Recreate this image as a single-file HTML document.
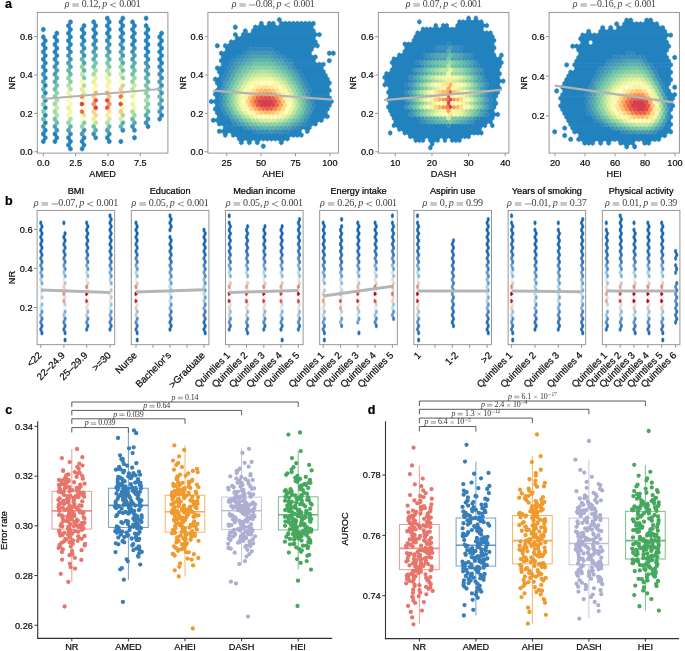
<!DOCTYPE html>
<html><head><meta charset="utf-8"><style>
html,body{margin:0;padding:0;background:#fff;width:685px;height:651px;overflow:hidden}
svg{display:block;will-change:transform}
.S{font-family:"Liberation Sans", sans-serif}
.R{font-family:"Liberation Serif", serif}
path[color]{fill:currentColor;stroke:currentColor;stroke-width:.5}
</style></head><body>
<svg width="685" height="651" viewBox="0 0 685 651">
<rect width="685" height="651" fill="#fff"/>
<path color="#2383be" d="M107.3 15.83l1.94 1.24v2.48l-1.94 1.24-1.94-1.24v-2.48zm15.52 0l1.94 1.24v2.48l-1.94 1.24-1.94-1.24v-2.48zm23.27 0l1.94 1.24v2.48l-1.94 1.24-1.94-1.24v-2.48zm-75.64 3.73l1.94 1.24v2.48l-1.94 1.24-1.94-1.24v-2.48zm23.28 0l1.94 1.24v2.48l-1.94 1.24-1.94-1.24v-2.48zm15.51 0l1.94 1.24v2.48l-1.94 1.24-1.94-1.24v-2.48zm11.64 0l1.94 1.24v2.48l-1.94 1.24-1.94-1.24v-2.48zm11.64 0l1.94 1.24v2.48l-1.94 1.24-1.94-1.24v-2.48zm-64.01 3.73l1.94 1.24v2.48l-1.94 1.24-1.94-1.24v-2.48zm15.52 0l1.94 1.24v2.48l-1.94 1.24-1.94-1.24v-2.48zm11.64 0l1.94 1.24v2.48l-1.94 1.24-1.94-1.24v-2.48zm11.63 0l1.94 1.24v2.48l-1.94 1.24-1.94-1.24v-2.48zm15.52 0l1.94 1.24v2.48l-1.94 1.24-1.94-1.24v-2.48zm11.64 0l1.94 1.24v2.48l-1.94 1.24-1.94-1.24v-2.48zm11.63 0l1.94 1.24v2.48l-1.94 1.24-1.94-1.24v-2.48zm-102.79 3.73l1.94 1.24v2.48l-1.94 1.24-1.94-1.24v-2.48zm27.15 0l1.94 1.24v2.48l-1.94 1.24-1.94-1.24v-2.48zm11.64 0l1.94 1.24v2.48l-1.94 1.24-1.94-1.24v-2.48zm11.64 0l1.94 1.24v2.48l-1.94 1.24-1.94-1.24v-2.48zm15.51 0l1.94 1.24v2.48l-1.94 1.24-1.94-1.24v-2.48zm11.64 0l1.94 1.24v2.48l-1.94 1.24-1.94-1.24v-2.48zm11.64 0l1.94 1.24v2.48l-1.94 1.24-1.94-1.24v-2.48zm15.51 0l1.94 1.24v2.48l-1.94 1.24-1.94-1.24v-2.48zm-91.15 3.73l1.94 1.24v2.48l-1.94 1.24-1.94-1.24v-2.48zm11.63 0l1.94 1.24v2.48l-1.94 1.24-1.94-1.24v-2.48zm15.52 0l1.94 1.24v2.48l-1.94 1.24-1.94-1.24v-2.48zm11.64 0l1.94 1.24v2.48l-1.94 1.24-1.94-1.24v-2.48zm11.63 0l1.94 1.24v2.48l-1.94 1.24-1.94-1.24v-2.48zm15.52 0l1.94 1.24v2.48l-1.94 1.24-1.94-1.24v-2.48zm11.64 0l1.94 1.24v2.48l-1.94 1.24-1.94-1.24v-2.48zm11.63 0l1.94 1.24v2.48l-1.94 1.24-1.94-1.24v-2.48zm15.52 0l1.94 1.24v2.48l-1.94 1.24-1.94-1.24v-2.48zm-118.31 3.73l1.94 1.24v2.48l-1.94 1.24-1.94-1.24v-2.48zm11.64 0l1.94 1.24v2.48l-1.94 1.24-1.94-1.24v-2.48zm15.51 0l1.94 1.24v2.48l-1.94 1.24-1.94-1.24v-2.48zm11.64 0l1.94 1.24v2.48l-1.94 1.24-1.94-1.24v-2.48zm11.64 0l1.94 1.24v2.48l-1.94 1.24-1.94-1.24v-2.48zm15.51 0l1.94 1.24v2.48l-1.94 1.24-1.94-1.24v-2.48zm23.28 0l1.94 1.24v2.48l-1.94 1.24-1.94-1.24v-2.48zm15.51 0l1.94 1.24v2.48l-1.94 1.24-1.94-1.24v-2.48zm11.64 0l1.94 1.24v2.48l-1.94 1.24-1.94-1.24v-2.48zm-114.43 3.73l1.94 1.24v2.48l-1.94 1.24-1.94-1.24v-2.48zm11.64 0l1.94 1.24v2.48l-1.94 1.24-1.94-1.24v-2.48zm11.63 0l1.94 1.24v2.48l-1.94 1.24-1.94-1.24v-2.48zm15.52 0l1.94 1.24v2.48l-1.94 1.24-1.94-1.24v-2.48zm38.79 0l1.94 1.24v2.48l-1.94 1.24-1.94-1.24v-2.48zm11.64 0l1.94 1.24v2.48l-1.94 1.24-1.94-1.24v-2.48zm11.63 0l1.94 1.24v2.48l-1.94 1.24-1.94-1.24v-2.48zm15.52 0l1.94 1.24v2.48l-1.94 1.24-1.94-1.24v-2.48zm-118.31 3.73l1.94 1.24v2.48l-1.94 1.24-1.94-1.24v-2.48zm11.64 0l1.94 1.24v2.48l-1.94 1.24-1.94-1.24v-2.48zm15.51 0l1.94 1.24v2.48l-1.94 1.24-1.94-1.24v-2.48zm62.07 0l1.94 1.24v2.48l-1.94 1.24-1.94-1.24v-2.48zm15.51 0l1.94 1.24v2.48l-1.94 1.24-1.94-1.24v-2.48zm11.64 0l1.94 1.24v2.48l-1.94 1.24-1.94-1.24v-2.48zm-114.43 3.73l1.94 1.24v2.48l-1.94 1.24-1.94-1.24v-2.48zm11.64 0l1.94 1.24v2.48l-1.94 1.24-1.94-1.24v-2.48zm89.21 0l1.94 1.24v2.48l-1.94 1.24-1.94-1.24v-2.48zm15.52 0l1.94 1.24v2.48l-1.94 1.24-1.94-1.24v-2.48zm-118.31 3.73l1.94 1.24v2.48l-1.94 1.24-1.94-1.24v-2.48zm11.64 0l1.94 1.24v2.48l-1.94 1.24-1.94-1.24v-2.48zm93.09 0l1.94 1.24v2.48l-1.94 1.24-1.94-1.24v-2.48zm11.64 0l1.94 1.24v2.48l-1.94 1.24-1.94-1.24v-2.48zm-114.43 3.73l1.94 1.24v2.48l-1.94 1.24-1.94-1.24v-2.48zm11.64 0l1.94 1.24v2.48l-1.94 1.24-1.94-1.24v-2.48zm104.73 0l1.94 1.24v2.48l-1.94 1.24-1.94-1.24v-2.48zm-118.31 3.73l1.94 1.24v2.48l-1.94 1.24-1.94-1.24v-2.48zm116.37 0l1.94 1.24v2.48l-1.94 1.24-1.94-1.24v-2.48zm-114.43 3.73l1.94 1.24v2.48l-1.94 1.24-1.94-1.24v-2.48zm116.37 0l1.94 1.24v2.48l-1.94 1.24-1.94-1.24v-2.48zm-116.37 7.46l1.94 1.24v2.48l-1.94 1.24-1.94-1.24v-2.48zm116.37 0l1.94 1.24v2.48l-1.94 1.24-1.94-1.24v-2.48zm-116.37 7.46l1.94 1.24v2.48l-1.94 1.24-1.94-1.24v-2.48zm0 7.46l1.94 1.24v2.48l-1.94 1.24-1.94-1.24v-2.48zm0 7.46l1.94 1.24v2.48l-1.94 1.24-1.94-1.24v-2.48zm0 7.46l1.94 1.24v2.48l-1.94 1.24-1.94-1.24v-2.48zm0 7.46l1.94 1.24v2.48l-1.94 1.24-1.94-1.24v-2.48zm0 7.46l1.94 1.24v2.48l-1.94 1.24-1.94-1.24v-2.48zm116.37 0l1.94 1.24v2.48l-1.94 1.24-1.94-1.24v-2.48zm-116.37 7.46l1.94 1.24v2.48l-1.94 1.24-1.94-1.24v-2.48zm102.79 3.73l1.94 1.24v2.48l-1.94 1.24-1.94-1.24v-2.48zm-102.79 3.73l1.94 1.24v2.48l-1.94 1.24-1.94-1.24v-2.48zm-1.94 3.73l1.94 1.24v2.48l-1.94 1.24-1.94-1.24v-2.48zm11.64 0l1.94 1.24v2.48l-1.94 1.24-1.94-1.24v-2.48zm-9.7 3.73l1.94 1.24v2.48l-1.94 1.24-1.94-1.24v-2.48zm11.64 0l1.94 1.24v2.48l-1.94 1.24-1.94-1.24v-2.48zm11.63 0l1.94 1.24v2.48l-1.94 1.24-1.94-1.24v-2.48zm15.52 0l1.94 1.24v2.48l-1.94 1.24-1.94-1.24v-2.48zm23.27 0l1.94 1.24v2.48l-1.94 1.24-1.94-1.24v-2.48zm27.16 0l1.94 1.24v2.48l-1.94 1.24-1.94-1.24v-2.48zm-91.16 3.73l1.94 1.24v2.48l-1.94 1.24-1.94-1.24v-2.48zm11.64 0l1.94 1.24v2.48l-1.94 1.24-1.94-1.24v-2.48zm15.51 0l1.94 1.24v2.48l-1.94 1.24-1.94-1.24v-2.48zm11.64 0l1.94 1.24v2.48l-1.94 1.24-1.94-1.24v-2.48zm27.15 0l1.94 1.24v2.48l-1.94 1.24-1.94-1.24v-2.48zm11.64 0l1.94 1.24v2.48l-1.94 1.24-1.94-1.24v-2.48zm-52.37 3.73l1.94 1.24v2.48l-1.94 1.24-1.94-1.24v-2.48zm15.52 0l1.94 1.24v2.48l-1.94 1.24-1.94-1.24v-2.48zm-13.58 3.73l1.94 1.24v2.48l-1.94 1.24-1.94-1.24v-2.48zm11.64 0l1.94 1.24v2.48l-1.94 1.24-1.94-1.24v-2.48z"/>
<path color="#3089bc" d="M120.88 34.48l1.94 1.24v2.48l-1.94 1.24-1.94-1.24v-2.48zm-25.21 3.73l1.94 1.24v2.48l-1.94 1.24-1.94-1.24v-2.48zm11.63 0l1.94 1.24v2.48l-1.94 1.24-1.94-1.24v-2.48zm-13.57 3.73l1.94 1.24v2.48l-1.94 1.24-1.94-1.24v-2.48zm-25.22 3.73l1.94 1.24v2.48l-1.94 1.24-1.94-1.24v-2.48zm15.52 0l1.94 1.24v2.48l-1.94 1.24-1.94-1.24v-2.48zm38.79 0l1.94 1.24v2.48l-1.94 1.24-1.94-1.24v-2.48zm-52.37 3.73l1.94 1.24v2.48l-1.94 1.24-1.94-1.24v-2.48zm75.64 3.73l1.94 1.24v2.48l-1.94 1.24-1.94-1.24v-2.48zm-91.15 3.73l1.94 1.24v2.48l-1.94 1.24-1.94-1.24v-2.48zm93.09 0l1.94 1.24v2.48l-1.94 1.24-1.94-1.24v-2.48zm-104.73 7.46l1.94 1.24v2.48l-1.94 1.24-1.94-1.24v-2.48zm116.37 0l1.94 1.24v2.48l-1.94 1.24-1.94-1.24v-2.48zm1.94 11.19l1.94 1.24v2.48l-1.94 1.24-1.94-1.24v-2.48zm-1.94 41.03l1.94 1.24v2.48l-1.94 1.24-1.94-1.24v-2.48zm-36.85 11.19l1.94 1.24v2.48l-1.94 1.24-1.94-1.24v-2.48zm11.64 0l1.94 1.24v2.48l-1.94 1.24-1.94-1.24v-2.48zm-64.01 3.73l1.94 1.24v2.48l-1.94 1.24-1.94-1.24v-2.48zm38.79 0l1.94 1.24v2.48l-1.94 1.24-1.94-1.24v-2.48zm-13.57 3.73l1.94 1.24v2.48l-1.94 1.24-1.94-1.24v-2.48z"/>
<path color="#3a8fb9" d="M82.09 41.94l1.94 1.24v2.48l-1.94 1.24-1.94-1.24v-2.48zm27.15 0l1.94 1.24v2.48l-1.94 1.24-1.94-1.24v-2.48zm25.22 3.73l1.94 1.24v2.48l-1.94 1.24-1.94-1.24v-2.48zm-1.94 3.73l1.94 1.24v2.48l-1.94 1.24-1.94-1.24v-2.48zm-48.49 3.73l1.94 1.24v2.48l-1.94 1.24-1.94-1.24v-2.48zm-27.15 7.46l1.94 1.24v2.48l-1.94 1.24-1.94-1.24v-2.48zm-1.94 3.73l1.94 1.24v2.48l-1.94 1.24-1.94-1.24v-2.48zm-11.64 7.46l1.94 1.24v2.48l-1.94 1.24-1.94-1.24v-2.48zm118.31 11.19l1.94 1.24v2.48l-1.94 1.24-1.94-1.24v-2.48zm0 22.38l1.94 1.24v2.48l-1.94 1.24-1.94-1.24v-2.48zm-15.52 14.92l1.94 1.24v2.48l-1.94 1.24-1.94-1.24v-2.48zm-13.57 3.73l1.94 1.24v2.48l-1.94 1.24-1.94-1.24v-2.48zm-38.79 7.46l1.94 1.24v2.48l-1.94 1.24-1.94-1.24v-2.48z"/>
<path color="#4295b7" d="M120.88 41.94l1.94 1.24v2.48l-1.94 1.24-1.94-1.24v-2.48zm-25.21 3.73l1.94 1.24v2.48l-1.94 1.24-1.94-1.24v-2.48zm-27.16 7.46l1.94 1.24v2.48l-1.94 1.24-1.94-1.24v-2.48zm54.31 0l1.94 1.24v2.48l-1.94 1.24-1.94-1.24v-2.48zm-52.37 3.73l1.94 1.24v2.48l-1.94 1.24-1.94-1.24v-2.48zm75.64 3.73l1.94 1.24v2.48l-1.94 1.24-1.94-1.24v-2.48zm1.94 3.73l1.94 1.24v2.48l-1.94 1.24-1.94-1.24v-2.48zm11.64 7.46l1.94 1.24v2.48l-1.94 1.24-1.94-1.24v-2.48zm1.94 18.65l1.94 1.24v2.48l-1.94 1.24-1.94-1.24v-2.48zm-13.58 26.11l1.94 1.24v2.48l-1.94 1.24-1.94-1.24v-2.48zm-104.73 7.46l1.94 1.24v2.48l-1.94 1.24-1.94-1.24v-2.48zm13.58 3.73l1.94 1.24v2.48l-1.94 1.24-1.94-1.24v-2.48zm27.15 0l1.94 1.24v2.48l-1.94 1.24-1.94-1.24v-2.48z"/>
<path color="#499cb5" d="M107.3 45.67l1.94 1.24v2.48l-1.94 1.24-1.94-1.24v-2.48zm-25.21 3.73l1.94 1.24v2.48l-1.94 1.24-1.94-1.24v-2.48zm11.64 0l1.94 1.24v2.48l-1.94 1.24-1.94-1.24v-2.48zm15.51 0l1.94 1.24v2.48l-1.94 1.24-1.94-1.24v-2.48zm25.22 3.73l1.94 1.24v2.48l-1.94 1.24-1.94-1.24v-2.48zm-1.94 3.73l1.94 1.24v2.48l-1.94 1.24-1.94-1.24v-2.48zm-75.64 11.19l1.94 1.24v2.48l-1.94 1.24-1.94-1.24v-2.48zm-1.94 3.73l1.94 1.24v2.48l-1.94 1.24-1.94-1.24v-2.48zm-11.64 7.46l1.94 1.24v2.48l-1.94 1.24-1.94-1.24v-2.48zm118.31 18.65l1.94 1.24v2.48l-1.94 1.24-1.94-1.24v-2.48zm-1.94 11.19l1.94 1.24v2.48l-1.94 1.24-1.94-1.24v-2.48zm-104.73 14.92l1.94 1.24v2.48l-1.94 1.24-1.94-1.24v-2.48zm27.15 7.46l1.94 1.24v2.48l-1.94 1.24-1.94-1.24v-2.48z"/>
<path color="#4fa2b2" d="M68.51 60.59l1.94 1.24v2.48l-1.94 1.24-1.94-1.24v-2.48zm15.52 0l1.94 1.24v2.48l-1.94 1.24-1.94-1.24v-2.48zm-13.58 3.73l1.94 1.24v2.48l-1.94 1.24-1.94-1.24v-2.48zm75.64 3.73l1.94 1.24v2.48l-1.94 1.24-1.94-1.24v-2.48zm1.94 3.73l1.94 1.24v2.48l-1.94 1.24-1.94-1.24v-2.48zm11.64 7.46l1.94 1.24v2.48l-1.94 1.24-1.94-1.24v-2.48zm-91.16 48.49l1.94 1.24v2.48l-1.94 1.24-1.94-1.24v-2.48zm38.79 0l1.94 1.24v2.48l-1.94 1.24-1.94-1.24v-2.48z"/>
<path color="#55a8b0" d="M120.88 49.4l1.94 1.24v2.48l-1.94 1.24-1.94-1.24v-2.48zm1.94 11.19l1.94 1.24v2.48l-1.94 1.24-1.94-1.24v-2.48zm11.64 59.68l1.94 1.24v2.48l-1.94 1.24-1.94-1.24v-2.48z"/>
<path color="#5aafad" d="M95.67 53.13l1.94 1.24v2.48l-1.94 1.24-1.94-1.24v-2.48zm11.63 0l1.94 1.24v2.48l-1.94 1.24-1.94-1.24v-2.48zm-13.57 3.73l1.94 1.24v2.48l-1.94 1.24-1.94-1.24v-2.48zm40.73 3.73l1.94 1.24v2.48l-1.94 1.24-1.94-1.24v-2.48zm-1.94 3.73l1.94 1.24v2.48l-1.94 1.24-1.94-1.24v-2.48zm-75.64 11.19l1.94 1.24v2.48l-1.94 1.24-1.94-1.24v-2.48zm-1.94 3.73l1.94 1.24v2.48l-1.94 1.24-1.94-1.24v-2.48zm-11.64 7.46l1.94 1.24v2.48l-1.94 1.24-1.94-1.24v-2.48zm116.37 0l1.94 1.24v2.48l-1.94 1.24-1.94-1.24v-2.48zm-13.58 26.11l1.94 1.24v2.48l-1.94 1.24-1.94-1.24v-2.48zm-23.27 7.46l1.94 1.24v2.48l-1.94 1.24-1.94-1.24v-2.48zm-27.15 7.46l1.94 1.24v2.48l-1.94 1.24-1.94-1.24v-2.48z"/>
<path color="#5eb5ab" d="M82.09 56.86l1.94 1.24v2.48l-1.94 1.24-1.94-1.24v-2.48zm27.15 0l1.94 1.24v2.48l-1.94 1.24-1.94-1.24v-2.48zm-25.21 11.19l1.94 1.24v2.48l-1.94 1.24-1.94-1.24v-2.48zm62.06 7.46l1.94 1.24v2.48l-1.94 1.24-1.94-1.24v-2.48zm1.94 3.73l1.94 1.24v2.48l-1.94 1.24-1.94-1.24v-2.48zm11.64 22.38l1.94 1.24v2.48l-1.94 1.24-1.94-1.24v-2.48zm-11.64 7.46l1.94 1.24v2.48l-1.94 1.24-1.94-1.24v-2.48zm-77.58 14.92l1.94 1.24v2.48l-1.94 1.24-1.94-1.24v-2.48z"/>
<path color="#62bba8" d="M68.51 68.05l1.94 1.24v2.48l-1.94 1.24-1.94-1.24v-2.48zm1.94 3.73l1.94 1.24v2.48l-1.94 1.24-1.94-1.24v-2.48zm89.22 22.38l1.94 1.24v2.48l-1.94 1.24-1.94-1.24v-2.48zm-116.37 22.38l1.94 1.24v2.48l-1.94 1.24-1.94-1.24v-2.48zm89.22 0l1.94 1.24v2.48l-1.94 1.24-1.94-1.24v-2.48zm-23.28 7.46l1.94 1.24v2.48l-1.94 1.24-1.94-1.24v-2.48zm11.64 0l1.94 1.24v2.48l-1.94 1.24-1.94-1.24v-2.48z"/>
<path color="#66c2a5" d="M120.88 56.86l1.94 1.24v2.48l-1.94 1.24-1.94-1.24v-2.48zm1.94 11.19l1.94 1.24v2.48l-1.94 1.24-1.94-1.24v-2.48zm-67.88 18.65l1.94 1.24v2.48l-1.94 1.24-1.94-1.24v-2.48zm-11.64 7.46l1.94 1.24v2.48l-1.94 1.24-1.94-1.24v-2.48zm13.58 26.11l1.94 1.24v2.48l-1.94 1.24-1.94-1.24v-2.48zm36.85 3.73l1.94 1.24v2.48l-1.94 1.24-1.94-1.24v-2.48z"/>
<path color="#6ec5a5" d="M134.46 68.05l1.94 1.24v2.48l-1.94 1.24-1.94-1.24v-2.48zm-1.94 3.73l1.94 1.24v2.48l-1.94 1.24-1.94-1.24v-2.48zm-75.64 11.19l1.94 1.24v2.48l-1.94 1.24-1.94-1.24v-2.48zm91.15 3.73l1.94 1.24v2.48l-1.94 1.24-1.94-1.24v-2.48zm-93.09 29.84l1.94 1.24v2.48l-1.94 1.24-1.94-1.24v-2.48z"/>
<path color="#76c7a5" d="M95.67 60.59l1.94 1.24v2.48l-1.94 1.24-1.94-1.24v-2.48zm-1.94 3.73l1.94 1.24v2.48l-1.94 1.24-1.94-1.24v-2.48zm52.36 18.65l1.94 1.24v2.48l-1.94 1.24-1.94-1.24v-2.48z"/>
<path color="#7dcaa5" d="M107.3 60.59l1.94 1.24v2.48l-1.94 1.24-1.94-1.24v-2.48zm1.94 3.73l1.94 1.24v2.48l-1.94 1.24-1.94-1.24v-2.48zm-25.21 11.19l1.94 1.24v2.48l-1.94 1.24-1.94-1.24v-2.48zm-40.73 26.11l1.94 1.24v2.48l-1.94 1.24-1.94-1.24v-2.48zm40.73 18.65l1.94 1.24v2.48l-1.94 1.24-1.94-1.24v-2.48z"/>
<path color="#84cda5" d="M82.09 64.32l1.94 1.24v2.48l-1.94 1.24-1.94-1.24v-2.48zm-11.64 14.92l1.94 1.24v2.48l-1.94 1.24-1.94-1.24v-2.48zm-15.51 14.92l1.94 1.24v2.48l-1.94 1.24-1.94-1.24v-2.48zm93.09 0l1.94 1.24v2.48l-1.94 1.24-1.94-1.24v-2.48zm0 7.46l1.94 1.24v2.48l-1.94 1.24-1.94-1.24v-2.48zm-104.73 7.46l1.94 1.24v2.48l-1.94 1.24-1.94-1.24v-2.48z"/>
<path color="#8bcfa5" d="M68.51 75.51l1.94 1.24v2.48l-1.94 1.24-1.94-1.24v-2.48zm54.31 0l1.94 1.24v2.48l-1.94 1.24-1.94-1.24v-2.48zm23.27 29.84l1.94 1.24v2.48l-1.94 1.24-1.94-1.24v-2.48z"/>
<path color="#91d2a5" d="M132.52 79.24l1.94 1.24v2.48l-1.94 1.24-1.94-1.24v-2.48zm-75.64 11.19l1.94 1.24v2.48l-1.94 1.24-1.94-1.24v-2.48zm89.21 0l1.94 1.24v2.48l-1.94 1.24-1.94-1.24v-2.48zm-64 33.57l1.94 1.24v2.48l-1.94 1.24-1.94-1.24v-2.48z"/>
<path color="#98d5a4" d="M120.88 64.32l1.94 1.24v2.48l-1.94 1.24-1.94-1.24v-2.48zm13.58 11.19l1.94 1.24v2.48l-1.94 1.24-1.94-1.24v-2.48zm-65.95 44.76l1.94 1.24v2.48l-1.94 1.24-1.94-1.24v-2.48z"/>
<path color="#9ed8a4" d="M54.94 101.62l1.94 1.24v2.48l-1.94 1.24-1.94-1.24v-2.48zm0 7.46l1.94 1.24v2.48l-1.94 1.24-1.94-1.24v-2.48zm79.52 3.73l1.94 1.24v2.48l-1.94 1.24-1.94-1.24v-2.48z"/>
<path color="#a5daa4" d="M93.73 71.78l1.94 1.24v2.48l-1.94 1.24-1.94-1.24v-2.48zm52.36 26.11l1.94 1.24v2.48l-1.94 1.24-1.94-1.24v-2.48zm-23.27 14.92l1.94 1.24v2.48l-1.94 1.24-1.94-1.24v-2.48z"/>
<path color="#abdda4" d="M95.67 68.05l1.94 1.24v2.48l-1.94 1.24-1.94-1.24v-2.48zm-11.64 14.92l1.94 1.24v2.48l-1.94 1.24-1.94-1.24v-2.48zm48.49 26.11l1.94 1.24v2.48l-1.94 1.24-1.94-1.24v-2.48zm-75.64 3.73l1.94 1.24v2.48l-1.94 1.24-1.94-1.24v-2.48zm13.57 3.73l1.94 1.24v2.48l-1.94 1.24-1.94-1.24v-2.48zm36.85 3.73l1.94 1.24v2.48l-1.94 1.24-1.94-1.24v-2.48z"/>
<path color="#b1dfa3" d="M107.3 68.05l1.94 1.24v2.48l-1.94 1.24-1.94-1.24v-2.48zm1.94 3.73l1.94 1.24v2.48l-1.94 1.24-1.94-1.24v-2.48zm-38.79 14.92l1.94 1.24v2.48l-1.94 1.24-1.94-1.24v-2.48zm-13.57 11.19l1.94 1.24v2.48l-1.94 1.24-1.94-1.24v-2.48z"/>
<path color="#b7e2a2" d="M68.51 82.97l1.94 1.24v2.48l-1.94 1.24-1.94-1.24v-2.48zm54.31 0l1.94 1.24v2.48l-1.94 1.24-1.94-1.24v-2.48z"/>
<path color="#bde4a1" d="M82.09 71.78l1.94 1.24v2.48l-1.94 1.24-1.94-1.24v-2.48zm50.43 14.92l1.94 1.24v2.48l-1.94 1.24-1.94-1.24v-2.48zm-36.85 33.57l1.94 1.24v2.48l-1.94 1.24-1.94-1.24v-2.48z"/>
<path color="#c9e99e" d="M134.46 82.97l1.94 1.24v2.48l-1.94 1.24-1.94-1.24v-2.48zm-77.58 22.38l1.94 1.24v2.48l-1.94 1.24-1.94-1.24v-2.48zm52.36 11.19l1.94 1.24v2.48l-1.94 1.24-1.94-1.24v-2.48z"/>
<path color="#cfeb9d" d="M120.88 71.78l1.94 1.24v2.48l-1.94 1.24-1.94-1.24v-2.48z"/>
<path color="#d53e4f" d="M82.09 101.62l1.94 1.24v2.48l-1.94 1.24-1.94-1.24v-2.48z"/>
<path color="#d5ee9c" d="M84.03 112.81l1.94 1.24v2.48l-1.94 1.24-1.94-1.24v-2.48zm36.85 3.73l1.94 1.24v2.48l-1.94 1.24-1.94-1.24v-2.48z"/>
<path color="#d8434e" d="M95.67 105.35l1.94 1.24v2.48l-1.94 1.24-1.94-1.24v-2.48z"/>
<path color="#db484d" d="M107.3 97.89l1.94 1.24v2.48l-1.94 1.24-1.94-1.24v-2.48z"/>
<path color="#dbf09b" d="M84.03 90.43l1.94 1.24v2.48l-1.94 1.24-1.94-1.24v-2.48z"/>
<path color="#de4d4c" d="M120.88 101.62l1.94 1.24v2.48l-1.94 1.24-1.94-1.24v-2.48z"/>
<path color="#e0f399" d="M93.73 79.24l1.94 1.24v2.48l-1.94 1.24-1.94-1.24v-2.48zm-23.28 14.92l1.94 1.24v2.48l-1.94 1.24-1.94-1.24v-2.48zm62.07 0l1.94 1.24v2.48l-1.94 1.24-1.94-1.24v-2.48zm-38.79 22.38l1.94 1.24v2.48l-1.94 1.24-1.94-1.24v-2.48z"/>
<path color="#e2524b" d="M95.67 97.89l1.94 1.24v2.48l-1.94 1.24-1.94-1.24v-2.48zm11.63 7.46l1.94 1.24v2.48l-1.94 1.24-1.94-1.24v-2.48z"/>
<path color="#e6f598" d="M95.67 75.51l1.94 1.24v2.48l-1.94 1.24-1.94-1.24v-2.48zm27.15 14.92l1.94 1.24v2.48l-1.94 1.24-1.94-1.24v-2.48z"/>
<path color="#e9f69c" d="M109.24 79.24l1.94 1.24v2.48l-1.94 1.24-1.94-1.24v-2.48zm23.28 22.38l1.94 1.24v2.48l-1.94 1.24-1.94-1.24v-2.48z"/>
<path color="#ebf7a0" d="M107.3 75.51l1.94 1.24v2.48l-1.94 1.24-1.94-1.24v-2.48zm-38.79 14.92l1.94 1.24v2.48l-1.94 1.24-1.94-1.24v-2.48z"/>
<path color="#eef8a4" d="M134.46 90.43l1.94 1.24v2.48l-1.94 1.24-1.94-1.24v-2.48z"/>
<path color="#f0f9a8" d="M122.82 105.35l1.94 1.24v2.48l-1.94 1.24-1.94-1.24v-2.48zm11.64 0l1.94 1.24v2.48l-1.94 1.24-1.94-1.24v-2.48zm-64.01 3.73l1.94 1.24v2.48l-1.94 1.24-1.94-1.24v-2.48z"/>
<path color="#f16944" d="M82.09 109.08l1.94 1.24v2.48l-1.94 1.24-1.94-1.24v-2.48z"/>
<path color="#f3faac" d="M82.09 79.24l1.94 1.24v2.48l-1.94 1.24-1.94-1.24v-2.48zm-13.58 33.57l1.94 1.24v2.48l-1.94 1.24-1.94-1.24v-2.48z"/>
<path color="#f57446" d="M120.88 94.16l1.94 1.24v2.48l-1.94 1.24-1.94-1.24v-2.48z"/>
<path color="#f5fbaf" d="M84.03 97.89l1.94 1.24v2.48l-1.94 1.24-1.94-1.24v-2.48zm-13.58 3.73l1.94 1.24v2.48l-1.94 1.24-1.94-1.24v-2.48z"/>
<path color="#f8884f" d="M82.09 94.16l1.94 1.24v2.48l-1.94 1.24-1.94-1.24v-2.48z"/>
<path color="#f8fcb3" d="M122.82 97.89l1.94 1.24v2.48l-1.94 1.24-1.94-1.24v-2.48z"/>
<path color="#f98f52" d="M93.73 101.62l1.94 1.24v2.48l-1.94 1.24-1.94-1.24v-2.48zm15.51 0l1.94 1.24v2.48l-1.94 1.24-1.94-1.24v-2.48z"/>
<path color="#fb9b58" d="M107.3 90.43l1.94 1.24v2.48l-1.94 1.24-1.94-1.24v-2.48z"/>
<path color="#fdae61" d="M95.67 90.43l1.94 1.24v2.48l-1.94 1.24-1.94-1.24v-2.48z"/>
<path color="#fdfebb" d="M120.88 79.24l1.94 1.24v2.48l-1.94 1.24-1.94-1.24v-2.48z"/>
<path color="#fec272" d="M109.24 94.16l1.94 1.24v2.48l-1.94 1.24-1.94-1.24v-2.48z"/>
<path color="#fec776" d="M120.88 109.08l1.94 1.24v2.48l-1.94 1.24-1.94-1.24v-2.48z"/>
<path color="#fecc7a" d="M120.88 86.7l1.94 1.24v2.48l-1.94 1.24-1.94-1.24v-2.48zm-27.15 7.46l1.94 1.24v2.48l-1.94 1.24-1.94-1.24v-2.48z"/>
<path color="#fed17e" d="M93.73 109.08l1.94 1.24v2.48l-1.94 1.24-1.94-1.24v-2.48z"/>
<path color="#fed682" d="M95.67 112.81l1.94 1.24v2.48l-1.94 1.24-1.94-1.24v-2.48z"/>
<path color="#fee08b" d="M82.09 86.7l1.94 1.24v2.48l-1.94 1.24-1.94-1.24v-2.48zm27.15 22.38l1.94 1.24v2.48l-1.94 1.24-1.94-1.24v-2.48z"/>
<path color="#ffe99b" d="M68.51 105.35l1.94 1.24v2.48l-1.94 1.24-1.94-1.24v-2.48zm38.79 7.46l1.94 1.24v2.48l-1.94 1.24-1.94-1.24v-2.48z"/>
<path color="#ffeca0" d="M107.3 82.97l1.94 1.24v2.48l-1.94 1.24-1.94-1.24v-2.48z"/>
<path color="#fff3aa" d="M95.67 82.97l1.94 1.24v2.48l-1.94 1.24-1.94-1.24v-2.48z"/>
<path color="#fff6af" d="M109.24 86.7l1.94 1.24v2.48l-1.94 1.24-1.94-1.24v-2.48z"/>
<path color="#fffcba" d="M93.73 86.7l1.94 1.24v2.48l-1.94 1.24-1.94-1.24v-2.48zm-25.22 11.19l1.94 1.24v2.48l-1.94 1.24-1.94-1.24v-2.48zm13.58 18.65l1.94 1.24v2.48l-1.94 1.24-1.94-1.24v-2.48z"/>
<path color="#ffffbf" d="M134.46 97.89l1.94 1.24v2.48l-1.94 1.24-1.94-1.24v-2.48zm-50.43 7.46l1.94 1.24v2.48l-1.94 1.24-1.94-1.24v-2.48z"/>
<path color="#2383be" d="M279.3 17.27l2 1.23v2.47l-2 1.23-2-1.23v-2.47zm-18 3.72l2 1.23v2.47l-2 1.23-2-1.23v-2.47zm8 0l2 1.23v2.47l-2 1.23-2-1.23v-2.47zm4 0l2 1.23v2.47l-2 1.23-2-1.23v-2.47zm8 0l2 1.23v2.47l-2 1.23-2-1.23v-2.47zm4 0l2 1.23v2.47l-2 1.23-2-1.23v-2.47zm4 0l2 1.23v2.47l-2 1.23-2-1.23v-2.47zm4 0l2 1.23v2.47l-2 1.23-2-1.23v-2.47zm4 0l2 1.23v2.47l-2 1.23-2-1.23v-2.47zm4 0l2 1.23v2.47l-2 1.23-2-1.23v-2.47zm4 0l2 1.23v2.47l-2 1.23-2-1.23v-2.47zm4 0l2 1.23v2.47l-2 1.23-2-1.23v-2.47zm4 0l2 1.23v2.47l-2 1.23-2-1.23v-2.47zm-78 3.72l2 1.23v2.47l-2 1.23-2-1.23v-2.47zm20 0l2 1.23v2.47l-2 1.23-2-1.23v-2.47zm4 0l2 1.23v2.47l-2 1.23-2-1.23v-2.47zm4 0l2 1.23v2.47l-2 1.23-2-1.23v-2.47zm4 0l2 1.23v2.47l-2 1.23-2-1.23v-2.47zm4 0l2 1.23v2.47l-2 1.23-2-1.23v-2.47zm4 0l2 1.23v2.47l-2 1.23-2-1.23v-2.47zm4 0l2 1.23v2.47l-2 1.23-2-1.23v-2.47zm4 0l2 1.23v2.47l-2 1.23-2-1.23v-2.47zm4 0l2 1.23v2.47l-2 1.23-2-1.23v-2.47zm4 0l2 1.23v2.47l-2 1.23-2-1.23v-2.47zm4 0l2 1.23v2.47l-2 1.23-2-1.23v-2.47zm4 0l2 1.23v2.47l-2 1.23-2-1.23v-2.47zm4 0l2 1.23v2.47l-2 1.23-2-1.23v-2.47zm4 0l2 1.23v2.47l-2 1.23-2-1.23v-2.47zm4 0l2 1.23v2.47l-2 1.23-2-1.23v-2.47zm-66 3.72l2 1.23v2.47l-2 1.23-2-1.23v-2.47zm8 0l2 1.23v2.47l-2 1.23-2-1.23v-2.47zm4 0l2 1.23v2.47l-2 1.23-2-1.23v-2.47zm4 0l2 1.23v2.47l-2 1.23-2-1.23v-2.47zm4 0l2 1.23v2.47l-2 1.23-2-1.23v-2.47zm4 0l2 1.23v2.47l-2 1.23-2-1.23v-2.47zm4 0l2 1.23v2.47l-2 1.23-2-1.23v-2.47zm4 0l2 1.23v2.47l-2 1.23-2-1.23v-2.47zm4 0l2 1.23v2.47l-2 1.23-2-1.23v-2.47zm4 0l2 1.23v2.47l-2 1.23-2-1.23v-2.47zm4 0l2 1.23v2.47l-2 1.23-2-1.23v-2.47zm4 0l2 1.23v2.47l-2 1.23-2-1.23v-2.47zm4 0l2 1.23v2.47l-2 1.23-2-1.23v-2.47zm4 0l2 1.23v2.47l-2 1.23-2-1.23v-2.47zm4 0l2 1.23v2.47l-2 1.23-2-1.23v-2.47zm4 0l2 1.23v2.47l-2 1.23-2-1.23v-2.47zm4 0l2 1.23v2.47l-2 1.23-2-1.23v-2.47zm-78 3.72l2 1.23v2.47l-2 1.23-2-1.23v-2.47zm8 0l2 1.23v2.47l-2 1.23-2-1.23v-2.47zm4 0l2 1.23v2.47l-2 1.23-2-1.23v-2.47zm4 0l2 1.23v2.47l-2 1.23-2-1.23v-2.47zm4 0l2 1.23v2.47l-2 1.23-2-1.23v-2.47zm4 0l2 1.23v2.47l-2 1.23-2-1.23v-2.47zm4 0l2 1.23v2.47l-2 1.23-2-1.23v-2.47zm4 0l2 1.23v2.47l-2 1.23-2-1.23v-2.47zm4 0l2 1.23v2.47l-2 1.23-2-1.23v-2.47zm4 0l2 1.23v2.47l-2 1.23-2-1.23v-2.47zm4 0l2 1.23v2.47l-2 1.23-2-1.23v-2.47zm4 0l2 1.23v2.47l-2 1.23-2-1.23v-2.47zm4 0l2 1.23v2.47l-2 1.23-2-1.23v-2.47zm4 0l2 1.23v2.47l-2 1.23-2-1.23v-2.47zm4 0l2 1.23v2.47l-2 1.23-2-1.23v-2.47zm4 0l2 1.23v2.47l-2 1.23-2-1.23v-2.47zm4 0l2 1.23v2.47l-2 1.23-2-1.23v-2.47zm4 0l2 1.23v2.47l-2 1.23-2-1.23v-2.47zm4 0l2 1.23v2.47l-2 1.23-2-1.23v-2.47zm4 0l2 1.23v2.47l-2 1.23-2-1.23v-2.47zm4 0l2 1.23v2.47l-2 1.23-2-1.23v-2.47zm-82 3.72l2 1.23v2.47l-2 1.23-2-1.23v-2.47zm4 0l2 1.23v2.47l-2 1.23-2-1.23v-2.47zm4 0l2 1.23v2.47l-2 1.23-2-1.23v-2.47zm4 0l2 1.23v2.47l-2 1.23-2-1.23v-2.47zm4 0l2 1.23v2.47l-2 1.23-2-1.23v-2.47zm4 0l2 1.23v2.47l-2 1.23-2-1.23v-2.47zm4 0l2 1.23v2.47l-2 1.23-2-1.23v-2.47zm4 0l2 1.23v2.47l-2 1.23-2-1.23v-2.47zm4 0l2 1.23v2.47l-2 1.23-2-1.23v-2.47zm4 0l2 1.23v2.47l-2 1.23-2-1.23v-2.47zm4 0l2 1.23v2.47l-2 1.23-2-1.23v-2.47zm4 0l2 1.23v2.47l-2 1.23-2-1.23v-2.47zm4 0l2 1.23v2.47l-2 1.23-2-1.23v-2.47zm4 0l2 1.23v2.47l-2 1.23-2-1.23v-2.47zm4 0l2 1.23v2.47l-2 1.23-2-1.23v-2.47zm4 0l2 1.23v2.47l-2 1.23-2-1.23v-2.47zm4 0l2 1.23v2.47l-2 1.23-2-1.23v-2.47zm4 0l2 1.23v2.47l-2 1.23-2-1.23v-2.47zm4 0l2 1.23v2.47l-2 1.23-2-1.23v-2.47zm4 0l2 1.23v2.47l-2 1.23-2-1.23v-2.47zm-82 3.72l2 1.23v2.47l-2 1.23-2-1.23v-2.47zm4 0l2 1.23v2.47l-2 1.23-2-1.23v-2.47zm4 0l2 1.23v2.47l-2 1.23-2-1.23v-2.47zm4 0l2 1.23v2.47l-2 1.23-2-1.23v-2.47zm4 0l2 1.23v2.47l-2 1.23-2-1.23v-2.47zm4 0l2 1.23v2.47l-2 1.23-2-1.23v-2.47zm4 0l2 1.23v2.47l-2 1.23-2-1.23v-2.47zm4 0l2 1.23v2.47l-2 1.23-2-1.23v-2.47zm4 0l2 1.23v2.47l-2 1.23-2-1.23v-2.47zm4 0l2 1.23v2.47l-2 1.23-2-1.23v-2.47zm4 0l2 1.23v2.47l-2 1.23-2-1.23v-2.47zm4 0l2 1.23v2.47l-2 1.23-2-1.23v-2.47zm4 0l2 1.23v2.47l-2 1.23-2-1.23v-2.47zm4 0l2 1.23v2.47l-2 1.23-2-1.23v-2.47zm4 0l2 1.23v2.47l-2 1.23-2-1.23v-2.47zm4 0l2 1.23v2.47l-2 1.23-2-1.23v-2.47zm4 0l2 1.23v2.47l-2 1.23-2-1.23v-2.47zm4 0l2 1.23v2.47l-2 1.23-2-1.23v-2.47zm4 0l2 1.23v2.47l-2 1.23-2-1.23v-2.47zm4 0l2 1.23v2.47l-2 1.23-2-1.23v-2.47zm4 0l2 1.23v2.47l-2 1.23-2-1.23v-2.47zm4 0l2 1.23v2.47l-2 1.23-2-1.23v-2.47zm-98 3.72l2 1.23v2.47l-2 1.23-2-1.23v-2.47zm8 0l2 1.23v2.47l-2 1.23-2-1.23v-2.47zm4 0l2 1.23v2.47l-2 1.23-2-1.23v-2.47zm4 0l2 1.23v2.47l-2 1.23-2-1.23v-2.47zm4 0l2 1.23v2.47l-2 1.23-2-1.23v-2.47zm4 0l2 1.23v2.47l-2 1.23-2-1.23v-2.47zm4 0l2 1.23v2.47l-2 1.23-2-1.23v-2.47zm4 0l2 1.23v2.47l-2 1.23-2-1.23v-2.47zm4 0l2 1.23v2.47l-2 1.23-2-1.23v-2.47zm4 0l2 1.23v2.47l-2 1.23-2-1.23v-2.47zm4 0l2 1.23v2.47l-2 1.23-2-1.23v-2.47zm4 0l2 1.23v2.47l-2 1.23-2-1.23v-2.47zm4 0l2 1.23v2.47l-2 1.23-2-1.23v-2.47zm4 0l2 1.23v2.47l-2 1.23-2-1.23v-2.47zm4 0l2 1.23v2.47l-2 1.23-2-1.23v-2.47zm4 0l2 1.23v2.47l-2 1.23-2-1.23v-2.47zm4 0l2 1.23v2.47l-2 1.23-2-1.23v-2.47zm4 0l2 1.23v2.47l-2 1.23-2-1.23v-2.47zm4 0l2 1.23v2.47l-2 1.23-2-1.23v-2.47zm4 0l2 1.23v2.47l-2 1.23-2-1.23v-2.47zm4 0l2 1.23v2.47l-2 1.23-2-1.23v-2.47zm4 0l2 1.23v2.47l-2 1.23-2-1.23v-2.47zm4 0l2 1.23v2.47l-2 1.23-2-1.23v-2.47zm4 0l2 1.23v2.47l-2 1.23-2-1.23v-2.47zm4 0l2 1.23v2.47l-2 1.23-2-1.23v-2.47zm-90 3.72l2 1.23v2.47l-2 1.23-2-1.23v-2.47zm4 0l2 1.23v2.47l-2 1.23-2-1.23v-2.47zm4 0l2 1.23v2.47l-2 1.23-2-1.23v-2.47zm4 0l2 1.23v2.47l-2 1.23-2-1.23v-2.47zm4 0l2 1.23v2.47l-2 1.23-2-1.23v-2.47zm4 0l2 1.23v2.47l-2 1.23-2-1.23v-2.47zm28 0l2 1.23v2.47l-2 1.23-2-1.23v-2.47zm4 0l2 1.23v2.47l-2 1.23-2-1.23v-2.47zm4 0l2 1.23v2.47l-2 1.23-2-1.23v-2.47zm4 0l2 1.23v2.47l-2 1.23-2-1.23v-2.47zm4 0l2 1.23v2.47l-2 1.23-2-1.23v-2.47zm4 0l2 1.23v2.47l-2 1.23-2-1.23v-2.47zm4 0l2 1.23v2.47l-2 1.23-2-1.23v-2.47zm4 0l2 1.23v2.47l-2 1.23-2-1.23v-2.47zm4 0l2 1.23v2.47l-2 1.23-2-1.23v-2.47zm4 0l2 1.23v2.47l-2 1.23-2-1.23v-2.47zm-90 3.72l2 1.23v2.47l-2 1.23-2-1.23v-2.47zm4 0l2 1.23v2.47l-2 1.23-2-1.23v-2.47zm4 0l2 1.23v2.47l-2 1.23-2-1.23v-2.47zm4 0l2 1.23v2.47l-2 1.23-2-1.23v-2.47zm4 0l2 1.23v2.47l-2 1.23-2-1.23v-2.47zm4 0l2 1.23v2.47l-2 1.23-2-1.23v-2.47zm40 0l2 1.23v2.47l-2 1.23-2-1.23v-2.47zm4 0l2 1.23v2.47l-2 1.23-2-1.23v-2.47zm4 0l2 1.23v2.47l-2 1.23-2-1.23v-2.47zm4 0l2 1.23v2.47l-2 1.23-2-1.23v-2.47zm4 0l2 1.23v2.47l-2 1.23-2-1.23v-2.47zm4 0l2 1.23v2.47l-2 1.23-2-1.23v-2.47zm4 0l2 1.23v2.47l-2 1.23-2-1.23v-2.47zm4 0l2 1.23v2.47l-2 1.23-2-1.23v-2.47zm20 0l2 1.23v2.47l-2 1.23-2-1.23v-2.47zm4 0l2 1.23v2.47l-2 1.23-2-1.23v-2.47zm-110 3.72l2 1.23v2.47l-2 1.23-2-1.23v-2.47zm4 0l2 1.23v2.47l-2 1.23-2-1.23v-2.47zm4 0l2 1.23v2.47l-2 1.23-2-1.23v-2.47zm4 0l2 1.23v2.47l-2 1.23-2-1.23v-2.47zm52 0l2 1.23v2.47l-2 1.23-2-1.23v-2.47zm4 0l2 1.23v2.47l-2 1.23-2-1.23v-2.47zm4 0l2 1.23v2.47l-2 1.23-2-1.23v-2.47zm4 0l2 1.23v2.47l-2 1.23-2-1.23v-2.47zm4 0l2 1.23v2.47l-2 1.23-2-1.23v-2.47zm4 0l2 1.23v2.47l-2 1.23-2-1.23v-2.47zm4 0l2 1.23v2.47l-2 1.23-2-1.23v-2.47zm4 0l2 1.23v2.47l-2 1.23-2-1.23v-2.47zm-94 3.72l2 1.23v2.47l-2 1.23-2-1.23v-2.47zm4 0l2 1.23v2.47l-2 1.23-2-1.23v-2.47zm4 0l2 1.23v2.47l-2 1.23-2-1.23v-2.47zm64 0l2 1.23v2.47l-2 1.23-2-1.23v-2.47zm4 0l2 1.23v2.47l-2 1.23-2-1.23v-2.47zm4 0l2 1.23v2.47l-2 1.23-2-1.23v-2.47zm4 0l2 1.23v2.47l-2 1.23-2-1.23v-2.47zm4 0l2 1.23v2.47l-2 1.23-2-1.23v-2.47zm4 0l2 1.23v2.47l-2 1.23-2-1.23v-2.47zm16 0l2 1.23v2.47l-2 1.23-2-1.23v-2.47zm-106 3.72l2 1.23v2.47l-2 1.23-2-1.23v-2.47zm4 0l2 1.23v2.47l-2 1.23-2-1.23v-2.47zm68 0l2 1.23v2.47l-2 1.23-2-1.23v-2.47zm4 0l2 1.23v2.47l-2 1.23-2-1.23v-2.47zm4 0l2 1.23v2.47l-2 1.23-2-1.23v-2.47zm4 0l2 1.23v2.47l-2 1.23-2-1.23v-2.47zm4 0l2 1.23v2.47l-2 1.23-2-1.23v-2.47zm4 0l2 1.23v2.47l-2 1.23-2-1.23v-2.47zm4 0l2 1.23v2.47l-2 1.23-2-1.23v-2.47zm4 0l2 1.23v2.47l-2 1.23-2-1.23v-2.47zm-106 3.72l2 1.23v2.47l-2 1.23-2-1.23v-2.47zm4 0l2 1.23v2.47l-2 1.23-2-1.23v-2.47zm4 0l2 1.23v2.47l-2 1.23-2-1.23v-2.47zm72 0l2 1.23v2.47l-2 1.23-2-1.23v-2.47zm4 0l2 1.23v2.47l-2 1.23-2-1.23v-2.47zm4 0l2 1.23v2.47l-2 1.23-2-1.23v-2.47zm4 0l2 1.23v2.47l-2 1.23-2-1.23v-2.47zm4 0l2 1.23v2.47l-2 1.23-2-1.23v-2.47zm4 0l2 1.23v2.47l-2 1.23-2-1.23v-2.47zm4 0l2 1.23v2.47l-2 1.23-2-1.23v-2.47zm-102 3.72l2 1.23v2.47l-2 1.23-2-1.23v-2.47zm4 0l2 1.23v2.47l-2 1.23-2-1.23v-2.47zm80 0l2 1.23v2.47l-2 1.23-2-1.23v-2.47zm4 0l2 1.23v2.47l-2 1.23-2-1.23v-2.47zm4 0l2 1.23v2.47l-2 1.23-2-1.23v-2.47zm4 0l2 1.23v2.47l-2 1.23-2-1.23v-2.47zm4 0l2 1.23v2.47l-2 1.23-2-1.23v-2.47zm4 0l2 1.23v2.47l-2 1.23-2-1.23v-2.47zm-102 3.72l2 1.23v2.47l-2 1.23-2-1.23v-2.47zm84 0l2 1.23v2.47l-2 1.23-2-1.23v-2.47zm4 0l2 1.23v2.47l-2 1.23-2-1.23v-2.47zm4 0l2 1.23v2.47l-2 1.23-2-1.23v-2.47zm4 0l2 1.23v2.47l-2 1.23-2-1.23v-2.47zm4 0l2 1.23v2.47l-2 1.23-2-1.23v-2.47zm4 0l2 1.23v2.47l-2 1.23-2-1.23v-2.47zm-110 3.72l2 1.23v2.47l-2 1.23-2-1.23v-2.47zm4 0l2 1.23v2.47l-2 1.23-2-1.23v-2.47zm88 0l2 1.23v2.47l-2 1.23-2-1.23v-2.47zm4 0l2 1.23v2.47l-2 1.23-2-1.23v-2.47zm4 0l2 1.23v2.47l-2 1.23-2-1.23v-2.47zm4 0l2 1.23v2.47l-2 1.23-2-1.23v-2.47zm4 0l2 1.23v2.47l-2 1.23-2-1.23v-2.47zm4 0l2 1.23v2.47l-2 1.23-2-1.23v-2.47zm-110 3.72l2 1.23v2.47l-2 1.23-2-1.23v-2.47zm4 0l2 1.23v2.47l-2 1.23-2-1.23v-2.47zm88 0l2 1.23v2.47l-2 1.23-2-1.23v-2.47zm4 0l2 1.23v2.47l-2 1.23-2-1.23v-2.47zm4 0l2 1.23v2.47l-2 1.23-2-1.23v-2.47zm4 0l2 1.23v2.47l-2 1.23-2-1.23v-2.47zm4 0l2 1.23v2.47l-2 1.23-2-1.23v-2.47zm4 0l2 1.23v2.47l-2 1.23-2-1.23v-2.47zm-110 3.72l2 1.23v2.47l-2 1.23-2-1.23v-2.47zm92 0l2 1.23v2.47l-2 1.23-2-1.23v-2.47zm4 0l2 1.23v2.47l-2 1.23-2-1.23v-2.47zm4 0l2 1.23v2.47l-2 1.23-2-1.23v-2.47zm4 0l2 1.23v2.47l-2 1.23-2-1.23v-2.47zm4 0l2 1.23v2.47l-2 1.23-2-1.23v-2.47zm-110 3.72l2 1.23v2.47l-2 1.23-2-1.23v-2.47zm96 0l2 1.23v2.47l-2 1.23-2-1.23v-2.47zm4 0l2 1.23v2.47l-2 1.23-2-1.23v-2.47zm4 0l2 1.23v2.47l-2 1.23-2-1.23v-2.47zm4 0l2 1.23v2.47l-2 1.23-2-1.23v-2.47zm4 0l2 1.23v2.47l-2 1.23-2-1.23v-2.47zm-114 3.72l2 1.23v2.47l-2 1.23-2-1.23v-2.47zm4 0l2 1.23v2.47l-2 1.23-2-1.23v-2.47zm92 0l2 1.23v2.47l-2 1.23-2-1.23v-2.47zm4 0l2 1.23v2.47l-2 1.23-2-1.23v-2.47zm4 0l2 1.23v2.47l-2 1.23-2-1.23v-2.47zm4 0l2 1.23v2.47l-2 1.23-2-1.23v-2.47zm4 0l2 1.23v2.47l-2 1.23-2-1.23v-2.47zm-110 3.72l2 1.23v2.47l-2 1.23-2-1.23v-2.47zm96 0l2 1.23v2.47l-2 1.23-2-1.23v-2.47zm4 0l2 1.23v2.47l-2 1.23-2-1.23v-2.47zm4 0l2 1.23v2.47l-2 1.23-2-1.23v-2.47zm4 0l2 1.23v2.47l-2 1.23-2-1.23v-2.47zm4 0l2 1.23v2.47l-2 1.23-2-1.23v-2.47zm-118 3.72l2 1.23v2.47l-2 1.23-2-1.23v-2.47zm4 0l2 1.23v2.47l-2 1.23-2-1.23v-2.47zm4 0l2 1.23v2.47l-2 1.23-2-1.23v-2.47zm96 0l2 1.23v2.47l-2 1.23-2-1.23v-2.47zm4 0l2 1.23v2.47l-2 1.23-2-1.23v-2.47zm4 0l2 1.23v2.47l-2 1.23-2-1.23v-2.47zm4 0l2 1.23v2.47l-2 1.23-2-1.23v-2.47zm4 0l2 1.23v2.47l-2 1.23-2-1.23v-2.47zm-114 3.72l2 1.23v2.47l-2 1.23-2-1.23v-2.47zm100 0l2 1.23v2.47l-2 1.23-2-1.23v-2.47zm4 0l2 1.23v2.47l-2 1.23-2-1.23v-2.47zm4 0l2 1.23v2.47l-2 1.23-2-1.23v-2.47zm4 0l2 1.23v2.47l-2 1.23-2-1.23v-2.47zm-114 3.72l2 1.23v2.47l-2 1.23-2-1.23v-2.47zm4 0l2 1.23v2.47l-2 1.23-2-1.23v-2.47zm96 0l2 1.23v2.47l-2 1.23-2-1.23v-2.47zm4 0l2 1.23v2.47l-2 1.23-2-1.23v-2.47zm4 0l2 1.23v2.47l-2 1.23-2-1.23v-2.47zm4 0l2 1.23v2.47l-2 1.23-2-1.23v-2.47zm-110 3.72l2 1.23v2.47l-2 1.23-2-1.23v-2.47zm4 0l2 1.23v2.47l-2 1.23-2-1.23v-2.47zm92 0l2 1.23v2.47l-2 1.23-2-1.23v-2.47zm4 0l2 1.23v2.47l-2 1.23-2-1.23v-2.47zm4 0l2 1.23v2.47l-2 1.23-2-1.23v-2.47zm4 0l2 1.23v2.47l-2 1.23-2-1.23v-2.47zm-106 3.72l2 1.23v2.47l-2 1.23-2-1.23v-2.47zm4 0l2 1.23v2.47l-2 1.23-2-1.23v-2.47zm88 0l2 1.23v2.47l-2 1.23-2-1.23v-2.47zm4 0l2 1.23v2.47l-2 1.23-2-1.23v-2.47zm4 0l2 1.23v2.47l-2 1.23-2-1.23v-2.47zm4 0l2 1.23v2.47l-2 1.23-2-1.23v-2.47zm4 0l2 1.23v2.47l-2 1.23-2-1.23v-2.47zm-114 3.72l2 1.23v2.47l-2 1.23-2-1.23v-2.47zm4 0l2 1.23v2.47l-2 1.23-2-1.23v-2.47zm4 0l2 1.23v2.47l-2 1.23-2-1.23v-2.47zm4 0l2 1.23v2.47l-2 1.23-2-1.23v-2.47zm4 0l2 1.23v2.47l-2 1.23-2-1.23v-2.47zm80 0l2 1.23v2.47l-2 1.23-2-1.23v-2.47zm4 0l2 1.23v2.47l-2 1.23-2-1.23v-2.47zm4 0l2 1.23v2.47l-2 1.23-2-1.23v-2.47zm4 0l2 1.23v2.47l-2 1.23-2-1.23v-2.47zm-102 3.72l2 1.23v2.47l-2 1.23-2-1.23v-2.47zm4 0l2 1.23v2.47l-2 1.23-2-1.23v-2.47zm4 0l2 1.23v2.47l-2 1.23-2-1.23v-2.47zm4 0l2 1.23v2.47l-2 1.23-2-1.23v-2.47zm76 0l2 1.23v2.47l-2 1.23-2-1.23v-2.47zm4 0l2 1.23v2.47l-2 1.23-2-1.23v-2.47zm4 0l2 1.23v2.47l-2 1.23-2-1.23v-2.47zm-90 3.72l2 1.23v2.47l-2 1.23-2-1.23v-2.47zm4 0l2 1.23v2.47l-2 1.23-2-1.23v-2.47zm4 0l2 1.23v2.47l-2 1.23-2-1.23v-2.47zm4 0l2 1.23v2.47l-2 1.23-2-1.23v-2.47zm4 0l2 1.23v2.47l-2 1.23-2-1.23v-2.47zm60 0l2 1.23v2.47l-2 1.23-2-1.23v-2.47zm4 0l2 1.23v2.47l-2 1.23-2-1.23v-2.47zm4 0l2 1.23v2.47l-2 1.23-2-1.23v-2.47zm-90 3.72l2 1.23v2.47l-2 1.23-2-1.23v-2.47zm4 0l2 1.23v2.47l-2 1.23-2-1.23v-2.47zm4 0l2 1.23v2.47l-2 1.23-2-1.23v-2.47zm4 0l2 1.23v2.47l-2 1.23-2-1.23v-2.47zm4 0l2 1.23v2.47l-2 1.23-2-1.23v-2.47zm4 0l2 1.23v2.47l-2 1.23-2-1.23v-2.47zm4 0l2 1.23v2.47l-2 1.23-2-1.23v-2.47zm4 0l2 1.23v2.47l-2 1.23-2-1.23v-2.47zm4 0l2 1.23v2.47l-2 1.23-2-1.23v-2.47zm40 0l2 1.23v2.47l-2 1.23-2-1.23v-2.47zm4 0l2 1.23v2.47l-2 1.23-2-1.23v-2.47zm4 0l2 1.23v2.47l-2 1.23-2-1.23v-2.47zm8 0l2 1.23v2.47l-2 1.23-2-1.23v-2.47zm-82 3.72l2 1.23v2.47l-2 1.23-2-1.23v-2.47zm8 0l2 1.23v2.47l-2 1.23-2-1.23v-2.47zm4 0l2 1.23v2.47l-2 1.23-2-1.23v-2.47zm4 0l2 1.23v2.47l-2 1.23-2-1.23v-2.47zm4 0l2 1.23v2.47l-2 1.23-2-1.23v-2.47zm4 0l2 1.23v2.47l-2 1.23-2-1.23v-2.47zm4 0l2 1.23v2.47l-2 1.23-2-1.23v-2.47zm4 0l2 1.23v2.47l-2 1.23-2-1.23v-2.47zm4 0l2 1.23v2.47l-2 1.23-2-1.23v-2.47zm4 0l2 1.23v2.47l-2 1.23-2-1.23v-2.47zm4 0l2 1.23v2.47l-2 1.23-2-1.23v-2.47zm4 0l2 1.23v2.47l-2 1.23-2-1.23v-2.47zm4 0l2 1.23v2.47l-2 1.23-2-1.23v-2.47zm4 0l2 1.23v2.47l-2 1.23-2-1.23v-2.47zm4 0l2 1.23v2.47l-2 1.23-2-1.23v-2.47zm4 0l2 1.23v2.47l-2 1.23-2-1.23v-2.47zm4 0l2 1.23v2.47l-2 1.23-2-1.23v-2.47zm4 0l2 1.23v2.47l-2 1.23-2-1.23v-2.47zm4 0l2 1.23v2.47l-2 1.23-2-1.23v-2.47zm-62 3.72l2 1.23v2.47l-2 1.23-2-1.23v-2.47zm4 0l2 1.23v2.47l-2 1.23-2-1.23v-2.47zm4 0l2 1.23v2.47l-2 1.23-2-1.23v-2.47zm4 0l2 1.23v2.47l-2 1.23-2-1.23v-2.47zm4 0l2 1.23v2.47l-2 1.23-2-1.23v-2.47zm4 0l2 1.23v2.47l-2 1.23-2-1.23v-2.47zm4 0l2 1.23v2.47l-2 1.23-2-1.23v-2.47zm4 0l2 1.23v2.47l-2 1.23-2-1.23v-2.47zm4 0l2 1.23v2.47l-2 1.23-2-1.23v-2.47zm4 0l2 1.23v2.47l-2 1.23-2-1.23v-2.47zm4 0l2 1.23v2.47l-2 1.23-2-1.23v-2.47zm4 0l2 1.23v2.47l-2 1.23-2-1.23v-2.47zm4 0l2 1.23v2.47l-2 1.23-2-1.23v-2.47zm-46 3.72l2 1.23v2.47l-2 1.23-2-1.23v-2.47zm8 0l2 1.23v2.47l-2 1.23-2-1.23v-2.47zm8 0l2 1.23v2.47l-2 1.23-2-1.23v-2.47zm24 0l2 1.23v2.47l-2 1.23-2-1.23v-2.47zm-18 3.72l2 1.23v2.47l-2 1.23-2-1.23v-2.47z"/>
<path color="#3089bc" d="M251.3 47.03l2 1.23v2.47l-2 1.23-2-1.23v-2.47zm4 0l2 1.23v2.47l-2 1.23-2-1.23v-2.47zm4 0l2 1.23v2.47l-2 1.23-2-1.23v-2.47zm4 0l2 1.23v2.47l-2 1.23-2-1.23v-2.47zm4 0l2 1.23v2.47l-2 1.23-2-1.23v-2.47zm4 0l2 1.23v2.47l-2 1.23-2-1.23v-2.47zm-26 3.72l2 1.23v2.47l-2 1.23-2-1.23v-2.47zm32 0l2 1.23v2.47l-2 1.23-2-1.23v-2.47zm-38 3.72l2 1.23v2.47l-2 1.23-2-1.23v-2.47zm44 0l2 1.23v2.47l-2 1.23-2-1.23v-2.47zm-50 3.72l2 1.23v2.47l-2 1.23-2-1.23v-2.47zm56 0l2 1.23v2.47l-2 1.23-2-1.23v-2.47zm-58 3.72l2 1.23v2.47l-2 1.23-2-1.23v-2.47zm-2 3.72l2 1.23v2.47l-2 1.23-2-1.23v-2.47zm-2 3.72l2 1.23v2.47l-2 1.23-2-1.23v-2.47zm72 0l2 1.23v2.47l-2 1.23-2-1.23v-2.47zm-74 3.72l2 1.23v2.47l-2 1.23-2-1.23v-2.47zm76 0l2 1.23v2.47l-2 1.23-2-1.23v-2.47zm-78 3.72l2 1.23v2.47l-2 1.23-2-1.23v-2.47zm80 0l2 1.23v2.47l-2 1.23-2-1.23v-2.47zm2 3.72l2 1.23v2.47l-2 1.23-2-1.23v-2.47zm2 3.72l2 1.23v2.47l-2 1.23-2-1.23v-2.47zm-86 3.72l2 1.23v2.47l-2 1.23-2-1.23v-2.47zm88 0l2 1.23v2.47l-2 1.23-2-1.23v-2.47zm-88 7.44l2 1.23v2.47l-2 1.23-2-1.23v-2.47zm0 7.44l2 1.23v2.47l-2 1.23-2-1.23v-2.47zm92 0l2 1.23v2.47l-2 1.23-2-1.23v-2.47zm-86 11.16l2 1.23v2.47l-2 1.23-2-1.23v-2.47zm8 7.44l2 1.23v2.47l-2 1.23-2-1.23v-2.47zm68 0l2 1.23v2.47l-2 1.23-2-1.23v-2.47zm-6 3.72l2 1.23v2.47l-2 1.23-2-1.23v-2.47zm-42 3.72l2 1.23v2.47l-2 1.23-2-1.23v-2.47zm28 0l2 1.23v2.47l-2 1.23-2-1.23v-2.47zm4 0l2 1.23v2.47l-2 1.23-2-1.23v-2.47z"/>
<path color="#3a8fb9" d="M249.3 50.75l2 1.23v2.47l-2 1.23-2-1.23v-2.47zm24 0l2 1.23v2.47l-2 1.23-2-1.23v-2.47zm-30 3.72l2 1.23v2.47l-2 1.23-2-1.23v-2.47zm36 0l2 1.23v2.47l-2 1.23-2-1.23v-2.47zm-42 3.72l2 1.23v2.47l-2 1.23-2-1.23v-2.47zm48 0l2 1.23v2.47l-2 1.23-2-1.23v-2.47zm6 3.72l2 1.23v2.47l-2 1.23-2-1.23v-2.47zm2 3.72l2 1.23v2.47l-2 1.23-2-1.23v-2.47zm-70 18.6l2 1.23v2.47l-2 1.23-2-1.23v-2.47zm86 11.16l2 1.23v2.47l-2 1.23-2-1.23v-2.47zm2 3.72l2 1.23v2.47l-2 1.23-2-1.23v-2.47zm-88 7.44l2 1.23v2.47l-2 1.23-2-1.23v-2.47zm88 0l2 1.23v2.47l-2 1.23-2-1.23v-2.47zm-86 3.72l2 1.23v2.47l-2 1.23-2-1.23v-2.47zm80 7.44l2 1.23v2.47l-2 1.23-2-1.23v-2.47zm-60 7.44l2 1.23v2.47l-2 1.23-2-1.23v-2.47zm48 0l2 1.23v2.47l-2 1.23-2-1.23v-2.47zm-34 3.72l2 1.23v2.47l-2 1.23-2-1.23v-2.47zm4 0l2 1.23v2.47l-2 1.23-2-1.23v-2.47zm4 0l2 1.23v2.47l-2 1.23-2-1.23v-2.47zm8 0l2 1.23v2.47l-2 1.23-2-1.23v-2.47zm4 0l2 1.23v2.47l-2 1.23-2-1.23v-2.47z"/>
<path color="#4295b7" d="M253.3 50.75l2 1.23v2.47l-2 1.23-2-1.23v-2.47zm4 0l2 1.23v2.47l-2 1.23-2-1.23v-2.47zm4 0l2 1.23v2.47l-2 1.23-2-1.23v-2.47zm4 0l2 1.23v2.47l-2 1.23-2-1.23v-2.47zm4 0l2 1.23v2.47l-2 1.23-2-1.23v-2.47zm-22 3.72l2 1.23v2.47l-2 1.23-2-1.23v-2.47zm28 0l2 1.23v2.47l-2 1.23-2-1.23v-2.47zm-34 3.72l2 1.23v2.47l-2 1.23-2-1.23v-2.47zm-6 3.72l2 1.23v2.47l-2 1.23-2-1.23v-2.47zm52 0l2 1.23v2.47l-2 1.23-2-1.23v-2.47zm-54 3.72l2 1.23v2.47l-2 1.23-2-1.23v-2.47zm-2 3.72l2 1.23v2.47l-2 1.23-2-1.23v-2.47zm64 0l2 1.23v2.47l-2 1.23-2-1.23v-2.47zm-66 3.72l2 1.23v2.47l-2 1.23-2-1.23v-2.47zm-2 3.72l2 1.23v2.47l-2 1.23-2-1.23v-2.47zm-2 3.72l2 1.23v2.47l-2 1.23-2-1.23v-2.47zm-2 11.16l2 1.23v2.47l-2 1.23-2-1.23v-2.47zm84 0l2 1.23v2.47l-2 1.23-2-1.23v-2.47zm-84 7.44l2 1.23v2.47l-2 1.23-2-1.23v-2.47zm86 11.16l2 1.23v2.47l-2 1.23-2-1.23v-2.47zm-2 3.72l2 1.23v2.47l-2 1.23-2-1.23v-2.47zm-74 3.72l2 1.23v2.47l-2 1.23-2-1.23v-2.47zm6 3.72l2 1.23v2.47l-2 1.23-2-1.23v-2.47zm60 0l2 1.23v2.47l-2 1.23-2-1.23v-2.47zm-50 3.72l2 1.23v2.47l-2 1.23-2-1.23v-2.47zm22 3.72l2 1.23v2.47l-2 1.23-2-1.23v-2.47z"/>
<path color="#499cb5" d="M251.3 54.47l2 1.23v2.47l-2 1.23-2-1.23v-2.47zm20 0l2 1.23v2.47l-2 1.23-2-1.23v-2.47zm10 3.72l2 1.23v2.47l-2 1.23-2-1.23v-2.47zm-42 3.72l2 1.23v2.47l-2 1.23-2-1.23v-2.47zm50 3.72l2 1.23v2.47l-2 1.23-2-1.23v-2.47zm8 7.44l2 1.23v2.47l-2 1.23-2-1.23v-2.47zm2 3.72l2 1.23v2.47l-2 1.23-2-1.23v-2.47zm2 3.72l2 1.23v2.47l-2 1.23-2-1.23v-2.47zm2 3.72l2 1.23v2.47l-2 1.23-2-1.23v-2.47zm-78 3.72l2 1.23v2.47l-2 1.23-2-1.23v-2.47zm80 0l2 1.23v2.47l-2 1.23-2-1.23v-2.47zm4 14.88l2 1.23v2.47l-2 1.23-2-1.23v-2.47zm-78 11.16l2 1.23v2.47l-2 1.23-2-1.23v-2.47zm58 11.16l2 1.23v2.47l-2 1.23-2-1.23v-2.47z"/>
<path color="#4fa2b2" d="M255.3 54.47l2 1.23v2.47l-2 1.23-2-1.23v-2.47zm4 0l2 1.23v2.47l-2 1.23-2-1.23v-2.47zm4 0l2 1.23v2.47l-2 1.23-2-1.23v-2.47zm4 0l2 1.23v2.47l-2 1.23-2-1.23v-2.47zm-22 3.72l2 1.23v2.47l-2 1.23-2-1.23v-2.47zm32 0l2 1.23v2.47l-2 1.23-2-1.23v-2.47zm6 3.72l2 1.23v2.47l-2 1.23-2-1.23v-2.47zm-46 3.72l2 1.23v2.47l-2 1.23-2-1.23v-2.47zm-10 18.6l2 1.23v2.47l-2 1.23-2-1.23v-2.47zm-2 11.16l2 1.23v2.47l-2 1.23-2-1.23v-2.47zm82 3.72l2 1.23v2.47l-2 1.23-2-1.23v-2.47zm-82 3.72l2 1.23v2.47l-2 1.23-2-1.23v-2.47zm2 3.72l2 1.23v2.47l-2 1.23-2-1.23v-2.47zm80 0l2 1.23v2.47l-2 1.23-2-1.23v-2.47zm-78 3.72l2 1.23v2.47l-2 1.23-2-1.23v-2.47zm8 7.44l2 1.23v2.47l-2 1.23-2-1.23v-2.47zm64 0l2 1.23v2.47l-2 1.23-2-1.23v-2.47zm-58 3.72l2 1.23v2.47l-2 1.23-2-1.23v-2.47zm52 0l2 1.23v2.47l-2 1.23-2-1.23v-2.47zm-42 3.72l2 1.23v2.47l-2 1.23-2-1.23v-2.47zm32 0l2 1.23v2.47l-2 1.23-2-1.23v-2.47z"/>
<path color="#55a8b0" d="M249.3 58.19l2 1.23v2.47l-2 1.23-2-1.23v-2.47zm24 0l2 1.23v2.47l-2 1.23-2-1.23v-2.47zm-30 3.72l2 1.23v2.47l-2 1.23-2-1.23v-2.47zm-8 7.44l2 1.23v2.47l-2 1.23-2-1.23v-2.47zm56 0l2 1.23v2.47l-2 1.23-2-1.23v-2.47zm-58 3.72l2 1.23v2.47l-2 1.23-2-1.23v-2.47zm60 0l2 1.23v2.47l-2 1.23-2-1.23v-2.47zm-62 3.72l2 1.23v2.47l-2 1.23-2-1.23v-2.47zm-2 3.72l2 1.23v2.47l-2 1.23-2-1.23v-2.47zm76 14.88l2 1.23v2.47l-2 1.23-2-1.23v-2.47zm0 14.88l2 1.23v2.47l-2 1.23-2-1.23v-2.47zm-2 3.72l2 1.23v2.47l-2 1.23-2-1.23v-2.47zm-46 11.16l2 1.23v2.47l-2 1.23-2-1.23v-2.47zm24 0l2 1.23v2.47l-2 1.23-2-1.23v-2.47z"/>
<path color="#5aafad" d="M253.3 58.19l2 1.23v2.47l-2 1.23-2-1.23v-2.47zm16 0l2 1.23v2.47l-2 1.23-2-1.23v-2.47zm10 3.72l2 1.23v2.47l-2 1.23-2-1.23v-2.47zm6 3.72l2 1.23v2.47l-2 1.23-2-1.23v-2.47zm10 11.16l2 1.23v2.47l-2 1.23-2-1.23v-2.47zm-68 14.88l2 1.23v2.47l-2 1.23-2-1.23v-2.47zm76 0l2 1.23v2.47l-2 1.23-2-1.23v-2.47zm-76 7.44l2 1.23v2.47l-2 1.23-2-1.23v-2.47zm20 22.32l2 1.23v2.47l-2 1.23-2-1.23v-2.47zm44 0l2 1.23v2.47l-2 1.23-2-1.23v-2.47zm-30 3.72l2 1.23v2.47l-2 1.23-2-1.23v-2.47zm16 0l2 1.23v2.47l-2 1.23-2-1.23v-2.47z"/>
<path color="#5eb5ab" d="M257.3 58.19l2 1.23v2.47l-2 1.23-2-1.23v-2.47zm4 0l2 1.23v2.47l-2 1.23-2-1.23v-2.47zm4 0l2 1.23v2.47l-2 1.23-2-1.23v-2.47zm-18 3.72l2 1.23v2.47l-2 1.23-2-1.23v-2.47zm-6 3.72l2 1.23v2.47l-2 1.23-2-1.23v-2.47zm46 3.72l2 1.23v2.47l-2 1.23-2-1.23v-2.47zm10 11.16l2 1.23v2.47l-2 1.23-2-1.23v-2.47zm2 3.72l2 1.23v2.47l-2 1.23-2-1.23v-2.47zm2 3.72l2 1.23v2.47l-2 1.23-2-1.23v-2.47zm4 14.88l2 1.23v2.47l-2 1.23-2-1.23v-2.47zm-70 11.16l2 1.23v2.47l-2 1.23-2-1.23v-2.47zm62 3.72l2 1.23v2.47l-2 1.23-2-1.23v-2.47zm-32 7.44l2 1.23v2.47l-2 1.23-2-1.23v-2.47zm4 0l2 1.23v2.47l-2 1.23-2-1.23v-2.47zm4 0l2 1.23v2.47l-2 1.23-2-1.23v-2.47z"/>
<path color="#62bba8" d="M251.3 61.91l2 1.23v2.47l-2 1.23-2-1.23v-2.47zm24 0l2 1.23v2.47l-2 1.23-2-1.23v-2.47zm6 3.72l2 1.23v2.47l-2 1.23-2-1.23v-2.47zm-42 3.72l2 1.23v2.47l-2 1.23-2-1.23v-2.47zm-10 18.6l2 1.23v2.47l-2 1.23-2-1.23v-2.47zm12 29.76l2 1.23v2.47l-2 1.23-2-1.23v-2.47z"/>
<path color="#66c2a5" d="M271.3 61.91l2 1.23v2.47l-2 1.23-2-1.23v-2.47zm-26 3.72l2 1.23v2.47l-2 1.23-2-1.23v-2.47zm-8 7.44l2 1.23v2.47l-2 1.23-2-1.23v-2.47zm52 0l2 1.23v2.47l-2 1.23-2-1.23v-2.47zm-54 3.72l2 1.23v2.47l-2 1.23-2-1.23v-2.47zm-2 3.72l2 1.23v2.47l-2 1.23-2-1.23v-2.47zm-2 3.72l2 1.23v2.47l-2 1.23-2-1.23v-2.47zm-2 11.16l2 1.23v2.47l-2 1.23-2-1.23v-2.47zm74 3.72l2 1.23v2.47l-2 1.23-2-1.23v-2.47zm-74 3.72l2 1.23v2.47l-2 1.23-2-1.23v-2.47zm2 3.72l2 1.23v2.47l-2 1.23-2-1.23v-2.47zm72 0l2 1.23v2.47l-2 1.23-2-1.23v-2.47zm-70 3.72l2 1.23v2.47l-2 1.23-2-1.23v-2.47zm66 3.72l2 1.23v2.47l-2 1.23-2-1.23v-2.47zm-48 7.44l2 1.23v2.47l-2 1.23-2-1.23v-2.47zm36 0l2 1.23v2.47l-2 1.23-2-1.23v-2.47z"/>
<path color="#6ec5a5" d="M255.3 61.91l2 1.23v2.47l-2 1.23-2-1.23v-2.47zm4 0l2 1.23v2.47l-2 1.23-2-1.23v-2.47zm4 0l2 1.23v2.47l-2 1.23-2-1.23v-2.47zm4 0l2 1.23v2.47l-2 1.23-2-1.23v-2.47zm10 3.72l2 1.23v2.47l-2 1.23-2-1.23v-2.47zm6 3.72l2 1.23v2.47l-2 1.23-2-1.23v-2.47zm8 7.44l2 1.23v2.47l-2 1.23-2-1.23v-2.47zm10 18.6l2 1.23v2.47l-2 1.23-2-1.23v-2.47zm0 14.88l2 1.23v2.47l-2 1.23-2-1.23v-2.47zm-8 7.44l2 1.23v2.47l-2 1.23-2-1.23v-2.47z"/>
<path color="#76c7a5" d="M249.3 65.63l2 1.23v2.47l-2 1.23-2-1.23v-2.47zm-6 3.72l2 1.23v2.47l-2 1.23-2-1.23v-2.47zm50 11.16l2 1.23v2.47l-2 1.23-2-1.23v-2.47zm-62 11.16l2 1.23v2.47l-2 1.23-2-1.23v-2.47zm68 0l2 1.23v2.47l-2 1.23-2-1.23v-2.47zm-60 22.32l2 1.23v2.47l-2 1.23-2-1.23v-2.47zm6 3.72l2 1.23v2.47l-2 1.23-2-1.23v-2.47zm10 3.72l2 1.23v2.47l-2 1.23-2-1.23v-2.47zm28 0l2 1.23v2.47l-2 1.23-2-1.23v-2.47z"/>
<path color="#7dcaa5" d="M273.3 65.63l2 1.23v2.47l-2 1.23-2-1.23v-2.47zm-32 7.44l2 1.23v2.47l-2 1.23-2-1.23v-2.47zm54 11.16l2 1.23v2.47l-2 1.23-2-1.23v-2.47zm2 3.72l2 1.23v2.47l-2 1.23-2-1.23v-2.47zm-66 11.16l2 1.23v2.47l-2 1.23-2-1.23v-2.47zm70 3.72l2 1.23v2.47l-2 1.23-2-1.23v-2.47z"/>
<path color="#84cda5" d="M253.3 65.63l2 1.23v2.47l-2 1.23-2-1.23v-2.47zm-6 3.72l2 1.23v2.47l-2 1.23-2-1.23v-2.47zm32 0l2 1.23v2.47l-2 1.23-2-1.23v-2.47zm6 3.72l2 1.23v2.47l-2 1.23-2-1.23v-2.47zm-46 3.72l2 1.23v2.47l-2 1.23-2-1.23v-2.47zm-6 11.16l2 1.23v2.47l-2 1.23-2-1.23v-2.47zm26 33.48l2 1.23v2.47l-2 1.23-2-1.23v-2.47zm20 0l2 1.23v2.47l-2 1.23-2-1.23v-2.47z"/>
<path color="#8bcfa5" d="M257.3 65.63l2 1.23v2.47l-2 1.23-2-1.23v-2.47zm8 0l2 1.23v2.47l-2 1.23-2-1.23v-2.47zm4 0l2 1.23v2.47l-2 1.23-2-1.23v-2.47zm-32 14.88l2 1.23v2.47l-2 1.23-2-1.23v-2.47zm-2 3.72l2 1.23v2.47l-2 1.23-2-1.23v-2.47zm2 26.04l2 1.23v2.47l-2 1.23-2-1.23v-2.47zm58 3.72l2 1.23v2.47l-2 1.23-2-1.23v-2.47zm-6 3.72l2 1.23v2.47l-2 1.23-2-1.23v-2.47zm-26 3.72l2 1.23v2.47l-2 1.23-2-1.23v-2.47z"/>
<path color="#91d2a5" d="M261.3 65.63l2 1.23v2.47l-2 1.23-2-1.23v-2.47zm26 11.16l2 1.23v2.47l-2 1.23-2-1.23v-2.47zm12 22.32l2 1.23v2.47l-2 1.23-2-1.23v-2.47zm-66 3.72l2 1.23v2.47l-2 1.23-2-1.23v-2.47zm66 3.72l2 1.23v2.47l-2 1.23-2-1.23v-2.47zm-2 3.72l2 1.23v2.47l-2 1.23-2-1.23v-2.47zm-48 7.44l2 1.23v2.47l-2 1.23-2-1.23v-2.47zm18 3.72l2 1.23v2.47l-2 1.23-2-1.23v-2.47zm4 0l2 1.23v2.47l-2 1.23-2-1.23v-2.47zm4 0l2 1.23v2.47l-2 1.23-2-1.23v-2.47z"/>
<path color="#98d5a4" d="M251.3 69.35l2 1.23v2.47l-2 1.23-2-1.23v-2.47zm24 0l2 1.23v2.47l-2 1.23-2-1.23v-2.47zm-30 3.72l2 1.23v2.47l-2 1.23-2-1.23v-2.47zm36 0l2 1.23v2.47l-2 1.23-2-1.23v-2.47zm8 7.44l2 1.23v2.47l-2 1.23-2-1.23v-2.47zm-56 14.88l2 1.23v2.47l-2 1.23-2-1.23v-2.47zm2 11.16l2 1.23v2.47l-2 1.23-2-1.23v-2.47z"/>
<path color="#9ed8a4" d="M297.3 95.39l2 1.23v2.47l-2 1.23-2-1.23v-2.47zm-54 18.6l2 1.23v2.47l-2 1.23-2-1.23v-2.47z"/>
<path color="#a5daa4" d="M255.3 69.35l2 1.23v2.47l-2 1.23-2-1.23v-2.47zm16 0l2 1.23v2.47l-2 1.23-2-1.23v-2.47zm-28 7.44l2 1.23v2.47l-2 1.23-2-1.23v-2.47zm48 7.44l2 1.23v2.47l-2 1.23-2-1.23v-2.47zm2 3.72l2 1.23v2.47l-2 1.23-2-1.23v-2.47zm-58 3.72l2 1.23v2.47l-2 1.23-2-1.23v-2.47zm60 0l2 1.23v2.47l-2 1.23-2-1.23v-2.47zm-10 26.04l2 1.23v2.47l-2 1.23-2-1.23v-2.47z"/>
<path color="#abdda4" d="M259.3 69.35l2 1.23v2.47l-2 1.23-2-1.23v-2.47zm8 0l2 1.23v2.47l-2 1.23-2-1.23v-2.47zm-18 3.72l2 1.23v2.47l-2 1.23-2-1.23v-2.47zm34 3.72l2 1.23v2.47l-2 1.23-2-1.23v-2.47zm-42 3.72l2 1.23v2.47l-2 1.23-2-1.23v-2.47zm50 33.48l2 1.23v2.47l-2 1.23-2-1.23v-2.47zm-38 3.72l2 1.23v2.47l-2 1.23-2-1.23v-2.47z"/>
<path color="#b1dfa3" d="M263.3 69.35l2 1.23v2.47l-2 1.23-2-1.23v-2.47zm14 3.72l2 1.23v2.47l-2 1.23-2-1.23v-2.47zm-38 11.16l2 1.23v2.47l-2 1.23-2-1.23v-2.47zm-2 3.72l2 1.23v2.47l-2 1.23-2-1.23v-2.47zm-2 11.16l2 1.23v2.47l-2 1.23-2-1.23v-2.47zm62 3.72l2 1.23v2.47l-2 1.23-2-1.23v-2.47z"/>
<path color="#b7e2a2" d="M241.3 110.27l2 1.23v2.47l-2 1.23-2-1.23v-2.47z"/>
<path color="#bde4a1" d="M253.3 73.07l2 1.23v2.47l-2 1.23-2-1.23v-2.47zm20 0l2 1.23v2.47l-2 1.23-2-1.23v-2.47zm-26 3.72l2 1.23v2.47l-2 1.23-2-1.23v-2.47zm38 3.72l2 1.23v2.47l-2 1.23-2-1.23v-2.47zm10 26.04l2 1.23v2.47l-2 1.23-2-1.23v-2.47zm-2 3.72l2 1.23v2.47l-2 1.23-2-1.23v-2.47zm-46 3.72l2 1.23v2.47l-2 1.23-2-1.23v-2.47zm10 3.72l2 1.23v2.47l-2 1.23-2-1.23v-2.47zm24 0l2 1.23v2.47l-2 1.23-2-1.23v-2.47z"/>
<path color="#c3e79f" d="M295.3 99.11l2 1.23v2.47l-2 1.23-2-1.23v-2.47zm-58 3.72l2 1.23v2.47l-2 1.23-2-1.23v-2.47z"/>
<path color="#c9e99e" d="M257.3 73.07l2 1.23v2.47l-2 1.23-2-1.23v-2.47zm12 0l2 1.23v2.47l-2 1.23-2-1.23v-2.47zm10 3.72l2 1.23v2.47l-2 1.23-2-1.23v-2.47zm8 7.44l2 1.23v2.47l-2 1.23-2-1.23v-2.47zm-50 11.16l2 1.23v2.47l-2 1.23-2-1.23v-2.47zm2 11.16l2 1.23v2.47l-2 1.23-2-1.23v-2.47zm38 11.16l2 1.23v2.47l-2 1.23-2-1.23v-2.47z"/>
<path color="#cfeb9d" d="M261.3 73.07l2 1.23v2.47l-2 1.23-2-1.23v-2.47zm4 0l2 1.23v2.47l-2 1.23-2-1.23v-2.47zm-20 7.44l2 1.23v2.47l-2 1.23-2-1.23v-2.47zm48 14.88l2 1.23v2.47l-2 1.23-2-1.23v-2.47zm-6 18.6l2 1.23v2.47l-2 1.23-2-1.23v-2.47zm-26 3.72l2 1.23v2.47l-2 1.23-2-1.23v-2.47z"/>
<path color="#d53e4f" d="M263.3 99.11l2 1.23v2.47l-2 1.23-2-1.23v-2.47zm4 0l2 1.23v2.47l-2 1.23-2-1.23v-2.47zm4 0l2 1.23v2.47l-2 1.23-2-1.23v-2.47zm-10 3.72l2 1.23v2.47l-2 1.23-2-1.23v-2.47zm4 0l2 1.23v2.47l-2 1.23-2-1.23v-2.47zm4 0l2 1.23v2.47l-2 1.23-2-1.23v-2.47z"/>
<path color="#d5ee9c" d="M251.3 76.79l2 1.23v2.47l-2 1.23-2-1.23v-2.47zm38 11.16l2 1.23v2.47l-2 1.23-2-1.23v-2.47zm-50 3.72l2 1.23v2.47l-2 1.23-2-1.23v-2.47zm52 0l2 1.23v2.47l-2 1.23-2-1.23v-2.47zm-26 26.04l2 1.23v2.47l-2 1.23-2-1.23v-2.47zm8 0l2 1.23v2.47l-2 1.23-2-1.23v-2.47z"/>
<path color="#d8434e" d="M259.3 99.11l2 1.23v2.47l-2 1.23-2-1.23v-2.47zm14 3.72l2 1.23v2.47l-2 1.23-2-1.23v-2.47z"/>
<path color="#dbf09b" d="M275.3 76.79l2 1.23v2.47l-2 1.23-2-1.23v-2.47zm6 3.72l2 1.23v2.47l-2 1.23-2-1.23v-2.47zm-38 3.72l2 1.23v2.47l-2 1.23-2-1.23v-2.47zm-2 3.72l2 1.23v2.47l-2 1.23-2-1.23v-2.47zm28 29.76l2 1.23v2.47l-2 1.23-2-1.23v-2.47z"/>
<path color="#de4d4c" d="M265.3 95.39l2 1.23v2.47l-2 1.23-2-1.23v-2.47zm4 0l2 1.23v2.47l-2 1.23-2-1.23v-2.47z"/>
<path color="#e0f399" d="M293.3 102.83l2 1.23v2.47l-2 1.23-2-1.23v-2.47zm-48 7.44l2 1.23v2.47l-2 1.23-2-1.23v-2.47zm6 3.72l2 1.23v2.47l-2 1.23-2-1.23v-2.47z"/>
<path color="#e2524b" d="M261.3 95.39l2 1.23v2.47l-2 1.23-2-1.23v-2.47zm14 3.72l2 1.23v2.47l-2 1.23-2-1.23v-2.47z"/>
<path color="#e6f598" d="M255.3 76.79l2 1.23v2.47l-2 1.23-2-1.23v-2.47zm-16 22.32l2 1.23v2.47l-2 1.23-2-1.23v-2.47zm50 11.16l2 1.23v2.47l-2 1.23-2-1.23v-2.47z"/>
<path color="#e85b49" d="M273.3 95.39l2 1.23v2.47l-2 1.23-2-1.23v-2.47zm-16 7.44l2 1.23v2.47l-2 1.23-2-1.23v-2.47z"/>
<path color="#e9f69c" d="M271.3 76.79l2 1.23v2.47l-2 1.23-2-1.23v-2.47zm-22 3.72l2 1.23v2.47l-2 1.23-2-1.23v-2.47zm34 33.48l2 1.23v2.47l-2 1.23-2-1.23v-2.47z"/>
<path color="#eb6047" d="M267.3 106.55l2 1.23v2.47l-2 1.23-2-1.23v-2.47z"/>
<path color="#ebf7a0" d="M259.3 76.79l2 1.23v2.47l-2 1.23-2-1.23v-2.47zm24 7.44l2 1.23v2.47l-2 1.23-2-1.23v-2.47zm8 22.32l2 1.23v2.47l-2 1.23-2-1.23v-2.47z"/>
<path color="#ee6446" d="M257.3 95.39l2 1.23v2.47l-2 1.23-2-1.23v-2.47zm-2 3.72l2 1.23v2.47l-2 1.23-2-1.23v-2.47zm16 7.44l2 1.23v2.47l-2 1.23-2-1.23v-2.47z"/>
<path color="#eef8a4" d="M263.3 76.79l2 1.23v2.47l-2 1.23-2-1.23v-2.47zm4 0l2 1.23v2.47l-2 1.23-2-1.23v-2.47zm10 3.72l2 1.23v2.47l-2 1.23-2-1.23v-2.47zm-34 26.04l2 1.23v2.47l-2 1.23-2-1.23v-2.47z"/>
<path color="#f0f9a8" d="M247.3 84.23l2 1.23v2.47l-2 1.23-2-1.23v-2.47zm-6 11.16l2 1.23v2.47l-2 1.23-2-1.23v-2.47zm50 3.72l2 1.23v2.47l-2 1.23-2-1.23v-2.47zm-50 3.72l2 1.23v2.47l-2 1.23-2-1.23v-2.47zm14 11.16l2 1.23v2.47l-2 1.23-2-1.23v-2.47z"/>
<path color="#f16944" d="M277.3 102.83l2 1.23v2.47l-2 1.23-2-1.23v-2.47zm-14 3.72l2 1.23v2.47l-2 1.23-2-1.23v-2.47z"/>
<path color="#f3faac" d="M253.3 80.51l2 1.23v2.47l-2 1.23-2-1.23v-2.47zm32 7.44l2 1.23v2.47l-2 1.23-2-1.23v-2.47z"/>
<path color="#f5fbaf" d="M245.3 87.95l2 1.23v2.47l-2 1.23-2-1.23v-2.47zm42 3.72l2 1.23v2.47l-2 1.23-2-1.23v-2.47zm2 3.72l2 1.23v2.47l-2 1.23-2-1.23v-2.47zm-10 18.6l2 1.23v2.47l-2 1.23-2-1.23v-2.47z"/>
<path color="#f67b49" d="M263.3 91.67l2 1.23v2.47l-2 1.23-2-1.23v-2.47zm4 0l2 1.23v2.47l-2 1.23-2-1.23v-2.47z"/>
<path color="#f7824c" d="M279.3 99.11l2 1.23v2.47l-2 1.23-2-1.23v-2.47zm-20 7.44l2 1.23v2.47l-2 1.23-2-1.23v-2.47zm16 0l2 1.23v2.47l-2 1.23-2-1.23v-2.47z"/>
<path color="#f8884f" d="M259.3 91.67l2 1.23v2.47l-2 1.23-2-1.23v-2.47zm12 0l2 1.23v2.47l-2 1.23-2-1.23v-2.47zm6 3.72l2 1.23v2.47l-2 1.23-2-1.23v-2.47z"/>
<path color="#f8fcb3" d="M273.3 80.51l2 1.23v2.47l-2 1.23-2-1.23v-2.47zm-30 11.16l2 1.23v2.47l-2 1.23-2-1.23v-2.47zm6 18.6l2 1.23v2.47l-2 1.23-2-1.23v-2.47z"/>
<path color="#f98f52" d="M253.3 102.83l2 1.23v2.47l-2 1.23-2-1.23v-2.47z"/>
<path color="#fa9555" d="M253.3 95.39l2 1.23v2.47l-2 1.23-2-1.23v-2.47z"/>
<path color="#fafdb7" d="M257.3 80.51l2 1.23v2.47l-2 1.23-2-1.23v-2.47zm22 3.72l2 1.23v2.47l-2 1.23-2-1.23v-2.47zm6 26.04l2 1.23v2.47l-2 1.23-2-1.23v-2.47zm-26 3.72l2 1.23v2.47l-2 1.23-2-1.23v-2.47z"/>
<path color="#fb9b58" d="M251.3 99.11l2 1.23v2.47l-2 1.23-2-1.23v-2.47z"/>
<path color="#fca25b" d="M275.3 91.67l2 1.23v2.47l-2 1.23-2-1.23v-2.47zm6 11.16l2 1.23v2.47l-2 1.23-2-1.23v-2.47z"/>
<path color="#fca85e" d="M255.3 91.67l2 1.23v2.47l-2 1.23-2-1.23v-2.47z"/>
<path color="#fdae61" d="M255.3 106.55l2 1.23v2.47l-2 1.23-2-1.23v-2.47zm24 0l2 1.23v2.47l-2 1.23-2-1.23v-2.47z"/>
<path color="#fdb365" d="M265.3 87.95l2 1.23v2.47l-2 1.23-2-1.23v-2.47z"/>
<path color="#feb869" d="M261.3 87.95l2 1.23v2.47l-2 1.23-2-1.23v-2.47zm8 0l2 1.23v2.47l-2 1.23-2-1.23v-2.47zm-4 22.32l2 1.23v2.47l-2 1.23-2-1.23v-2.47zm4 0l2 1.23v2.47l-2 1.23-2-1.23v-2.47z"/>
<path color="#febd6d" d="M281.3 95.39l2 1.23v2.47l-2 1.23-2-1.23v-2.47z"/>
<path color="#fec272" d="M283.3 99.11l2 1.23v2.47l-2 1.23-2-1.23v-2.47zm-10 11.16l2 1.23v2.47l-2 1.23-2-1.23v-2.47z"/>
<path color="#fec776" d="M257.3 87.95l2 1.23v2.47l-2 1.23-2-1.23v-2.47zm16 0l2 1.23v2.47l-2 1.23-2-1.23v-2.47zm-24 7.44l2 1.23v2.47l-2 1.23-2-1.23v-2.47zm0 7.44l2 1.23v2.47l-2 1.23-2-1.23v-2.47zm12 7.44l2 1.23v2.47l-2 1.23-2-1.23v-2.47z"/>
<path color="#fecc7a" d="M251.3 91.67l2 1.23v2.47l-2 1.23-2-1.23v-2.47zm28 0l2 1.23v2.47l-2 1.23-2-1.23v-2.47z"/>
<path color="#fed682" d="M247.3 99.11l2 1.23v2.47l-2 1.23-2-1.23v-2.47zm4 7.44l2 1.23v2.47l-2 1.23-2-1.23v-2.47zm26 3.72l2 1.23v2.47l-2 1.23-2-1.23v-2.47z"/>
<path color="#fedb87" d="M285.3 102.83l2 1.23v2.47l-2 1.23-2-1.23v-2.47zm-2 3.72l2 1.23v2.47l-2 1.23-2-1.23v-2.47z"/>
<path color="#fee08b" d="M253.3 87.95l2 1.23v2.47l-2 1.23-2-1.23v-2.47zm24 0l2 1.23v2.47l-2 1.23-2-1.23v-2.47zm-20 22.32l2 1.23v2.47l-2 1.23-2-1.23v-2.47z"/>
<path color="#fee390" d="M263.3 84.23l2 1.23v2.47l-2 1.23-2-1.23v-2.47zm4 0l2 1.23v2.47l-2 1.23-2-1.23v-2.47z"/>
<path color="#ffe695" d="M259.3 84.23l2 1.23v2.47l-2 1.23-2-1.23v-2.47z"/>
<path color="#ffe99b" d="M271.3 84.23l2 1.23v2.47l-2 1.23-2-1.23v-2.47z"/>
<path color="#ffeca0" d="M247.3 91.67l2 1.23v2.47l-2 1.23-2-1.23v-2.47zm36 0l2 1.23v2.47l-2 1.23-2-1.23v-2.47zm2 3.72l2 1.23v2.47l-2 1.23-2-1.23v-2.47zm-4 14.88l2 1.23v2.47l-2 1.23-2-1.23v-2.47z"/>
<path color="#ffefa5" d="M255.3 84.23l2 1.23v2.47l-2 1.23-2-1.23v-2.47zm-10 11.16l2 1.23v2.47l-2 1.23-2-1.23v-2.47z"/>
<path color="#fff3aa" d="M275.3 84.23l2 1.23v2.47l-2 1.23-2-1.23v-2.47zm-26 3.72l2 1.23v2.47l-2 1.23-2-1.23v-2.47zm38 11.16l2 1.23v2.47l-2 1.23-2-1.23v-2.47zm-42 3.72l2 1.23v2.47l-2 1.23-2-1.23v-2.47zm8 7.44l2 1.23v2.47l-2 1.23-2-1.23v-2.47z"/>
<path color="#fff6af" d="M281.3 87.95l2 1.23v2.47l-2 1.23-2-1.23v-2.47zm-34 18.6l2 1.23v2.47l-2 1.23-2-1.23v-2.47z"/>
<path color="#fff9b5" d="M267.3 113.99l2 1.23v2.47l-2 1.23-2-1.23v-2.47zm4 0l2 1.23v2.47l-2 1.23-2-1.23v-2.47z"/>
<path color="#fffcba" d="M265.3 80.51l2 1.23v2.47l-2 1.23-2-1.23v-2.47zm-22 18.6l2 1.23v2.47l-2 1.23-2-1.23v-2.47zm44 7.44l2 1.23v2.47l-2 1.23-2-1.23v-2.47zm-24 7.44l2 1.23v2.47l-2 1.23-2-1.23v-2.47z"/>
<path color="#ffffbf" d="M261.3 80.51l2 1.23v2.47l-2 1.23-2-1.23v-2.47zm8 0l2 1.23v2.47l-2 1.23-2-1.23v-2.47zm-18 3.72l2 1.23v2.47l-2 1.23-2-1.23v-2.47zm38 18.6l2 1.23v2.47l-2 1.23-2-1.23v-2.47zm-14 11.16l2 1.23v2.47l-2 1.23-2-1.23v-2.47z"/>
<path color="#2383be" d="M468.61 15.74l1.82 1.23v2.46l-1.82 1.23-1.82-1.23v-2.46zm7.29 0l1.82 1.23v2.46l-1.82 1.23-1.82-1.23v-2.46zm-56.52 3.7l1.82 1.23v2.46l-1.82 1.23-1.82-1.23v-2.46zm40.11 0l1.82 1.23v2.46l-1.82 1.23-1.82-1.23v-2.46zm3.65 0l1.82 1.23v2.46l-1.82 1.23-1.82-1.23v-2.46zm3.65 0l1.82 1.23v2.46l-1.82 1.23-1.82-1.23v-2.46zm3.64 0l1.82 1.23v2.46l-1.82 1.23-1.82-1.23v-2.46zm3.65 0l1.82 1.23v2.46l-1.82 1.23-1.82-1.23v-2.46zm3.65 0l1.82 1.23v2.46l-1.82 1.23-1.82-1.23v-2.46zm3.64 0l1.82 1.23v2.46l-1.82 1.23-1.82-1.23v-2.46zm-45.58 3.7l1.82 1.23v2.46l-1.82 1.23-1.82-1.23v-2.46zm7.29 0l1.82 1.23v2.46l-1.82 1.23-1.82-1.23v-2.46zm3.65 0l1.82 1.23v2.46l-1.82 1.23-1.82-1.23v-2.46zm10.94 0l1.82 1.23v2.46l-1.82 1.23-1.82-1.23v-2.46zm3.65 0l1.82 1.23v2.46l-1.82 1.23-1.82-1.23v-2.46zm3.64 0l1.82 1.23v2.46l-1.82 1.23-1.82-1.23v-2.46zm3.65 0l1.82 1.23v2.46l-1.82 1.23-1.82-1.23v-2.46zm3.65 0l1.82 1.23v2.46l-1.82 1.23-1.82-1.23v-2.46zm3.64 0l1.82 1.23v2.46l-1.82 1.23-1.82-1.23v-2.46zm3.65 0l1.82 1.23v2.46l-1.82 1.23-1.82-1.23v-2.46zm3.65 0l1.82 1.23v2.46l-1.82 1.23-1.82-1.23v-2.46zm3.64 0l1.82 1.23v2.46l-1.82 1.23-1.82-1.23v-2.46zm-63.82 3.7l1.82 1.23v2.46l-1.82 1.23-1.82-1.23v-2.46zm3.65 0l1.82 1.23v2.46l-1.82 1.23-1.82-1.23v-2.46zm3.65 0l1.82 1.23v2.46l-1.82 1.23-1.82-1.23v-2.46zm3.64 0l1.82 1.23v2.46l-1.82 1.23-1.82-1.23v-2.46zm3.65 0l1.82 1.23v2.46l-1.82 1.23-1.82-1.23v-2.46zm3.65 0l1.82 1.23v2.46l-1.82 1.23-1.82-1.23v-2.46zm3.64 0l1.82 1.23v2.46l-1.82 1.23-1.82-1.23v-2.46zm3.65 0l1.82 1.23v2.46l-1.82 1.23-1.82-1.23v-2.46zm3.65 0l1.82 1.23v2.46l-1.82 1.23-1.82-1.23v-2.46zm3.65 0l1.82 1.23v2.46l-1.82 1.23-1.82-1.23v-2.46zm3.64 0l1.82 1.23v2.46l-1.82 1.23-1.82-1.23v-2.46zm3.65 0l1.82 1.23v2.46l-1.82 1.23-1.82-1.23v-2.46zm3.65 0l1.82 1.23v2.46l-1.82 1.23-1.82-1.23v-2.46zm3.64 0l1.82 1.23v2.46l-1.82 1.23-1.82-1.23v-2.46zm3.65 0l1.82 1.23v2.46l-1.82 1.23-1.82-1.23v-2.46zm3.65 0l1.82 1.23v2.46l-1.82 1.23-1.82-1.23v-2.46zm3.64 0l1.82 1.23v2.46l-1.82 1.23-1.82-1.23v-2.46zm-63.82 3.7l1.82 1.23v2.46l-1.82 1.23-1.82-1.23v-2.46zm3.65 0l1.82 1.23v2.46l-1.82 1.23-1.82-1.23v-2.46zm3.65 0l1.82 1.23v2.46l-1.82 1.23-1.82-1.23v-2.46zm3.64 0l1.82 1.23v2.46l-1.82 1.23-1.82-1.23v-2.46zm3.65 0l1.82 1.23v2.46l-1.82 1.23-1.82-1.23v-2.46zm3.65 0l1.82 1.23v2.46l-1.82 1.23-1.82-1.23v-2.46zm3.64 0l1.82 1.23v2.46l-1.82 1.23-1.82-1.23v-2.46zm3.65 0l1.82 1.23v2.46l-1.82 1.23-1.82-1.23v-2.46zm3.65 0l1.82 1.23v2.46l-1.82 1.23-1.82-1.23v-2.46zm3.64 0l1.82 1.23v2.46l-1.82 1.23-1.82-1.23v-2.46zm3.65 0l1.82 1.23v2.46l-1.82 1.23-1.82-1.23v-2.46zm3.65 0l1.82 1.23v2.46l-1.82 1.23-1.82-1.23v-2.46zm3.65 0l1.82 1.23v2.46l-1.82 1.23-1.82-1.23v-2.46zm3.64 0l1.82 1.23v2.46l-1.82 1.23-1.82-1.23v-2.46zm3.65 0l1.82 1.23v2.46l-1.82 1.23-1.82-1.23v-2.46zm3.65 0l1.82 1.23v2.46l-1.82 1.23-1.82-1.23v-2.46zm3.64 0l1.82 1.23v2.46l-1.82 1.23-1.82-1.23v-2.46zm3.65 0l1.82 1.23v2.46l-1.82 1.23-1.82-1.23v-2.46zm3.65 0l1.82 1.23v2.46l-1.82 1.23-1.82-1.23v-2.46zm3.64 0l1.82 1.23v2.46l-1.82 1.23-1.82-1.23v-2.46zm3.65 0l1.82 1.23v2.46l-1.82 1.23-1.82-1.23v-2.46zm-74.76 3.7l1.82 1.23v2.46l-1.82 1.23-1.82-1.23v-2.46zm3.65 0l1.82 1.23v2.46l-1.82 1.23-1.82-1.23v-2.46zm3.64 0l1.82 1.23v2.46l-1.82 1.23-1.82-1.23v-2.46zm3.65 0l1.82 1.23v2.46l-1.82 1.23-1.82-1.23v-2.46zm3.65 0l1.82 1.23v2.46l-1.82 1.23-1.82-1.23v-2.46zm3.64 0l1.82 1.23v2.46l-1.82 1.23-1.82-1.23v-2.46zm3.65 0l1.82 1.23v2.46l-1.82 1.23-1.82-1.23v-2.46zm3.65 0l1.82 1.23v2.46l-1.82 1.23-1.82-1.23v-2.46zm3.64 0l1.82 1.23v2.46l-1.82 1.23-1.82-1.23v-2.46zm3.65 0l1.82 1.23v2.46l-1.82 1.23-1.82-1.23v-2.46zm3.65 0l1.82 1.23v2.46l-1.82 1.23-1.82-1.23v-2.46zm3.65 0l1.82 1.23v2.46l-1.82 1.23-1.82-1.23v-2.46zm3.64 0l1.82 1.23v2.46l-1.82 1.23-1.82-1.23v-2.46zm3.65 0l1.82 1.23v2.46l-1.82 1.23-1.82-1.23v-2.46zm3.65 0l1.82 1.23v2.46l-1.82 1.23-1.82-1.23v-2.46zm3.64 0l1.82 1.23v2.46l-1.82 1.23-1.82-1.23v-2.46zm3.65 0l1.82 1.23v2.46l-1.82 1.23-1.82-1.23v-2.46zm3.65 0l1.82 1.23v2.46l-1.82 1.23-1.82-1.23v-2.46zm3.64 0l1.82 1.23v2.46l-1.82 1.23-1.82-1.23v-2.46zm3.65 0l1.82 1.23v2.46l-1.82 1.23-1.82-1.23v-2.46zm3.65 0l1.82 1.23v2.46l-1.82 1.23-1.82-1.23v-2.46zm3.65 0l1.82 1.23v2.46l-1.82 1.23-1.82-1.23v-2.46zm-78.42 3.7l1.82 1.23v2.46l-1.82 1.23-1.82-1.23v-2.46zm3.65 0l1.82 1.23v2.46l-1.82 1.23-1.82-1.23v-2.46zm3.65 0l1.82 1.23v2.46l-1.82 1.23-1.82-1.23v-2.46zm3.65 0l1.82 1.23v2.46l-1.82 1.23-1.82-1.23v-2.46zm3.64 0l1.82 1.23v2.46l-1.82 1.23-1.82-1.23v-2.46zm3.65 0l1.82 1.23v2.46l-1.82 1.23-1.82-1.23v-2.46zm3.65 0l1.82 1.23v2.46l-1.82 1.23-1.82-1.23v-2.46zm3.64 0l1.82 1.23v2.46l-1.82 1.23-1.82-1.23v-2.46zm3.65 0l1.82 1.23v2.46l-1.82 1.23-1.82-1.23v-2.46zm3.65 0l1.82 1.23v2.46l-1.82 1.23-1.82-1.23v-2.46zm3.64 0l1.82 1.23v2.46l-1.82 1.23-1.82-1.23v-2.46zm3.65 0l1.82 1.23v2.46l-1.82 1.23-1.82-1.23v-2.46zm3.65 0l1.82 1.23v2.46l-1.82 1.23-1.82-1.23v-2.46zm3.65 0l1.82 1.23v2.46l-1.82 1.23-1.82-1.23v-2.46zm3.64 0l1.82 1.23v2.46l-1.82 1.23-1.82-1.23v-2.46zm3.65 0l1.82 1.23v2.46l-1.82 1.23-1.82-1.23v-2.46zm3.65 0l1.82 1.23v2.46l-1.82 1.23-1.82-1.23v-2.46zm3.64 0l1.82 1.23v2.46l-1.82 1.23-1.82-1.23v-2.46zm3.65 0l1.82 1.23v2.46l-1.82 1.23-1.82-1.23v-2.46zm3.65 0l1.82 1.23v2.46l-1.82 1.23-1.82-1.23v-2.46zm3.64 0l1.82 1.23v2.46l-1.82 1.23-1.82-1.23v-2.46zm3.65 0l1.82 1.23v2.46l-1.82 1.23-1.82-1.23v-2.46zm3.65 0l1.82 1.23v2.46l-1.82 1.23-1.82-1.23v-2.46zm-89.35 3.7l1.82 1.23v2.46l-1.82 1.23-1.82-1.23v-2.46zm3.64 0l1.82 1.23v2.46l-1.82 1.23-1.82-1.23v-2.46zm3.65 0l1.82 1.23v2.46l-1.82 1.23-1.82-1.23v-2.46zm3.65 0l1.82 1.23v2.46l-1.82 1.23-1.82-1.23v-2.46zm3.65 0l1.82 1.23v2.46l-1.82 1.23-1.82-1.23v-2.46zm3.64 0l1.82 1.23v2.46l-1.82 1.23-1.82-1.23v-2.46zm3.65 0l1.82 1.23v2.46l-1.82 1.23-1.82-1.23v-2.46zm3.65 0l1.82 1.23v2.46l-1.82 1.23-1.82-1.23v-2.46zm3.64 0l1.82 1.23v2.46l-1.82 1.23-1.82-1.23v-2.46zm3.65 0l1.82 1.23v2.46l-1.82 1.23-1.82-1.23v-2.46zm3.65 0l1.82 1.23v2.46l-1.82 1.23-1.82-1.23v-2.46zm3.64 0l1.82 1.23v2.46l-1.82 1.23-1.82-1.23v-2.46zm7.3 0l1.82 1.23v2.46l-1.82 1.23-1.82-1.23v-2.46zm3.65 0l1.82 1.23v2.46l-1.82 1.23-1.82-1.23v-2.46zm3.64 0l1.82 1.23v2.46l-1.82 1.23-1.82-1.23v-2.46zm3.65 0l1.82 1.23v2.46l-1.82 1.23-1.82-1.23v-2.46zm3.65 0l1.82 1.23v2.46l-1.82 1.23-1.82-1.23v-2.46zm3.64 0l1.82 1.23v2.46l-1.82 1.23-1.82-1.23v-2.46zm3.65 0l1.82 1.23v2.46l-1.82 1.23-1.82-1.23v-2.46zm3.65 0l1.82 1.23v2.46l-1.82 1.23-1.82-1.23v-2.46zm3.64 0l1.82 1.23v2.46l-1.82 1.23-1.82-1.23v-2.46zm3.65 0l1.82 1.23v2.46l-1.82 1.23-1.82-1.23v-2.46zm3.65 0l1.82 1.23v2.46l-1.82 1.23-1.82-1.23v-2.46zm3.65 0l1.82 1.23v2.46l-1.82 1.23-1.82-1.23v-2.46zm-85.71 3.7l1.82 1.23v2.46l-1.82 1.23-1.82-1.23v-2.46zm3.65 0l1.82 1.23v2.46l-1.82 1.23-1.82-1.23v-2.46zm3.64 0l1.82 1.23v2.46l-1.82 1.23-1.82-1.23v-2.46zm3.65 0l1.82 1.23v2.46l-1.82 1.23-1.82-1.23v-2.46zm3.65 0l1.82 1.23v2.46l-1.82 1.23-1.82-1.23v-2.46zm3.65 0l1.82 1.23v2.46l-1.82 1.23-1.82-1.23v-2.46zm3.64 0l1.82 1.23v2.46l-1.82 1.23-1.82-1.23v-2.46zm3.65 0l1.82 1.23v2.46l-1.82 1.23-1.82-1.23v-2.46zm32.82 0l1.82 1.23v2.46l-1.82 1.23-1.82-1.23v-2.46zm3.65 0l1.82 1.23v2.46l-1.82 1.23-1.82-1.23v-2.46zm3.65 0l1.82 1.23v2.46l-1.82 1.23-1.82-1.23v-2.46zm3.64 0l1.82 1.23v2.46l-1.82 1.23-1.82-1.23v-2.46zm3.65 0l1.82 1.23v2.46l-1.82 1.23-1.82-1.23v-2.46zm3.65 0l1.82 1.23v2.46l-1.82 1.23-1.82-1.23v-2.46zm3.64 0l1.82 1.23v2.46l-1.82 1.23-1.82-1.23v-2.46zm3.65 0l1.82 1.23v2.46l-1.82 1.23-1.82-1.23v-2.46zm3.65 0l1.82 1.23v2.46l-1.82 1.23-1.82-1.23v-2.46zm-89.35 3.7l1.82 1.23v2.46l-1.82 1.23-1.82-1.23v-2.46zm3.64 0l1.82 1.23v2.46l-1.82 1.23-1.82-1.23v-2.46zm3.65 0l1.82 1.23v2.46l-1.82 1.23-1.82-1.23v-2.46zm3.65 0l1.82 1.23v2.46l-1.82 1.23-1.82-1.23v-2.46zm3.65 0l1.82 1.23v2.46l-1.82 1.23-1.82-1.23v-2.46zm3.64 0l1.82 1.23v2.46l-1.82 1.23-1.82-1.23v-2.46zm3.65 0l1.82 1.23v2.46l-1.82 1.23-1.82-1.23v-2.46zm3.65 0l1.82 1.23v2.46l-1.82 1.23-1.82-1.23v-2.46zm3.64 0l1.82 1.23v2.46l-1.82 1.23-1.82-1.23v-2.46zm29.18 0l1.82 1.23v2.46l-1.82 1.23-1.82-1.23v-2.46zm3.65 0l1.82 1.23v2.46l-1.82 1.23-1.82-1.23v-2.46zm3.64 0l1.82 1.23v2.46l-1.82 1.23-1.82-1.23v-2.46zm3.65 0l1.82 1.23v2.46l-1.82 1.23-1.82-1.23v-2.46zm3.65 0l1.82 1.23v2.46l-1.82 1.23-1.82-1.23v-2.46zm3.64 0l1.82 1.23v2.46l-1.82 1.23-1.82-1.23v-2.46zm3.65 0l1.82 1.23v2.46l-1.82 1.23-1.82-1.23v-2.46zm3.65 0l1.82 1.23v2.46l-1.82 1.23-1.82-1.23v-2.46zm3.65 0l1.82 1.23v2.46l-1.82 1.23-1.82-1.23v-2.46zm-93 3.7l1.82 1.23v2.46l-1.82 1.23-1.82-1.23v-2.46zm3.64 0l1.82 1.23v2.46l-1.82 1.23-1.82-1.23v-2.46zm3.65 0l1.82 1.23v2.46l-1.82 1.23-1.82-1.23v-2.46zm3.65 0l1.82 1.23v2.46l-1.82 1.23-1.82-1.23v-2.46zm3.64 0l1.82 1.23v2.46l-1.82 1.23-1.82-1.23v-2.46zm3.65 0l1.82 1.23v2.46l-1.82 1.23-1.82-1.23v-2.46zm3.65 0l1.82 1.23v2.46l-1.82 1.23-1.82-1.23v-2.46zm54.7 0l1.82 1.23v2.46l-1.82 1.23-1.82-1.23v-2.46zm3.65 0l1.82 1.23v2.46l-1.82 1.23-1.82-1.23v-2.46zm3.65 0l1.82 1.23v2.46l-1.82 1.23-1.82-1.23v-2.46zm3.64 0l1.82 1.23v2.46l-1.82 1.23-1.82-1.23v-2.46zm3.65 0l1.82 1.23v2.46l-1.82 1.23-1.82-1.23v-2.46zm3.65 0l1.82 1.23v2.46l-1.82 1.23-1.82-1.23v-2.46zm7.29 0l1.82 1.23v2.46l-1.82 1.23-1.82-1.23v-2.46zm-107.58 3.7l1.82 1.23v2.46l-1.82 1.23-1.82-1.23v-2.46zm3.64 0l1.82 1.23v2.46l-1.82 1.23-1.82-1.23v-2.46zm3.65 0l1.82 1.23v2.46l-1.82 1.23-1.82-1.23v-2.46zm3.65 0l1.82 1.23v2.46l-1.82 1.23-1.82-1.23v-2.46zm3.64 0l1.82 1.23v2.46l-1.82 1.23-1.82-1.23v-2.46zm3.65 0l1.82 1.23v2.46l-1.82 1.23-1.82-1.23v-2.46zm3.65 0l1.82 1.23v2.46l-1.82 1.23-1.82-1.23v-2.46zm3.65 0l1.82 1.23v2.46l-1.82 1.23-1.82-1.23v-2.46zm3.64 0l1.82 1.23v2.46l-1.82 1.23-1.82-1.23v-2.46zm51.06 0l1.82 1.23v2.46l-1.82 1.23-1.82-1.23v-2.46zm3.65 0l1.82 1.23v2.46l-1.82 1.23-1.82-1.23v-2.46zm3.64 0l1.82 1.23v2.46l-1.82 1.23-1.82-1.23v-2.46zm3.65 0l1.82 1.23v2.46l-1.82 1.23-1.82-1.23v-2.46zm3.65 0l1.82 1.23v2.46l-1.82 1.23-1.82-1.23v-2.46zm3.65 0l1.82 1.23v2.46l-1.82 1.23-1.82-1.23v-2.46zm3.64 0l1.82 1.23v2.46l-1.82 1.23-1.82-1.23v-2.46zm3.65 0l1.82 1.23v2.46l-1.82 1.23-1.82-1.23v-2.46zm-107.59 3.7l1.82 1.23v2.46l-1.82 1.23-1.82-1.23v-2.46zm3.65 0l1.82 1.23v2.46l-1.82 1.23-1.82-1.23v-2.46zm3.65 0l1.82 1.23v2.46l-1.82 1.23-1.82-1.23v-2.46zm3.64 0l1.82 1.23v2.46l-1.82 1.23-1.82-1.23v-2.46zm3.65 0l1.82 1.23v2.46l-1.82 1.23-1.82-1.23v-2.46zm3.65 0l1.82 1.23v2.46l-1.82 1.23-1.82-1.23v-2.46zm3.64 0l1.82 1.23v2.46l-1.82 1.23-1.82-1.23v-2.46zm65.65 0l1.82 1.23v2.46l-1.82 1.23-1.82-1.23v-2.46zm3.65 0l1.82 1.23v2.46l-1.82 1.23-1.82-1.23v-2.46zm3.64 0l1.82 1.23v2.46l-1.82 1.23-1.82-1.23v-2.46zm3.65 0l1.82 1.23v2.46l-1.82 1.23-1.82-1.23v-2.46zm3.65 0l1.82 1.23v2.46l-1.82 1.23-1.82-1.23v-2.46zm3.65 0l1.82 1.23v2.46l-1.82 1.23-1.82-1.23v-2.46zm3.64 0l1.82 1.23v2.46l-1.82 1.23-1.82-1.23v-2.46zm-107.58 3.7l1.82 1.23v2.46l-1.82 1.23-1.82-1.23v-2.46zm3.64 0l1.82 1.23v2.46l-1.82 1.23-1.82-1.23v-2.46zm3.65 0l1.82 1.23v2.46l-1.82 1.23-1.82-1.23v-2.46zm3.65 0l1.82 1.23v2.46l-1.82 1.23-1.82-1.23v-2.46zm3.64 0l1.82 1.23v2.46l-1.82 1.23-1.82-1.23v-2.46zm3.65 0l1.82 1.23v2.46l-1.82 1.23-1.82-1.23v-2.46zm3.65 0l1.82 1.23v2.46l-1.82 1.23-1.82-1.23v-2.46zm3.65 0l1.82 1.23v2.46l-1.82 1.23-1.82-1.23v-2.46zm61.99 0l1.82 1.23v2.46l-1.82 1.23-1.82-1.23v-2.46zm3.65 0l1.82 1.23v2.46l-1.82 1.23-1.82-1.23v-2.46zm3.65 0l1.82 1.23v2.46l-1.82 1.23-1.82-1.23v-2.46zm3.65 0l1.82 1.23v2.46l-1.82 1.23-1.82-1.23v-2.46zm3.64 0l1.82 1.23v2.46l-1.82 1.23-1.82-1.23v-2.46zm3.65 0l1.82 1.23v2.46l-1.82 1.23-1.82-1.23v-2.46zm-107.59 3.7l1.82 1.23v2.46l-1.82 1.23-1.82-1.23v-2.46zm3.65 0l1.82 1.23v2.46l-1.82 1.23-1.82-1.23v-2.46zm3.65 0l1.82 1.23v2.46l-1.82 1.23-1.82-1.23v-2.46zm3.64 0l1.82 1.23v2.46l-1.82 1.23-1.82-1.23v-2.46zm3.65 0l1.82 1.23v2.46l-1.82 1.23-1.82-1.23v-2.46zm3.65 0l1.82 1.23v2.46l-1.82 1.23-1.82-1.23v-2.46zm76.58 0l1.82 1.23v2.46l-1.82 1.23-1.82-1.23v-2.46zm3.65 0l1.82 1.23v2.46l-1.82 1.23-1.82-1.23v-2.46zm3.65 0l1.82 1.23v2.46l-1.82 1.23-1.82-1.23v-2.46zm3.65 0l1.82 1.23v2.46l-1.82 1.23-1.82-1.23v-2.46zm-111.24 3.7l1.82 1.23v2.46l-1.82 1.23-1.82-1.23v-2.46zm3.65 0l1.82 1.23v2.46l-1.82 1.23-1.82-1.23v-2.46zm3.65 0l1.82 1.23v2.46l-1.82 1.23-1.82-1.23v-2.46zm3.64 0l1.82 1.23v2.46l-1.82 1.23-1.82-1.23v-2.46zm3.65 0l1.82 1.23v2.46l-1.82 1.23-1.82-1.23v-2.46zm3.65 0l1.82 1.23v2.46l-1.82 1.23-1.82-1.23v-2.46zm3.64 0l1.82 1.23v2.46l-1.82 1.23-1.82-1.23v-2.46zm3.65 0l1.82 1.23v2.46l-1.82 1.23-1.82-1.23v-2.46zm72.94 0l1.82 1.23v2.46l-1.82 1.23-1.82-1.23v-2.46zm3.65 0l1.82 1.23v2.46l-1.82 1.23-1.82-1.23v-2.46zm3.65 0l1.82 1.23v2.46l-1.82 1.23-1.82-1.23v-2.46zm3.64 0l1.82 1.23v2.46l-1.82 1.23-1.82-1.23v-2.46zm3.65 0l1.82 1.23v2.46l-1.82 1.23-1.82-1.23v-2.46zm-114.88 3.7l1.82 1.23v2.46l-1.82 1.23-1.82-1.23v-2.46zm3.65 0l1.82 1.23v2.46l-1.82 1.23-1.82-1.23v-2.46zm3.64 0l1.82 1.23v2.46l-1.82 1.23-1.82-1.23v-2.46zm3.65 0l1.82 1.23v2.46l-1.82 1.23-1.82-1.23v-2.46zm3.65 0l1.82 1.23v2.46l-1.82 1.23-1.82-1.23v-2.46zm3.64 0l1.82 1.23v2.46l-1.82 1.23-1.82-1.23v-2.46zm3.65 0l1.82 1.23v2.46l-1.82 1.23-1.82-1.23v-2.46zm80.23 0l1.82 1.23v2.46l-1.82 1.23-1.82-1.23v-2.46zm3.65 0l1.82 1.23v2.46l-1.82 1.23-1.82-1.23v-2.46zm3.65 0l1.82 1.23v2.46l-1.82 1.23-1.82-1.23v-2.46zm3.65 0l1.82 1.23v2.46l-1.82 1.23-1.82-1.23v-2.46zm-111.24 3.7l1.82 1.23v2.46l-1.82 1.23-1.82-1.23v-2.46zm3.65 0l1.82 1.23v2.46l-1.82 1.23-1.82-1.23v-2.46zm3.65 0l1.82 1.23v2.46l-1.82 1.23-1.82-1.23v-2.46zm3.64 0l1.82 1.23v2.46l-1.82 1.23-1.82-1.23v-2.46zm3.65 0l1.82 1.23v2.46l-1.82 1.23-1.82-1.23v-2.46zm3.65 0l1.82 1.23v2.46l-1.82 1.23-1.82-1.23v-2.46zm3.64 0l1.82 1.23v2.46l-1.82 1.23-1.82-1.23v-2.46zm80.24 0l1.82 1.23v2.46l-1.82 1.23-1.82-1.23v-2.46zm3.65 0l1.82 1.23v2.46l-1.82 1.23-1.82-1.23v-2.46zm3.64 0l1.82 1.23v2.46l-1.82 1.23-1.82-1.23v-2.46zm3.65 0l1.82 1.23v2.46l-1.82 1.23-1.82-1.23v-2.46zm3.65 0l1.82 1.23v2.46l-1.82 1.23-1.82-1.23v-2.46zm-118.53 3.7l1.82 1.23v2.46l-1.82 1.23-1.82-1.23v-2.46zm3.65 0l1.82 1.23v2.46l-1.82 1.23-1.82-1.23v-2.46zm3.64 0l1.82 1.23v2.46l-1.82 1.23-1.82-1.23v-2.46zm3.65 0l1.82 1.23v2.46l-1.82 1.23-1.82-1.23v-2.46zm3.65 0l1.82 1.23v2.46l-1.82 1.23-1.82-1.23v-2.46zm3.64 0l1.82 1.23v2.46l-1.82 1.23-1.82-1.23v-2.46zm87.53 0l1.82 1.23v2.46l-1.82 1.23-1.82-1.23v-2.46zm3.65 0l1.82 1.23v2.46l-1.82 1.23-1.82-1.23v-2.46zm3.65 0l1.82 1.23v2.46l-1.82 1.23-1.82-1.23v-2.46zm-107.59 3.7l1.82 1.23v2.46l-1.82 1.23-1.82-1.23v-2.46zm3.65 0l1.82 1.23v2.46l-1.82 1.23-1.82-1.23v-2.46zm3.64 0l1.82 1.23v2.46l-1.82 1.23-1.82-1.23v-2.46zm3.65 0l1.82 1.23v2.46l-1.82 1.23-1.82-1.23v-2.46zm3.65 0l1.82 1.23v2.46l-1.82 1.23-1.82-1.23v-2.46zm3.64 0l1.82 1.23v2.46l-1.82 1.23-1.82-1.23v-2.46zm80.24 0l1.82 1.23v2.46l-1.82 1.23-1.82-1.23v-2.46zm3.65 0l1.82 1.23v2.46l-1.82 1.23-1.82-1.23v-2.46zm3.64 0l1.82 1.23v2.46l-1.82 1.23-1.82-1.23v-2.46zm3.65 0l1.82 1.23v2.46l-1.82 1.23-1.82-1.23v-2.46zm-111.23 3.7l1.82 1.23v2.46l-1.82 1.23-1.82-1.23v-2.46zm3.64 0l1.82 1.23v2.46l-1.82 1.23-1.82-1.23v-2.46zm3.65 0l1.82 1.23v2.46l-1.82 1.23-1.82-1.23v-2.46zm3.65 0l1.82 1.23v2.46l-1.82 1.23-1.82-1.23v-2.46zm3.64 0l1.82 1.23v2.46l-1.82 1.23-1.82-1.23v-2.46zm91.18 0l1.82 1.23v2.46l-1.82 1.23-1.82-1.23v-2.46zm3.65 0l1.82 1.23v2.46l-1.82 1.23-1.82-1.23v-2.46zm-107.59 3.7l1.82 1.23v2.46l-1.82 1.23-1.82-1.23v-2.46zm3.65 0l1.82 1.23v2.46l-1.82 1.23-1.82-1.23v-2.46zm3.64 0l1.82 1.23v2.46l-1.82 1.23-1.82-1.23v-2.46zm3.65 0l1.82 1.23v2.46l-1.82 1.23-1.82-1.23v-2.46zm3.65 0l1.82 1.23v2.46l-1.82 1.23-1.82-1.23v-2.46zm87.53 0l1.82 1.23v2.46l-1.82 1.23-1.82-1.23v-2.46zm3.64 0l1.82 1.23v2.46l-1.82 1.23-1.82-1.23v-2.46zm-107.58 3.7l1.82 1.23v2.46l-1.82 1.23-1.82-1.23v-2.46zm3.64 0l1.82 1.23v2.46l-1.82 1.23-1.82-1.23v-2.46zm3.65 0l1.82 1.23v2.46l-1.82 1.23-1.82-1.23v-2.46zm3.65 0l1.82 1.23v2.46l-1.82 1.23-1.82-1.23v-2.46zm3.64 0l1.82 1.23v2.46l-1.82 1.23-1.82-1.23v-2.46zm91.18 0l1.82 1.23v2.46l-1.82 1.23-1.82-1.23v-2.46zm-103.94 3.7l1.82 1.23v2.46l-1.82 1.23-1.82-1.23v-2.46zm3.65 0l1.82 1.23v2.46l-1.82 1.23-1.82-1.23v-2.46zm3.64 0l1.82 1.23v2.46l-1.82 1.23-1.82-1.23v-2.46zm3.65 0l1.82 1.23v2.46l-1.82 1.23-1.82-1.23v-2.46zm3.65 0l1.82 1.23v2.46l-1.82 1.23-1.82-1.23v-2.46zm87.53 0l1.82 1.23v2.46l-1.82 1.23-1.82-1.23v-2.46zm3.64 0l1.82 1.23v2.46l-1.82 1.23-1.82-1.23v-2.46zm-107.58 3.7l1.82 1.23v2.46l-1.82 1.23-1.82-1.23v-2.46zm3.64 0l1.82 1.23v2.46l-1.82 1.23-1.82-1.23v-2.46zm3.65 0l1.82 1.23v2.46l-1.82 1.23-1.82-1.23v-2.46zm3.65 0l1.82 1.23v2.46l-1.82 1.23-1.82-1.23v-2.46zm3.64 0l1.82 1.23v2.46l-1.82 1.23-1.82-1.23v-2.46zm91.18 0l1.82 1.23v2.46l-1.82 1.23-1.82-1.23v-2.46zm-103.94 3.7l1.82 1.23v2.46l-1.82 1.23-1.82-1.23v-2.46zm3.65 0l1.82 1.23v2.46l-1.82 1.23-1.82-1.23v-2.46zm3.64 0l1.82 1.23v2.46l-1.82 1.23-1.82-1.23v-2.46zm3.65 0l1.82 1.23v2.46l-1.82 1.23-1.82-1.23v-2.46zm3.65 0l1.82 1.23v2.46l-1.82 1.23-1.82-1.23v-2.46zm3.64 0l1.82 1.23v2.46l-1.82 1.23-1.82-1.23v-2.46zm80.24 0l1.82 1.23v2.46l-1.82 1.23-1.82-1.23v-2.46zm3.65 0l1.82 1.23v2.46l-1.82 1.23-1.82-1.23v-2.46zm-100.3 3.7l1.82 1.23v2.46l-1.82 1.23-1.82-1.23v-2.46zm3.65 0l1.82 1.23v2.46l-1.82 1.23-1.82-1.23v-2.46zm3.65 0l1.82 1.23v2.46l-1.82 1.23-1.82-1.23v-2.46zm3.64 0l1.82 1.23v2.46l-1.82 1.23-1.82-1.23v-2.46zm3.65 0l1.82 1.23v2.46l-1.82 1.23-1.82-1.23v-2.46zm83.88 0l1.82 1.23v2.46l-1.82 1.23-1.82-1.23v-2.46zm3.65 0l1.82 1.23v2.46l-1.82 1.23-1.82-1.23v-2.46zm3.65 0l1.82 1.23v2.46l-1.82 1.23-1.82-1.23v-2.46zm-103.94 3.7l1.82 1.23v2.46l-1.82 1.23-1.82-1.23v-2.46zm3.64 0l1.82 1.23v2.46l-1.82 1.23-1.82-1.23v-2.46zm3.65 0l1.82 1.23v2.46l-1.82 1.23-1.82-1.23v-2.46zm3.65 0l1.82 1.23v2.46l-1.82 1.23-1.82-1.23v-2.46zm3.64 0l1.82 1.23v2.46l-1.82 1.23-1.82-1.23v-2.46zm3.65 0l1.82 1.23v2.46l-1.82 1.23-1.82-1.23v-2.46zm3.65 0l1.82 1.23v2.46l-1.82 1.23-1.82-1.23v-2.46zm65.64 0l1.82 1.23v2.46l-1.82 1.23-1.82-1.23v-2.46zm3.65 0l1.82 1.23v2.46l-1.82 1.23-1.82-1.23v-2.46zm3.65 0l1.82 1.23v2.46l-1.82 1.23-1.82-1.23v-2.46zm3.65 0l1.82 1.23v2.46l-1.82 1.23-1.82-1.23v-2.46zm-96.65 3.7l1.82 1.23v2.46l-1.82 1.23-1.82-1.23v-2.46zm3.65 0l1.82 1.23v2.46l-1.82 1.23-1.82-1.23v-2.46zm3.64 0l1.82 1.23v2.46l-1.82 1.23-1.82-1.23v-2.46zm3.65 0l1.82 1.23v2.46l-1.82 1.23-1.82-1.23v-2.46zm3.65 0l1.82 1.23v2.46l-1.82 1.23-1.82-1.23v-2.46zm3.64 0l1.82 1.23v2.46l-1.82 1.23-1.82-1.23v-2.46zm3.65 0l1.82 1.23v2.46l-1.82 1.23-1.82-1.23v-2.46zm58.35 0l1.82 1.23v2.46l-1.82 1.23-1.82-1.23v-2.46zm3.65 0l1.82 1.23v2.46l-1.82 1.23-1.82-1.23v-2.46zm3.65 0l1.82 1.23v2.46l-1.82 1.23-1.82-1.23v-2.46zm3.64 0l1.82 1.23v2.46l-1.82 1.23-1.82-1.23v-2.46zm3.65 0l1.82 1.23v2.46l-1.82 1.23-1.82-1.23v-2.46zm-96.64 3.7l1.82 1.23v2.46l-1.82 1.23-1.82-1.23v-2.46zm3.64 0l1.82 1.23v2.46l-1.82 1.23-1.82-1.23v-2.46zm3.65 0l1.82 1.23v2.46l-1.82 1.23-1.82-1.23v-2.46zm3.65 0l1.82 1.23v2.46l-1.82 1.23-1.82-1.23v-2.46zm3.64 0l1.82 1.23v2.46l-1.82 1.23-1.82-1.23v-2.46zm3.65 0l1.82 1.23v2.46l-1.82 1.23-1.82-1.23v-2.46zm3.65 0l1.82 1.23v2.46l-1.82 1.23-1.82-1.23v-2.46zm3.65 0l1.82 1.23v2.46l-1.82 1.23-1.82-1.23v-2.46zm3.64 0l1.82 1.23v2.46l-1.82 1.23-1.82-1.23v-2.46zm3.65 0l1.82 1.23v2.46l-1.82 1.23-1.82-1.23v-2.46zm3.65 0l1.82 1.23v2.46l-1.82 1.23-1.82-1.23v-2.46zm3.64 0l1.82 1.23v2.46l-1.82 1.23-1.82-1.23v-2.46zm3.65 0l1.82 1.23v2.46l-1.82 1.23-1.82-1.23v-2.46zm3.65 0l1.82 1.23v2.46l-1.82 1.23-1.82-1.23v-2.46zm3.64 0l1.82 1.23v2.46l-1.82 1.23-1.82-1.23v-2.46zm7.3 0l1.82 1.23v2.46l-1.82 1.23-1.82-1.23v-2.46zm3.65 0l1.82 1.23v2.46l-1.82 1.23-1.82-1.23v-2.46zm3.64 0l1.82 1.23v2.46l-1.82 1.23-1.82-1.23v-2.46zm3.65 0l1.82 1.23v2.46l-1.82 1.23-1.82-1.23v-2.46zm3.65 0l1.82 1.23v2.46l-1.82 1.23-1.82-1.23v-2.46zm3.64 0l1.82 1.23v2.46l-1.82 1.23-1.82-1.23v-2.46zm3.65 0l1.82 1.23v2.46l-1.82 1.23-1.82-1.23v-2.46zm3.65 0l1.82 1.23v2.46l-1.82 1.23-1.82-1.23v-2.46zm3.64 0l1.82 1.23v2.46l-1.82 1.23-1.82-1.23v-2.46zm3.65 0l1.82 1.23v2.46l-1.82 1.23-1.82-1.23v-2.46zm7.3 0l1.82 1.23v2.46l-1.82 1.23-1.82-1.23v-2.46zm-93 3.7l1.82 1.23v2.46l-1.82 1.23-1.82-1.23v-2.46zm3.64 0l1.82 1.23v2.46l-1.82 1.23-1.82-1.23v-2.46zm3.65 0l1.82 1.23v2.46l-1.82 1.23-1.82-1.23v-2.46zm3.65 0l1.82 1.23v2.46l-1.82 1.23-1.82-1.23v-2.46zm3.64 0l1.82 1.23v2.46l-1.82 1.23-1.82-1.23v-2.46zm3.65 0l1.82 1.23v2.46l-1.82 1.23-1.82-1.23v-2.46zm3.65 0l1.82 1.23v2.46l-1.82 1.23-1.82-1.23v-2.46zm3.65 0l1.82 1.23v2.46l-1.82 1.23-1.82-1.23v-2.46zm3.64 0l1.82 1.23v2.46l-1.82 1.23-1.82-1.23v-2.46zm3.65 0l1.82 1.23v2.46l-1.82 1.23-1.82-1.23v-2.46zm3.65 0l1.82 1.23v2.46l-1.82 1.23-1.82-1.23v-2.46zm3.64 0l1.82 1.23v2.46l-1.82 1.23-1.82-1.23v-2.46zm3.65 0l1.82 1.23v2.46l-1.82 1.23-1.82-1.23v-2.46zm3.65 0l1.82 1.23v2.46l-1.82 1.23-1.82-1.23v-2.46zm3.64 0l1.82 1.23v2.46l-1.82 1.23-1.82-1.23v-2.46zm3.65 0l1.82 1.23v2.46l-1.82 1.23-1.82-1.23v-2.46zm3.65 0l1.82 1.23v2.46l-1.82 1.23-1.82-1.23v-2.46zm3.65 0l1.82 1.23v2.46l-1.82 1.23-1.82-1.23v-2.46zm3.64 0l1.82 1.23v2.46l-1.82 1.23-1.82-1.23v-2.46zm3.65 0l1.82 1.23v2.46l-1.82 1.23-1.82-1.23v-2.46zm3.65 0l1.82 1.23v2.46l-1.82 1.23-1.82-1.23v-2.46zm3.64 0l1.82 1.23v2.46l-1.82 1.23-1.82-1.23v-2.46zm3.65 0l1.82 1.23v2.46l-1.82 1.23-1.82-1.23v-2.46zm-89.35 3.7l1.82 1.23v2.46l-1.82 1.23-1.82-1.23v-2.46zm14.59 0l1.82 1.23v2.46l-1.82 1.23-1.82-1.23v-2.46zm3.64 0l1.82 1.23v2.46l-1.82 1.23-1.82-1.23v-2.46zm3.65 0l1.82 1.23v2.46l-1.82 1.23-1.82-1.23v-2.46zm3.65 0l1.82 1.23v2.46l-1.82 1.23-1.82-1.23v-2.46zm3.65 0l1.82 1.23v2.46l-1.82 1.23-1.82-1.23v-2.46zm3.64 0l1.82 1.23v2.46l-1.82 1.23-1.82-1.23v-2.46zm3.65 0l1.82 1.23v2.46l-1.82 1.23-1.82-1.23v-2.46zm3.65 0l1.82 1.23v2.46l-1.82 1.23-1.82-1.23v-2.46zm3.64 0l1.82 1.23v2.46l-1.82 1.23-1.82-1.23v-2.46zm3.65 0l1.82 1.23v2.46l-1.82 1.23-1.82-1.23v-2.46zm3.65 0l1.82 1.23v2.46l-1.82 1.23-1.82-1.23v-2.46zm3.64 0l1.82 1.23v2.46l-1.82 1.23-1.82-1.23v-2.46zm3.65 0l1.82 1.23v2.46l-1.82 1.23-1.82-1.23v-2.46zm3.65 0l1.82 1.23v2.46l-1.82 1.23-1.82-1.23v-2.46zm3.65 0l1.82 1.23v2.46l-1.82 1.23-1.82-1.23v-2.46zm3.64 0l1.82 1.23v2.46l-1.82 1.23-1.82-1.23v-2.46zm3.65 0l1.82 1.23v2.46l-1.82 1.23-1.82-1.23v-2.46zm3.65 0l1.82 1.23v2.46l-1.82 1.23-1.82-1.23v-2.46zm3.64 0l1.82 1.23v2.46l-1.82 1.23-1.82-1.23v-2.46zm3.65 0l1.82 1.23v2.46l-1.82 1.23-1.82-1.23v-2.46zm3.65 0l1.82 1.23v2.46l-1.82 1.23-1.82-1.23v-2.46zm3.64 0l1.82 1.23v2.46l-1.82 1.23-1.82-1.23v-2.46zm-71.11 3.7l1.82 1.23v2.46l-1.82 1.23-1.82-1.23v-2.46zm3.64 0l1.82 1.23v2.46l-1.82 1.23-1.82-1.23v-2.46zm3.65 0l1.82 1.23v2.46l-1.82 1.23-1.82-1.23v-2.46zm3.65 0l1.82 1.23v2.46l-1.82 1.23-1.82-1.23v-2.46zm3.65 0l1.82 1.23v2.46l-1.82 1.23-1.82-1.23v-2.46zm3.64 0l1.82 1.23v2.46l-1.82 1.23-1.82-1.23v-2.46zm3.65 0l1.82 1.23v2.46l-1.82 1.23-1.82-1.23v-2.46zm3.65 0l1.82 1.23v2.46l-1.82 1.23-1.82-1.23v-2.46zm3.64 0l1.82 1.23v2.46l-1.82 1.23-1.82-1.23v-2.46zm3.65 0l1.82 1.23v2.46l-1.82 1.23-1.82-1.23v-2.46zm3.65 0l1.82 1.23v2.46l-1.82 1.23-1.82-1.23v-2.46zm3.64 0l1.82 1.23v2.46l-1.82 1.23-1.82-1.23v-2.46zm3.65 0l1.82 1.23v2.46l-1.82 1.23-1.82-1.23v-2.46zm3.65 0l1.82 1.23v2.46l-1.82 1.23-1.82-1.23v-2.46zm3.65 0l1.82 1.23v2.46l-1.82 1.23-1.82-1.23v-2.46zm3.64 0l1.82 1.23v2.46l-1.82 1.23-1.82-1.23v-2.46zm3.65 0l1.82 1.23v2.46l-1.82 1.23-1.82-1.23v-2.46zm-52.88 3.7l1.82 1.23v2.46l-1.82 1.23-1.82-1.23v-2.46zm3.65 0l1.82 1.23v2.46l-1.82 1.23-1.82-1.23v-2.46zm3.64 0l1.82 1.23v2.46l-1.82 1.23-1.82-1.23v-2.46zm7.3 0l1.82 1.23v2.46l-1.82 1.23-1.82-1.23v-2.46zm3.64 0l1.82 1.23v2.46l-1.82 1.23-1.82-1.23v-2.46zm3.65 0l1.82 1.23v2.46l-1.82 1.23-1.82-1.23v-2.46zm7.29 0l1.82 1.23v2.46l-1.82 1.23-1.82-1.23v-2.46zm7.3 0l1.82 1.23v2.46l-1.82 1.23-1.82-1.23v-2.46zm3.65 0l1.82 1.23v2.46l-1.82 1.23-1.82-1.23v-2.46zm3.64 0l1.82 1.23v2.46l-1.82 1.23-1.82-1.23v-2.46zm-27.35 3.7l1.82 1.23v2.46l-1.82 1.23-1.82-1.23v-2.46zm-1.82 3.7l1.82 1.23v2.46l-1.82 1.23-1.82-1.23v-2.46z"/>
<path color="#3089bc" d="M448.55 41.64l1.82 1.23v2.46l-1.82 1.23-1.82-1.23v-2.46zm-12.76 3.7l1.82 1.23v2.46l-1.82 1.23-1.82-1.23v-2.46zm25.53 0l1.82 1.23v2.46l-1.82 1.23-1.82-1.23v-2.46zm-23.71 3.7l1.82 1.23v2.46l-1.82 1.23-1.82-1.23v-2.46zm3.65 0l1.82 1.23v2.46l-1.82 1.23-1.82-1.23v-2.46zm3.64 0l1.82 1.23v2.46l-1.82 1.23-1.82-1.23v-2.46zm10.95 0l1.82 1.23v2.46l-1.82 1.23-1.82-1.23v-2.46zm3.64 0l1.82 1.23v2.46l-1.82 1.23-1.82-1.23v-2.46zm-34.64 3.7l1.82 1.23v2.46l-1.82 1.23-1.82-1.23v-2.46zm47.41 0l1.82 1.23v2.46l-1.82 1.23-1.82-1.23v-2.46zm-45.59 3.7l1.82 1.23v2.46l-1.82 1.23-1.82-1.23v-2.46zm43.76 0l1.82 1.23v2.46l-1.82 1.23-1.82-1.23v-2.46zm-52.88 3.7l1.82 1.23v2.46l-1.82 1.23-1.82-1.23v-2.46zm60.18 3.7l1.82 1.23v2.46l-1.82 1.23-1.82-1.23v-2.46zm5.47 3.7l1.82 1.23v2.46l-1.82 1.23-1.82-1.23v-2.46zm-67.47 3.7l1.82 1.23v2.46l-1.82 1.23-1.82-1.23v-2.46zm65.64 0l1.82 1.23v2.46l-1.82 1.23-1.82-1.23v-2.46zm-69.29 7.4l1.82 1.23v2.46l-1.82 1.23-1.82-1.23v-2.46zm72.94 0l1.82 1.23v2.46l-1.82 1.23-1.82-1.23v-2.46zm-78.41 3.7l1.82 1.23v2.46l-1.82 1.23-1.82-1.23v-2.46zm83.88 7.4l1.82 1.23v2.46l-1.82 1.23-1.82-1.23v-2.46zm-82.06 3.7l1.82 1.23v2.46l-1.82 1.23-1.82-1.23v-2.46zm80.24 0l1.82 1.23v2.46l-1.82 1.23-1.82-1.23v-2.46zm1.82 3.7l1.82 1.23v2.46l-1.82 1.23-1.82-1.23v-2.46zm-82.06 3.7l1.82 1.23v2.46l-1.82 1.23-1.82-1.23v-2.46zm80.24 0l1.82 1.23v2.46l-1.82 1.23-1.82-1.23v-2.46zm1.82 3.7l1.82 1.23v2.46l-1.82 1.23-1.82-1.23v-2.46zm-3.65 7.4l1.82 1.23v2.46l-1.82 1.23-1.82-1.23v-2.46zm-67.46 3.7l1.82 1.23v2.46l-1.82 1.23-1.82-1.23v-2.46zm58.35 0l1.82 1.23v2.46l-1.82 1.23-1.82-1.23v-2.46zm-56.53 3.7l1.82 1.23v2.46l-1.82 1.23-1.82-1.23v-2.46z"/>
<path color="#3a8fb9" d="M439.43 45.34l1.82 1.23v2.46l-1.82 1.23-1.82-1.23v-2.46zm3.65 0l1.82 1.23v2.46l-1.82 1.23-1.82-1.23v-2.46zm3.65 0l1.82 1.23v2.46l-1.82 1.23-1.82-1.23v-2.46zm7.29 0l1.82 1.23v2.46l-1.82 1.23-1.82-1.23v-2.46zm3.65 0l1.82 1.23v2.46l-1.82 1.23-1.82-1.23v-2.46zm-5.47 3.7l1.82 1.23v2.46l-1.82 1.23-1.82-1.23v-2.46zm-23.71 3.7l1.82 1.23v2.46l-1.82 1.23-1.82-1.23v-2.46zm40.12 0l1.82 1.23v2.46l-1.82 1.23-1.82-1.23v-2.46zm-38.29 3.7l1.82 1.23v2.46l-1.82 1.23-1.82-1.23v-2.46zm36.47 0l1.82 1.23v2.46l-1.82 1.23-1.82-1.23v-2.46zm9.11 3.7l1.82 1.23v2.46l-1.82 1.23-1.82-1.23v-2.46zm-52.88 3.7l1.82 1.23v2.46l-1.82 1.23-1.82-1.23v-2.46zm51.06 0l1.82 1.23v2.46l-1.82 1.23-1.82-1.23v-2.46zm-60.18 3.7l1.82 1.23v2.46l-1.82 1.23-1.82-1.23v-2.46zm-3.64 7.4l1.82 1.23v2.46l-1.82 1.23-1.82-1.23v-2.46zm72.94 0l1.82 1.23v2.46l-1.82 1.23-1.82-1.23v-2.46zm3.64 7.4l1.82 1.23v2.46l-1.82 1.23-1.82-1.23v-2.46zm-74.76 3.7l1.82 1.23v2.46l-1.82 1.23-1.82-1.23v-2.46zm72.94 0l1.82 1.23v2.46l-1.82 1.23-1.82-1.23v-2.46zm-78.41 3.7l1.82 1.23v2.46l-1.82 1.23-1.82-1.23v-2.46zm5.47 18.5l1.82 1.23v2.46l-1.82 1.23-1.82-1.23v-2.46zm72.94 0l1.82 1.23v2.46l-1.82 1.23-1.82-1.23v-2.46zm-74.76 3.7l1.82 1.23v2.46l-1.82 1.23-1.82-1.23v-2.46zm14.59 7.4l1.82 1.23v2.46l-1.82 1.23-1.82-1.23v-2.46zm47.41 0l1.82 1.23v2.46l-1.82 1.23-1.82-1.23v-2.46zm-23.71 3.7l1.82 1.23v2.46l-1.82 1.23-1.82-1.23v-2.46z"/>
<path color="#4295b7" d="M464.96 52.74l1.82 1.23v2.46l-1.82 1.23-1.82-1.23v-2.46zm-31 3.7l1.82 1.23v2.46l-1.82 1.23-1.82-1.23v-2.46zm29.18 0l1.82 1.23v2.46l-1.82 1.23-1.82-1.23v-2.46zm-41.94 3.7l1.82 1.23v2.46l-1.82 1.23-1.82-1.23v-2.46zm58.35 7.4l1.82 1.23v2.46l-1.82 1.23-1.82-1.23v-2.46zm-60.17 3.7l1.82 1.23v2.46l-1.82 1.23-1.82-1.23v-2.46zm58.35 0l1.82 1.23v2.46l-1.82 1.23-1.82-1.23v-2.46zm-62 7.4l1.82 1.23v2.46l-1.82 1.23-1.82-1.23v-2.46zm65.64 0l1.82 1.23v2.46l-1.82 1.23-1.82-1.23v-2.46zm-71.11 3.7l1.82 1.23v2.46l-1.82 1.23-1.82-1.23v-2.46zm76.58 7.4l1.82 1.23v2.46l-1.82 1.23-1.82-1.23v-2.46zm-74.76 3.7l1.82 1.23v2.46l-1.82 1.23-1.82-1.23v-2.46zm72.94 0l1.82 1.23v2.46l-1.82 1.23-1.82-1.23v-2.46zm-78.41 3.7l1.82 1.23v2.46l-1.82 1.23-1.82-1.23v-2.46zm78.41 3.7l1.82 1.23v2.46l-1.82 1.23-1.82-1.23v-2.46zm-78.41 3.7l1.82 1.23v2.46l-1.82 1.23-1.82-1.23v-2.46zm76.59 7.4l1.82 1.23v2.46l-1.82 1.23-1.82-1.23v-2.46zm-60.18 3.7l1.82 1.23v2.46l-1.82 1.23-1.82-1.23v-2.46zm51.06 0l1.82 1.23v2.46l-1.82 1.23-1.82-1.23v-2.46zm-5.47 3.7l1.82 1.23v2.46l-1.82 1.23-1.82-1.23v-2.46z"/>
<path color="#499cb5" d="M450.37 45.34l1.82 1.23v2.46l-1.82 1.23-1.82-1.23v-2.46zm-18.23 7.4l1.82 1.23v2.46l-1.82 1.23-1.82-1.23v-2.46zm5.47 3.7l1.82 1.23v2.46l-1.82 1.23-1.82-1.23v-2.46zm21.88 0l1.82 1.23v2.46l-1.82 1.23-1.82-1.23v-2.46zm12.77 3.7l1.82 1.23v2.46l-1.82 1.23-1.82-1.23v-2.46zm-45.59 3.7l1.82 1.23v2.46l-1.82 1.23-1.82-1.23v-2.46zm43.76 0l1.82 1.23v2.46l-1.82 1.23-1.82-1.23v-2.46zm-52.88 3.7l1.82 1.23v2.46l-1.82 1.23-1.82-1.23v-2.46zm-3.65 7.4l1.82 1.23v2.46l-1.82 1.23-1.82-1.23v-2.46zm67.47 11.1l1.82 1.23v2.46l-1.82 1.23-1.82-1.23v-2.46zm5.47 11.1l1.82 1.23v2.46l-1.82 1.23-1.82-1.23v-2.46zm-74.76 3.7l1.82 1.23v2.46l-1.82 1.23-1.82-1.23v-2.46zm74.76 3.7l1.82 1.23v2.46l-1.82 1.23-1.82-1.23v-2.46zm-5.47 3.7l1.82 1.23v2.46l-1.82 1.23-1.82-1.23v-2.46zm-67.47 3.7l1.82 1.23v2.46l-1.82 1.23-1.82-1.23v-2.46zm14.59 7.4l1.82 1.23v2.46l-1.82 1.23-1.82-1.23v-2.46z"/>
<path color="#4fa2b2" d="M435.79 52.74l1.82 1.23v2.46l-1.82 1.23-1.82-1.23v-2.46zm25.53 0l1.82 1.23v2.46l-1.82 1.23-1.82-1.23v-2.46zm-20.06 3.7l1.82 1.23v2.46l-1.82 1.23-1.82-1.23v-2.46zm3.64 0l1.82 1.23v2.46l-1.82 1.23-1.82-1.23v-2.46zm7.3 0l1.82 1.23v2.46l-1.82 1.23-1.82-1.23v-2.46zm3.65 0l1.82 1.23v2.46l-1.82 1.23-1.82-1.23v-2.46zm-31 3.7l1.82 1.23v2.46l-1.82 1.23-1.82-1.23v-2.46zm5.47 3.7l1.82 1.23v2.46l-1.82 1.23-1.82-1.23v-2.46zm45.58 3.7l1.82 1.23v2.46l-1.82 1.23-1.82-1.23v-2.46zm-52.88 3.7l1.82 1.23v2.46l-1.82 1.23-1.82-1.23v-2.46zm51.06 0l1.82 1.23v2.46l-1.82 1.23-1.82-1.23v-2.46zm5.47 3.7l1.82 1.23v2.46l-1.82 1.23-1.82-1.23v-2.46zm-60.17 3.7l1.82 1.23v2.46l-1.82 1.23-1.82-1.23v-2.46zm58.35 0l1.82 1.23v2.46l-1.82 1.23-1.82-1.23v-2.46zm5.47 3.7l1.82 1.23v2.46l-1.82 1.23-1.82-1.23v-2.46zm-67.47 3.7l1.82 1.23v2.46l-1.82 1.23-1.82-1.23v-2.46zm-5.47 3.7l1.82 1.23v2.46l-1.82 1.23-1.82-1.23v-2.46zm5.47 18.5l1.82 1.23v2.46l-1.82 1.23-1.82-1.23v-2.46zm10.94 7.4l1.82 1.23v2.46l-1.82 1.23-1.82-1.23v-2.46zm43.76 0l1.82 1.23v2.46l-1.82 1.23-1.82-1.23v-2.46zm-38.29 3.7l1.82 1.23v2.46l-1.82 1.23-1.82-1.23v-2.46zm32.82 0l1.82 1.23v2.46l-1.82 1.23-1.82-1.23v-2.46z"/>
<path color="#55a8b0" d="M448.55 49.04l1.82 1.23v2.46l-1.82 1.23-1.82-1.23v-2.46zm-9.12 3.7l1.82 1.23v2.46l-1.82 1.23-1.82-1.23v-2.46zm18.24 0l1.82 1.23v2.46l-1.82 1.23-1.82-1.23v-2.46zm10.94 7.4l1.82 1.23v2.46l-1.82 1.23-1.82-1.23v-2.46zm-1.82 3.7l1.82 1.23v2.46l-1.82 1.23-1.82-1.23v-2.46zm-45.59 3.7l1.82 1.23v2.46l-1.82 1.23-1.82-1.23v-2.46zm-7.3 14.8l1.82 1.23v2.46l-1.82 1.23-1.82-1.23v-2.46zm1.83 11.1l1.82 1.23v2.46l-1.82 1.23-1.82-1.23v-2.46zm65.64 0l1.82 1.23v2.46l-1.82 1.23-1.82-1.23v-2.46zm-71.11 3.7l1.82 1.23v2.46l-1.82 1.23-1.82-1.23v-2.46zm0 7.4l1.82 1.23v2.46l-1.82 1.23-1.82-1.23v-2.46zm69.29 7.4l1.82 1.23v2.46l-1.82 1.23-1.82-1.23v-2.46zm-18.23 7.4l1.82 1.23v2.46l-1.82 1.23-1.82-1.23v-2.46z"/>
<path color="#5aafad" d="M443.08 52.74l1.82 1.23v2.46l-1.82 1.23-1.82-1.23v-2.46zm3.65 0l1.82 1.23v2.46l-1.82 1.23-1.82-1.23v-2.46zm7.29 0l1.82 1.23v2.46l-1.82 1.23-1.82-1.23v-2.46zm-25.53 7.4l1.82 1.23v2.46l-1.82 1.23-1.82-1.23v-2.46zm5.47 3.7l1.82 1.23v2.46l-1.82 1.23-1.82-1.23v-2.46zm29.18 0l1.82 1.23v2.46l-1.82 1.23-1.82-1.23v-2.46zm-36.47 7.4l1.82 1.23v2.46l-1.82 1.23-1.82-1.23v-2.46zm43.76 0l1.82 1.23v2.46l-1.82 1.23-1.82-1.23v-2.46zm-52.88 3.7l1.82 1.23v2.46l-1.82 1.23-1.82-1.23v-2.46zm65.65 14.8l1.82 1.23v2.46l-1.82 1.23-1.82-1.23v-2.46zm-67.47 11.1l1.82 1.23v2.46l-1.82 1.23-1.82-1.23v-2.46zm65.64 0l1.82 1.23v2.46l-1.82 1.23-1.82-1.23v-2.46zm-51.05 14.8l1.82 1.23v2.46l-1.82 1.23-1.82-1.23v-2.46zm36.47 0l1.82 1.23v2.46l-1.82 1.23-1.82-1.23v-2.46zm-31 3.7l1.82 1.23v2.46l-1.82 1.23-1.82-1.23v-2.46z"/>
<path color="#5eb5ab" d="M464.96 60.14l1.82 1.23v2.46l-1.82 1.23-1.82-1.23v-2.46zm-27.35 3.7l1.82 1.23v2.46l-1.82 1.23-1.82-1.23v-2.46zm34.65 3.7l1.82 1.23v2.46l-1.82 1.23-1.82-1.23v-2.46zm-49.24 11.1l1.82 1.23v2.46l-1.82 1.23-1.82-1.23v-2.46zm51.06 0l1.82 1.23v2.46l-1.82 1.23-1.82-1.23v-2.46zm5.47 3.7l1.82 1.23v2.46l-1.82 1.23-1.82-1.23v-2.46zm-60.17 3.7l1.82 1.23v2.46l-1.82 1.23-1.82-1.23v-2.46zm58.35 0l1.82 1.23v2.46l-1.82 1.23-1.82-1.23v-2.46zm5.47 11.1l1.82 1.23v2.46l-1.82 1.23-1.82-1.23v-2.46zm0 7.4l1.82 1.23v2.46l-1.82 1.23-1.82-1.23v-2.46zm-63.82 3.7l1.82 1.23v2.46l-1.82 1.23-1.82-1.23v-2.46zm58.35 0l1.82 1.23v2.46l-1.82 1.23-1.82-1.23v-2.46zm-60.18 3.7l1.82 1.23v2.46l-1.82 1.23-1.82-1.23v-2.46zm16.41 3.7l1.82 1.23v2.46l-1.82 1.23-1.82-1.23v-2.46zm5.47 3.7l1.82 1.23v2.46l-1.82 1.23-1.82-1.23v-2.46zm18.24 0l1.82 1.23v2.46l-1.82 1.23-1.82-1.23v-2.46z"/>
<path color="#62bba8" d="M432.14 60.14l1.82 1.23v2.46l-1.82 1.23-1.82-1.23v-2.46zm27.35 3.7l1.82 1.23v2.46l-1.82 1.23-1.82-1.23v-2.46zm-34.64 3.7l1.82 1.23v2.46l-1.82 1.23-1.82-1.23v-2.46zm51.05 7.4l1.82 1.23v2.46l-1.82 1.23-1.82-1.23v-2.46zm-62 14.8l1.82 1.23v2.46l-1.82 1.23-1.82-1.23v-2.46zm49.24 25.9l1.82 1.23v2.46l-1.82 1.23-1.82-1.23v-2.46zm-20.06 3.7l1.82 1.23v2.46l-1.82 1.23-1.82-1.23v-2.46zm3.65 0l1.82 1.23v2.46l-1.82 1.23-1.82-1.23v-2.46zm7.29 0l1.82 1.23v2.46l-1.82 1.23-1.82-1.23v-2.46z"/>
<path color="#66c2a5" d="M450.37 52.74l1.82 1.23v2.46l-1.82 1.23-1.82-1.23v-2.46zm10.95 7.4l1.82 1.23v2.46l-1.82 1.23-1.82-1.23v-2.46zm-20.06 3.7l1.82 1.23v2.46l-1.82 1.23-1.82-1.23v-2.46zm14.59 0l1.82 1.23v2.46l-1.82 1.23-1.82-1.23v-2.46zm-25.53 7.4l1.82 1.23v2.46l-1.82 1.23-1.82-1.23v-2.46zm36.47 0l1.82 1.23v2.46l-1.82 1.23-1.82-1.23v-2.46zm-45.59 3.7l1.82 1.23v2.46l-1.82 1.23-1.82-1.23v-2.46zm-3.65 7.4l1.82 1.23v2.46l-1.82 1.23-1.82-1.23v-2.46zm1.83 11.1l1.82 1.23v2.46l-1.82 1.23-1.82-1.23v-2.46zm58.35 0l1.82 1.23v2.46l-1.82 1.23-1.82-1.23v-2.46zm-63.83 3.7l1.82 1.23v2.46l-1.82 1.23-1.82-1.23v-2.46zm0 7.4l1.82 1.23v2.46l-1.82 1.23-1.82-1.23v-2.46zm62 7.4l1.82 1.23v2.46l-1.82 1.23-1.82-1.23v-2.46zm-38.29 3.7l1.82 1.23v2.46l-1.82 1.23-1.82-1.23v-2.46z"/>
<path color="#6ec5a5" d="M435.79 60.14l1.82 1.23v2.46l-1.82 1.23-1.82-1.23v-2.46zm9.11 3.7l1.82 1.23v2.46l-1.82 1.23-1.82-1.23v-2.46zm7.3 0l1.82 1.23v2.46l-1.82 1.23-1.82-1.23v-2.46zm16.41 3.7l1.82 1.23v2.46l-1.82 1.23-1.82-1.23v-2.46zm-41.94 11.1l1.82 1.23v2.46l-1.82 1.23-1.82-1.23v-2.46zm-3.65 7.4l1.82 1.23v2.46l-1.82 1.23-1.82-1.23v-2.46zm56.53 3.7l1.82 1.23v2.46l-1.82 1.23-1.82-1.23v-2.46zm-60.17 11.1l1.82 1.23v2.46l-1.82 1.23-1.82-1.23v-2.46zm58.35 0l1.82 1.23v2.46l-1.82 1.23-1.82-1.23v-2.46zm-54.71 7.4l1.82 1.23v2.46l-1.82 1.23-1.82-1.23v-2.46zm36.47 7.4l1.82 1.23v2.46l-1.82 1.23-1.82-1.23v-2.46z"/>
<path color="#76c7a5" d="M448.55 56.44l1.82 1.23v2.46l-1.82 1.23-1.82-1.23v-2.46zm-9.12 3.7l1.82 1.23v2.46l-1.82 1.23-1.82-1.23v-2.46zm18.24 0l1.82 1.23v2.46l-1.82 1.23-1.82-1.23v-2.46zm-29.18 7.4l1.82 1.23v2.46l-1.82 1.23-1.82-1.23v-2.46zm5.47 3.7l1.82 1.23v2.46l-1.82 1.23-1.82-1.23v-2.46zm36.47 7.4l1.82 1.23v2.46l-1.82 1.23-1.82-1.23v-2.46zm3.65 7.4l1.82 1.23v2.46l-1.82 1.23-1.82-1.23v-2.46zm0 22.2l1.82 1.23v2.46l-1.82 1.23-1.82-1.23v-2.46zm-52.88 3.7l1.82 1.23v2.46l-1.82 1.23-1.82-1.23v-2.46zm20.06 3.7l1.82 1.23v2.46l-1.82 1.23-1.82-1.23v-2.46zm14.59 0l1.82 1.23v2.46l-1.82 1.23-1.82-1.23v-2.46zm-5.48 3.7l1.82 1.23v2.46l-1.82 1.23-1.82-1.23v-2.46z"/>
<path color="#7dcaa5" d="M443.08 60.14l1.82 1.23v2.46l-1.82 1.23-1.82-1.23v-2.46zm10.94 0l1.82 1.23v2.46l-1.82 1.23-1.82-1.23v-2.46zm9.12 11.1l1.82 1.23v2.46l-1.82 1.23-1.82-1.23v-2.46zm9.12 3.7l1.82 1.23v2.46l-1.82 1.23-1.82-1.23v-2.46zm3.64 7.4l1.82 1.23v2.46l-1.82 1.23-1.82-1.23v-2.46zm3.65 14.8l1.82 1.23v2.46l-1.82 1.23-1.82-1.23v-2.46zm0 7.4l1.82 1.23v2.46l-1.82 1.23-1.82-1.23v-2.46zm-34.65 11.1l1.82 1.23v2.46l-1.82 1.23-1.82-1.23v-2.46zm7.3 0l1.82 1.23v2.46l-1.82 1.23-1.82-1.23v-2.46z"/>
<path color="#84cda5" d="M446.73 60.14l1.82 1.23v2.46l-1.82 1.23-1.82-1.23v-2.46zm18.23 7.4l1.82 1.23v2.46l-1.82 1.23-1.82-1.23v-2.46zm-27.35 3.7l1.82 1.23v2.46l-1.82 1.23-1.82-1.23v-2.46zm-20.06 18.5l1.82 1.23v2.46l-1.82 1.23-1.82-1.23v-2.46zm5.47 3.7l1.82 1.23v2.46l-1.82 1.23-1.82-1.23v-2.46zm51.06 0l1.82 1.23v2.46l-1.82 1.23-1.82-1.23v-2.46zm-1.82 18.5l1.82 1.23v2.46l-1.82 1.23-1.82-1.23v-2.46z"/>
<path color="#8bcfa5" d="M432.14 67.54l1.82 1.23v2.46l-1.82 1.23-1.82-1.23v-2.46zm27.35 3.7l1.82 1.23v2.46l-1.82 1.23-1.82-1.23v-2.46zm-34.64 3.7l1.82 1.23v2.46l-1.82 1.23-1.82-1.23v-2.46zm5.47 3.7l1.82 1.23v2.46l-1.82 1.23-1.82-1.23v-2.46zm36.47 0l1.82 1.23v2.46l-1.82 1.23-1.82-1.23v-2.46zm-45.59 3.7l1.82 1.23v2.46l-1.82 1.23-1.82-1.23v-2.46zm5.47 3.7l1.82 1.23v2.46l-1.82 1.23-1.82-1.23v-2.46zm-3.65 14.8l1.82 1.23v2.46l-1.82 1.23-1.82-1.23v-2.46zm-5.47 3.7l1.82 1.23v2.46l-1.82 1.23-1.82-1.23v-2.46z"/>
<path color="#91d2a5" d="M441.26 71.24l1.82 1.23v2.46l-1.82 1.23-1.82-1.23v-2.46zm29.17 14.8l1.82 1.23v2.46l-1.82 1.23-1.82-1.23v-2.46zm-52.88 11.1l1.82 1.23v2.46l-1.82 1.23-1.82-1.23v-2.46zm56.53 3.7l1.82 1.23v2.46l-1.82 1.23-1.82-1.23v-2.46zm-47.41 7.4l1.82 1.23v2.46l-1.82 1.23-1.82-1.23v-2.46zm43.76 0l1.82 1.23v2.46l-1.82 1.23-1.82-1.23v-2.46zm-45.58 3.7l1.82 1.23v2.46l-1.82 1.23-1.82-1.23v-2.46z"/>
<path color="#98d5a4" d="M455.85 71.24l1.82 1.23v2.46l-1.82 1.23-1.82-1.23v-2.46zm20.05 18.5l1.82 1.23v2.46l-1.82 1.23-1.82-1.23v-2.46z"/>
<path color="#9ed8a4" d="M450.37 60.14l1.82 1.23v2.46l-1.82 1.23-1.82-1.23v-2.46zm-14.58 7.4l1.82 1.23v2.46l-1.82 1.23-1.82-1.23v-2.46zm25.53 0l1.82 1.23v2.46l-1.82 1.23-1.82-1.23v-2.46zm-16.42 3.7l1.82 1.23v2.46l-1.82 1.23-1.82-1.23v-2.46zm7.3 0l1.82 1.23v2.46l-1.82 1.23-1.82-1.23v-2.46zm16.41 3.7l1.82 1.23v2.46l-1.82 1.23-1.82-1.23v-2.46zm-34.65 3.7l1.82 1.23v2.46l-1.82 1.23-1.82-1.23v-2.46zm38.3 3.7l1.82 1.23v2.46l-1.82 1.23-1.82-1.23v-2.46z"/>
<path color="#a5daa4" d="M428.49 74.94l1.82 1.23v2.46l-1.82 1.23-1.82-1.23v-2.46zm34.65 3.7l1.82 1.23v2.46l-1.82 1.23-1.82-1.23v-2.46zm-36.47 14.8l1.82 1.23v2.46l-1.82 1.23-1.82-1.23v-2.46zm49.23 3.7l1.82 1.23v2.46l-1.82 1.23-1.82-1.23v-2.46zm0 7.4l1.82 1.23v2.46l-1.82 1.23-1.82-1.23v-2.46zm-7.29 7.4l1.82 1.23v2.46l-1.82 1.23-1.82-1.23v-2.46z"/>
<path color="#abdda4" d="M457.67 67.54l1.82 1.23v2.46l-1.82 1.23-1.82-1.23v-2.46zm-27.35 18.5l1.82 1.23v2.46l-1.82 1.23-1.82-1.23v-2.46zm-9.12 3.7l1.82 1.23v2.46l-1.82 1.23-1.82-1.23v-2.46zm49.23 3.7l1.82 1.23v2.46l-1.82 1.23-1.82-1.23v-2.46zm-43.76 7.4l1.82 1.23v2.46l-1.82 1.23-1.82-1.23v-2.46zm3.65 7.4l1.82 1.23v2.46l-1.82 1.23-1.82-1.23v-2.46z"/>
<path color="#b1dfa3" d="M448.55 63.84l1.82 1.23v2.46l-1.82 1.23-1.82-1.23v-2.46zm-9.12 3.7l1.82 1.23v2.46l-1.82 1.23-1.82-1.23v-2.46zm-1.82 11.1l1.82 1.23v2.46l-1.82 1.23-1.82-1.23v-2.46zm-12.76 3.7l1.82 1.23v2.46l-1.82 1.23-1.82-1.23v-2.46zm41.94 3.7l1.82 1.23v2.46l-1.82 1.23-1.82-1.23v-2.46zm3.64 14.8l1.82 1.23v2.46l-1.82 1.23-1.82-1.23v-2.46zm-3.64 7.4l1.82 1.23v2.46l-1.82 1.23-1.82-1.23v-2.46zm-38.3 3.7l1.82 1.23v2.46l-1.82 1.23-1.82-1.23v-2.46z"/>
<path color="#b7e2a2" d="M454.02 67.54l1.82 1.23v2.46l-1.82 1.23-1.82-1.23v-2.46zm10.94 7.4l1.82 1.23v2.46l-1.82 1.23-1.82-1.23v-2.46zm-5.47 3.7l1.82 1.23v2.46l-1.82 1.23-1.82-1.23v-2.46zm-38.29 18.5l1.82 1.23v2.46l-1.82 1.23-1.82-1.23v-2.46zm0 7.4l1.82 1.23v2.46l-1.82 1.23-1.82-1.23v-2.46z"/>
<path color="#bde4a1" d="M443.08 67.54l1.82 1.23v2.46l-1.82 1.23-1.82-1.23v-2.46zm3.65 0l1.82 1.23v2.46l-1.82 1.23-1.82-1.23v-2.46zm-14.59 7.4l1.82 1.23v2.46l-1.82 1.23-1.82-1.23v-2.46z"/>
<path color="#c3e79f" d="M441.26 78.64l1.82 1.23v2.46l-1.82 1.23-1.82-1.23v-2.46zm-7.3 7.4l1.82 1.23v2.46l-1.82 1.23-1.82-1.23v-2.46zm38.3 3.7l1.82 1.23v2.46l-1.82 1.23-1.82-1.23v-2.46zm-41.94 3.7l1.82 1.23v2.46l-1.82 1.23-1.82-1.23v-2.46zm3.64 14.8l1.82 1.23v2.46l-1.82 1.23-1.82-1.23v-2.46zm31 3.7l1.82 1.23v2.46l-1.82 1.23-1.82-1.23v-2.46z"/>
<path color="#c9e99e" d="M455.85 78.64l1.82 1.23v2.46l-1.82 1.23-1.82-1.23v-2.46zm12.76 3.7l1.82 1.23v2.46l-1.82 1.23-1.82-1.23v-2.46zm-5.47 3.7l1.82 1.23v2.46l-1.82 1.23-1.82-1.23v-2.46zm3.65 7.4l1.82 1.23v2.46l-1.82 1.23-1.82-1.23v-2.46zm-34.65 18.5l1.82 1.23v2.46l-1.82 1.23-1.82-1.23v-2.46zm16.41 3.7l1.82 1.23v2.46l-1.82 1.23-1.82-1.23v-2.46z"/>
<path color="#cfeb9d" d="M444.9 78.64l1.82 1.23v2.46l-1.82 1.23-1.82-1.23v-2.46zm7.3 0l1.82 1.23v2.46l-1.82 1.23-1.82-1.23v-2.46zm-23.71 3.7l1.82 1.23v2.46l-1.82 1.23-1.82-1.23v-2.46zm-3.64 7.4l1.82 1.23v2.46l-1.82 1.23-1.82-1.23v-2.46zm5.47 11.1l1.82 1.23v2.46l-1.82 1.23-1.82-1.23v-2.46zm41.94 3.7l1.82 1.23v2.46l-1.82 1.23-1.82-1.23v-2.46zm-9.12 3.7l1.82 1.23v2.46l-1.82 1.23-1.82-1.23v-2.46z"/>
<path color="#d53e4f" d="M450.37 97.14l1.82 1.23v2.46l-1.82 1.23-1.82-1.23v-2.46zm0 7.4l1.82 1.23v2.46l-1.82 1.23-1.82-1.23v-2.46z"/>
<path color="#d5ee9c" d="M461.32 74.94l1.82 1.23v2.46l-1.82 1.23-1.82-1.23v-2.46zm10.94 22.2l1.82 1.23v2.46l-1.82 1.23-1.82-1.23v-2.46zm-5.47 3.7l1.82 1.23v2.46l-1.82 1.23-1.82-1.23v-2.46z"/>
<path color="#d8434e" d="M448.55 100.84l1.82 1.23v2.46l-1.82 1.23-1.82-1.23v-2.46z"/>
<path color="#dbf09b" d="M435.79 74.94l1.82 1.23v2.46l-1.82 1.23-1.82-1.23v-2.46zm1.82 11.1l1.82 1.23v2.46l-1.82 1.23-1.82-1.23v-2.46zm0 22.2l1.82 1.23v2.46l-1.82 1.23-1.82-1.23v-2.46z"/>
<path color="#e0f399" d="M459.49 86.04l1.82 1.23v2.46l-1.82 1.23-1.82-1.23v-2.46zm-25.53 7.4l1.82 1.23v2.46l-1.82 1.23-1.82-1.23v-2.46zm-9.11 11.1l1.82 1.23v2.46l-1.82 1.23-1.82-1.23v-2.46zm36.47 7.4l1.82 1.23v2.46l-1.82 1.23-1.82-1.23v-2.46z"/>
<path color="#e5574a" d="M450.37 89.74l1.82 1.23v2.46l-1.82 1.23-1.82-1.23v-2.46z"/>
<path color="#e6f598" d="M450.37 67.54l1.82 1.23v2.46l-1.82 1.23-1.82-1.23v-2.46zm-25.52 29.6l1.82 1.23v2.46l-1.82 1.23-1.82-1.23v-2.46zm34.64 11.1l1.82 1.23v2.46l-1.82 1.23-1.82-1.23v-2.46zm-23.7 3.7l1.82 1.23v2.46l-1.82 1.23-1.82-1.23v-2.46z"/>
<path color="#e85b49" d="M448.55 93.44l1.82 1.23v2.46l-1.82 1.23-1.82-1.23v-2.46z"/>
<path color="#e9f69c" d="M439.43 74.94l1.82 1.23v2.46l-1.82 1.23-1.82-1.23v-2.46zm18.24 0l1.82 1.23v2.46l-1.82 1.23-1.82-1.23v-2.46zm7.29 7.4l1.82 1.23v2.46l-1.82 1.23-1.82-1.23v-2.46zm3.65 7.4l1.82 1.23v2.46l-1.82 1.23-1.82-1.23v-2.46zm-5.47 3.7l1.82 1.23v2.46l-1.82 1.23-1.82-1.23v-2.46zm-29.18 7.4l1.82 1.23v2.46l-1.82 1.23-1.82-1.23v-2.46z"/>
<path color="#ebf7a0" d="M432.14 82.34l1.82 1.23v2.46l-1.82 1.23-1.82-1.23v-2.46zm9.12 3.7l1.82 1.23v2.46l-1.82 1.23-1.82-1.23v-2.46zm0 22.2l1.82 1.23v2.46l-1.82 1.23-1.82-1.23v-2.46z"/>
<path color="#eef8a4" d="M455.85 86.04l1.82 1.23v2.46l-1.82 1.23-1.82-1.23v-2.46zm-27.36 3.7l1.82 1.23v2.46l-1.82 1.23-1.82-1.23v-2.46zm34.65 11.1l1.82 1.23v2.46l-1.82 1.23-1.82-1.23v-2.46zm-7.29 7.4l1.82 1.23v2.46l-1.82 1.23-1.82-1.23v-2.46zm1.82 3.7l1.82 1.23v2.46l-1.82 1.23-1.82-1.23v-2.46z"/>
<path color="#f0f9a8" d="M448.55 71.24l1.82 1.23v2.46l-1.82 1.23-1.82-1.23v-2.46zm-5.47 3.7l1.82 1.23v2.46l-1.82 1.23-1.82-1.23v-2.46zm10.94 0l1.82 1.23v2.46l-1.82 1.23-1.82-1.23v-2.46zm-9.12 11.1l1.82 1.23v2.46l-1.82 1.23-1.82-1.23v-2.46zm7.3 0l1.82 1.23v2.46l-1.82 1.23-1.82-1.23v-2.46zm-14.59 7.4l1.82 1.23v2.46l-1.82 1.23-1.82-1.23v-2.46zm31 11.1l1.82 1.23v2.46l-1.82 1.23-1.82-1.23v-2.46zm-23.71 3.7l1.82 1.23v2.46l-1.82 1.23-1.82-1.23v-2.46zm-5.47 3.7l1.82 1.23v2.46l-1.82 1.23-1.82-1.23v-2.46z"/>
<path color="#f3faac" d="M446.73 74.94l1.82 1.23v2.46l-1.82 1.23-1.82-1.23v-2.46zm12.76 18.5l1.82 1.23v2.46l-1.82 1.23-1.82-1.23v-2.46zm9.12 3.7l1.82 1.23v2.46l-1.82 1.23-1.82-1.23v-2.46zm-16.41 11.1l1.82 1.23v2.46l-1.82 1.23-1.82-1.23v-2.46z"/>
<path color="#f5fbaf" d="M454.02 111.94l1.82 1.23v2.46l-1.82 1.23-1.82-1.23v-2.46z"/>
<path color="#f67b49" d="M446.73 97.14l1.82 1.23v2.46l-1.82 1.23-1.82-1.23v-2.46z"/>
<path color="#f8884f" d="M446.73 104.54l1.82 1.23v2.46l-1.82 1.23-1.82-1.23v-2.46z"/>
<path color="#f8fcb3" d="M461.32 82.34l1.82 1.23v2.46l-1.82 1.23-1.82-1.23v-2.46zm-23.71 18.5l1.82 1.23v2.46l-1.82 1.23-1.82-1.23v-2.46zm-9.12 3.7l1.82 1.23v2.46l-1.82 1.23-1.82-1.23v-2.46zm14.59 7.4l1.82 1.23v2.46l-1.82 1.23-1.82-1.23v-2.46z"/>
<path color="#f98f52" d="M443.08 97.14l1.82 1.23v2.46l-1.82 1.23-1.82-1.23v-2.46zm10.94 0l1.82 1.23v2.46l-1.82 1.23-1.82-1.23v-2.46z"/>
<path color="#fafdb7" d="M435.79 82.34l1.82 1.23v2.46l-1.82 1.23-1.82-1.23v-2.46zm5.47 11.1l1.82 1.23v2.46l-1.82 1.23-1.82-1.23v-2.46zm-12.77 3.7l1.82 1.23v2.46l-1.82 1.23-1.82-1.23v-2.46zm31 3.7l1.82 1.23v2.46l-1.82 1.23-1.82-1.23v-2.46zm-12.76 11.1l1.82 1.23v2.46l-1.82 1.23-1.82-1.23v-2.46z"/>
<path color="#fb9b58" d="M443.08 104.54l1.82 1.23v2.46l-1.82 1.23-1.82-1.23v-2.46zm10.94 0l1.82 1.23v2.46l-1.82 1.23-1.82-1.23v-2.46z"/>
<path color="#fca25b" d="M448.55 86.04l1.82 1.23v2.46l-1.82 1.23-1.82-1.23v-2.46zm0 22.2l1.82 1.23v2.46l-1.82 1.23-1.82-1.23v-2.46z"/>
<path color="#fdae61" d="M450.37 82.34l1.82 1.23v2.46l-1.82 1.23-1.82-1.23v-2.46zm-3.64 7.4l1.82 1.23v2.46l-1.82 1.23-1.82-1.23v-2.46zm-7.3 7.4l1.82 1.23v2.46l-1.82 1.23-1.82-1.23v-2.46zm18.24 0l1.82 1.23v2.46l-1.82 1.23-1.82-1.23v-2.46z"/>
<path color="#fdb365" d="M439.43 104.54l1.82 1.23v2.46l-1.82 1.23-1.82-1.23v-2.46z"/>
<path color="#fdfebb" d="M464.96 89.74l1.82 1.23v2.46l-1.82 1.23-1.82-1.23v-2.46zm-9.11 3.7l1.82 1.23v2.46l-1.82 1.23-1.82-1.23v-2.46z"/>
<path color="#feb869" d="M443.08 89.74l1.82 1.23v2.46l-1.82 1.23-1.82-1.23v-2.46zm14.59 14.8l1.82 1.23v2.46l-1.82 1.23-1.82-1.23v-2.46z"/>
<path color="#febd6d" d="M454.02 89.74l1.82 1.23v2.46l-1.82 1.23-1.82-1.23v-2.46z"/>
<path color="#fecc7a" d="M435.79 97.14l1.82 1.23v2.46l-1.82 1.23-1.82-1.23v-2.46z"/>
<path color="#fed17e" d="M439.43 89.74l1.82 1.23v2.46l-1.82 1.23-1.82-1.23v-2.46z"/>
<path color="#fed682" d="M457.67 89.74l1.82 1.23v2.46l-1.82 1.23-1.82-1.23v-2.46zm3.65 7.4l1.82 1.23v2.46l-1.82 1.23-1.82-1.23v-2.46zm-25.53 7.4l1.82 1.23v2.46l-1.82 1.23-1.82-1.23v-2.46z"/>
<path color="#fedb87" d="M461.32 104.54l1.82 1.23v2.46l-1.82 1.23-1.82-1.23v-2.46z"/>
<path color="#ffe695" d="M448.55 78.64l1.82 1.23v2.46l-1.82 1.23-1.82-1.23v-2.46zm-1.82 3.7l1.82 1.23v2.46l-1.82 1.23-1.82-1.23v-2.46zm3.64 29.6l1.82 1.23v2.46l-1.82 1.23-1.82-1.23v-2.46z"/>
<path color="#ffe99b" d="M435.79 89.74l1.82 1.23v2.46l-1.82 1.23-1.82-1.23v-2.46z"/>
<path color="#ffeca0" d="M443.08 82.34l1.82 1.23v2.46l-1.82 1.23-1.82-1.23v-2.46zm10.94 0l1.82 1.23v2.46l-1.82 1.23-1.82-1.23v-2.46zm7.3 7.4l1.82 1.23v2.46l-1.82 1.23-1.82-1.23v-2.46zm-29.18 7.4l1.82 1.23v2.46l-1.82 1.23-1.82-1.23v-2.46z"/>
<path color="#ffefa5" d="M432.14 104.54l1.82 1.23v2.46l-1.82 1.23-1.82-1.23v-2.46z"/>
<path color="#fff3aa" d="M450.37 74.94l1.82 1.23v2.46l-1.82 1.23-1.82-1.23v-2.46zm14.59 22.2l1.82 1.23v2.46l-1.82 1.23-1.82-1.23v-2.46zm-20.06 3.7l1.82 1.23v2.46l-1.82 1.23-1.82-1.23v-2.46zm7.3 0l1.82 1.23v2.46l-1.82 1.23-1.82-1.23v-2.46z"/>
<path color="#fff6af" d="M439.43 82.34l1.82 1.23v2.46l-1.82 1.23-1.82-1.23v-2.46zm25.53 22.2l1.82 1.23v2.46l-1.82 1.23-1.82-1.23v-2.46z"/>
<path color="#fff9b5" d="M457.67 82.34l1.82 1.23v2.46l-1.82 1.23-1.82-1.23v-2.46zm-1.82 18.5l1.82 1.23v2.46l-1.82 1.23-1.82-1.23v-2.46z"/>
<path color="#fffcba" d="M432.14 89.74l1.82 1.23v2.46l-1.82 1.23-1.82-1.23v-2.46zm20.06 3.7l1.82 1.23v2.46l-1.82 1.23-1.82-1.23v-2.46zm-10.94 7.4l1.82 1.23v2.46l-1.82 1.23-1.82-1.23v-2.46z"/>
<path color="#ffffbf" d="M444.9 93.44l1.82 1.23v2.46l-1.82 1.23-1.82-1.23v-2.46z"/>
<path color="#2383be" d="M626.7 17.77l2 1.23v2.47l-2 1.23-2-1.23v-2.47zm4 0l2 1.23v2.47l-2 1.23-2-1.23v-2.47zm16 0l2 1.23v2.47l-2 1.23-2-1.23v-2.47zm4 0l2 1.23v2.47l-2 1.23-2-1.23v-2.47zm-34 3.72l2 1.23v2.47l-2 1.23-2-1.23v-2.47zm8 0l2 1.23v2.47l-2 1.23-2-1.23v-2.47zm4 0l2 1.23v2.47l-2 1.23-2-1.23v-2.47zm4 0l2 1.23v2.47l-2 1.23-2-1.23v-2.47zm4 0l2 1.23v2.47l-2 1.23-2-1.23v-2.47zm4 0l2 1.23v2.47l-2 1.23-2-1.23v-2.47zm4 0l2 1.23v2.47l-2 1.23-2-1.23v-2.47zm4 0l2 1.23v2.47l-2 1.23-2-1.23v-2.47zm4 0l2 1.23v2.47l-2 1.23-2-1.23v-2.47zm4 0l2 1.23v2.47l-2 1.23-2-1.23v-2.47zm-54 3.72l2 1.23v2.47l-2 1.23-2-1.23v-2.47zm8 0l2 1.23v2.47l-2 1.23-2-1.23v-2.47zm8 0l2 1.23v2.47l-2 1.23-2-1.23v-2.47zm4 0l2 1.23v2.47l-2 1.23-2-1.23v-2.47zm4 0l2 1.23v2.47l-2 1.23-2-1.23v-2.47zm4 0l2 1.23v2.47l-2 1.23-2-1.23v-2.47zm4 0l2 1.23v2.47l-2 1.23-2-1.23v-2.47zm4 0l2 1.23v2.47l-2 1.23-2-1.23v-2.47zm4 0l2 1.23v2.47l-2 1.23-2-1.23v-2.47zm4 0l2 1.23v2.47l-2 1.23-2-1.23v-2.47zm4 0l2 1.23v2.47l-2 1.23-2-1.23v-2.47zm4 0l2 1.23v2.47l-2 1.23-2-1.23v-2.47zm4 0l2 1.23v2.47l-2 1.23-2-1.23v-2.47zm4 0l2 1.23v2.47l-2 1.23-2-1.23v-2.47zm-74 3.72l2 1.23v2.47l-2 1.23-2-1.23v-2.47zm12 0l2 1.23v2.47l-2 1.23-2-1.23v-2.47zm4 0l2 1.23v2.47l-2 1.23-2-1.23v-2.47zm4 0l2 1.23v2.47l-2 1.23-2-1.23v-2.47zm4 0l2 1.23v2.47l-2 1.23-2-1.23v-2.47zm4 0l2 1.23v2.47l-2 1.23-2-1.23v-2.47zm4 0l2 1.23v2.47l-2 1.23-2-1.23v-2.47zm4 0l2 1.23v2.47l-2 1.23-2-1.23v-2.47zm4 0l2 1.23v2.47l-2 1.23-2-1.23v-2.47zm4 0l2 1.23v2.47l-2 1.23-2-1.23v-2.47zm4 0l2 1.23v2.47l-2 1.23-2-1.23v-2.47zm4 0l2 1.23v2.47l-2 1.23-2-1.23v-2.47zm4 0l2 1.23v2.47l-2 1.23-2-1.23v-2.47zm4 0l2 1.23v2.47l-2 1.23-2-1.23v-2.47zm4 0l2 1.23v2.47l-2 1.23-2-1.23v-2.47zm4 0l2 1.23v2.47l-2 1.23-2-1.23v-2.47zm4 0l2 1.23v2.47l-2 1.23-2-1.23v-2.47zm4 0l2 1.23v2.47l-2 1.23-2-1.23v-2.47zm-82 3.72l2 1.23v2.47l-2 1.23-2-1.23v-2.47zm4 0l2 1.23v2.47l-2 1.23-2-1.23v-2.47zm4 0l2 1.23v2.47l-2 1.23-2-1.23v-2.47zm4 0l2 1.23v2.47l-2 1.23-2-1.23v-2.47zm4 0l2 1.23v2.47l-2 1.23-2-1.23v-2.47zm4 0l2 1.23v2.47l-2 1.23-2-1.23v-2.47zm4 0l2 1.23v2.47l-2 1.23-2-1.23v-2.47zm4 0l2 1.23v2.47l-2 1.23-2-1.23v-2.47zm4 0l2 1.23v2.47l-2 1.23-2-1.23v-2.47zm4 0l2 1.23v2.47l-2 1.23-2-1.23v-2.47zm4 0l2 1.23v2.47l-2 1.23-2-1.23v-2.47zm4 0l2 1.23v2.47l-2 1.23-2-1.23v-2.47zm4 0l2 1.23v2.47l-2 1.23-2-1.23v-2.47zm4 0l2 1.23v2.47l-2 1.23-2-1.23v-2.47zm4 0l2 1.23v2.47l-2 1.23-2-1.23v-2.47zm4 0l2 1.23v2.47l-2 1.23-2-1.23v-2.47zm4 0l2 1.23v2.47l-2 1.23-2-1.23v-2.47zm4 0l2 1.23v2.47l-2 1.23-2-1.23v-2.47zm4 0l2 1.23v2.47l-2 1.23-2-1.23v-2.47zm4 0l2 1.23v2.47l-2 1.23-2-1.23v-2.47zm4 0l2 1.23v2.47l-2 1.23-2-1.23v-2.47zm4 0l2 1.23v2.47l-2 1.23-2-1.23v-2.47zm4 0l2 1.23v2.47l-2 1.23-2-1.23v-2.47zm-90 3.72l2 1.23v2.47l-2 1.23-2-1.23v-2.47zm4 0l2 1.23v2.47l-2 1.23-2-1.23v-2.47zm4 0l2 1.23v2.47l-2 1.23-2-1.23v-2.47zm4 0l2 1.23v2.47l-2 1.23-2-1.23v-2.47zm4 0l2 1.23v2.47l-2 1.23-2-1.23v-2.47zm4 0l2 1.23v2.47l-2 1.23-2-1.23v-2.47zm4 0l2 1.23v2.47l-2 1.23-2-1.23v-2.47zm4 0l2 1.23v2.47l-2 1.23-2-1.23v-2.47zm4 0l2 1.23v2.47l-2 1.23-2-1.23v-2.47zm4 0l2 1.23v2.47l-2 1.23-2-1.23v-2.47zm4 0l2 1.23v2.47l-2 1.23-2-1.23v-2.47zm4 0l2 1.23v2.47l-2 1.23-2-1.23v-2.47zm4 0l2 1.23v2.47l-2 1.23-2-1.23v-2.47zm4 0l2 1.23v2.47l-2 1.23-2-1.23v-2.47zm4 0l2 1.23v2.47l-2 1.23-2-1.23v-2.47zm4 0l2 1.23v2.47l-2 1.23-2-1.23v-2.47zm4 0l2 1.23v2.47l-2 1.23-2-1.23v-2.47zm4 0l2 1.23v2.47l-2 1.23-2-1.23v-2.47zm4 0l2 1.23v2.47l-2 1.23-2-1.23v-2.47zm4 0l2 1.23v2.47l-2 1.23-2-1.23v-2.47zm4 0l2 1.23v2.47l-2 1.23-2-1.23v-2.47zm4 0l2 1.23v2.47l-2 1.23-2-1.23v-2.47zm-82 3.72l2 1.23v2.47l-2 1.23-2-1.23v-2.47zm4 0l2 1.23v2.47l-2 1.23-2-1.23v-2.47zm8 0l2 1.23v2.47l-2 1.23-2-1.23v-2.47zm4 0l2 1.23v2.47l-2 1.23-2-1.23v-2.47zm4 0l2 1.23v2.47l-2 1.23-2-1.23v-2.47zm4 0l2 1.23v2.47l-2 1.23-2-1.23v-2.47zm4 0l2 1.23v2.47l-2 1.23-2-1.23v-2.47zm4 0l2 1.23v2.47l-2 1.23-2-1.23v-2.47zm4 0l2 1.23v2.47l-2 1.23-2-1.23v-2.47zm4 0l2 1.23v2.47l-2 1.23-2-1.23v-2.47zm4 0l2 1.23v2.47l-2 1.23-2-1.23v-2.47zm4 0l2 1.23v2.47l-2 1.23-2-1.23v-2.47zm4 0l2 1.23v2.47l-2 1.23-2-1.23v-2.47zm4 0l2 1.23v2.47l-2 1.23-2-1.23v-2.47zm4 0l2 1.23v2.47l-2 1.23-2-1.23v-2.47zm4 0l2 1.23v2.47l-2 1.23-2-1.23v-2.47zm4 0l2 1.23v2.47l-2 1.23-2-1.23v-2.47zm4 0l2 1.23v2.47l-2 1.23-2-1.23v-2.47zm4 0l2 1.23v2.47l-2 1.23-2-1.23v-2.47zm4 0l2 1.23v2.47l-2 1.23-2-1.23v-2.47zm4 0l2 1.23v2.47l-2 1.23-2-1.23v-2.47zm-94 3.72l2 1.23v2.47l-2 1.23-2-1.23v-2.47zm4 0l2 1.23v2.47l-2 1.23-2-1.23v-2.47zm4 0l2 1.23v2.47l-2 1.23-2-1.23v-2.47zm4 0l2 1.23v2.47l-2 1.23-2-1.23v-2.47zm4 0l2 1.23v2.47l-2 1.23-2-1.23v-2.47zm4 0l2 1.23v2.47l-2 1.23-2-1.23v-2.47zm4 0l2 1.23v2.47l-2 1.23-2-1.23v-2.47zm4 0l2 1.23v2.47l-2 1.23-2-1.23v-2.47zm4 0l2 1.23v2.47l-2 1.23-2-1.23v-2.47zm4 0l2 1.23v2.47l-2 1.23-2-1.23v-2.47zm4 0l2 1.23v2.47l-2 1.23-2-1.23v-2.47zm4 0l2 1.23v2.47l-2 1.23-2-1.23v-2.47zm4 0l2 1.23v2.47l-2 1.23-2-1.23v-2.47zm4 0l2 1.23v2.47l-2 1.23-2-1.23v-2.47zm4 0l2 1.23v2.47l-2 1.23-2-1.23v-2.47zm4 0l2 1.23v2.47l-2 1.23-2-1.23v-2.47zm4 0l2 1.23v2.47l-2 1.23-2-1.23v-2.47zm4 0l2 1.23v2.47l-2 1.23-2-1.23v-2.47zm4 0l2 1.23v2.47l-2 1.23-2-1.23v-2.47zm4 0l2 1.23v2.47l-2 1.23-2-1.23v-2.47zm4 0l2 1.23v2.47l-2 1.23-2-1.23v-2.47zm4 0l2 1.23v2.47l-2 1.23-2-1.23v-2.47zm4 0l2 1.23v2.47l-2 1.23-2-1.23v-2.47zm4 0l2 1.23v2.47l-2 1.23-2-1.23v-2.47zm4 0l2 1.23v2.47l-2 1.23-2-1.23v-2.47zm-90 3.72l2 1.23v2.47l-2 1.23-2-1.23v-2.47zm4 0l2 1.23v2.47l-2 1.23-2-1.23v-2.47zm4 0l2 1.23v2.47l-2 1.23-2-1.23v-2.47zm4 0l2 1.23v2.47l-2 1.23-2-1.23v-2.47zm4 0l2 1.23v2.47l-2 1.23-2-1.23v-2.47zm4 0l2 1.23v2.47l-2 1.23-2-1.23v-2.47zm4 0l2 1.23v2.47l-2 1.23-2-1.23v-2.47zm4 0l2 1.23v2.47l-2 1.23-2-1.23v-2.47zm4 0l2 1.23v2.47l-2 1.23-2-1.23v-2.47zm4 0l2 1.23v2.47l-2 1.23-2-1.23v-2.47zm4 0l2 1.23v2.47l-2 1.23-2-1.23v-2.47zm4 0l2 1.23v2.47l-2 1.23-2-1.23v-2.47zm4 0l2 1.23v2.47l-2 1.23-2-1.23v-2.47zm4 0l2 1.23v2.47l-2 1.23-2-1.23v-2.47zm4 0l2 1.23v2.47l-2 1.23-2-1.23v-2.47zm4 0l2 1.23v2.47l-2 1.23-2-1.23v-2.47zm4 0l2 1.23v2.47l-2 1.23-2-1.23v-2.47zm4 0l2 1.23v2.47l-2 1.23-2-1.23v-2.47zm4 0l2 1.23v2.47l-2 1.23-2-1.23v-2.47zm4 0l2 1.23v2.47l-2 1.23-2-1.23v-2.47zm4 0l2 1.23v2.47l-2 1.23-2-1.23v-2.47zm4 0l2 1.23v2.47l-2 1.23-2-1.23v-2.47zm4 0l2 1.23v2.47l-2 1.23-2-1.23v-2.47zm-86 3.72l2 1.23v2.47l-2 1.23-2-1.23v-2.47zm4 0l2 1.23v2.47l-2 1.23-2-1.23v-2.47zm4 0l2 1.23v2.47l-2 1.23-2-1.23v-2.47zm4 0l2 1.23v2.47l-2 1.23-2-1.23v-2.47zm4 0l2 1.23v2.47l-2 1.23-2-1.23v-2.47zm4 0l2 1.23v2.47l-2 1.23-2-1.23v-2.47zm4 0l2 1.23v2.47l-2 1.23-2-1.23v-2.47zm4 0l2 1.23v2.47l-2 1.23-2-1.23v-2.47zm4 0l2 1.23v2.47l-2 1.23-2-1.23v-2.47zm4 0l2 1.23v2.47l-2 1.23-2-1.23v-2.47zm4 0l2 1.23v2.47l-2 1.23-2-1.23v-2.47zm4 0l2 1.23v2.47l-2 1.23-2-1.23v-2.47zm12 0l2 1.23v2.47l-2 1.23-2-1.23v-2.47zm4 0l2 1.23v2.47l-2 1.23-2-1.23v-2.47zm4 0l2 1.23v2.47l-2 1.23-2-1.23v-2.47zm4 0l2 1.23v2.47l-2 1.23-2-1.23v-2.47zm4 0l2 1.23v2.47l-2 1.23-2-1.23v-2.47zm4 0l2 1.23v2.47l-2 1.23-2-1.23v-2.47zm4 0l2 1.23v2.47l-2 1.23-2-1.23v-2.47zm4 0l2 1.23v2.47l-2 1.23-2-1.23v-2.47zm-86 3.72l2 1.23v2.47l-2 1.23-2-1.23v-2.47zm4 0l2 1.23v2.47l-2 1.23-2-1.23v-2.47zm4 0l2 1.23v2.47l-2 1.23-2-1.23v-2.47zm4 0l2 1.23v2.47l-2 1.23-2-1.23v-2.47zm4 0l2 1.23v2.47l-2 1.23-2-1.23v-2.47zm4 0l2 1.23v2.47l-2 1.23-2-1.23v-2.47zm4 0l2 1.23v2.47l-2 1.23-2-1.23v-2.47zm4 0l2 1.23v2.47l-2 1.23-2-1.23v-2.47zm4 0l2 1.23v2.47l-2 1.23-2-1.23v-2.47zm36 0l2 1.23v2.47l-2 1.23-2-1.23v-2.47zm4 0l2 1.23v2.47l-2 1.23-2-1.23v-2.47zm4 0l2 1.23v2.47l-2 1.23-2-1.23v-2.47zm4 0l2 1.23v2.47l-2 1.23-2-1.23v-2.47zm4 0l2 1.23v2.47l-2 1.23-2-1.23v-2.47zm4 0l2 1.23v2.47l-2 1.23-2-1.23v-2.47zm8 0l2 1.23v2.47l-2 1.23-2-1.23v-2.47zm-98 3.72l2 1.23v2.47l-2 1.23-2-1.23v-2.47zm4 0l2 1.23v2.47l-2 1.23-2-1.23v-2.47zm4 0l2 1.23v2.47l-2 1.23-2-1.23v-2.47zm4 0l2 1.23v2.47l-2 1.23-2-1.23v-2.47zm4 0l2 1.23v2.47l-2 1.23-2-1.23v-2.47zm4 0l2 1.23v2.47l-2 1.23-2-1.23v-2.47zm4 0l2 1.23v2.47l-2 1.23-2-1.23v-2.47zm4 0l2 1.23v2.47l-2 1.23-2-1.23v-2.47zm44 0l2 1.23v2.47l-2 1.23-2-1.23v-2.47zm4 0l2 1.23v2.47l-2 1.23-2-1.23v-2.47zm4 0l2 1.23v2.47l-2 1.23-2-1.23v-2.47zm4 0l2 1.23v2.47l-2 1.23-2-1.23v-2.47zm4 0l2 1.23v2.47l-2 1.23-2-1.23v-2.47zm4 0l2 1.23v2.47l-2 1.23-2-1.23v-2.47zm-102 3.72l2 1.23v2.47l-2 1.23-2-1.23v-2.47zm8 0l2 1.23v2.47l-2 1.23-2-1.23v-2.47zm4 0l2 1.23v2.47l-2 1.23-2-1.23v-2.47zm4 0l2 1.23v2.47l-2 1.23-2-1.23v-2.47zm4 0l2 1.23v2.47l-2 1.23-2-1.23v-2.47zm4 0l2 1.23v2.47l-2 1.23-2-1.23v-2.47zm4 0l2 1.23v2.47l-2 1.23-2-1.23v-2.47zm4 0l2 1.23v2.47l-2 1.23-2-1.23v-2.47zm4 0l2 1.23v2.47l-2 1.23-2-1.23v-2.47zm52 0l2 1.23v2.47l-2 1.23-2-1.23v-2.47zm4 0l2 1.23v2.47l-2 1.23-2-1.23v-2.47zm4 0l2 1.23v2.47l-2 1.23-2-1.23v-2.47zm4 0l2 1.23v2.47l-2 1.23-2-1.23v-2.47zm4 0l2 1.23v2.47l-2 1.23-2-1.23v-2.47zm-94 3.72l2 1.23v2.47l-2 1.23-2-1.23v-2.47zm4 0l2 1.23v2.47l-2 1.23-2-1.23v-2.47zm4 0l2 1.23v2.47l-2 1.23-2-1.23v-2.47zm4 0l2 1.23v2.47l-2 1.23-2-1.23v-2.47zm4 0l2 1.23v2.47l-2 1.23-2-1.23v-2.47zm4 0l2 1.23v2.47l-2 1.23-2-1.23v-2.47zm60 0l2 1.23v2.47l-2 1.23-2-1.23v-2.47zm4 0l2 1.23v2.47l-2 1.23-2-1.23v-2.47zm4 0l2 1.23v2.47l-2 1.23-2-1.23v-2.47zm4 0l2 1.23v2.47l-2 1.23-2-1.23v-2.47zm-98 3.72l2 1.23v2.47l-2 1.23-2-1.23v-2.47zm4 0l2 1.23v2.47l-2 1.23-2-1.23v-2.47zm4 0l2 1.23v2.47l-2 1.23-2-1.23v-2.47zm4 0l2 1.23v2.47l-2 1.23-2-1.23v-2.47zm4 0l2 1.23v2.47l-2 1.23-2-1.23v-2.47zm4 0l2 1.23v2.47l-2 1.23-2-1.23v-2.47zm4 0l2 1.23v2.47l-2 1.23-2-1.23v-2.47zm64 0l2 1.23v2.47l-2 1.23-2-1.23v-2.47zm4 0l2 1.23v2.47l-2 1.23-2-1.23v-2.47zm4 0l2 1.23v2.47l-2 1.23-2-1.23v-2.47zm4 0l2 1.23v2.47l-2 1.23-2-1.23v-2.47zm-102 3.72l2 1.23v2.47l-2 1.23-2-1.23v-2.47zm4 0l2 1.23v2.47l-2 1.23-2-1.23v-2.47zm4 0l2 1.23v2.47l-2 1.23-2-1.23v-2.47zm4 0l2 1.23v2.47l-2 1.23-2-1.23v-2.47zm4 0l2 1.23v2.47l-2 1.23-2-1.23v-2.47zm4 0l2 1.23v2.47l-2 1.23-2-1.23v-2.47zm4 0l2 1.23v2.47l-2 1.23-2-1.23v-2.47zm68 0l2 1.23v2.47l-2 1.23-2-1.23v-2.47zm4 0l2 1.23v2.47l-2 1.23-2-1.23v-2.47zm4 0l2 1.23v2.47l-2 1.23-2-1.23v-2.47zm-102 3.72l2 1.23v2.47l-2 1.23-2-1.23v-2.47zm4 0l2 1.23v2.47l-2 1.23-2-1.23v-2.47zm4 0l2 1.23v2.47l-2 1.23-2-1.23v-2.47zm4 0l2 1.23v2.47l-2 1.23-2-1.23v-2.47zm4 0l2 1.23v2.47l-2 1.23-2-1.23v-2.47zm4 0l2 1.23v2.47l-2 1.23-2-1.23v-2.47zm4 0l2 1.23v2.47l-2 1.23-2-1.23v-2.47zm72 0l2 1.23v2.47l-2 1.23-2-1.23v-2.47zm4 0l2 1.23v2.47l-2 1.23-2-1.23v-2.47zm4 0l2 1.23v2.47l-2 1.23-2-1.23v-2.47zm-106 3.72l2 1.23v2.47l-2 1.23-2-1.23v-2.47zm4 0l2 1.23v2.47l-2 1.23-2-1.23v-2.47zm4 0l2 1.23v2.47l-2 1.23-2-1.23v-2.47zm4 0l2 1.23v2.47l-2 1.23-2-1.23v-2.47zm4 0l2 1.23v2.47l-2 1.23-2-1.23v-2.47zm4 0l2 1.23v2.47l-2 1.23-2-1.23v-2.47zm4 0l2 1.23v2.47l-2 1.23-2-1.23v-2.47zm76 0l2 1.23v2.47l-2 1.23-2-1.23v-2.47zm4 0l2 1.23v2.47l-2 1.23-2-1.23v-2.47zm-106 3.72l2 1.23v2.47l-2 1.23-2-1.23v-2.47zm4 0l2 1.23v2.47l-2 1.23-2-1.23v-2.47zm4 0l2 1.23v2.47l-2 1.23-2-1.23v-2.47zm4 0l2 1.23v2.47l-2 1.23-2-1.23v-2.47zm4 0l2 1.23v2.47l-2 1.23-2-1.23v-2.47zm4 0l2 1.23v2.47l-2 1.23-2-1.23v-2.47zm4 0l2 1.23v2.47l-2 1.23-2-1.23v-2.47zm80 0l2 1.23v2.47l-2 1.23-2-1.23v-2.47zm8 0l2 1.23v2.47l-2 1.23-2-1.23v-2.47zm-118 3.72l2 1.23v2.47l-2 1.23-2-1.23v-2.47zm8 0l2 1.23v2.47l-2 1.23-2-1.23v-2.47zm4 0l2 1.23v2.47l-2 1.23-2-1.23v-2.47zm4 0l2 1.23v2.47l-2 1.23-2-1.23v-2.47zm4 0l2 1.23v2.47l-2 1.23-2-1.23v-2.47zm4 0l2 1.23v2.47l-2 1.23-2-1.23v-2.47zm4 0l2 1.23v2.47l-2 1.23-2-1.23v-2.47zm84 0l2 1.23v2.47l-2 1.23-2-1.23v-2.47zm-106 3.72l2 1.23v2.47l-2 1.23-2-1.23v-2.47zm4 0l2 1.23v2.47l-2 1.23-2-1.23v-2.47zm4 0l2 1.23v2.47l-2 1.23-2-1.23v-2.47zm4 0l2 1.23v2.47l-2 1.23-2-1.23v-2.47zm4 0l2 1.23v2.47l-2 1.23-2-1.23v-2.47zm4 0l2 1.23v2.47l-2 1.23-2-1.23v-2.47zm84 0l2 1.23v2.47l-2 1.23-2-1.23v-2.47zm4 0l2 1.23v2.47l-2 1.23-2-1.23v-2.47zm4 0l2 1.23v2.47l-2 1.23-2-1.23v-2.47zm-114 3.72l2 1.23v2.47l-2 1.23-2-1.23v-2.47zm4 0l2 1.23v2.47l-2 1.23-2-1.23v-2.47zm4 0l2 1.23v2.47l-2 1.23-2-1.23v-2.47zm4 0l2 1.23v2.47l-2 1.23-2-1.23v-2.47zm4 0l2 1.23v2.47l-2 1.23-2-1.23v-2.47zm4 0l2 1.23v2.47l-2 1.23-2-1.23v-2.47zm4 0l2 1.23v2.47l-2 1.23-2-1.23v-2.47zm84 0l2 1.23v2.47l-2 1.23-2-1.23v-2.47zm4 0l2 1.23v2.47l-2 1.23-2-1.23v-2.47zm-110 3.72l2 1.23v2.47l-2 1.23-2-1.23v-2.47zm4 0l2 1.23v2.47l-2 1.23-2-1.23v-2.47zm4 0l2 1.23v2.47l-2 1.23-2-1.23v-2.47zm4 0l2 1.23v2.47l-2 1.23-2-1.23v-2.47zm4 0l2 1.23v2.47l-2 1.23-2-1.23v-2.47zm4 0l2 1.23v2.47l-2 1.23-2-1.23v-2.47zm88 0l2 1.23v2.47l-2 1.23-2-1.23v-2.47zm-110 3.72l2 1.23v2.47l-2 1.23-2-1.23v-2.47zm4 0l2 1.23v2.47l-2 1.23-2-1.23v-2.47zm4 0l2 1.23v2.47l-2 1.23-2-1.23v-2.47zm4 0l2 1.23v2.47l-2 1.23-2-1.23v-2.47zm4 0l2 1.23v2.47l-2 1.23-2-1.23v-2.47zm4 0l2 1.23v2.47l-2 1.23-2-1.23v-2.47zm4 0l2 1.23v2.47l-2 1.23-2-1.23v-2.47zm88 0l2 1.23v2.47l-2 1.23-2-1.23v-2.47zm-110 3.72l2 1.23v2.47l-2 1.23-2-1.23v-2.47zm4 0l2 1.23v2.47l-2 1.23-2-1.23v-2.47zm4 0l2 1.23v2.47l-2 1.23-2-1.23v-2.47zm4 0l2 1.23v2.47l-2 1.23-2-1.23v-2.47zm4 0l2 1.23v2.47l-2 1.23-2-1.23v-2.47zm4 0l2 1.23v2.47l-2 1.23-2-1.23v-2.47zm88 0l2 1.23v2.47l-2 1.23-2-1.23v-2.47zm-106 3.72l2 1.23v2.47l-2 1.23-2-1.23v-2.47zm4 0l2 1.23v2.47l-2 1.23-2-1.23v-2.47zm4 0l2 1.23v2.47l-2 1.23-2-1.23v-2.47zm4 0l2 1.23v2.47l-2 1.23-2-1.23v-2.47zm4 0l2 1.23v2.47l-2 1.23-2-1.23v-2.47zm4 0l2 1.23v2.47l-2 1.23-2-1.23v-2.47zm-18 3.72l2 1.23v2.47l-2 1.23-2-1.23v-2.47zm4 0l2 1.23v2.47l-2 1.23-2-1.23v-2.47zm4 0l2 1.23v2.47l-2 1.23-2-1.23v-2.47zm4 0l2 1.23v2.47l-2 1.23-2-1.23v-2.47zm4 0l2 1.23v2.47l-2 1.23-2-1.23v-2.47zm4 0l2 1.23v2.47l-2 1.23-2-1.23v-2.47zm4 0l2 1.23v2.47l-2 1.23-2-1.23v-2.47zm80 0l2 1.23v2.47l-2 1.23-2-1.23v-2.47zm-102 3.72l2 1.23v2.47l-2 1.23-2-1.23v-2.47zm4 0l2 1.23v2.47l-2 1.23-2-1.23v-2.47zm4 0l2 1.23v2.47l-2 1.23-2-1.23v-2.47zm4 0l2 1.23v2.47l-2 1.23-2-1.23v-2.47zm4 0l2 1.23v2.47l-2 1.23-2-1.23v-2.47zm4 0l2 1.23v2.47l-2 1.23-2-1.23v-2.47zm4 0l2 1.23v2.47l-2 1.23-2-1.23v-2.47zm76 0l2 1.23v2.47l-2 1.23-2-1.23v-2.47zm-98 3.72l2 1.23v2.47l-2 1.23-2-1.23v-2.47zm4 0l2 1.23v2.47l-2 1.23-2-1.23v-2.47zm4 0l2 1.23v2.47l-2 1.23-2-1.23v-2.47zm4 0l2 1.23v2.47l-2 1.23-2-1.23v-2.47zm4 0l2 1.23v2.47l-2 1.23-2-1.23v-2.47zm4 0l2 1.23v2.47l-2 1.23-2-1.23v-2.47zm4 0l2 1.23v2.47l-2 1.23-2-1.23v-2.47zm4 0l2 1.23v2.47l-2 1.23-2-1.23v-2.47zm68 0l2 1.23v2.47l-2 1.23-2-1.23v-2.47zm4 0l2 1.23v2.47l-2 1.23-2-1.23v-2.47zm-106 3.72l2 1.23v2.47l-2 1.23-2-1.23v-2.47zm8 0l2 1.23v2.47l-2 1.23-2-1.23v-2.47zm4 0l2 1.23v2.47l-2 1.23-2-1.23v-2.47zm4 0l2 1.23v2.47l-2 1.23-2-1.23v-2.47zm4 0l2 1.23v2.47l-2 1.23-2-1.23v-2.47zm4 0l2 1.23v2.47l-2 1.23-2-1.23v-2.47zm4 0l2 1.23v2.47l-2 1.23-2-1.23v-2.47zm4 0l2 1.23v2.47l-2 1.23-2-1.23v-2.47zm4 0l2 1.23v2.47l-2 1.23-2-1.23v-2.47zm4 0l2 1.23v2.47l-2 1.23-2-1.23v-2.47zm4 0l2 1.23v2.47l-2 1.23-2-1.23v-2.47zm56 0l2 1.23v2.47l-2 1.23-2-1.23v-2.47zm4 0l2 1.23v2.47l-2 1.23-2-1.23v-2.47zm-114 3.72l2 1.23v2.47l-2 1.23-2-1.23v-2.47zm20 0l2 1.23v2.47l-2 1.23-2-1.23v-2.47zm4 0l2 1.23v2.47l-2 1.23-2-1.23v-2.47zm4 0l2 1.23v2.47l-2 1.23-2-1.23v-2.47zm4 0l2 1.23v2.47l-2 1.23-2-1.23v-2.47zm4 0l2 1.23v2.47l-2 1.23-2-1.23v-2.47zm4 0l2 1.23v2.47l-2 1.23-2-1.23v-2.47zm4 0l2 1.23v2.47l-2 1.23-2-1.23v-2.47zm4 0l2 1.23v2.47l-2 1.23-2-1.23v-2.47zm4 0l2 1.23v2.47l-2 1.23-2-1.23v-2.47zm4 0l2 1.23v2.47l-2 1.23-2-1.23v-2.47zm4 0l2 1.23v2.47l-2 1.23-2-1.23v-2.47zm4 0l2 1.23v2.47l-2 1.23-2-1.23v-2.47zm40 0l2 1.23v2.47l-2 1.23-2-1.23v-2.47zm4 0l2 1.23v2.47l-2 1.23-2-1.23v-2.47zm4 0l2 1.23v2.47l-2 1.23-2-1.23v-2.47zm4 0l2 1.23v2.47l-2 1.23-2-1.23v-2.47zm-106 3.72l2 1.23v2.47l-2 1.23-2-1.23v-2.47zm16 0l2 1.23v2.47l-2 1.23-2-1.23v-2.47zm4 0l2 1.23v2.47l-2 1.23-2-1.23v-2.47zm4 0l2 1.23v2.47l-2 1.23-2-1.23v-2.47zm4 0l2 1.23v2.47l-2 1.23-2-1.23v-2.47zm4 0l2 1.23v2.47l-2 1.23-2-1.23v-2.47zm4 0l2 1.23v2.47l-2 1.23-2-1.23v-2.47zm4 0l2 1.23v2.47l-2 1.23-2-1.23v-2.47zm4 0l2 1.23v2.47l-2 1.23-2-1.23v-2.47zm4 0l2 1.23v2.47l-2 1.23-2-1.23v-2.47zm4 0l2 1.23v2.47l-2 1.23-2-1.23v-2.47zm4 0l2 1.23v2.47l-2 1.23-2-1.23v-2.47zm4 0l2 1.23v2.47l-2 1.23-2-1.23v-2.47zm4 0l2 1.23v2.47l-2 1.23-2-1.23v-2.47zm4 0l2 1.23v2.47l-2 1.23-2-1.23v-2.47zm4 0l2 1.23v2.47l-2 1.23-2-1.23v-2.47zm4 0l2 1.23v2.47l-2 1.23-2-1.23v-2.47zm4 0l2 1.23v2.47l-2 1.23-2-1.23v-2.47zm4 0l2 1.23v2.47l-2 1.23-2-1.23v-2.47zm4 0l2 1.23v2.47l-2 1.23-2-1.23v-2.47zm4 0l2 1.23v2.47l-2 1.23-2-1.23v-2.47zm4 0l2 1.23v2.47l-2 1.23-2-1.23v-2.47zm4 0l2 1.23v2.47l-2 1.23-2-1.23v-2.47zm-94 3.72l2 1.23v2.47l-2 1.23-2-1.23v-2.47zm8 0l2 1.23v2.47l-2 1.23-2-1.23v-2.47zm4 0l2 1.23v2.47l-2 1.23-2-1.23v-2.47zm4 0l2 1.23v2.47l-2 1.23-2-1.23v-2.47zm4 0l2 1.23v2.47l-2 1.23-2-1.23v-2.47zm4 0l2 1.23v2.47l-2 1.23-2-1.23v-2.47zm4 0l2 1.23v2.47l-2 1.23-2-1.23v-2.47zm4 0l2 1.23v2.47l-2 1.23-2-1.23v-2.47zm4 0l2 1.23v2.47l-2 1.23-2-1.23v-2.47zm4 0l2 1.23v2.47l-2 1.23-2-1.23v-2.47zm4 0l2 1.23v2.47l-2 1.23-2-1.23v-2.47zm4 0l2 1.23v2.47l-2 1.23-2-1.23v-2.47zm4 0l2 1.23v2.47l-2 1.23-2-1.23v-2.47zm4 0l2 1.23v2.47l-2 1.23-2-1.23v-2.47zm4 0l2 1.23v2.47l-2 1.23-2-1.23v-2.47zm4 0l2 1.23v2.47l-2 1.23-2-1.23v-2.47zm4 0l2 1.23v2.47l-2 1.23-2-1.23v-2.47zm4 0l2 1.23v2.47l-2 1.23-2-1.23v-2.47zm4 0l2 1.23v2.47l-2 1.23-2-1.23v-2.47zm4 0l2 1.23v2.47l-2 1.23-2-1.23v-2.47zm4 0l2 1.23v2.47l-2 1.23-2-1.23v-2.47zm4 0l2 1.23v2.47l-2 1.23-2-1.23v-2.47zm-74 3.72l2 1.23v2.47l-2 1.23-2-1.23v-2.47zm4 0l2 1.23v2.47l-2 1.23-2-1.23v-2.47zm4 0l2 1.23v2.47l-2 1.23-2-1.23v-2.47zm8 0l2 1.23v2.47l-2 1.23-2-1.23v-2.47zm8 0l2 1.23v2.47l-2 1.23-2-1.23v-2.47zm12 0l2 1.23v2.47l-2 1.23-2-1.23v-2.47zm4 0l2 1.23v2.47l-2 1.23-2-1.23v-2.47zm4 0l2 1.23v2.47l-2 1.23-2-1.23v-2.47zm4 0l2 1.23v2.47l-2 1.23-2-1.23v-2.47zm12 0l2 1.23v2.47l-2 1.23-2-1.23v-2.47zm4 0l2 1.23v2.47l-2 1.23-2-1.23v-2.47zm-22 3.72l2 1.23v2.47l-2 1.23-2-1.23v-2.47zm8 0l2 1.23v2.47l-2 1.23-2-1.23v-2.47z"/>
<path color="#3089bc" d="M628.7 51.25l2 1.23v2.47l-2 1.23-2-1.23v-2.47zm4 0l2 1.23v2.47l-2 1.23-2-1.23v-2.47zm-18 3.72l2 1.23v2.47l-2 1.23-2-1.23v-2.47zm4 0l2 1.23v2.47l-2 1.23-2-1.23v-2.47zm24 0l2 1.23v2.47l-2 1.23-2-1.23v-2.47zm-34 3.72l2 1.23v2.47l-2 1.23-2-1.23v-2.47zm42 3.72l2 1.23v2.47l-2 1.23-2-1.23v-2.47zm-50 3.72l2 1.23v2.47l-2 1.23-2-1.23v-2.47zm52 0l2 1.23v2.47l-2 1.23-2-1.23v-2.47zm10 18.6l2 1.23v2.47l-2 1.23-2-1.23v-2.47zm-74 3.72l2 1.23v2.47l-2 1.23-2-1.23v-2.47zm76 0l2 1.23v2.47l-2 1.23-2-1.23v-2.47zm-78 3.72l2 1.23v2.47l-2 1.23-2-1.23v-2.47zm0 7.44l2 1.23v2.47l-2 1.23-2-1.23v-2.47zm82 3.72l2 1.23v2.47l-2 1.23-2-1.23v-2.47zm-82 3.72l2 1.23v2.47l-2 1.23-2-1.23v-2.47zm2 3.72l2 1.23v2.47l-2 1.23-2-1.23v-2.47zm80 0l2 1.23v2.47l-2 1.23-2-1.23v-2.47zm-72 7.44l2 1.23v2.47l-2 1.23-2-1.23v-2.47zm6 3.72l2 1.23v2.47l-2 1.23-2-1.23v-2.47zm20 7.44l2 1.23v2.47l-2 1.23-2-1.23v-2.47z"/>
<path color="#3a8fb9" d="M622.7 54.97l2 1.23v2.47l-2 1.23-2-1.23v-2.47zm4 0l2 1.23v2.47l-2 1.23-2-1.23v-2.47zm4 0l2 1.23v2.47l-2 1.23-2-1.23v-2.47zm4 0l2 1.23v2.47l-2 1.23-2-1.23v-2.47zm4 0l2 1.23v2.47l-2 1.23-2-1.23v-2.47zm-26 3.72l2 1.23v2.47l-2 1.23-2-1.23v-2.47zm32 0l2 1.23v2.47l-2 1.23-2-1.23v-2.47zm-38 3.72l2 1.23v2.47l-2 1.23-2-1.23v-2.47zm-8 7.44l2 1.23v2.47l-2 1.23-2-1.23v-2.47zm56 0l2 1.23v2.47l-2 1.23-2-1.23v-2.47zm-58 3.72l2 1.23v2.47l-2 1.23-2-1.23v-2.47zm60 0l2 1.23v2.47l-2 1.23-2-1.23v-2.47zm-62 3.72l2 1.23v2.47l-2 1.23-2-1.23v-2.47zm64 0l2 1.23v2.47l-2 1.23-2-1.23v-2.47zm-66 3.72l2 1.23v2.47l-2 1.23-2-1.23v-2.47zm68 0l2 1.23v2.47l-2 1.23-2-1.23v-2.47zm-70 3.72l2 1.23v2.47l-2 1.23-2-1.23v-2.47zm-2 11.16l2 1.23v2.47l-2 1.23-2-1.23v-2.47zm0 7.44l2 1.23v2.47l-2 1.23-2-1.23v-2.47zm6 11.16l2 1.23v2.47l-2 1.23-2-1.23v-2.47zm18 11.16l2 1.23v2.47l-2 1.23-2-1.23v-2.47zm48 0l2 1.23v2.47l-2 1.23-2-1.23v-2.47zm-34 3.72l2 1.23v2.47l-2 1.23-2-1.23v-2.47zm28 0l2 1.23v2.47l-2 1.23-2-1.23v-2.47z"/>
<path color="#4295b7" d="M616.7 58.69l2 1.23v2.47l-2 1.23-2-1.23v-2.47zm4 0l2 1.23v2.47l-2 1.23-2-1.23v-2.47zm-10 3.72l2 1.23v2.47l-2 1.23-2-1.23v-2.47zm36 0l2 1.23v2.47l-2 1.23-2-1.23v-2.47zm-42 3.72l2 1.23v2.47l-2 1.23-2-1.23v-2.47zm-2 3.72l2 1.23v2.47l-2 1.23-2-1.23v-2.47zm-12 22.32l2 1.23v2.47l-2 1.23-2-1.23v-2.47zm76 7.44l2 1.23v2.47l-2 1.23-2-1.23v-2.47zm-76 7.44l2 1.23v2.47l-2 1.23-2-1.23v-2.47zm2 3.72l2 1.23v2.47l-2 1.23-2-1.23v-2.47zm74 3.72l2 1.23v2.47l-2 1.23-2-1.23v-2.47zm-66 3.72l2 1.23v2.47l-2 1.23-2-1.23v-2.47zm6 3.72l2 1.23v2.47l-2 1.23-2-1.23v-2.47zm24 7.44l2 1.23v2.47l-2 1.23-2-1.23v-2.47zm4 0l2 1.23v2.47l-2 1.23-2-1.23v-2.47zm16 0l2 1.23v2.47l-2 1.23-2-1.23v-2.47z"/>
<path color="#499cb5" d="M624.7 58.69l2 1.23v2.47l-2 1.23-2-1.23v-2.47zm16 0l2 1.23v2.47l-2 1.23-2-1.23v-2.47zm-26 3.72l2 1.23v2.47l-2 1.23-2-1.23v-2.47zm-6 3.72l2 1.23v2.47l-2 1.23-2-1.23v-2.47zm-8 7.44l2 1.23v2.47l-2 1.23-2-1.23v-2.47zm-2 3.72l2 1.23v2.47l-2 1.23-2-1.23v-2.47zm-4 7.44l2 1.23v2.47l-2 1.23-2-1.23v-2.47zm-2 3.72l2 1.23v2.47l-2 1.23-2-1.23v-2.47zm72 7.44l2 1.23v2.47l-2 1.23-2-1.23v-2.47zm-74 3.72l2 1.23v2.47l-2 1.23-2-1.23v-2.47zm74 18.6l2 1.23v2.47l-2 1.23-2-1.23v-2.47zm-2 3.72l2 1.23v2.47l-2 1.23-2-1.23v-2.47zm-46 3.72l2 1.23v2.47l-2 1.23-2-1.23v-2.47zm22 3.72l2 1.23v2.47l-2 1.23-2-1.23v-2.47zm4 0l2 1.23v2.47l-2 1.23-2-1.23v-2.47zm4 0l2 1.23v2.47l-2 1.23-2-1.23v-2.47z"/>
<path color="#4fa2b2" d="M628.7 58.69l2 1.23v2.47l-2 1.23-2-1.23v-2.47zm4 0l2 1.23v2.47l-2 1.23-2-1.23v-2.47zm4 0l2 1.23v2.47l-2 1.23-2-1.23v-2.47zm-18 3.72l2 1.23v2.47l-2 1.23-2-1.23v-2.47zm30 3.72l2 1.23v2.47l-2 1.23-2-1.23v-2.47zm-42 3.72l2 1.23v2.47l-2 1.23-2-1.23v-2.47zm-10 11.16l2 1.23v2.47l-2 1.23-2-1.23v-2.47zm-4 14.88l2 1.23v2.47l-2 1.23-2-1.23v-2.47zm0 7.44l2 1.23v2.47l-2 1.23-2-1.23v-2.47zm74 3.72l2 1.23v2.47l-2 1.23-2-1.23v-2.47zm-68 7.44l2 1.23v2.47l-2 1.23-2-1.23v-2.47zm22 11.16l2 1.23v2.47l-2 1.23-2-1.23v-2.47zm36 0l2 1.23v2.47l-2 1.23-2-1.23v-2.47z"/>
<path color="#55a8b0" d="M622.7 62.41l2 1.23v2.47l-2 1.23-2-1.23v-2.47zm20 0l2 1.23v2.47l-2 1.23-2-1.23v-2.47zm-30 3.72l2 1.23v2.47l-2 1.23-2-1.23v-2.47zm38 3.72l2 1.23v2.47l-2 1.23-2-1.23v-2.47zm-46 3.72l2 1.23v2.47l-2 1.23-2-1.23v-2.47zm-10 18.6l2 1.23v2.47l-2 1.23-2-1.23v-2.47zm68 0l2 1.23v2.47l-2 1.23-2-1.23v-2.47zm-68 14.88l2 1.23v2.47l-2 1.23-2-1.23v-2.47zm2 3.72l2 1.23v2.47l-2 1.23-2-1.23v-2.47zm8 7.44l2 1.23v2.47l-2 1.23-2-1.23v-2.47zm6 3.72l2 1.23v2.47l-2 1.23-2-1.23v-2.47z"/>
<path color="#5aafad" d="M626.7 62.41l2 1.23v2.47l-2 1.23-2-1.23v-2.47zm12 0l2 1.23v2.47l-2 1.23-2-1.23v-2.47zm-22 3.72l2 1.23v2.47l-2 1.23-2-1.23v-2.47zm-6 3.72l2 1.23v2.47l-2 1.23-2-1.23v-2.47zm42 3.72l2 1.23v2.47l-2 1.23-2-1.23v-2.47zm-50 3.72l2 1.23v2.47l-2 1.23-2-1.23v-2.47zm52 0l2 1.23v2.47l-2 1.23-2-1.23v-2.47zm-58 11.16l2 1.23v2.47l-2 1.23-2-1.23v-2.47zm64 0l2 1.23v2.47l-2 1.23-2-1.23v-2.47zm-66 11.16l2 1.23v2.47l-2 1.23-2-1.23v-2.47zm30 26.04l2 1.23v2.47l-2 1.23-2-1.23v-2.47z"/>
<path color="#5eb5ab" d="M630.7 62.41l2 1.23v2.47l-2 1.23-2-1.23v-2.47zm4 0l2 1.23v2.47l-2 1.23-2-1.23v-2.47zm10 3.72l2 1.23v2.47l-2 1.23-2-1.23v-2.47zm-44 14.88l2 1.23v2.47l-2 1.23-2-1.23v-2.47zm56 0l2 1.23v2.47l-2 1.23-2-1.23v-2.47zm-58 3.72l2 1.23v2.47l-2 1.23-2-1.23v-2.47zm60 0l2 1.23v2.47l-2 1.23-2-1.23v-2.47zm6 18.6l2 1.23v2.47l-2 1.23-2-1.23v-2.47zm0 7.44l2 1.23v2.47l-2 1.23-2-1.23v-2.47zm-50 11.16l2 1.23v2.47l-2 1.23-2-1.23v-2.47z"/>
<path color="#62bba8" d="M620.7 66.13l2 1.23v2.47l-2 1.23-2-1.23v-2.47zm-12 7.44l2 1.23v2.47l-2 1.23-2-1.23v-2.47zm-12 22.32l2 1.23v2.47l-2 1.23-2-1.23v-2.47zm0 7.44l2 1.23v2.47l-2 1.23-2-1.23v-2.47zm6 11.16l2 1.23v2.47l-2 1.23-2-1.23v-2.47zm56 7.44l2 1.23v2.47l-2 1.23-2-1.23v-2.47zm-30 3.72l2 1.23v2.47l-2 1.23-2-1.23v-2.47zm24 0l2 1.23v2.47l-2 1.23-2-1.23v-2.47z"/>
<path color="#66c2a5" d="M624.7 66.13l2 1.23v2.47l-2 1.23-2-1.23v-2.47zm16 0l2 1.23v2.47l-2 1.23-2-1.23v-2.47zm-26 3.72l2 1.23v2.47l-2 1.23-2-1.23v-2.47zm32 0l2 1.23v2.47l-2 1.23-2-1.23v-2.47zm-40 7.44l2 1.23v2.47l-2 1.23-2-1.23v-2.47zm-6 33.48l2 1.23v2.47l-2 1.23-2-1.23v-2.47zm8 7.44l2 1.23v2.47l-2 1.23-2-1.23v-2.47z"/>
<path color="#6ec5a5" d="M628.7 66.13l2 1.23v2.47l-2 1.23-2-1.23v-2.47zm-24 14.88l2 1.23v2.47l-2 1.23-2-1.23v-2.47zm-6 11.16l2 1.23v2.47l-2 1.23-2-1.23v-2.47zm64 7.44l2 1.23v2.47l-2 1.23-2-1.23v-2.47zm-64 7.44l2 1.23v2.47l-2 1.23-2-1.23v-2.47zm64 7.44l2 1.23v2.47l-2 1.23-2-1.23v-2.47zm-2 3.72l2 1.23v2.47l-2 1.23-2-1.23v-2.47zm-28 7.44l2 1.23v2.47l-2 1.23-2-1.23v-2.47z"/>
<path color="#76c7a5" d="M632.7 66.13l2 1.23v2.47l-2 1.23-2-1.23v-2.47zm4 0l2 1.23v2.47l-2 1.23-2-1.23v-2.47zm-18 3.72l2 1.23v2.47l-2 1.23-2-1.23v-2.47zm-6 3.72l2 1.23v2.47l-2 1.23-2-1.23v-2.47zm36 0l2 1.23v2.47l-2 1.23-2-1.23v-2.47zm-46 11.16l2 1.23v2.47l-2 1.23-2-1.23v-2.47zm-2 3.72l2 1.23v2.47l-2 1.23-2-1.23v-2.47zm-2 11.16l2 1.23v2.47l-2 1.23-2-1.23v-2.47zm20 22.32l2 1.23v2.47l-2 1.23-2-1.23v-2.47zm18 3.72l2 1.23v2.47l-2 1.23-2-1.23v-2.47zm12 0l2 1.23v2.47l-2 1.23-2-1.23v-2.47z"/>
<path color="#7dcaa5" d="M622.7 69.85l2 1.23v2.47l-2 1.23-2-1.23v-2.47zm-16 44.64l2 1.23v2.47l-2 1.23-2-1.23v-2.47zm34 11.16l2 1.23v2.47l-2 1.23-2-1.23v-2.47zm4 0l2 1.23v2.47l-2 1.23-2-1.23v-2.47z"/>
<path color="#84cda5" d="M642.7 69.85l2 1.23v2.47l-2 1.23-2-1.23v-2.47zm-26 3.72l2 1.23v2.47l-2 1.23-2-1.23v-2.47zm-6 3.72l2 1.23v2.47l-2 1.23-2-1.23v-2.47zm40 0l2 1.23v2.47l-2 1.23-2-1.23v-2.47zm-50 18.6l2 1.23v2.47l-2 1.23-2-1.23v-2.47zm60 0l2 1.23v2.47l-2 1.23-2-1.23v-2.47zm-48 22.32l2 1.23v2.47l-2 1.23-2-1.23v-2.47z"/>
<path color="#8bcfa5" d="M626.7 69.85l2 1.23v2.47l-2 1.23-2-1.23v-2.47zm-18 11.16l2 1.23v2.47l-2 1.23-2-1.23v-2.47zm-8 22.32l2 1.23v2.47l-2 1.23-2-1.23v-2.47zm62 3.72l2 1.23v2.47l-2 1.23-2-1.23v-2.47zm-40 14.88l2 1.23v2.47l-2 1.23-2-1.23v-2.47zm32 0l2 1.23v2.47l-2 1.23-2-1.23v-2.47z"/>
<path color="#91d2a5" d="M630.7 69.85l2 1.23v2.47l-2 1.23-2-1.23v-2.47zm4 0l2 1.23v2.47l-2 1.23-2-1.23v-2.47zm4 0l2 1.23v2.47l-2 1.23-2-1.23v-2.47zm14 11.16l2 1.23v2.47l-2 1.23-2-1.23v-2.47zm-46 3.72l2 1.23v2.47l-2 1.23-2-1.23v-2.47zm-4 7.44l2 1.23v2.47l-2 1.23-2-1.23v-2.47zm56 0l2 1.23v2.47l-2 1.23-2-1.23v-2.47zm-56 14.88l2 1.23v2.47l-2 1.23-2-1.23v-2.47zm2 3.72l2 1.23v2.47l-2 1.23-2-1.23v-2.47z"/>
<path color="#98d5a4" d="M620.7 73.57l2 1.23v2.47l-2 1.23-2-1.23v-2.47zm24 0l2 1.23v2.47l-2 1.23-2-1.23v-2.47zm-30 3.72l2 1.23v2.47l-2 1.23-2-1.23v-2.47zm40 7.44l2 1.23v2.47l-2 1.23-2-1.23v-2.47zm-50 3.72l2 1.23v2.47l-2 1.23-2-1.23v-2.47zm52 0l2 1.23v2.47l-2 1.23-2-1.23v-2.47z"/>
<path color="#9ed8a4" d="M602.7 99.61l2 1.23v2.47l-2 1.23-2-1.23v-2.47zm14 18.6l2 1.23v2.47l-2 1.23-2-1.23v-2.47zm10 3.72l2 1.23v2.47l-2 1.23-2-1.23v-2.47z"/>
<path color="#a5daa4" d="M624.7 73.57l2 1.23v2.47l-2 1.23-2-1.23v-2.47zm-14 40.92l2 1.23v2.47l-2 1.23-2-1.23v-2.47z"/>
<path color="#abdda4" d="M612.7 81.01l2 1.23v2.47l-2 1.23-2-1.23v-2.47zm48 29.76l2 1.23v2.47l-2 1.23-2-1.23v-2.47zm-4 7.44l2 1.23v2.47l-2 1.23-2-1.23v-2.47z"/>
<path color="#b1dfa3" d="M628.7 73.57l2 1.23v2.47l-2 1.23-2-1.23v-2.47zm12 0l2 1.23v2.47l-2 1.23-2-1.23v-2.47zm-22 3.72l2 1.23v2.47l-2 1.23-2-1.23v-2.47zm28 0l2 1.23v2.47l-2 1.23-2-1.23v-2.47zm-36 7.44l2 1.23v2.47l-2 1.23-2-1.23v-2.47zm-6 11.16l2 1.23v2.47l-2 1.23-2-1.23v-2.47zm0 7.44l2 1.23v2.47l-2 1.23-2-1.23v-2.47zm56 0l2 1.23v2.47l-2 1.23-2-1.23v-2.47zm-30 18.6l2 1.23v2.47l-2 1.23-2-1.23v-2.47zm20 0l2 1.23v2.47l-2 1.23-2-1.23v-2.47z"/>
<path color="#b7e2a2" d="M632.7 73.57l2 1.23v2.47l-2 1.23-2-1.23v-2.47zm4 0l2 1.23v2.47l-2 1.23-2-1.23v-2.47zm-28 14.88l2 1.23v2.47l-2 1.23-2-1.23v-2.47zm-2 3.72l2 1.23v2.47l-2 1.23-2-1.23v-2.47zm2 18.6l2 1.23v2.47l-2 1.23-2-1.23v-2.47zm50 3.72l2 1.23v2.47l-2 1.23-2-1.23v-2.47z"/>
<path color="#bde4a1" d="M606.7 107.05l2 1.23v2.47l-2 1.23-2-1.23v-2.47zm14 11.16l2 1.23v2.47l-2 1.23-2-1.23v-2.47zm14 3.72l2 1.23v2.47l-2 1.23-2-1.23v-2.47z"/>
<path color="#c3e79f" d="M622.7 77.29l2 1.23v2.47l-2 1.23-2-1.23v-2.47zm-6 3.72l2 1.23v2.47l-2 1.23-2-1.23v-2.47zm32 0l2 1.23v2.47l-2 1.23-2-1.23v-2.47z"/>
<path color="#c9e99e" d="M606.7 99.61l2 1.23v2.47l-2 1.23-2-1.23v-2.47zm8 14.88l2 1.23v2.47l-2 1.23-2-1.23v-2.47zm24 7.44l2 1.23v2.47l-2 1.23-2-1.23v-2.47zm8 0l2 1.23v2.47l-2 1.23-2-1.23v-2.47z"/>
<path color="#cfeb9d" d="M626.7 77.29l2 1.23v2.47l-2 1.23-2-1.23v-2.47zm16 0l2 1.23v2.47l-2 1.23-2-1.23v-2.47zm16 22.32l2 1.23v2.47l-2 1.23-2-1.23v-2.47zm-16 22.32l2 1.23v2.47l-2 1.23-2-1.23v-2.47z"/>
<path color="#d53e4f" d="M634.7 99.61l2 1.23v2.47l-2 1.23-2-1.23v-2.47zm4 0l2 1.23v2.47l-2 1.23-2-1.23v-2.47zm4 0l2 1.23v2.47l-2 1.23-2-1.23v-2.47zm-10 3.72l2 1.23v2.47l-2 1.23-2-1.23v-2.47zm4 0l2 1.23v2.47l-2 1.23-2-1.23v-2.47zm4 0l2 1.23v2.47l-2 1.23-2-1.23v-2.47zm4 0l2 1.23v2.47l-2 1.23-2-1.23v-2.47zm-6 3.72l2 1.23v2.47l-2 1.23-2-1.23v-2.47zm4 0l2 1.23v2.47l-2 1.23-2-1.23v-2.47z"/>
<path color="#d5ee9c" d="M614.7 84.73l2 1.23v2.47l-2 1.23-2-1.23v-2.47zm36 0l2 1.23v2.47l-2 1.23-2-1.23v-2.47z"/>
<path color="#db484d" d="M634.7 107.05l2 1.23v2.47l-2 1.23-2-1.23v-2.47z"/>
<path color="#dbf09b" d="M630.7 77.29l2 1.23v2.47l-2 1.23-2-1.23v-2.47zm-10 3.72l2 1.23v2.47l-2 1.23-2-1.23v-2.47zm-12 14.88l2 1.23v2.47l-2 1.23-2-1.23v-2.47zm16 22.32l2 1.23v2.47l-2 1.23-2-1.23v-2.47z"/>
<path color="#de4d4c" d="M646.7 107.05l2 1.23v2.47l-2 1.23-2-1.23v-2.47z"/>
<path color="#e0f399" d="M634.7 77.29l2 1.23v2.47l-2 1.23-2-1.23v-2.47zm4 0l2 1.23v2.47l-2 1.23-2-1.23v-2.47zm-26 11.16l2 1.23v2.47l-2 1.23-2-1.23v-2.47zm40 0l2 1.23v2.47l-2 1.23-2-1.23v-2.47zm-42 3.72l2 1.23v2.47l-2 1.23-2-1.23v-2.47zm46 3.72l2 1.23v2.47l-2 1.23-2-1.23v-2.47zm-48 7.44l2 1.23v2.47l-2 1.23-2-1.23v-2.47zm4 7.44l2 1.23v2.47l-2 1.23-2-1.23v-2.47z"/>
<path color="#e2524b" d="M630.7 99.61l2 1.23v2.47l-2 1.23-2-1.23v-2.47zm16 0l2 1.23v2.47l-2 1.23-2-1.23v-2.47z"/>
<path color="#e6f598" d="M654.7 92.17l2 1.23v2.47l-2 1.23-2-1.23v-2.47zm-44 14.88l2 1.23v2.47l-2 1.23-2-1.23v-2.47zm48 0l2 1.23v2.47l-2 1.23-2-1.23v-2.47zm-6 11.16l2 1.23v2.47l-2 1.23-2-1.23v-2.47z"/>
<path color="#e85b49" d="M636.7 95.89l2 1.23v2.47l-2 1.23-2-1.23v-2.47zm4 0l2 1.23v2.47l-2 1.23-2-1.23v-2.47zm8 7.44l2 1.23v2.47l-2 1.23-2-1.23v-2.47z"/>
<path color="#e9f69c" d="M624.7 81.01l2 1.23v2.47l-2 1.23-2-1.23v-2.47zm20 0l2 1.23v2.47l-2 1.23-2-1.23v-2.47zm-26 33.48l2 1.23v2.47l-2 1.23-2-1.23v-2.47z"/>
<path color="#eb6047" d="M628.7 103.33l2 1.23v2.47l-2 1.23-2-1.23v-2.47zm2 3.72l2 1.23v2.47l-2 1.23-2-1.23v-2.47zm10 3.72l2 1.23v2.47l-2 1.23-2-1.23v-2.47z"/>
<path color="#ebf7a0" d="M618.7 84.73l2 1.23v2.47l-2 1.23-2-1.23v-2.47z"/>
<path color="#ee6446" d="M644.7 95.89l2 1.23v2.47l-2 1.23-2-1.23v-2.47zm0 14.88l2 1.23v2.47l-2 1.23-2-1.23v-2.47z"/>
<path color="#eef8a4" d="M610.7 99.61l2 1.23v2.47l-2 1.23-2-1.23v-2.47zm18 18.6l2 1.23v2.47l-2 1.23-2-1.23v-2.47z"/>
<path color="#f0f9a8" d="M628.7 81.01l2 1.23v2.47l-2 1.23-2-1.23v-2.47z"/>
<path color="#f16944" d="M632.7 95.89l2 1.23v2.47l-2 1.23-2-1.23v-2.47zm4 14.88l2 1.23v2.47l-2 1.23-2-1.23v-2.47z"/>
<path color="#f3faac" d="M616.7 88.45l2 1.23v2.47l-2 1.23-2-1.23v-2.47zm40 22.32l2 1.23v2.47l-2 1.23-2-1.23v-2.47zm-2 3.72l2 1.23v2.47l-2 1.23-2-1.23v-2.47z"/>
<path color="#f57446" d="M626.7 99.61l2 1.23v2.47l-2 1.23-2-1.23v-2.47z"/>
<path color="#f5fbaf" d="M632.7 81.01l2 1.23v2.47l-2 1.23-2-1.23v-2.47zm8 0l2 1.23v2.47l-2 1.23-2-1.23v-2.47zm-26 11.16l2 1.23v2.47l-2 1.23-2-1.23v-2.47zm-2 3.72l2 1.23v2.47l-2 1.23-2-1.23v-2.47z"/>
<path color="#f7824c" d="M628.7 95.89l2 1.23v2.47l-2 1.23-2-1.23v-2.47zm4 14.88l2 1.23v2.47l-2 1.23-2-1.23v-2.47z"/>
<path color="#f8fcb3" d="M636.7 81.01l2 1.23v2.47l-2 1.23-2-1.23v-2.47zm-14 3.72l2 1.23v2.47l-2 1.23-2-1.23v-2.47zm24 0l2 1.23v2.47l-2 1.23-2-1.23v-2.47zm-34 18.6l2 1.23v2.47l-2 1.23-2-1.23v-2.47zm4 7.44l2 1.23v2.47l-2 1.23-2-1.23v-2.47zm16 7.44l2 1.23v2.47l-2 1.23-2-1.23v-2.47z"/>
<path color="#f98f52" d="M638.7 92.17l2 1.23v2.47l-2 1.23-2-1.23v-2.47zm-14 11.16l2 1.23v2.47l-2 1.23-2-1.23v-2.47zm2 3.72l2 1.23v2.47l-2 1.23-2-1.23v-2.47zm24 0l2 1.23v2.47l-2 1.23-2-1.23v-2.47zm-2 3.72l2 1.23v2.47l-2 1.23-2-1.23v-2.47z"/>
<path color="#fa9555" d="M634.7 92.17l2 1.23v2.47l-2 1.23-2-1.23v-2.47zm8 0l2 1.23v2.47l-2 1.23-2-1.23v-2.47z"/>
<path color="#fafdb7" d="M656.7 103.33l2 1.23v2.47l-2 1.23-2-1.23v-2.47zm-34 11.16l2 1.23v2.47l-2 1.23-2-1.23v-2.47zm26 3.72l2 1.23v2.47l-2 1.23-2-1.23v-2.47z"/>
<path color="#fca25b" d="M648.7 95.89l2 1.23v2.47l-2 1.23-2-1.23v-2.47zm2 3.72l2 1.23v2.47l-2 1.23-2-1.23v-2.47z"/>
<path color="#fca85e" d="M630.7 92.17l2 1.23v2.47l-2 1.23-2-1.23v-2.47zm-6 3.72l2 1.23v2.47l-2 1.23-2-1.23v-2.47zm-2 3.72l2 1.23v2.47l-2 1.23-2-1.23v-2.47z"/>
<path color="#fdae61" d="M628.7 110.77l2 1.23v2.47l-2 1.23-2-1.23v-2.47z"/>
<path color="#fdb365" d="M642.7 114.49l2 1.23v2.47l-2 1.23-2-1.23v-2.47z"/>
<path color="#fdfebb" d="M614.7 107.05l2 1.23v2.47l-2 1.23-2-1.23v-2.47z"/>
<path color="#feb869" d="M638.7 114.49l2 1.23v2.47l-2 1.23-2-1.23v-2.47z"/>
<path color="#febd6d" d="M626.7 92.17l2 1.23v2.47l-2 1.23-2-1.23v-2.47zm20 0l2 1.23v2.47l-2 1.23-2-1.23v-2.47zm6 11.16l2 1.23v2.47l-2 1.23-2-1.23v-2.47zm-30 3.72l2 1.23v2.47l-2 1.23-2-1.23v-2.47z"/>
<path color="#fec272" d="M620.7 103.33l2 1.23v2.47l-2 1.23-2-1.23v-2.47zm26 11.16l2 1.23v2.47l-2 1.23-2-1.23v-2.47z"/>
<path color="#fec776" d="M636.7 88.45l2 1.23v2.47l-2 1.23-2-1.23v-2.47zm4 0l2 1.23v2.47l-2 1.23-2-1.23v-2.47zm-6 26.04l2 1.23v2.47l-2 1.23-2-1.23v-2.47z"/>
<path color="#fed17e" d="M632.7 88.45l2 1.23v2.47l-2 1.23-2-1.23v-2.47zm-12 7.44l2 1.23v2.47l-2 1.23-2-1.23v-2.47zm4 14.88l2 1.23v2.47l-2 1.23-2-1.23v-2.47z"/>
<path color="#fed682" d="M618.7 99.61l2 1.23v2.47l-2 1.23-2-1.23v-2.47z"/>
<path color="#fedb87" d="M622.7 92.17l2 1.23v2.47l-2 1.23-2-1.23v-2.47zm30 18.6l2 1.23v2.47l-2 1.23-2-1.23v-2.47z"/>
<path color="#fee08b" d="M628.7 88.45l2 1.23v2.47l-2 1.23-2-1.23v-2.47zm16 0l2 1.23v2.47l-2 1.23-2-1.23v-2.47zm-14 26.04l2 1.23v2.47l-2 1.23-2-1.23v-2.47z"/>
<path color="#ffe695" d="M618.7 107.05l2 1.23v2.47l-2 1.23-2-1.23v-2.47zm36 0l2 1.23v2.47l-2 1.23-2-1.23v-2.47zm-4 7.44l2 1.23v2.47l-2 1.23-2-1.23v-2.47z"/>
<path color="#ffe99b" d="M616.7 103.33l2 1.23v2.47l-2 1.23-2-1.23v-2.47z"/>
<path color="#ffeca0" d="M638.7 84.73l2 1.23v2.47l-2 1.23-2-1.23v-2.47zm-14 3.72l2 1.23v2.47l-2 1.23-2-1.23v-2.47zm28 7.44l2 1.23v2.47l-2 1.23-2-1.23v-2.47z"/>
<path color="#ffefa5" d="M634.7 84.73l2 1.23v2.47l-2 1.23-2-1.23v-2.47zm16 7.44l2 1.23v2.47l-2 1.23-2-1.23v-2.47zm-30 18.6l2 1.23v2.47l-2 1.23-2-1.23v-2.47z"/>
<path color="#fff3aa" d="M618.7 92.17l2 1.23v2.47l-2 1.23-2-1.23v-2.47zm-2 3.72l2 1.23v2.47l-2 1.23-2-1.23v-2.47zm38 3.72l2 1.23v2.47l-2 1.23-2-1.23v-2.47zm-28 14.88l2 1.23v2.47l-2 1.23-2-1.23v-2.47z"/>
<path color="#fff6af" d="M630.7 84.73l2 1.23v2.47l-2 1.23-2-1.23v-2.47zm12 0l2 1.23v2.47l-2 1.23-2-1.23v-2.47z"/>
<path color="#fff9b5" d="M648.7 88.45l2 1.23v2.47l-2 1.23-2-1.23v-2.47zm-34 11.16l2 1.23v2.47l-2 1.23-2-1.23v-2.47zm26 18.6l2 1.23v2.47l-2 1.23-2-1.23v-2.47zm4 0l2 1.23v2.47l-2 1.23-2-1.23v-2.47z"/>
<path color="#fffcba" d="M620.7 88.45l2 1.23v2.47l-2 1.23-2-1.23v-2.47z"/>
<path color="#ffffbf" d="M626.7 84.73l2 1.23v2.47l-2 1.23-2-1.23v-2.47zm10 33.48l2 1.23v2.47l-2 1.23-2-1.23v-2.47z"/>
<rect x="37.3" y="12.4" width="130.6" height="140.7" fill="none" stroke="#8c8c8c" stroke-width="0.9"/>
<line x1="34.1" y1="151.8" x2="37.3" y2="151.8" stroke="#8c8c8c" stroke-width="0.9"/>
<text class="S" x="32.7" y="155.1" font-size="9.2" text-anchor="end" stroke="#1a1a1a" stroke-width="0.22">0.0</text>
<line x1="34.1" y1="113.4" x2="37.3" y2="113.4" stroke="#8c8c8c" stroke-width="0.9"/>
<text class="S" x="32.7" y="116.7" font-size="9.2" text-anchor="end" stroke="#1a1a1a" stroke-width="0.22">0.2</text>
<line x1="34.1" y1="75" x2="37.3" y2="75" stroke="#8c8c8c" stroke-width="0.9"/>
<text class="S" x="32.7" y="78.3" font-size="9.2" text-anchor="end" stroke="#1a1a1a" stroke-width="0.22">0.4</text>
<line x1="34.1" y1="36.6" x2="37.3" y2="36.6" stroke="#8c8c8c" stroke-width="0.9"/>
<text class="S" x="32.7" y="39.9" font-size="9.2" text-anchor="end" stroke="#1a1a1a" stroke-width="0.22">0.6</text>
<line x1="43.3" y1="153.1" x2="43.3" y2="156.3" stroke="#8c8c8c" stroke-width="0.9"/>
<text class="S" x="43.3" y="165.5" font-size="9.2" text-anchor="middle" stroke="#1a1a1a" stroke-width="0.22">0.0</text>
<line x1="75.62" y1="153.1" x2="75.62" y2="156.3" stroke="#8c8c8c" stroke-width="0.9"/>
<text class="S" x="75.62" y="165.5" font-size="9.2" text-anchor="middle" stroke="#1a1a1a" stroke-width="0.22">2.5</text>
<line x1="107.95" y1="153.1" x2="107.95" y2="156.3" stroke="#8c8c8c" stroke-width="0.9"/>
<text class="S" x="107.95" y="165.5" font-size="9.2" text-anchor="middle" stroke="#1a1a1a" stroke-width="0.22">5.0</text>
<line x1="140.27" y1="153.1" x2="140.27" y2="156.3" stroke="#8c8c8c" stroke-width="0.9"/>
<text class="S" x="140.27" y="165.5" font-size="9.2" text-anchor="middle" stroke="#1a1a1a" stroke-width="0.22">7.5</text>
<text class="S" x="102.6" y="176.9" font-size="9.2" text-anchor="middle" stroke="#1a1a1a" stroke-width="0.22">AMED</text>
<text class="S" x="15" y="82.75" font-size="9.2" text-anchor="middle" stroke="#1a1a1a" stroke-width="0.22" transform="rotate(-90 15 82.75)">NR</text>
<g class="R" fill="#3d3d3d"><text x="64.73" y="7.3" font-size="9.9" font-style="italic">&#961;</text><text x="84.1" y="7.3" font-size="9.9" text-anchor="middle">0</text><text x="87.7" y="7.3" font-size="9.9" text-anchor="middle">.</text><text x="91.29" y="7.3" font-size="9.9" text-anchor="middle">1</text><text x="95.92" y="7.3" font-size="9.9" text-anchor="middle">2</text><text x="99.52" y="7.3" font-size="9.9" text-anchor="middle">,</text><text x="102.34" y="7.3" font-size="9.9" font-style="italic">p</text><text x="121.71" y="7.3" font-size="9.9" text-anchor="middle">0</text><text x="125.31" y="7.3" font-size="9.9" text-anchor="middle">.</text><text x="128.91" y="7.3" font-size="9.9" text-anchor="middle">0</text><text x="133.53" y="7.3" font-size="9.9" text-anchor="middle">0</text><text x="138.16" y="7.3" font-size="9.9" text-anchor="middle">1</text><path d="M72.38 4.02h6.47M72.38 5.96h6.47" stroke="#3d3d3d" stroke-width="0.57" fill="none"/><path d="M116.1 2.67L110.36 4.99L116.1 7.3" stroke="#3d3d3d" stroke-width="0.57" fill="none"/></g>
<rect x="207.9" y="12.4" width="130.5" height="140.7" fill="none" stroke="#8c8c8c" stroke-width="0.9"/>
<line x1="204.7" y1="151.8" x2="207.9" y2="151.8" stroke="#8c8c8c" stroke-width="0.9"/>
<text class="S" x="203.3" y="155.1" font-size="9.2" text-anchor="end" stroke="#1a1a1a" stroke-width="0.22">0.0</text>
<line x1="204.7" y1="113.4" x2="207.9" y2="113.4" stroke="#8c8c8c" stroke-width="0.9"/>
<text class="S" x="203.3" y="116.7" font-size="9.2" text-anchor="end" stroke="#1a1a1a" stroke-width="0.22">0.2</text>
<line x1="204.7" y1="75" x2="207.9" y2="75" stroke="#8c8c8c" stroke-width="0.9"/>
<text class="S" x="203.3" y="78.3" font-size="9.2" text-anchor="end" stroke="#1a1a1a" stroke-width="0.22">0.4</text>
<line x1="204.7" y1="36.6" x2="207.9" y2="36.6" stroke="#8c8c8c" stroke-width="0.9"/>
<text class="S" x="203.3" y="39.9" font-size="9.2" text-anchor="end" stroke="#1a1a1a" stroke-width="0.22">0.6</text>
<line x1="226.7" y1="153.1" x2="226.7" y2="156.3" stroke="#8c8c8c" stroke-width="0.9"/>
<text class="S" x="226.7" y="165.5" font-size="9.2" text-anchor="middle" stroke="#1a1a1a" stroke-width="0.22">25</text>
<line x1="261.1" y1="153.1" x2="261.1" y2="156.3" stroke="#8c8c8c" stroke-width="0.9"/>
<text class="S" x="261.1" y="165.5" font-size="9.2" text-anchor="middle" stroke="#1a1a1a" stroke-width="0.22">50</text>
<line x1="295.5" y1="153.1" x2="295.5" y2="156.3" stroke="#8c8c8c" stroke-width="0.9"/>
<text class="S" x="295.5" y="165.5" font-size="9.2" text-anchor="middle" stroke="#1a1a1a" stroke-width="0.22">75</text>
<line x1="329.9" y1="153.1" x2="329.9" y2="156.3" stroke="#8c8c8c" stroke-width="0.9"/>
<text class="S" x="329.9" y="165.5" font-size="9.2" text-anchor="middle" stroke="#1a1a1a" stroke-width="0.22">100</text>
<text class="S" x="273.15" y="176.9" font-size="9.2" text-anchor="middle" stroke="#1a1a1a" stroke-width="0.22">AHEI</text>
<text class="S" x="185.6" y="82.75" font-size="9.2" text-anchor="middle" stroke="#1a1a1a" stroke-width="0.22" transform="rotate(-90 185.6 82.75)">NR</text>
<g class="R" fill="#3d3d3d"><text x="231.68" y="7.3" font-size="9.9" font-style="italic">&#961;</text><text x="258.25" y="7.3" font-size="9.9" text-anchor="middle">0</text><text x="261.84" y="7.3" font-size="9.9" text-anchor="middle">.</text><text x="265.44" y="7.3" font-size="9.9" text-anchor="middle">0</text><text x="270.07" y="7.3" font-size="9.9" text-anchor="middle">8</text><text x="273.66" y="7.3" font-size="9.9" text-anchor="middle">,</text><text x="276.49" y="7.3" font-size="9.9" font-style="italic">p</text><text x="295.86" y="7.3" font-size="9.9" text-anchor="middle">0</text><text x="299.46" y="7.3" font-size="9.9" text-anchor="middle">.</text><text x="303.05" y="7.3" font-size="9.9" text-anchor="middle">0</text><text x="307.68" y="7.3" font-size="9.9" text-anchor="middle">0</text><text x="312.3" y="7.3" font-size="9.9" text-anchor="middle">1</text><path d="M239.33 4.02h6.47M239.33 5.96h6.47" stroke="#3d3d3d" stroke-width="0.57" fill="none"/><path d="M249.1 4.99h6.47" stroke="#3d3d3d" stroke-width="0.57" fill="none"/><path d="M290.25 2.67L284.51 4.99L290.25 7.3" stroke="#3d3d3d" stroke-width="0.57" fill="none"/></g>
<rect x="378.3" y="12.4" width="130.6" height="140.7" fill="none" stroke="#8c8c8c" stroke-width="0.9"/>
<line x1="375.1" y1="151.8" x2="378.3" y2="151.8" stroke="#8c8c8c" stroke-width="0.9"/>
<text class="S" x="373.7" y="155.1" font-size="9.2" text-anchor="end" stroke="#1a1a1a" stroke-width="0.22">0.0</text>
<line x1="375.1" y1="113.4" x2="378.3" y2="113.4" stroke="#8c8c8c" stroke-width="0.9"/>
<text class="S" x="373.7" y="116.7" font-size="9.2" text-anchor="end" stroke="#1a1a1a" stroke-width="0.22">0.2</text>
<line x1="375.1" y1="75" x2="378.3" y2="75" stroke="#8c8c8c" stroke-width="0.9"/>
<text class="S" x="373.7" y="78.3" font-size="9.2" text-anchor="end" stroke="#1a1a1a" stroke-width="0.22">0.4</text>
<line x1="375.1" y1="36.6" x2="378.3" y2="36.6" stroke="#8c8c8c" stroke-width="0.9"/>
<text class="S" x="373.7" y="39.9" font-size="9.2" text-anchor="end" stroke="#1a1a1a" stroke-width="0.22">0.6</text>
<line x1="395.27" y1="153.1" x2="395.27" y2="156.3" stroke="#8c8c8c" stroke-width="0.9"/>
<text class="S" x="395.27" y="165.5" font-size="9.2" text-anchor="middle" stroke="#1a1a1a" stroke-width="0.22">10</text>
<line x1="431.94" y1="153.1" x2="431.94" y2="156.3" stroke="#8c8c8c" stroke-width="0.9"/>
<text class="S" x="431.94" y="165.5" font-size="9.2" text-anchor="middle" stroke="#1a1a1a" stroke-width="0.22">20</text>
<line x1="468.61" y1="153.1" x2="468.61" y2="156.3" stroke="#8c8c8c" stroke-width="0.9"/>
<text class="S" x="468.61" y="165.5" font-size="9.2" text-anchor="middle" stroke="#1a1a1a" stroke-width="0.22">30</text>
<line x1="505.28" y1="153.1" x2="505.28" y2="156.3" stroke="#8c8c8c" stroke-width="0.9"/>
<text class="S" x="505.28" y="165.5" font-size="9.2" text-anchor="middle" stroke="#1a1a1a" stroke-width="0.22">40</text>
<text class="S" x="443.6" y="176.9" font-size="9.2" text-anchor="middle" stroke="#1a1a1a" stroke-width="0.22">DASH</text>
<text class="S" x="356" y="82.75" font-size="9.2" text-anchor="middle" stroke="#1a1a1a" stroke-width="0.22" transform="rotate(-90 356 82.75)">NR</text>
<g class="R" fill="#3d3d3d"><text x="405.73" y="7.3" font-size="9.9" font-style="italic">&#961;</text><text x="425.1" y="7.3" font-size="9.9" text-anchor="middle">0</text><text x="428.7" y="7.3" font-size="9.9" text-anchor="middle">.</text><text x="432.29" y="7.3" font-size="9.9" text-anchor="middle">0</text><text x="436.92" y="7.3" font-size="9.9" text-anchor="middle">7</text><text x="440.52" y="7.3" font-size="9.9" text-anchor="middle">,</text><text x="443.34" y="7.3" font-size="9.9" font-style="italic">p</text><text x="462.71" y="7.3" font-size="9.9" text-anchor="middle">0</text><text x="466.31" y="7.3" font-size="9.9" text-anchor="middle">.</text><text x="469.91" y="7.3" font-size="9.9" text-anchor="middle">0</text><text x="474.53" y="7.3" font-size="9.9" text-anchor="middle">0</text><text x="479.16" y="7.3" font-size="9.9" text-anchor="middle">1</text><path d="M413.38 4.02h6.47M413.38 5.96h6.47" stroke="#3d3d3d" stroke-width="0.57" fill="none"/><path d="M457.1 2.67L451.36 4.99L457.1 7.3" stroke="#3d3d3d" stroke-width="0.57" fill="none"/></g>
<rect x="549.1" y="12.4" width="130.3" height="140.7" fill="none" stroke="#8c8c8c" stroke-width="0.9"/>
<line x1="545.9" y1="115.8" x2="549.1" y2="115.8" stroke="#8c8c8c" stroke-width="0.9"/>
<text class="S" x="544.5" y="119.1" font-size="9.2" text-anchor="end" stroke="#1a1a1a" stroke-width="0.22">0.2</text>
<line x1="545.9" y1="76.2" x2="549.1" y2="76.2" stroke="#8c8c8c" stroke-width="0.9"/>
<text class="S" x="544.5" y="79.5" font-size="9.2" text-anchor="end" stroke="#1a1a1a" stroke-width="0.22">0.4</text>
<line x1="545.9" y1="36.6" x2="549.1" y2="36.6" stroke="#8c8c8c" stroke-width="0.9"/>
<text class="S" x="544.5" y="39.9" font-size="9.2" text-anchor="end" stroke="#1a1a1a" stroke-width="0.22">0.6</text>
<line x1="555" y1="153.1" x2="555" y2="156.3" stroke="#8c8c8c" stroke-width="0.9"/>
<text class="S" x="555" y="165.5" font-size="9.2" text-anchor="middle" stroke="#1a1a1a" stroke-width="0.22">20</text>
<line x1="585" y1="153.1" x2="585" y2="156.3" stroke="#8c8c8c" stroke-width="0.9"/>
<text class="S" x="585" y="165.5" font-size="9.2" text-anchor="middle" stroke="#1a1a1a" stroke-width="0.22">40</text>
<line x1="615" y1="153.1" x2="615" y2="156.3" stroke="#8c8c8c" stroke-width="0.9"/>
<text class="S" x="615" y="165.5" font-size="9.2" text-anchor="middle" stroke="#1a1a1a" stroke-width="0.22">60</text>
<line x1="645" y1="153.1" x2="645" y2="156.3" stroke="#8c8c8c" stroke-width="0.9"/>
<text class="S" x="645" y="165.5" font-size="9.2" text-anchor="middle" stroke="#1a1a1a" stroke-width="0.22">80</text>
<line x1="675" y1="153.1" x2="675" y2="156.3" stroke="#8c8c8c" stroke-width="0.9"/>
<text class="S" x="675" y="165.5" font-size="9.2" text-anchor="middle" stroke="#1a1a1a" stroke-width="0.22">100</text>
<text class="S" x="614.25" y="176.9" font-size="9.2" text-anchor="middle" stroke="#1a1a1a" stroke-width="0.22">HEI</text>
<text class="S" x="526.8" y="82.75" font-size="9.2" text-anchor="middle" stroke="#1a1a1a" stroke-width="0.22" transform="rotate(-90 526.8 82.75)">NR</text>
<g class="R" fill="#3d3d3d"><text x="572.78" y="7.3" font-size="9.9" font-style="italic">&#961;</text><text x="599.35" y="7.3" font-size="9.9" text-anchor="middle">0</text><text x="602.94" y="7.3" font-size="9.9" text-anchor="middle">.</text><text x="606.54" y="7.3" font-size="9.9" text-anchor="middle">1</text><text x="611.17" y="7.3" font-size="9.9" text-anchor="middle">6</text><text x="614.76" y="7.3" font-size="9.9" text-anchor="middle">,</text><text x="617.59" y="7.3" font-size="9.9" font-style="italic">p</text><text x="636.96" y="7.3" font-size="9.9" text-anchor="middle">0</text><text x="640.56" y="7.3" font-size="9.9" text-anchor="middle">.</text><text x="644.15" y="7.3" font-size="9.9" text-anchor="middle">0</text><text x="648.78" y="7.3" font-size="9.9" text-anchor="middle">0</text><text x="653.4" y="7.3" font-size="9.9" text-anchor="middle">1</text><path d="M580.43 4.02h6.47M580.43 5.96h6.47" stroke="#3d3d3d" stroke-width="0.57" fill="none"/><path d="M590.2 4.99h6.47" stroke="#3d3d3d" stroke-width="0.57" fill="none"/><path d="M631.35 2.67L625.61 4.99L631.35 7.3" stroke="#3d3d3d" stroke-width="0.57" fill="none"/></g>
<text class="S" x="5" y="8" font-size="12.5" font-weight="bold" fill="#000" stroke="#000" stroke-width="0.22">a</text>
<line x1="42.9" y1="99" x2="160.4" y2="89" stroke="#b3b3b3" stroke-width="2.2"/>
<line x1="212.9" y1="90.7" x2="332.2" y2="99.6" stroke="#b3b3b3" stroke-width="2.2"/>
<line x1="384.2" y1="100.1" x2="501.7" y2="89.9" stroke="#b3b3b3" stroke-width="2.2"/>
<line x1="554.8" y1="85.7" x2="673.6" y2="102.3" stroke="#b3b3b3" stroke-width="2.2"/>
<path color="#1866b0" d="M110 213.44l1.15 1.18v2.36l-1.15 1.18-1.15-1.18v-2.36zm1.15 3.55l1.15 1.18v2.36l-1.15 1.18-1.15-1.18v-2.36zm-70.35 3.55l1.15 1.18v2.36l-1.15 1.18-1.15-1.18v-2.36zm23.1 0l1.15 1.18v2.36l-1.15 1.18-1.15-1.18v-2.36zm22.8 0l1.15 1.18v2.36l-1.15 1.18-1.15-1.18v-2.36zm23.3 0l1.15 1.18v2.36l-1.15 1.18-1.15-1.18v-2.36zm-68.05 3.55l1.15 1.18v2.36l-1.15 1.18-1.15-1.18v-2.36zm45.9 0l1.15 1.18v2.36l-1.15 1.18-1.15-1.18v-2.36zm23.3 0l1.15 1.18v2.36l-1.15 1.18-1.15-1.18v-2.36zm-70.35 3.55l1.15 1.18v2.36l-1.15 1.18-1.15-1.18v-2.36zm45.9 0l1.15 1.18v2.36l-1.15 1.18-1.15-1.18v-2.36zm23.3 0l1.15 1.18v2.36l-1.15 1.18-1.15-1.18v-2.36zm-68.05 3.55l1.15 1.18v2.36l-1.15 1.18-1.15-1.18v-2.36zm23.1 0l1.15 1.18v2.36l-1.15 1.18-1.15-1.18v-2.36zm22.8 0l1.15 1.18v2.36l-1.15 1.18-1.15-1.18v-2.36zm23.3 0l1.15 1.18v2.36l-1.15 1.18-1.15-1.18v-2.36zm-70.35 3.55l1.15 1.18v2.36l-1.15 1.18-1.15-1.18v-2.36zm23.1 0l1.15 1.18v2.36l-1.15 1.18-1.15-1.18v-2.36zm22.8 0l1.15 1.18v2.36l-1.15 1.18-1.15-1.18v-2.36zm23.3 0l1.15 1.18v2.36l-1.15 1.18-1.15-1.18v-2.36zm-68.05 3.55l1.15 1.18v2.36l-1.15 1.18-1.15-1.18v-2.36zm23.1 0l1.15 1.18v2.36l-1.15 1.18-1.15-1.18v-2.36zm22.8 0l1.15 1.18v2.36l-1.15 1.18-1.15-1.18v-2.36zm23.3 0l1.15 1.18v2.36l-1.15 1.18-1.15-1.18v-2.36zm-70.35 3.55l1.15 1.18v2.36l-1.15 1.18-1.15-1.18v-2.36zm1.15 3.55l1.15 1.18v2.36l-1.15 1.18-1.15-1.18v-2.36zm69.2 0l1.15 1.18v2.36l-1.15 1.18-1.15-1.18v-2.36zm-69.2 85.2l1.15 1.18v2.36l-1.15 1.18-1.15-1.18v-2.36zm23.1 7.1l1.15 1.18v2.36l-1.15 1.18-1.15-1.18v-2.36z"/>
<path color="#246ab2" d="M63.9 241.84l1.15 1.18v2.36l-1.15 1.18-1.15-1.18v-2.36zm22.8 0l1.15 1.18v2.36l-1.15 1.18-1.15-1.18v-2.36zm23.3 0l1.15 1.18v2.36l-1.15 1.18-1.15-1.18v-2.36zm-44.95 3.55l1.15 1.18v2.36l-1.15 1.18-1.15-1.18v-2.36zm22.8 0l1.15 1.18v2.36l-1.15 1.18-1.15-1.18v-2.36zm-47.05 3.55l1.15 1.18v2.36l-1.15 1.18-1.15-1.18v-2.36zm69.2 0l1.15 1.18v2.36l-1.15 1.18-1.15-1.18v-2.36zm-68.05 3.55l1.15 1.18v2.36l-1.15 1.18-1.15-1.18v-2.36zm69.2 0l1.15 1.18v2.36l-1.15 1.18-1.15-1.18v-2.36zm-69.2 71l1.15 1.18v2.36l-1.15 1.18-1.15-1.18v-2.36zm-1.15 3.55l1.15 1.18v2.36l-1.15 1.18-1.15-1.18v-2.36zm24.25 3.55l1.15 1.18v2.36l-1.15 1.18-1.15-1.18v-2.36z"/>
<path color="#2d6fb5" d="M63.9 248.94l1.15 1.18v2.36l-1.15 1.18-1.15-1.18v-2.36zm1.15 3.55l1.15 1.18v2.36l-1.15 1.18-1.15-1.18v-2.36zm22.8 0l1.15 1.18v2.36l-1.15 1.18-1.15-1.18v-2.36zm-22.8 71l1.15 1.18v2.36l-1.15 1.18-1.15-1.18v-2.36zm22.8 0l1.15 1.18v2.36l-1.15 1.18-1.15-1.18v-2.36zm23.3 0l1.15 1.18v2.36l-1.15 1.18-1.15-1.18v-2.36zm-47.25 3.55l1.15 1.18v2.36l-1.15 1.18-1.15-1.18v-2.36zm22.8 0l1.15 1.18v2.36l-1.15 1.18-1.15-1.18v-2.36zm23.3 0l1.15 1.18v2.36l-1.15 1.18-1.15-1.18v-2.36z"/>
<path color="#3573b7" d="M86.7 248.94l1.15 1.18v2.36l-1.15 1.18-1.15-1.18v-2.36zm-45.9 7.1l1.15 1.18v2.36l-1.15 1.18-1.15-1.18v-2.36zm1.15 3.55l1.15 1.18v2.36l-1.15 1.18-1.15-1.18v-2.36zm69.2 0l1.15 1.18v2.36l-1.15 1.18-1.15-1.18v-2.36z"/>
<path color="#3d78b9" d="M110 256.04l1.15 1.18v2.36l-1.15 1.18-1.15-1.18v-2.36zm-44.95 3.55l1.15 1.18v2.36l-1.15 1.18-1.15-1.18v-2.36zm-23.1 56.8l1.15 1.18v2.36l-1.15 1.18-1.15-1.18v-2.36z"/>
<path color="#437cbc" d="M63.9 256.04l1.15 1.18v2.36l-1.15 1.18-1.15-1.18v-2.36zm23.95 3.55l1.15 1.18v2.36l-1.15 1.18-1.15-1.18v-2.36zm-45.9 7.1l1.15 1.18v2.36l-1.15 1.18-1.15-1.18v-2.36zm69.2 49.7l1.15 1.18v2.36l-1.15 1.18-1.15-1.18v-2.36zm-70.35 3.55l1.15 1.18v2.36l-1.15 1.18-1.15-1.18v-2.36z"/>
<path color="#4a81be" d="M86.7 256.04l1.15 1.18v2.36l-1.15 1.18-1.15-1.18v-2.36zm24.45 10.65l1.15 1.18v2.36l-1.15 1.18-1.15-1.18v-2.36zm-46.1 49.7l1.15 1.18v2.36l-1.15 1.18-1.15-1.18v-2.36zm44.95 3.55l1.15 1.18v2.36l-1.15 1.18-1.15-1.18v-2.36z"/>
<path color="#5086c0" d="M40.8 263.14l1.15 1.18v2.36l-1.15 1.18-1.15-1.18v-2.36zm47.05 53.25l1.15 1.18v2.36l-1.15 1.18-1.15-1.18v-2.36zm-23.95 3.55l1.15 1.18v2.36l-1.15 1.18-1.15-1.18v-2.36z"/>
<path color="#558ac3" d="M110 263.14l1.15 1.18v2.36l-1.15 1.18-1.15-1.18v-2.36zm-44.95 3.55l1.15 1.18v2.36l-1.15 1.18-1.15-1.18v-2.36z"/>
<path color="#5b8fc5" d="M41.95 273.79l1.15 1.18v2.36l-1.15 1.18-1.15-1.18v-2.36zm44.75 46.15l1.15 1.18v2.36l-1.15 1.18-1.15-1.18v-2.36z"/>
<path color="#6094c7" d="M87.85 266.69l1.15 1.18v2.36l-1.15 1.18-1.15-1.18v-2.36zm23.3 7.1l1.15 1.18v2.36l-1.15 1.18-1.15-1.18v-2.36zm-69.2 35.5l1.15 1.18v2.36l-1.15 1.18-1.15-1.18v-2.36z"/>
<path color="#6699c9" d="M63.9 263.14l1.15 1.18v2.36l-1.15 1.18-1.15-1.18v-2.36zm47.25 46.15l1.15 1.18v2.36l-1.15 1.18-1.15-1.18v-2.36z"/>
<path color="#75a7d0" d="M86.7 263.14l1.15 1.18v2.36l-1.15 1.18-1.15-1.18v-2.36zm-45.9 7.1l1.15 1.18v2.36l-1.15 1.18-1.15-1.18v-2.36zm24.25 3.55l1.15 1.18v2.36l-1.15 1.18-1.15-1.18v-2.36zm-24.25 39.05l1.15 1.18v2.36l-1.15 1.18-1.15-1.18v-2.36z"/>
<path color="#7aacd3" d="M41.95 280.89l1.15 1.18v2.36l-1.15 1.18-1.15-1.18v-2.36zm23.1 28.4l1.15 1.18v2.36l-1.15 1.18-1.15-1.18v-2.36zm44.95 3.55l1.15 1.18v2.36l-1.15 1.18-1.15-1.18v-2.36z"/>
<path color="#7fb1d5" d="M110 270.24l1.15 1.18v2.36l-1.15 1.18-1.15-1.18v-2.36zm1.15 10.65l1.15 1.18v2.36l-1.15 1.18-1.15-1.18v-2.36z"/>
<path color="#88bbd9" d="M87.85 273.79l1.15 1.18v2.36l-1.15 1.18-1.15-1.18v-2.36zm-45.9 28.4l1.15 1.18v2.36l-1.15 1.18-1.15-1.18v-2.36zm45.9 7.1l1.15 1.18v2.36l-1.15 1.18-1.15-1.18v-2.36z"/>
<path color="#92c5de" d="M41.95 287.99l1.15 1.18v2.36l-1.15 1.18-1.15-1.18v-2.36zm69.2 14.2l1.15 1.18v2.36l-1.15 1.18-1.15-1.18v-2.36zm-47.25 10.65l1.15 1.18v2.36l-1.15 1.18-1.15-1.18v-2.36z"/>
<path color="#97c7df" d="M63.9 270.24l1.15 1.18v2.36l-1.15 1.18-1.15-1.18v-2.36z"/>
<path color="#9dcae1" d="M65.05 280.89l1.15 1.18v2.36l-1.15 1.18-1.15-1.18v-2.36zm46.1 7.1l1.15 1.18v2.36l-1.15 1.18-1.15-1.18v-2.36z"/>
<path color="#a2cce2" d="M41.95 295.09l1.15 1.18v2.36l-1.15 1.18-1.15-1.18v-2.36z"/>
<path color="#a7cfe3" d="M40.8 277.34l1.15 1.18v2.36l-1.15 1.18-1.15-1.18v-2.36zm45.9 35.5l1.15 1.18v2.36l-1.15 1.18-1.15-1.18v-2.36z"/>
<path color="#add1e4" d="M111.15 295.09l1.15 1.18v2.36l-1.15 1.18-1.15-1.18v-2.36z"/>
<path color="#b2d4e6" d="M110 277.34l1.15 1.18v2.36l-1.15 1.18-1.15-1.18v-2.36zm-44.95 24.85l1.15 1.18v2.36l-1.15 1.18-1.15-1.18v-2.36z"/>
<path color="#b7d6e7" d="M86.7 270.24l1.15 1.18v2.36l-1.15 1.18-1.15-1.18v-2.36z"/>
<path color="#bcd9e8" d="M87.85 280.89l1.15 1.18v2.36l-1.15 1.18-1.15-1.18v-2.36zm-47.05 24.85l1.15 1.18v2.36l-1.15 1.18-1.15-1.18v-2.36z"/>
<path color="#bd0022" d="M86.7 291.54l1.15 1.18v2.36l-1.15 1.18-1.15-1.18v-2.36z"/>
<path color="#c1dbe9" d="M65.05 287.99l1.15 1.18v2.36l-1.15 1.18-1.15-1.18v-2.36z"/>
<path color="#ca3834" d="M86.7 298.64l1.15 1.18v2.36l-1.15 1.18-1.15-1.18v-2.36z"/>
<path color="#cbe0ec" d="M110 305.74l1.15 1.18v2.36l-1.15 1.18-1.15-1.18v-2.36z"/>
<path color="#d0e3ed" d="M87.85 302.19l1.15 1.18v2.36l-1.15 1.18-1.15-1.18v-2.36z"/>
<path color="#d5e5ee" d="M65.05 295.09l1.15 1.18v2.36l-1.15 1.18-1.15-1.18v-2.36z"/>
<path color="#dfeaf1" d="M63.9 277.34l1.15 1.18v2.36l-1.15 1.18-1.15-1.18v-2.36zm-23.1 7.1l1.15 1.18v2.36l-1.15 1.18-1.15-1.18v-2.36z"/>
<path color="#e8eff3" d="M87.85 287.99l1.15 1.18v2.36l-1.15 1.18-1.15-1.18v-2.36z"/>
<path color="#e98568" d="M86.7 284.44l1.15 1.18v2.36l-1.15 1.18-1.15-1.18v-2.36z"/>
<path color="#ed9272" d="M63.9 291.54l1.15 1.18v2.36l-1.15 1.18-1.15-1.18v-2.36z"/>
<path color="#edf2f5" d="M110 284.44l1.15 1.18v2.36l-1.15 1.18-1.15-1.18v-2.36z"/>
<path color="#f09878" d="M63.9 298.64l1.15 1.18v2.36l-1.15 1.18-1.15-1.18v-2.36z"/>
<path color="#f8efeb" d="M40.8 298.64l1.15 1.18v2.36l-1.15 1.18-1.15-1.18v-2.36z"/>
<path color="#f8f3f1" d="M87.85 295.09l1.15 1.18v2.36l-1.15 1.18-1.15-1.18v-2.36zm-23.95 10.65l1.15 1.18v2.36l-1.15 1.18-1.15-1.18v-2.36z"/>
<path color="#f9cab5" d="M63.9 284.44l1.15 1.18v2.36l-1.15 1.18-1.15-1.18v-2.36z"/>
<path color="#f9e2d9" d="M86.7 277.34l1.15 1.18v2.36l-1.15 1.18-1.15-1.18v-2.36z"/>
<path color="#f9e6df" d="M40.8 291.54l1.15 1.18v2.36l-1.15 1.18-1.15-1.18v-2.36z"/>
<path color="#fad2c1" d="M86.7 305.74l1.15 1.18v2.36l-1.15 1.18-1.15-1.18v-2.36z"/>
<path color="#fad6c7" d="M110 291.54l1.15 1.18v2.36l-1.15 1.18-1.15-1.18v-2.36z"/>
<path color="#faded3" d="M110 298.64l1.15 1.18v2.36l-1.15 1.18-1.15-1.18v-2.36z"/>
<path color="#1866b0" d="M170 213.44l1.15 1.18v2.36l-1.15 1.18-1.15-1.18v-2.36zm1.15 3.55l1.15 1.18v2.36l-1.15 1.18-1.15-1.18v-2.36zm-35.15 3.55l1.15 1.18v2.36l-1.15 1.18-1.15-1.18v-2.36zm34 0l1.15 1.18v2.36l-1.15 1.18-1.15-1.18v-2.36zm-32.85 3.55l1.15 1.18v2.36l-1.15 1.18-1.15-1.18v-2.36zm34 0l1.15 1.18v2.36l-1.15 1.18-1.15-1.18v-2.36zm-35.15 3.55l1.15 1.18v2.36l-1.15 1.18-1.15-1.18v-2.36zm34 0l1.15 1.18v2.36l-1.15 1.18-1.15-1.18v-2.36zm34 0l1.15 1.18v2.36l-1.15 1.18-1.15-1.18v-2.36zm-66.85 3.55l1.15 1.18v2.36l-1.15 1.18-1.15-1.18v-2.36zm68 0l1.15 1.18v2.36l-1.15 1.18-1.15-1.18v-2.36zm-69.15 3.55l1.15 1.18v2.36l-1.15 1.18-1.15-1.18v-2.36zm34 0l1.15 1.18v2.36l-1.15 1.18-1.15-1.18v-2.36zm34 0l1.15 1.18v2.36l-1.15 1.18-1.15-1.18v-2.36zm-66.85 3.55l1.15 1.18v2.36l-1.15 1.18-1.15-1.18v-2.36zm34 0l1.15 1.18v2.36l-1.15 1.18-1.15-1.18v-2.36zm34 0l1.15 1.18v2.36l-1.15 1.18-1.15-1.18v-2.36zm-35.15 3.55l1.15 1.18v2.36l-1.15 1.18-1.15-1.18v-2.36zm34 0l1.15 1.18v2.36l-1.15 1.18-1.15-1.18v-2.36zm-32.85 3.55l1.15 1.18v2.36l-1.15 1.18-1.15-1.18v-2.36zm34 0l1.15 1.18v2.36l-1.15 1.18-1.15-1.18v-2.36zm0 78.1l1.15 1.18v2.36l-1.15 1.18-1.15-1.18v-2.36zm-1.15 3.55l1.15 1.18v2.36l-1.15 1.18-1.15-1.18v-2.36zm1.15 3.55l1.15 1.18v2.36l-1.15 1.18-1.15-1.18v-2.36zm-68 7.1l1.15 1.18v2.36l-1.15 1.18-1.15-1.18v-2.36z"/>
<path color="#246ab2" d="M136 241.84l1.15 1.18v2.36l-1.15 1.18-1.15-1.18v-2.36zm1.15 3.55l1.15 1.18v2.36l-1.15 1.18-1.15-1.18v-2.36zm32.85 3.55l1.15 1.18v2.36l-1.15 1.18-1.15-1.18v-2.36zm34 0l1.15 1.18v2.36l-1.15 1.18-1.15-1.18v-2.36zm-32.85 3.55l1.15 1.18v2.36l-1.15 1.18-1.15-1.18v-2.36zm34 0l1.15 1.18v2.36l-1.15 1.18-1.15-1.18v-2.36zm-34 71l1.15 1.18v2.36l-1.15 1.18-1.15-1.18v-2.36zm-1.15 3.55l1.15 1.18v2.36l-1.15 1.18-1.15-1.18v-2.36zm-32.85 3.55l1.15 1.18v2.36l-1.15 1.18-1.15-1.18v-2.36z"/>
<path color="#2d6fb5" d="M136 248.94l1.15 1.18v2.36l-1.15 1.18-1.15-1.18v-2.36zm1.15 3.55l1.15 1.18v2.36l-1.15 1.18-1.15-1.18v-2.36zm34 7.1l1.15 1.18v2.36l-1.15 1.18-1.15-1.18v-2.36zm34 0l1.15 1.18v2.36l-1.15 1.18-1.15-1.18v-2.36zm-34 56.8l1.15 1.18v2.36l-1.15 1.18-1.15-1.18v-2.36zm34 0l1.15 1.18v2.36l-1.15 1.18-1.15-1.18v-2.36zm-35.15 3.55l1.15 1.18v2.36l-1.15 1.18-1.15-1.18v-2.36zm34 0l1.15 1.18v2.36l-1.15 1.18-1.15-1.18v-2.36z"/>
<path color="#3573b7" d="M170 256.04l1.15 1.18v2.36l-1.15 1.18-1.15-1.18v-2.36zm34 0l1.15 1.18v2.36l-1.15 1.18-1.15-1.18v-2.36zm-66.85 67.45l1.15 1.18v2.36l-1.15 1.18-1.15-1.18v-2.36zm-1.15 3.55l1.15 1.18v2.36l-1.15 1.18-1.15-1.18v-2.36z"/>
<path color="#3d78b9" d="M205.15 266.69l1.15 1.18v2.36l-1.15 1.18-1.15-1.18v-2.36zm0 42.6l1.15 1.18v2.36l-1.15 1.18-1.15-1.18v-2.36z"/>
<path color="#437cbc" d="M137.15 259.59l1.15 1.18v2.36l-1.15 1.18-1.15-1.18v-2.36zm34 7.1l1.15 1.18v2.36l-1.15 1.18-1.15-1.18v-2.36zm0 42.6l1.15 1.18v2.36l-1.15 1.18-1.15-1.18v-2.36zm32.85 3.55l1.15 1.18v2.36l-1.15 1.18-1.15-1.18v-2.36z"/>
<path color="#4a81be" d="M136 256.04l1.15 1.18v2.36l-1.15 1.18-1.15-1.18v-2.36zm68 7.1l1.15 1.18v2.36l-1.15 1.18-1.15-1.18v-2.36z"/>
<path color="#5086c0" d="M170 263.14l1.15 1.18v2.36l-1.15 1.18-1.15-1.18v-2.36zm35.15 10.65l1.15 1.18v2.36l-1.15 1.18-1.15-1.18v-2.36zm-35.15 39.05l1.15 1.18v2.36l-1.15 1.18-1.15-1.18v-2.36z"/>
<path color="#558ac3" d="M171.15 273.79l1.15 1.18v2.36l-1.15 1.18-1.15-1.18v-2.36zm34 28.4l1.15 1.18v2.36l-1.15 1.18-1.15-1.18v-2.36zm-68 14.2l1.15 1.18v2.36l-1.15 1.18-1.15-1.18v-2.36z"/>
<path color="#5b8fc5" d="M136 319.94l1.15 1.18v2.36l-1.15 1.18-1.15-1.18v-2.36z"/>
<path color="#6094c7" d="M137.15 266.69l1.15 1.18v2.36l-1.15 1.18-1.15-1.18v-2.36zm68 14.2l1.15 1.18v2.36l-1.15 1.18-1.15-1.18v-2.36z"/>
<path color="#6699c9" d="M204 270.24l1.15 1.18v2.36l-1.15 1.18-1.15-1.18v-2.36zm-32.85 31.95l1.15 1.18v2.36l-1.15 1.18-1.15-1.18v-2.36z"/>
<path color="#6b9dcc" d="M170 270.24l1.15 1.18v2.36l-1.15 1.18-1.15-1.18v-2.36zm1.15 10.65l1.15 1.18v2.36l-1.15 1.18-1.15-1.18v-2.36zm34 14.2l1.15 1.18v2.36l-1.15 1.18-1.15-1.18v-2.36zm-1.15 10.65l1.15 1.18v2.36l-1.15 1.18-1.15-1.18v-2.36z"/>
<path color="#70a2ce" d="M136 263.14l1.15 1.18v2.36l-1.15 1.18-1.15-1.18v-2.36zm69.15 24.85l1.15 1.18v2.36l-1.15 1.18-1.15-1.18v-2.36z"/>
<path color="#7aacd3" d="M171.15 287.99l1.15 1.18v2.36l-1.15 1.18-1.15-1.18v-2.36zm0 7.1l1.15 1.18v2.36l-1.15 1.18-1.15-1.18v-2.36z"/>
<path color="#7fb1d5" d="M170 305.74l1.15 1.18v2.36l-1.15 1.18-1.15-1.18v-2.36z"/>
<path color="#84b6d7" d="M137.15 273.79l1.15 1.18v2.36l-1.15 1.18-1.15-1.18v-2.36zm66.85 3.55l1.15 1.18v2.36l-1.15 1.18-1.15-1.18v-2.36z"/>
<path color="#8dc0dc" d="M170 277.34l1.15 1.18v2.36l-1.15 1.18-1.15-1.18v-2.36zm-32.85 31.95l1.15 1.18v2.36l-1.15 1.18-1.15-1.18v-2.36z"/>
<path color="#97c7df" d="M204 298.64l1.15 1.18v2.36l-1.15 1.18-1.15-1.18v-2.36z"/>
<path color="#a2cce2" d="M204 284.44l1.15 1.18v2.36l-1.15 1.18-1.15-1.18v-2.36z"/>
<path color="#add1e4" d="M136 312.84l1.15 1.18v2.36l-1.15 1.18-1.15-1.18v-2.36z"/>
<path color="#b2d4e6" d="M136 270.24l1.15 1.18v2.36l-1.15 1.18-1.15-1.18v-2.36z"/>
<path color="#b7d6e7" d="M137.15 280.89l1.15 1.18v2.36l-1.15 1.18-1.15-1.18v-2.36zm32.85 3.55l1.15 1.18v2.36l-1.15 1.18-1.15-1.18v-2.36zm34 7.1l1.15 1.18v2.36l-1.15 1.18-1.15-1.18v-2.36zm-34 7.1l1.15 1.18v2.36l-1.15 1.18-1.15-1.18v-2.36z"/>
<path color="#bd0022" d="M136 291.54l1.15 1.18v2.36l-1.15 1.18-1.15-1.18v-2.36z"/>
<path color="#c4252b" d="M136 298.64l1.15 1.18v2.36l-1.15 1.18-1.15-1.18v-2.36z"/>
<path color="#cbe0ec" d="M170 291.54l1.15 1.18v2.36l-1.15 1.18-1.15-1.18v-2.36z"/>
<path color="#d5e5ee" d="M137.15 302.19l1.15 1.18v2.36l-1.15 1.18-1.15-1.18v-2.36z"/>
<path color="#e8eff3" d="M137.15 287.99l1.15 1.18v2.36l-1.15 1.18-1.15-1.18v-2.36z"/>
<path color="#eb8c6d" d="M136 284.44l1.15 1.18v2.36l-1.15 1.18-1.15-1.18v-2.36z"/>
<path color="#f8f3f1" d="M137.15 295.09l1.15 1.18v2.36l-1.15 1.18-1.15-1.18v-2.36z"/>
<path color="#f9c6b0" d="M136 305.74l1.15 1.18v2.36l-1.15 1.18-1.15-1.18v-2.36z"/>
<path color="#f9e6df" d="M136 277.34l1.15 1.18v2.36l-1.15 1.18-1.15-1.18v-2.36z"/>
<path color="#1866b0" d="M229.2 213.44l1.15 1.18v2.36l-1.15 1.18-1.15-1.18v-2.36zm70.35 3.55l1.15 1.18v2.36l-1.15 1.18-1.15-1.18v-2.36zm-70.35 3.55l1.15 1.18v2.36l-1.15 1.18-1.15-1.18v-2.36zm69.2 0l1.15 1.18v2.36l-1.15 1.18-1.15-1.18v-2.36zm-68.05 3.55l1.15 1.18v2.36l-1.15 1.18-1.15-1.18v-2.36zm17.3 0l1.15 1.18v2.36l-1.15 1.18-1.15-1.18v-2.36zm17.3 0l1.15 1.18v2.36l-1.15 1.18-1.15-1.18v-2.36zm17.2 0l1.15 1.18v2.36l-1.15 1.18-1.15-1.18v-2.36zm17.4 0l1.15 1.18v2.36l-1.15 1.18-1.15-1.18v-2.36zm-70.35 3.55l1.15 1.18v2.36l-1.15 1.18-1.15-1.18v-2.36zm17.3 0l1.15 1.18v2.36l-1.15 1.18-1.15-1.18v-2.36zm17.3 0l1.15 1.18v2.36l-1.15 1.18-1.15-1.18v-2.36zm17.2 0l1.15 1.18v2.36l-1.15 1.18-1.15-1.18v-2.36zm17.4 0l1.15 1.18v2.36l-1.15 1.18-1.15-1.18v-2.36zm-68.05 3.55l1.15 1.18v2.36l-1.15 1.18-1.15-1.18v-2.36zm17.3 0l1.15 1.18v2.36l-1.15 1.18-1.15-1.18v-2.36zm17.3 0l1.15 1.18v2.36l-1.15 1.18-1.15-1.18v-2.36zm17.2 0l1.15 1.18v2.36l-1.15 1.18-1.15-1.18v-2.36zm17.4 0l1.15 1.18v2.36l-1.15 1.18-1.15-1.18v-2.36zm-70.35 3.55l1.15 1.18v2.36l-1.15 1.18-1.15-1.18v-2.36zm17.3 0l1.15 1.18v2.36l-1.15 1.18-1.15-1.18v-2.36zm17.3 0l1.15 1.18v2.36l-1.15 1.18-1.15-1.18v-2.36zm17.2 0l1.15 1.18v2.36l-1.15 1.18-1.15-1.18v-2.36zm17.4 0l1.15 1.18v2.36l-1.15 1.18-1.15-1.18v-2.36zm-68.05 3.55l1.15 1.18v2.36l-1.15 1.18-1.15-1.18v-2.36zm17.3 0l1.15 1.18v2.36l-1.15 1.18-1.15-1.18v-2.36zm17.3 0l1.15 1.18v2.36l-1.15 1.18-1.15-1.18v-2.36zm17.2 0l1.15 1.18v2.36l-1.15 1.18-1.15-1.18v-2.36zm17.4 0l1.15 1.18v2.36l-1.15 1.18-1.15-1.18v-2.36zm-17.4 99.4l1.15 1.18v2.36l-1.15 1.18-1.15-1.18v-2.36z"/>
<path color="#246ab2" d="M229.2 241.84l1.15 1.18v2.36l-1.15 1.18-1.15-1.18v-2.36zm17.3 0l1.15 1.18v2.36l-1.15 1.18-1.15-1.18v-2.36zm17.3 0l1.15 1.18v2.36l-1.15 1.18-1.15-1.18v-2.36zm17.2 0l1.15 1.18v2.36l-1.15 1.18-1.15-1.18v-2.36zm17.4 0l1.15 1.18v2.36l-1.15 1.18-1.15-1.18v-2.36zm-68.05 3.55l1.15 1.18v2.36l-1.15 1.18-1.15-1.18v-2.36zm17.3 0l1.15 1.18v2.36l-1.15 1.18-1.15-1.18v-2.36zm17.3 0l1.15 1.18v2.36l-1.15 1.18-1.15-1.18v-2.36zm17.2 0l1.15 1.18v2.36l-1.15 1.18-1.15-1.18v-2.36zm17.4 0l1.15 1.18v2.36l-1.15 1.18-1.15-1.18v-2.36zm-51.9 85.2l1.15 1.18v2.36l-1.15 1.18-1.15-1.18v-2.36z"/>
<path color="#2d6fb5" d="M229.2 248.94l1.15 1.18v2.36l-1.15 1.18-1.15-1.18v-2.36zm17.3 0l1.15 1.18v2.36l-1.15 1.18-1.15-1.18v-2.36zm34.5 0l1.15 1.18v2.36l-1.15 1.18-1.15-1.18v-2.36zm-50.65 3.55l1.15 1.18v2.36l-1.15 1.18-1.15-1.18v-2.36zm17.3 0l1.15 1.18v2.36l-1.15 1.18-1.15-1.18v-2.36zm17.3 0l1.15 1.18v2.36l-1.15 1.18-1.15-1.18v-2.36zm17.2 0l1.15 1.18v2.36l-1.15 1.18-1.15-1.18v-2.36zm17.4 0l1.15 1.18v2.36l-1.15 1.18-1.15-1.18v-2.36zm-51.9 71l1.15 1.18v2.36l-1.15 1.18-1.15-1.18v-2.36zm17.3 0l1.15 1.18v2.36l-1.15 1.18-1.15-1.18v-2.36zm17.2 0l1.15 1.18v2.36l-1.15 1.18-1.15-1.18v-2.36zm17.4 0l1.15 1.18v2.36l-1.15 1.18-1.15-1.18v-2.36zm-35.75 3.55l1.15 1.18v2.36l-1.15 1.18-1.15-1.18v-2.36zm17.2 0l1.15 1.18v2.36l-1.15 1.18-1.15-1.18v-2.36zm17.4 0l1.15 1.18v2.36l-1.15 1.18-1.15-1.18v-2.36z"/>
<path color="#3573b7" d="M263.8 248.94l1.15 1.18v2.36l-1.15 1.18-1.15-1.18v-2.36zm34.6 0l1.15 1.18v2.36l-1.15 1.18-1.15-1.18v-2.36zm-68.05 74.55l1.15 1.18v2.36l-1.15 1.18-1.15-1.18v-2.36zm-1.15 3.55l1.15 1.18v2.36l-1.15 1.18-1.15-1.18v-2.36zm17.3 0l1.15 1.18v2.36l-1.15 1.18-1.15-1.18v-2.36z"/>
<path color="#3d78b9" d="M230.35 259.59l1.15 1.18v2.36l-1.15 1.18-1.15-1.18v-2.36zm17.3 0l1.15 1.18v2.36l-1.15 1.18-1.15-1.18v-2.36z"/>
<path color="#437cbc" d="M264.95 259.59l1.15 1.18v2.36l-1.15 1.18-1.15-1.18v-2.36zm17.2 0l1.15 1.18v2.36l-1.15 1.18-1.15-1.18v-2.36zm17.4 0l1.15 1.18v2.36l-1.15 1.18-1.15-1.18v-2.36z"/>
<path color="#4a81be" d="M229.2 256.04l1.15 1.18v2.36l-1.15 1.18-1.15-1.18v-2.36zm17.3 0l1.15 1.18v2.36l-1.15 1.18-1.15-1.18v-2.36zm17.3 0l1.15 1.18v2.36l-1.15 1.18-1.15-1.18v-2.36zm17.2 0l1.15 1.18v2.36l-1.15 1.18-1.15-1.18v-2.36z"/>
<path color="#5086c0" d="M298.4 256.04l1.15 1.18v2.36l-1.15 1.18-1.15-1.18v-2.36zm-33.45 60.35l1.15 1.18v2.36l-1.15 1.18-1.15-1.18v-2.36zm17.2 0l1.15 1.18v2.36l-1.15 1.18-1.15-1.18v-2.36zm17.4 0l1.15 1.18v2.36l-1.15 1.18-1.15-1.18v-2.36z"/>
<path color="#558ac3" d="M230.35 316.39l1.15 1.18v2.36l-1.15 1.18-1.15-1.18v-2.36zm17.3 0l1.15 1.18v2.36l-1.15 1.18-1.15-1.18v-2.36zm16.15 3.55l1.15 1.18v2.36l-1.15 1.18-1.15-1.18v-2.36zm17.2 0l1.15 1.18v2.36l-1.15 1.18-1.15-1.18v-2.36zm17.4 0l1.15 1.18v2.36l-1.15 1.18-1.15-1.18v-2.36z"/>
<path color="#5b8fc5" d="M230.35 266.69l1.15 1.18v2.36l-1.15 1.18-1.15-1.18v-2.36zm17.3 0l1.15 1.18v2.36l-1.15 1.18-1.15-1.18v-2.36zm34.5 0l1.15 1.18v2.36l-1.15 1.18-1.15-1.18v-2.36zm-35.65 53.25l1.15 1.18v2.36l-1.15 1.18-1.15-1.18v-2.36z"/>
<path color="#6094c7" d="M264.95 266.69l1.15 1.18v2.36l-1.15 1.18-1.15-1.18v-2.36zm34.6 0l1.15 1.18v2.36l-1.15 1.18-1.15-1.18v-2.36zm-70.35 53.25l1.15 1.18v2.36l-1.15 1.18-1.15-1.18v-2.36z"/>
<path color="#70a2ce" d="M229.2 263.14l1.15 1.18v2.36l-1.15 1.18-1.15-1.18v-2.36zm17.3 0l1.15 1.18v2.36l-1.15 1.18-1.15-1.18v-2.36zm34.5 0l1.15 1.18v2.36l-1.15 1.18-1.15-1.18v-2.36z"/>
<path color="#75a7d0" d="M263.8 263.14l1.15 1.18v2.36l-1.15 1.18-1.15-1.18v-2.36z"/>
<path color="#7aacd3" d="M298.4 263.14l1.15 1.18v2.36l-1.15 1.18-1.15-1.18v-2.36z"/>
<path color="#7fb1d5" d="M230.35 273.79l1.15 1.18v2.36l-1.15 1.18-1.15-1.18v-2.36zm17.3 0l1.15 1.18v2.36l-1.15 1.18-1.15-1.18v-2.36z"/>
<path color="#84b6d7" d="M282.15 273.79l1.15 1.18v2.36l-1.15 1.18-1.15-1.18v-2.36zm-17.2 35.5l1.15 1.18v2.36l-1.15 1.18-1.15-1.18v-2.36zm17.2 0l1.15 1.18v2.36l-1.15 1.18-1.15-1.18v-2.36zm17.4 0l1.15 1.18v2.36l-1.15 1.18-1.15-1.18v-2.36z"/>
<path color="#88bbd9" d="M264.95 273.79l1.15 1.18v2.36l-1.15 1.18-1.15-1.18v-2.36zm34.6 0l1.15 1.18v2.36l-1.15 1.18-1.15-1.18v-2.36zm-51.9 35.5l1.15 1.18v2.36l-1.15 1.18-1.15-1.18v-2.36z"/>
<path color="#8dc0dc" d="M230.35 309.29l1.15 1.18v2.36l-1.15 1.18-1.15-1.18v-2.36z"/>
<path color="#9dcae1" d="M281 312.84l1.15 1.18v2.36l-1.15 1.18-1.15-1.18v-2.36zm17.4 0l1.15 1.18v2.36l-1.15 1.18-1.15-1.18v-2.36z"/>
<path color="#a2cce2" d="M263.8 312.84l1.15 1.18v2.36l-1.15 1.18-1.15-1.18v-2.36z"/>
<path color="#a7cfe3" d="M246.5 312.84l1.15 1.18v2.36l-1.15 1.18-1.15-1.18v-2.36z"/>
<path color="#add1e4" d="M229.2 270.24l1.15 1.18v2.36l-1.15 1.18-1.15-1.18v-2.36zm17.3 0l1.15 1.18v2.36l-1.15 1.18-1.15-1.18v-2.36zm34.5 0l1.15 1.18v2.36l-1.15 1.18-1.15-1.18v-2.36z"/>
<path color="#b2d4e6" d="M230.35 280.89l1.15 1.18v2.36l-1.15 1.18-1.15-1.18v-2.36zm17.3 0l1.15 1.18v2.36l-1.15 1.18-1.15-1.18v-2.36zm34.5 0l1.15 1.18v2.36l-1.15 1.18-1.15-1.18v-2.36zm-52.95 31.95l1.15 1.18v2.36l-1.15 1.18-1.15-1.18v-2.36z"/>
<path color="#b7d6e7" d="M263.8 270.24l1.15 1.18v2.36l-1.15 1.18-1.15-1.18v-2.36zm1.15 10.65l1.15 1.18v2.36l-1.15 1.18-1.15-1.18v-2.36z"/>
<path color="#bcd9e8" d="M298.4 270.24l1.15 1.18v2.36l-1.15 1.18-1.15-1.18v-2.36zm1.15 10.65l1.15 1.18v2.36l-1.15 1.18-1.15-1.18v-2.36z"/>
<path color="#bd0022" d="M298.4 291.54l1.15 1.18v2.36l-1.15 1.18-1.15-1.18v-2.36z"/>
<path color="#c01726" d="M263.8 291.54l1.15 1.18v2.36l-1.15 1.18-1.15-1.18v-2.36z"/>
<path color="#c4252b" d="M229.2 291.54l1.15 1.18v2.36l-1.15 1.18-1.15-1.18v-2.36zm0 7.1l1.15 1.18v2.36l-1.15 1.18-1.15-1.18v-2.36z"/>
<path color="#c6deeb" d="M282.15 302.19l1.15 1.18v2.36l-1.15 1.18-1.15-1.18v-2.36z"/>
<path color="#ca3834" d="M246.5 291.54l1.15 1.18v2.36l-1.15 1.18-1.15-1.18v-2.36z"/>
<path color="#cbe0ec" d="M247.65 302.19l1.15 1.18v2.36l-1.15 1.18-1.15-1.18v-2.36zm51.9 0l1.15 1.18v2.36l-1.15 1.18-1.15-1.18v-2.36z"/>
<path color="#cd4138" d="M281 291.54l1.15 1.18v2.36l-1.15 1.18-1.15-1.18v-2.36zm-17.2 7.1l1.15 1.18v2.36l-1.15 1.18-1.15-1.18v-2.36z"/>
<path color="#d0493d" d="M246.5 298.64l1.15 1.18v2.36l-1.15 1.18-1.15-1.18v-2.36zm51.9 0l1.15 1.18v2.36l-1.15 1.18-1.15-1.18v-2.36z"/>
<path color="#d0e3ed" d="M264.95 302.19l1.15 1.18v2.36l-1.15 1.18-1.15-1.18v-2.36z"/>
<path color="#d5e5ee" d="M230.35 302.19l1.15 1.18v2.36l-1.15 1.18-1.15-1.18v-2.36z"/>
<path color="#d95e4b" d="M281 298.64l1.15 1.18v2.36l-1.15 1.18-1.15-1.18v-2.36z"/>
<path color="#dfeaf1" d="M247.65 287.99l1.15 1.18v2.36l-1.15 1.18-1.15-1.18v-2.36zm34.5 0l1.15 1.18v2.36l-1.15 1.18-1.15-1.18v-2.36z"/>
<path color="#e4edf2" d="M230.35 287.99l1.15 1.18v2.36l-1.15 1.18-1.15-1.18v-2.36z"/>
<path color="#e67f63" d="M298.4 284.44l1.15 1.18v2.36l-1.15 1.18-1.15-1.18v-2.36z"/>
<path color="#e8eff3" d="M264.95 287.99l1.15 1.18v2.36l-1.15 1.18-1.15-1.18v-2.36zm34.6 0l1.15 1.18v2.36l-1.15 1.18-1.15-1.18v-2.36z"/>
<path color="#e98568" d="M263.8 284.44l1.15 1.18v2.36l-1.15 1.18-1.15-1.18v-2.36z"/>
<path color="#f09878" d="M229.2 284.44l1.15 1.18v2.36l-1.15 1.18-1.15-1.18v-2.36z"/>
<path color="#f29f7d" d="M246.5 284.44l1.15 1.18v2.36l-1.15 1.18-1.15-1.18v-2.36zm34.5 0l1.15 1.18v2.36l-1.15 1.18-1.15-1.18v-2.36z"/>
<path color="#f2f4f6" d="M282.15 295.09l1.15 1.18v2.36l-1.15 1.18-1.15-1.18v-2.36z"/>
<path color="#f7f7f7" d="M247.65 295.09l1.15 1.18v2.36l-1.15 1.18-1.15-1.18v-2.36z"/>
<path color="#f8efeb" d="M229.2 277.34l1.15 1.18v2.36l-1.15 1.18-1.15-1.18v-2.36zm17.3 0l1.15 1.18v2.36l-1.15 1.18-1.15-1.18v-2.36zm34.5 0l1.15 1.18v2.36l-1.15 1.18-1.15-1.18v-2.36z"/>
<path color="#f8f3f1" d="M230.35 295.09l1.15 1.18v2.36l-1.15 1.18-1.15-1.18v-2.36zm34.6 0l1.15 1.18v2.36l-1.15 1.18-1.15-1.18v-2.36zm34.6 0l1.15 1.18v2.36l-1.15 1.18-1.15-1.18v-2.36z"/>
<path color="#f9c2aa" d="M229.2 305.74l1.15 1.18v2.36l-1.15 1.18-1.15-1.18v-2.36z"/>
<path color="#f9e2d9" d="M263.8 277.34l1.15 1.18v2.36l-1.15 1.18-1.15-1.18v-2.36z"/>
<path color="#fad2c1" d="M246.5 305.74l1.15 1.18v2.36l-1.15 1.18-1.15-1.18v-2.36zm17.3 0l1.15 1.18v2.36l-1.15 1.18-1.15-1.18v-2.36z"/>
<path color="#fadacd" d="M298.4 305.74l1.15 1.18v2.36l-1.15 1.18-1.15-1.18v-2.36z"/>
<path color="#faded3" d="M298.4 277.34l1.15 1.18v2.36l-1.15 1.18-1.15-1.18v-2.36zm-17.4 28.4l1.15 1.18v2.36l-1.15 1.18-1.15-1.18v-2.36z"/>
<path color="#1866b0" d="M392.4 213.44l1.15 1.18v2.36l-1.15 1.18-1.15-1.18v-2.36zm-50.75 3.55l1.15 1.18v2.36l-1.15 1.18-1.15-1.18v-2.36zm-18.45 3.55l1.15 1.18v2.36l-1.15 1.18-1.15-1.18v-2.36zm34.6 0l1.15 1.18v2.36l-1.15 1.18-1.15-1.18v-2.36zm17.3 0l1.15 1.18v2.36l-1.15 1.18-1.15-1.18v-2.36zm17.3 0l1.15 1.18v2.36l-1.15 1.18-1.15-1.18v-2.36zm-68.05 3.55l1.15 1.18v2.36l-1.15 1.18-1.15-1.18v-2.36zm17.3 0l1.15 1.18v2.36l-1.15 1.18-1.15-1.18v-2.36zm17.3 0l1.15 1.18v2.36l-1.15 1.18-1.15-1.18v-2.36zm17.3 0l1.15 1.18v2.36l-1.15 1.18-1.15-1.18v-2.36zm17.3 0l1.15 1.18v2.36l-1.15 1.18-1.15-1.18v-2.36zm-70.35 3.55l1.15 1.18v2.36l-1.15 1.18-1.15-1.18v-2.36zm17.3 0l1.15 1.18v2.36l-1.15 1.18-1.15-1.18v-2.36zm17.3 0l1.15 1.18v2.36l-1.15 1.18-1.15-1.18v-2.36zm17.3 0l1.15 1.18v2.36l-1.15 1.18-1.15-1.18v-2.36zm17.3 0l1.15 1.18v2.36l-1.15 1.18-1.15-1.18v-2.36zm-68.05 3.55l1.15 1.18v2.36l-1.15 1.18-1.15-1.18v-2.36zm17.3 0l1.15 1.18v2.36l-1.15 1.18-1.15-1.18v-2.36zm17.3 0l1.15 1.18v2.36l-1.15 1.18-1.15-1.18v-2.36zm17.3 0l1.15 1.18v2.36l-1.15 1.18-1.15-1.18v-2.36zm17.3 0l1.15 1.18v2.36l-1.15 1.18-1.15-1.18v-2.36zm-70.35 3.55l1.15 1.18v2.36l-1.15 1.18-1.15-1.18v-2.36zm17.3 0l1.15 1.18v2.36l-1.15 1.18-1.15-1.18v-2.36zm17.3 0l1.15 1.18v2.36l-1.15 1.18-1.15-1.18v-2.36zm17.3 0l1.15 1.18v2.36l-1.15 1.18-1.15-1.18v-2.36zm17.3 0l1.15 1.18v2.36l-1.15 1.18-1.15-1.18v-2.36zm-68.05 3.55l1.15 1.18v2.36l-1.15 1.18-1.15-1.18v-2.36zm17.3 0l1.15 1.18v2.36l-1.15 1.18-1.15-1.18v-2.36zm17.3 0l1.15 1.18v2.36l-1.15 1.18-1.15-1.18v-2.36zm17.3 0l1.15 1.18v2.36l-1.15 1.18-1.15-1.18v-2.36zm17.3 0l1.15 1.18v2.36l-1.15 1.18-1.15-1.18v-2.36zm-70.35 3.55l1.15 1.18v2.36l-1.15 1.18-1.15-1.18v-2.36zm17.3 0l1.15 1.18v2.36l-1.15 1.18-1.15-1.18v-2.36zm-16.15 3.55l1.15 1.18v2.36l-1.15 1.18-1.15-1.18v-2.36zm17.3 0l1.15 1.18v2.36l-1.15 1.18-1.15-1.18v-2.36zm-17.3 92.3l1.15 1.18v2.36l-1.15 1.18-1.15-1.18v-2.36z"/>
<path color="#246ab2" d="M357.8 241.84l1.15 1.18v2.36l-1.15 1.18-1.15-1.18v-2.36zm17.3 0l1.15 1.18v2.36l-1.15 1.18-1.15-1.18v-2.36zm17.3 0l1.15 1.18v2.36l-1.15 1.18-1.15-1.18v-2.36zm-33.45 3.55l1.15 1.18v2.36l-1.15 1.18-1.15-1.18v-2.36zm17.3 0l1.15 1.18v2.36l-1.15 1.18-1.15-1.18v-2.36zm17.3 0l1.15 1.18v2.36l-1.15 1.18-1.15-1.18v-2.36zm-70.35 3.55l1.15 1.18v2.36l-1.15 1.18-1.15-1.18v-2.36zm17.3 0l1.15 1.18v2.36l-1.15 1.18-1.15-1.18v-2.36zm-16.15 3.55l1.15 1.18v2.36l-1.15 1.18-1.15-1.18v-2.36zm17.3 0l1.15 1.18v2.36l-1.15 1.18-1.15-1.18v-2.36zm17.3 0l1.15 1.18v2.36l-1.15 1.18-1.15-1.18v-2.36zm-34.6 78.1l1.15 1.18v2.36l-1.15 1.18-1.15-1.18v-2.36zm34.6 0l1.15 1.18v2.36l-1.15 1.18-1.15-1.18v-2.36z"/>
<path color="#2d6fb5" d="M357.8 248.94l1.15 1.18v2.36l-1.15 1.18-1.15-1.18v-2.36zm18.45 3.55l1.15 1.18v2.36l-1.15 1.18-1.15-1.18v-2.36zm-51.9 7.1l1.15 1.18v2.36l-1.15 1.18-1.15-1.18v-2.36zm17.3 0l1.15 1.18v2.36l-1.15 1.18-1.15-1.18v-2.36zm34.6 63.9l1.15 1.18v2.36l-1.15 1.18-1.15-1.18v-2.36z"/>
<path color="#3573b7" d="M375.1 248.94l1.15 1.18v2.36l-1.15 1.18-1.15-1.18v-2.36zm18.45 3.55l1.15 1.18v2.36l-1.15 1.18-1.15-1.18v-2.36zm-70.35 3.55l1.15 1.18v2.36l-1.15 1.18-1.15-1.18v-2.36zm17.3 0l1.15 1.18v2.36l-1.15 1.18-1.15-1.18v-2.36zm18.45 3.55l1.15 1.18v2.36l-1.15 1.18-1.15-1.18v-2.36zm34.6 56.8l1.15 1.18v2.36l-1.15 1.18-1.15-1.18v-2.36zm-69.2 7.1l1.15 1.18v2.36l-1.15 1.18-1.15-1.18v-2.36z"/>
<path color="#3d78b9" d="M392.4 248.94l1.15 1.18v2.36l-1.15 1.18-1.15-1.18v-2.36zm-69.2 78.1l1.15 1.18v2.36l-1.15 1.18-1.15-1.18v-2.36z"/>
<path color="#437cbc" d="M357.8 256.04l1.15 1.18v2.36l-1.15 1.18-1.15-1.18v-2.36zm18.45 3.55l1.15 1.18v2.36l-1.15 1.18-1.15-1.18v-2.36zm-51.9 7.1l1.15 1.18v2.36l-1.15 1.18-1.15-1.18v-2.36zm17.3 0l1.15 1.18v2.36l-1.15 1.18-1.15-1.18v-2.36zm0 56.8l1.15 1.18v2.36l-1.15 1.18-1.15-1.18v-2.36z"/>
<path color="#4a81be" d="M393.55 259.59l1.15 1.18v2.36l-1.15 1.18-1.15-1.18v-2.36zm-17.3 56.8l1.15 1.18v2.36l-1.15 1.18-1.15-1.18v-2.36z"/>
<path color="#5086c0" d="M375.1 256.04l1.15 1.18v2.36l-1.15 1.18-1.15-1.18v-2.36zm-51.9 7.1l1.15 1.18v2.36l-1.15 1.18-1.15-1.18v-2.36zm17.3 0l1.15 1.18v2.36l-1.15 1.18-1.15-1.18v-2.36zm18.45 3.55l1.15 1.18v2.36l-1.15 1.18-1.15-1.18v-2.36zm16.15 53.25l1.15 1.18v2.36l-1.15 1.18-1.15-1.18v-2.36z"/>
<path color="#558ac3" d="M392.4 256.04l1.15 1.18v2.36l-1.15 1.18-1.15-1.18v-2.36z"/>
<path color="#5b8fc5" d="M393.55 309.29l1.15 1.18v2.36l-1.15 1.18-1.15-1.18v-2.36zm-69.2 7.1l1.15 1.18v2.36l-1.15 1.18-1.15-1.18v-2.36z"/>
<path color="#6094c7" d="M357.8 263.14l1.15 1.18v2.36l-1.15 1.18-1.15-1.18v-2.36zm-33.45 10.65l1.15 1.18v2.36l-1.15 1.18-1.15-1.18v-2.36zm34.6 42.6l1.15 1.18v2.36l-1.15 1.18-1.15-1.18v-2.36z"/>
<path color="#6699c9" d="M376.25 266.69l1.15 1.18v2.36l-1.15 1.18-1.15-1.18v-2.36zm-34.6 7.1l1.15 1.18v2.36l-1.15 1.18-1.15-1.18v-2.36zm50.75 39.05l1.15 1.18v2.36l-1.15 1.18-1.15-1.18v-2.36z"/>
<path color="#6b9dcc" d="M393.55 266.69l1.15 1.18v2.36l-1.15 1.18-1.15-1.18v-2.36zm-51.9 49.7l1.15 1.18v2.36l-1.15 1.18-1.15-1.18v-2.36zm-18.45 3.55l1.15 1.18v2.36l-1.15 1.18-1.15-1.18v-2.36zm34.6 0l1.15 1.18v2.36l-1.15 1.18-1.15-1.18v-2.36z"/>
<path color="#75a7d0" d="M323.2 270.24l1.15 1.18v2.36l-1.15 1.18-1.15-1.18v-2.36zm35.75 3.55l1.15 1.18v2.36l-1.15 1.18-1.15-1.18v-2.36z"/>
<path color="#7aacd3" d="M375.1 263.14l1.15 1.18v2.36l-1.15 1.18-1.15-1.18v-2.36zm-34.6 7.1l1.15 1.18v2.36l-1.15 1.18-1.15-1.18v-2.36z"/>
<path color="#7fb1d5" d="M324.35 280.89l1.15 1.18v2.36l-1.15 1.18-1.15-1.18v-2.36zm51.9 28.4l1.15 1.18v2.36l-1.15 1.18-1.15-1.18v-2.36zm-35.75 10.65l1.15 1.18v2.36l-1.15 1.18-1.15-1.18v-2.36z"/>
<path color="#84b6d7" d="M392.4 263.14l1.15 1.18v2.36l-1.15 1.18-1.15-1.18v-2.36z"/>
<path color="#88bbd9" d="M341.65 280.89l1.15 1.18v2.36l-1.15 1.18-1.15-1.18v-2.36z"/>
<path color="#8dc0dc" d="M376.25 273.79l1.15 1.18v2.36l-1.15 1.18-1.15-1.18v-2.36zm17.3 0l1.15 1.18v2.36l-1.15 1.18-1.15-1.18v-2.36zm-69.2 35.5l1.15 1.18v2.36l-1.15 1.18-1.15-1.18v-2.36z"/>
<path color="#92c5de" d="M393.55 302.19l1.15 1.18v2.36l-1.15 1.18-1.15-1.18v-2.36zm-18.45 10.65l1.15 1.18v2.36l-1.15 1.18-1.15-1.18v-2.36z"/>
<path color="#97c7df" d="M357.8 270.24l1.15 1.18v2.36l-1.15 1.18-1.15-1.18v-2.36zm1.15 39.05l1.15 1.18v2.36l-1.15 1.18-1.15-1.18v-2.36z"/>
<path color="#a2cce2" d="M358.95 280.89l1.15 1.18v2.36l-1.15 1.18-1.15-1.18v-2.36z"/>
<path color="#a7cfe3" d="M324.35 287.99l1.15 1.18v2.36l-1.15 1.18-1.15-1.18v-2.36zm17.3 21.3l1.15 1.18v2.36l-1.15 1.18-1.15-1.18v-2.36z"/>
<path color="#b2d4e6" d="M323.2 277.34l1.15 1.18v2.36l-1.15 1.18-1.15-1.18v-2.36z"/>
<path color="#b7d6e7" d="M341.65 287.99l1.15 1.18v2.36l-1.15 1.18-1.15-1.18v-2.36z"/>
<path color="#bcd9e8" d="M340.5 277.34l1.15 1.18v2.36l-1.15 1.18-1.15-1.18v-2.36zm53.05 3.55l1.15 1.18v2.36l-1.15 1.18-1.15-1.18v-2.36zm-1.15 24.85l1.15 1.18v2.36l-1.15 1.18-1.15-1.18v-2.36zm-69.2 7.1l1.15 1.18v2.36l-1.15 1.18-1.15-1.18v-2.36z"/>
<path color="#bd0022" d="M375.1 291.54l1.15 1.18v2.36l-1.15 1.18-1.15-1.18v-2.36z"/>
<path color="#c1dbe9" d="M375.1 270.24l1.15 1.18v2.36l-1.15 1.18-1.15-1.18v-2.36zm1.15 10.65l1.15 1.18v2.36l-1.15 1.18-1.15-1.18v-2.36zm-51.9 21.3l1.15 1.18v2.36l-1.15 1.18-1.15-1.18v-2.36zm51.9 0l1.15 1.18v2.36l-1.15 1.18-1.15-1.18v-2.36z"/>
<path color="#c6deeb" d="M392.4 270.24l1.15 1.18v2.36l-1.15 1.18-1.15-1.18v-2.36zm-68.05 24.85l1.15 1.18v2.36l-1.15 1.18-1.15-1.18v-2.36zm33.45 17.75l1.15 1.18v2.36l-1.15 1.18-1.15-1.18v-2.36z"/>
<path color="#c72f2f" d="M357.8 298.64l1.15 1.18v2.36l-1.15 1.18-1.15-1.18v-2.36z"/>
<path color="#cbe0ec" d="M393.55 295.09l1.15 1.18v2.36l-1.15 1.18-1.15-1.18v-2.36z"/>
<path color="#d0e3ed" d="M358.95 287.99l1.15 1.18v2.36l-1.15 1.18-1.15-1.18v-2.36z"/>
<path color="#d35041" d="M357.8 291.54l1.15 1.18v2.36l-1.15 1.18-1.15-1.18v-2.36z"/>
<path color="#d5e5ee" d="M393.55 287.99l1.15 1.18v2.36l-1.15 1.18-1.15-1.18v-2.36z"/>
<path color="#d65746" d="M340.5 298.64l1.15 1.18v2.36l-1.15 1.18-1.15-1.18v-2.36zm34.6 0l1.15 1.18v2.36l-1.15 1.18-1.15-1.18v-2.36z"/>
<path color="#dae8f0" d="M341.65 295.09l1.15 1.18v2.36l-1.15 1.18-1.15-1.18v-2.36z"/>
<path color="#dfeaf1" d="M341.65 302.19l1.15 1.18v2.36l-1.15 1.18-1.15-1.18v-2.36zm17.3 0l1.15 1.18v2.36l-1.15 1.18-1.15-1.18v-2.36z"/>
<path color="#e17259" d="M392.4 291.54l1.15 1.18v2.36l-1.15 1.18-1.15-1.18v-2.36z"/>
<path color="#e3795e" d="M375.1 284.44l1.15 1.18v2.36l-1.15 1.18-1.15-1.18v-2.36z"/>
<path color="#e4edf2" d="M357.8 277.34l1.15 1.18v2.36l-1.15 1.18-1.15-1.18v-2.36zm-17.3 35.5l1.15 1.18v2.36l-1.15 1.18-1.15-1.18v-2.36z"/>
<path color="#e8eff3" d="M376.25 287.99l1.15 1.18v2.36l-1.15 1.18-1.15-1.18v-2.36z"/>
<path color="#f09878" d="M392.4 284.44l1.15 1.18v2.36l-1.15 1.18-1.15-1.18v-2.36zm-51.9 7.1l1.15 1.18v2.36l-1.15 1.18-1.15-1.18v-2.36z"/>
<path color="#f29f7d" d="M323.2 298.64l1.15 1.18v2.36l-1.15 1.18-1.15-1.18v-2.36zm17.3 7.1l1.15 1.18v2.36l-1.15 1.18-1.15-1.18v-2.36z"/>
<path color="#f2f4f6" d="M358.95 295.09l1.15 1.18v2.36l-1.15 1.18-1.15-1.18v-2.36z"/>
<path color="#f6b193" d="M357.8 305.74l1.15 1.18v2.36l-1.15 1.18-1.15-1.18v-2.36z"/>
<path color="#f7b599" d="M357.8 284.44l1.15 1.18v2.36l-1.15 1.18-1.15-1.18v-2.36z"/>
<path color="#f7f7f7" d="M323.2 284.44l1.15 1.18v2.36l-1.15 1.18-1.15-1.18v-2.36zm53.05 10.65l1.15 1.18v2.36l-1.15 1.18-1.15-1.18v-2.36z"/>
<path color="#f8bda4" d="M323.2 291.54l1.15 1.18v2.36l-1.15 1.18-1.15-1.18v-2.36z"/>
<path color="#f9cab5" d="M392.4 298.64l1.15 1.18v2.36l-1.15 1.18-1.15-1.18v-2.36z"/>
<path color="#f9e2d9" d="M340.5 284.44l1.15 1.18v2.36l-1.15 1.18-1.15-1.18v-2.36z"/>
<path color="#f9e6df" d="M375.1 305.74l1.15 1.18v2.36l-1.15 1.18-1.15-1.18v-2.36z"/>
<path color="#fad2c1" d="M323.2 305.74l1.15 1.18v2.36l-1.15 1.18-1.15-1.18v-2.36z"/>
<path color="#fadacd" d="M375.1 277.34l1.15 1.18v2.36l-1.15 1.18-1.15-1.18v-2.36zm17.3 0l1.15 1.18v2.36l-1.15 1.18-1.15-1.18v-2.36z"/>
<path color="#1866b0" d="M417.5 213.44l1.15 1.18v2.36l-1.15 1.18-1.15-1.18v-2.36zm70.75 3.55l1.15 1.18v2.36l-1.15 1.18-1.15-1.18v-2.36zm-70.75 3.55l1.15 1.18v2.36l-1.15 1.18-1.15-1.18v-2.36zm69.6 0l1.15 1.18v2.36l-1.15 1.18-1.15-1.18v-2.36zm-68.45 3.55l1.15 1.18v2.36l-1.15 1.18-1.15-1.18v-2.36zm69.6 0l1.15 1.18v2.36l-1.15 1.18-1.15-1.18v-2.36zm-70.75 3.55l1.15 1.18v2.36l-1.15 1.18-1.15-1.18v-2.36zm69.6 0l1.15 1.18v2.36l-1.15 1.18-1.15-1.18v-2.36zm-68.45 3.55l1.15 1.18v2.36l-1.15 1.18-1.15-1.18v-2.36zm69.6 0l1.15 1.18v2.36l-1.15 1.18-1.15-1.18v-2.36zm-70.75 3.55l1.15 1.18v2.36l-1.15 1.18-1.15-1.18v-2.36zm69.6 0l1.15 1.18v2.36l-1.15 1.18-1.15-1.18v-2.36zm-68.45 3.55l1.15 1.18v2.36l-1.15 1.18-1.15-1.18v-2.36zm34.8 0l1.15 1.18v2.36l-1.15 1.18-1.15-1.18v-2.36zm34.8 0l1.15 1.18v2.36l-1.15 1.18-1.15-1.18v-2.36zm-35.95 3.55l1.15 1.18v2.36l-1.15 1.18-1.15-1.18v-2.36zm34.8 0l1.15 1.18v2.36l-1.15 1.18-1.15-1.18v-2.36zm-33.65 3.55l1.15 1.18v2.36l-1.15 1.18-1.15-1.18v-2.36zm34.8 0l1.15 1.18v2.36l-1.15 1.18-1.15-1.18v-2.36zm-34.8 71l1.15 1.18v2.36l-1.15 1.18-1.15-1.18v-2.36zm-1.15 3.55l1.15 1.18v2.36l-1.15 1.18-1.15-1.18v-2.36zm1.15 3.55l1.15 1.18v2.36l-1.15 1.18-1.15-1.18v-2.36zm34.8 7.1l1.15 1.18v2.36l-1.15 1.18-1.15-1.18v-2.36zm-69.6 7.1l1.15 1.18v2.36l-1.15 1.18-1.15-1.18v-2.36z"/>
<path color="#246ab2" d="M417.5 241.84l1.15 1.18v2.36l-1.15 1.18-1.15-1.18v-2.36zm1.15 3.55l1.15 1.18v2.36l-1.15 1.18-1.15-1.18v-2.36zm33.65 3.55l1.15 1.18v2.36l-1.15 1.18-1.15-1.18v-2.36zm34.8 0l1.15 1.18v2.36l-1.15 1.18-1.15-1.18v-2.36zm-33.65 3.55l1.15 1.18v2.36l-1.15 1.18-1.15-1.18v-2.36zm34.8 0l1.15 1.18v2.36l-1.15 1.18-1.15-1.18v-2.36zm-34.8 7.1l1.15 1.18v2.36l-1.15 1.18-1.15-1.18v-2.36zm0 49.7l1.15 1.18v2.36l-1.15 1.18-1.15-1.18v-2.36zm-1.15 3.55l1.15 1.18v2.36l-1.15 1.18-1.15-1.18v-2.36zm35.95 10.65l1.15 1.18v2.36l-1.15 1.18-1.15-1.18v-2.36zm-1.15 3.55l1.15 1.18v2.36l-1.15 1.18-1.15-1.18v-2.36zm-68.45 3.55l1.15 1.18v2.36l-1.15 1.18-1.15-1.18v-2.36z"/>
<path color="#2d6fb5" d="M417.5 248.94l1.15 1.18v2.36l-1.15 1.18-1.15-1.18v-2.36zm1.15 3.55l1.15 1.18v2.36l-1.15 1.18-1.15-1.18v-2.36zm33.65 3.55l1.15 1.18v2.36l-1.15 1.18-1.15-1.18v-2.36zm35.95 3.55l1.15 1.18v2.36l-1.15 1.18-1.15-1.18v-2.36zm-34.8 7.1l1.15 1.18v2.36l-1.15 1.18-1.15-1.18v-2.36zm0 35.5l1.15 1.18v2.36l-1.15 1.18-1.15-1.18v-2.36zm34.8 14.2l1.15 1.18v2.36l-1.15 1.18-1.15-1.18v-2.36zm-1.15 3.55l1.15 1.18v2.36l-1.15 1.18-1.15-1.18v-2.36z"/>
<path color="#3573b7" d="M487.1 256.04l1.15 1.18v2.36l-1.15 1.18-1.15-1.18v-2.36zm-34.8 7.1l1.15 1.18v2.36l-1.15 1.18-1.15-1.18v-2.36zm1.15 10.65l1.15 1.18v2.36l-1.15 1.18-1.15-1.18v-2.36zm-1.15 31.95l1.15 1.18v2.36l-1.15 1.18-1.15-1.18v-2.36zm-33.65 17.75l1.15 1.18v2.36l-1.15 1.18-1.15-1.18v-2.36zm-1.15 3.55l1.15 1.18v2.36l-1.15 1.18-1.15-1.18v-2.36z"/>
<path color="#3d78b9" d="M488.25 266.69l1.15 1.18v2.36l-1.15 1.18-1.15-1.18v-2.36zm-34.8 14.2l1.15 1.18v2.36l-1.15 1.18-1.15-1.18v-2.36zm0 14.2l1.15 1.18v2.36l-1.15 1.18-1.15-1.18v-2.36z"/>
<path color="#437cbc" d="M418.65 259.59l1.15 1.18v2.36l-1.15 1.18-1.15-1.18v-2.36zm33.65 10.65l1.15 1.18v2.36l-1.15 1.18-1.15-1.18v-2.36zm1.15 17.75l1.15 1.18v2.36l-1.15 1.18-1.15-1.18v-2.36zm34.8 21.3l1.15 1.18v2.36l-1.15 1.18-1.15-1.18v-2.36z"/>
<path color="#4a81be" d="M417.5 256.04l1.15 1.18v2.36l-1.15 1.18-1.15-1.18v-2.36zm69.6 7.1l1.15 1.18v2.36l-1.15 1.18-1.15-1.18v-2.36zm-34.8 35.5l1.15 1.18v2.36l-1.15 1.18-1.15-1.18v-2.36zm34.8 14.2l1.15 1.18v2.36l-1.15 1.18-1.15-1.18v-2.36z"/>
<path color="#5086c0" d="M488.25 273.79l1.15 1.18v2.36l-1.15 1.18-1.15-1.18v-2.36z"/>
<path color="#558ac3" d="M452.3 277.34l1.15 1.18v2.36l-1.15 1.18-1.15-1.18v-2.36zm-33.65 39.05l1.15 1.18v2.36l-1.15 1.18-1.15-1.18v-2.36z"/>
<path color="#5b8fc5" d="M452.3 291.54l1.15 1.18v2.36l-1.15 1.18-1.15-1.18v-2.36zm-34.8 28.4l1.15 1.18v2.36l-1.15 1.18-1.15-1.18v-2.36z"/>
<path color="#6094c7" d="M418.65 266.69l1.15 1.18v2.36l-1.15 1.18-1.15-1.18v-2.36zm33.65 17.75l1.15 1.18v2.36l-1.15 1.18-1.15-1.18v-2.36zm35.95 17.75l1.15 1.18v2.36l-1.15 1.18-1.15-1.18v-2.36z"/>
<path color="#6699c9" d="M487.1 270.24l1.15 1.18v2.36l-1.15 1.18-1.15-1.18v-2.36zm1.15 10.65l1.15 1.18v2.36l-1.15 1.18-1.15-1.18v-2.36z"/>
<path color="#70a2ce" d="M417.5 263.14l1.15 1.18v2.36l-1.15 1.18-1.15-1.18v-2.36z"/>
<path color="#75a7d0" d="M488.25 287.99l1.15 1.18v2.36l-1.15 1.18-1.15-1.18v-2.36zm0 7.1l1.15 1.18v2.36l-1.15 1.18-1.15-1.18v-2.36z"/>
<path color="#7aacd3" d="M487.1 305.74l1.15 1.18v2.36l-1.15 1.18-1.15-1.18v-2.36z"/>
<path color="#84b6d7" d="M418.65 273.79l1.15 1.18v2.36l-1.15 1.18-1.15-1.18v-2.36z"/>
<path color="#88bbd9" d="M487.1 277.34l1.15 1.18v2.36l-1.15 1.18-1.15-1.18v-2.36z"/>
<path color="#8dc0dc" d="M418.65 309.29l1.15 1.18v2.36l-1.15 1.18-1.15-1.18v-2.36z"/>
<path color="#a7cfe3" d="M487.1 298.64l1.15 1.18v2.36l-1.15 1.18-1.15-1.18v-2.36z"/>
<path color="#add1e4" d="M487.1 284.44l1.15 1.18v2.36l-1.15 1.18-1.15-1.18v-2.36zm-69.6 28.4l1.15 1.18v2.36l-1.15 1.18-1.15-1.18v-2.36z"/>
<path color="#b2d4e6" d="M417.5 270.24l1.15 1.18v2.36l-1.15 1.18-1.15-1.18v-2.36z"/>
<path color="#b7d6e7" d="M418.65 280.89l1.15 1.18v2.36l-1.15 1.18-1.15-1.18v-2.36z"/>
<path color="#bd0022" d="M417.5 291.54l1.15 1.18v2.36l-1.15 1.18-1.15-1.18v-2.36z"/>
<path color="#c1dbe9" d="M487.1 291.54l1.15 1.18v2.36l-1.15 1.18-1.15-1.18v-2.36z"/>
<path color="#c4252b" d="M417.5 298.64l1.15 1.18v2.36l-1.15 1.18-1.15-1.18v-2.36z"/>
<path color="#d5e5ee" d="M418.65 302.19l1.15 1.18v2.36l-1.15 1.18-1.15-1.18v-2.36z"/>
<path color="#e8eff3" d="M418.65 287.99l1.15 1.18v2.36l-1.15 1.18-1.15-1.18v-2.36z"/>
<path color="#eb8c6d" d="M417.5 284.44l1.15 1.18v2.36l-1.15 1.18-1.15-1.18v-2.36z"/>
<path color="#f8f3f1" d="M418.65 295.09l1.15 1.18v2.36l-1.15 1.18-1.15-1.18v-2.36z"/>
<path color="#f9c6b0" d="M417.5 305.74l1.15 1.18v2.36l-1.15 1.18-1.15-1.18v-2.36z"/>
<path color="#f9e6df" d="M417.5 277.34l1.15 1.18v2.36l-1.15 1.18-1.15-1.18v-2.36z"/>
<path color="#1866b0" d="M511.6 213.44l1.15 1.18v2.36l-1.15 1.18-1.15-1.18v-2.36zm71.15 3.55l1.15 1.18v2.36l-1.15 1.18-1.15-1.18v-2.36zm-71.15 3.55l1.15 1.18v2.36l-1.15 1.18-1.15-1.18v-2.36zm23.4 0l1.15 1.18v2.36l-1.15 1.18-1.15-1.18v-2.36zm23.3 0l1.15 1.18v2.36l-1.15 1.18-1.15-1.18v-2.36zm23.3 0l1.15 1.18v2.36l-1.15 1.18-1.15-1.18v-2.36zm-68.85 3.55l1.15 1.18v2.36l-1.15 1.18-1.15-1.18v-2.36zm70 0l1.15 1.18v2.36l-1.15 1.18-1.15-1.18v-2.36zm-71.15 3.55l1.15 1.18v2.36l-1.15 1.18-1.15-1.18v-2.36zm23.4 0l1.15 1.18v2.36l-1.15 1.18-1.15-1.18v-2.36zm23.3 0l1.15 1.18v2.36l-1.15 1.18-1.15-1.18v-2.36zm23.3 0l1.15 1.18v2.36l-1.15 1.18-1.15-1.18v-2.36zm-68.85 3.55l1.15 1.18v2.36l-1.15 1.18-1.15-1.18v-2.36zm23.4 0l1.15 1.18v2.36l-1.15 1.18-1.15-1.18v-2.36zm23.3 0l1.15 1.18v2.36l-1.15 1.18-1.15-1.18v-2.36zm23.3 0l1.15 1.18v2.36l-1.15 1.18-1.15-1.18v-2.36zm-71.15 3.55l1.15 1.18v2.36l-1.15 1.18-1.15-1.18v-2.36zm23.4 0l1.15 1.18v2.36l-1.15 1.18-1.15-1.18v-2.36zm23.3 0l1.15 1.18v2.36l-1.15 1.18-1.15-1.18v-2.36zm23.3 0l1.15 1.18v2.36l-1.15 1.18-1.15-1.18v-2.36zm-68.85 3.55l1.15 1.18v2.36l-1.15 1.18-1.15-1.18v-2.36zm23.4 0l1.15 1.18v2.36l-1.15 1.18-1.15-1.18v-2.36zm23.3 0l1.15 1.18v2.36l-1.15 1.18-1.15-1.18v-2.36zm23.3 0l1.15 1.18v2.36l-1.15 1.18-1.15-1.18v-2.36zm-47.75 3.55l1.15 1.18v2.36l-1.15 1.18-1.15-1.18v-2.36zm23.3 0l1.15 1.18v2.36l-1.15 1.18-1.15-1.18v-2.36zm23.3 0l1.15 1.18v2.36l-1.15 1.18-1.15-1.18v-2.36zm-45.45 3.55l1.15 1.18v2.36l-1.15 1.18-1.15-1.18v-2.36zm23.3 0l1.15 1.18v2.36l-1.15 1.18-1.15-1.18v-2.36zm23.3 0l1.15 1.18v2.36l-1.15 1.18-1.15-1.18v-2.36zm0 85.2l1.15 1.18v2.36l-1.15 1.18-1.15-1.18v-2.36zm-70 7.1l1.15 1.18v2.36l-1.15 1.18-1.15-1.18v-2.36z"/>
<path color="#246ab2" d="M511.6 241.84l1.15 1.18v2.36l-1.15 1.18-1.15-1.18v-2.36zm1.15 3.55l1.15 1.18v2.36l-1.15 1.18-1.15-1.18v-2.36zm22.25 3.55l1.15 1.18v2.36l-1.15 1.18-1.15-1.18v-2.36zm23.3 0l1.15 1.18v2.36l-1.15 1.18-1.15-1.18v-2.36zm23.3 0l1.15 1.18v2.36l-1.15 1.18-1.15-1.18v-2.36zm-45.45 3.55l1.15 1.18v2.36l-1.15 1.18-1.15-1.18v-2.36zm23.3 0l1.15 1.18v2.36l-1.15 1.18-1.15-1.18v-2.36zm23.3 0l1.15 1.18v2.36l-1.15 1.18-1.15-1.18v-2.36zm-46.6 71l1.15 1.18v2.36l-1.15 1.18-1.15-1.18v-2.36zm23.3 0l1.15 1.18v2.36l-1.15 1.18-1.15-1.18v-2.36zm23.3 0l1.15 1.18v2.36l-1.15 1.18-1.15-1.18v-2.36zm-47.75 3.55l1.15 1.18v2.36l-1.15 1.18-1.15-1.18v-2.36zm23.3 0l1.15 1.18v2.36l-1.15 1.18-1.15-1.18v-2.36zm23.3 0l1.15 1.18v2.36l-1.15 1.18-1.15-1.18v-2.36zm-68.85 3.55l1.15 1.18v2.36l-1.15 1.18-1.15-1.18v-2.36z"/>
<path color="#2d6fb5" d="M511.6 248.94l1.15 1.18v2.36l-1.15 1.18-1.15-1.18v-2.36zm1.15 3.55l1.15 1.18v2.36l-1.15 1.18-1.15-1.18v-2.36zm23.4 7.1l1.15 1.18v2.36l-1.15 1.18-1.15-1.18v-2.36zm23.3 0l1.15 1.18v2.36l-1.15 1.18-1.15-1.18v-2.36zm23.3 0l1.15 1.18v2.36l-1.15 1.18-1.15-1.18v-2.36zm-46.6 56.8l1.15 1.18v2.36l-1.15 1.18-1.15-1.18v-2.36zm23.3 0l1.15 1.18v2.36l-1.15 1.18-1.15-1.18v-2.36zm23.3 0l1.15 1.18v2.36l-1.15 1.18-1.15-1.18v-2.36z"/>
<path color="#3573b7" d="M535 256.04l1.15 1.18v2.36l-1.15 1.18-1.15-1.18v-2.36zm23.3 0l1.15 1.18v2.36l-1.15 1.18-1.15-1.18v-2.36zm23.3 0l1.15 1.18v2.36l-1.15 1.18-1.15-1.18v-2.36zm-46.6 63.9l1.15 1.18v2.36l-1.15 1.18-1.15-1.18v-2.36zm23.3 0l1.15 1.18v2.36l-1.15 1.18-1.15-1.18v-2.36zm23.3 0l1.15 1.18v2.36l-1.15 1.18-1.15-1.18v-2.36zm-68.85 3.55l1.15 1.18v2.36l-1.15 1.18-1.15-1.18v-2.36zm-1.15 3.55l1.15 1.18v2.36l-1.15 1.18-1.15-1.18v-2.36z"/>
<path color="#3d78b9" d="M536.15 266.69l1.15 1.18v2.36l-1.15 1.18-1.15-1.18v-2.36zm23.3 0l1.15 1.18v2.36l-1.15 1.18-1.15-1.18v-2.36zm23.3 0l1.15 1.18v2.36l-1.15 1.18-1.15-1.18v-2.36z"/>
<path color="#437cbc" d="M512.75 259.59l1.15 1.18v2.36l-1.15 1.18-1.15-1.18v-2.36z"/>
<path color="#4a81be" d="M511.6 256.04l1.15 1.18v2.36l-1.15 1.18-1.15-1.18v-2.36zm23.4 7.1l1.15 1.18v2.36l-1.15 1.18-1.15-1.18v-2.36zm23.3 0l1.15 1.18v2.36l-1.15 1.18-1.15-1.18v-2.36zm23.3 0l1.15 1.18v2.36l-1.15 1.18-1.15-1.18v-2.36zm-45.45 46.15l1.15 1.18v2.36l-1.15 1.18-1.15-1.18v-2.36zm23.3 0l1.15 1.18v2.36l-1.15 1.18-1.15-1.18v-2.36zm23.3 0l1.15 1.18v2.36l-1.15 1.18-1.15-1.18v-2.36z"/>
<path color="#5086c0" d="M536.15 273.79l1.15 1.18v2.36l-1.15 1.18-1.15-1.18v-2.36zm23.3 0l1.15 1.18v2.36l-1.15 1.18-1.15-1.18v-2.36zm23.3 0l1.15 1.18v2.36l-1.15 1.18-1.15-1.18v-2.36z"/>
<path color="#558ac3" d="M535 312.84l1.15 1.18v2.36l-1.15 1.18-1.15-1.18v-2.36zm23.3 0l1.15 1.18v2.36l-1.15 1.18-1.15-1.18v-2.36zm23.3 0l1.15 1.18v2.36l-1.15 1.18-1.15-1.18v-2.36zm-68.85 3.55l1.15 1.18v2.36l-1.15 1.18-1.15-1.18v-2.36z"/>
<path color="#5b8fc5" d="M511.6 319.94l1.15 1.18v2.36l-1.15 1.18-1.15-1.18v-2.36z"/>
<path color="#6094c7" d="M512.75 266.69l1.15 1.18v2.36l-1.15 1.18-1.15-1.18v-2.36z"/>
<path color="#6699c9" d="M535 270.24l1.15 1.18v2.36l-1.15 1.18-1.15-1.18v-2.36zm23.3 0l1.15 1.18v2.36l-1.15 1.18-1.15-1.18v-2.36zm23.3 0l1.15 1.18v2.36l-1.15 1.18-1.15-1.18v-2.36zm-45.45 10.65l1.15 1.18v2.36l-1.15 1.18-1.15-1.18v-2.36zm23.3 0l1.15 1.18v2.36l-1.15 1.18-1.15-1.18v-2.36zm23.3 0l1.15 1.18v2.36l-1.15 1.18-1.15-1.18v-2.36zm-46.6 21.3l1.15 1.18v2.36l-1.15 1.18-1.15-1.18v-2.36zm23.3 0l1.15 1.18v2.36l-1.15 1.18-1.15-1.18v-2.36zm23.3 0l1.15 1.18v2.36l-1.15 1.18-1.15-1.18v-2.36z"/>
<path color="#70a2ce" d="M511.6 263.14l1.15 1.18v2.36l-1.15 1.18-1.15-1.18v-2.36z"/>
<path color="#75a7d0" d="M536.15 287.99l1.15 1.18v2.36l-1.15 1.18-1.15-1.18v-2.36zm23.3 0l1.15 1.18v2.36l-1.15 1.18-1.15-1.18v-2.36zm23.3 0l1.15 1.18v2.36l-1.15 1.18-1.15-1.18v-2.36z"/>
<path color="#7aacd3" d="M536.15 295.09l1.15 1.18v2.36l-1.15 1.18-1.15-1.18v-2.36zm23.3 0l1.15 1.18v2.36l-1.15 1.18-1.15-1.18v-2.36zm23.3 0l1.15 1.18v2.36l-1.15 1.18-1.15-1.18v-2.36z"/>
<path color="#7fb1d5" d="M535 305.74l1.15 1.18v2.36l-1.15 1.18-1.15-1.18v-2.36zm23.3 0l1.15 1.18v2.36l-1.15 1.18-1.15-1.18v-2.36zm23.3 0l1.15 1.18v2.36l-1.15 1.18-1.15-1.18v-2.36z"/>
<path color="#84b6d7" d="M512.75 273.79l1.15 1.18v2.36l-1.15 1.18-1.15-1.18v-2.36zm22.25 3.55l1.15 1.18v2.36l-1.15 1.18-1.15-1.18v-2.36zm23.3 0l1.15 1.18v2.36l-1.15 1.18-1.15-1.18v-2.36zm23.3 0l1.15 1.18v2.36l-1.15 1.18-1.15-1.18v-2.36z"/>
<path color="#8dc0dc" d="M512.75 309.29l1.15 1.18v2.36l-1.15 1.18-1.15-1.18v-2.36z"/>
<path color="#add1e4" d="M535 284.44l1.15 1.18v2.36l-1.15 1.18-1.15-1.18v-2.36zm23.3 0l1.15 1.18v2.36l-1.15 1.18-1.15-1.18v-2.36zm23.3 0l1.15 1.18v2.36l-1.15 1.18-1.15-1.18v-2.36zm-70 28.4l1.15 1.18v2.36l-1.15 1.18-1.15-1.18v-2.36z"/>
<path color="#b2d4e6" d="M511.6 270.24l1.15 1.18v2.36l-1.15 1.18-1.15-1.18v-2.36zm23.4 28.4l1.15 1.18v2.36l-1.15 1.18-1.15-1.18v-2.36zm23.3 0l1.15 1.18v2.36l-1.15 1.18-1.15-1.18v-2.36zm23.3 0l1.15 1.18v2.36l-1.15 1.18-1.15-1.18v-2.36z"/>
<path color="#b7d6e7" d="M512.75 280.89l1.15 1.18v2.36l-1.15 1.18-1.15-1.18v-2.36z"/>
<path color="#bd0022" d="M511.6 291.54l1.15 1.18v2.36l-1.15 1.18-1.15-1.18v-2.36z"/>
<path color="#c1dbe9" d="M535 291.54l1.15 1.18v2.36l-1.15 1.18-1.15-1.18v-2.36zm23.3 0l1.15 1.18v2.36l-1.15 1.18-1.15-1.18v-2.36zm23.3 0l1.15 1.18v2.36l-1.15 1.18-1.15-1.18v-2.36z"/>
<path color="#c4252b" d="M511.6 298.64l1.15 1.18v2.36l-1.15 1.18-1.15-1.18v-2.36z"/>
<path color="#d5e5ee" d="M512.75 302.19l1.15 1.18v2.36l-1.15 1.18-1.15-1.18v-2.36z"/>
<path color="#e8eff3" d="M512.75 287.99l1.15 1.18v2.36l-1.15 1.18-1.15-1.18v-2.36z"/>
<path color="#eb8c6d" d="M511.6 284.44l1.15 1.18v2.36l-1.15 1.18-1.15-1.18v-2.36z"/>
<path color="#f8f3f1" d="M512.75 295.09l1.15 1.18v2.36l-1.15 1.18-1.15-1.18v-2.36z"/>
<path color="#f9c6b0" d="M511.6 305.74l1.15 1.18v2.36l-1.15 1.18-1.15-1.18v-2.36z"/>
<path color="#f9e6df" d="M511.6 277.34l1.15 1.18v2.36l-1.15 1.18-1.15-1.18v-2.36z"/>
<path color="#1866b0" d="M620.2 213.44l1.15 1.18v2.36l-1.15 1.18-1.15-1.18v-2.36zm1.15 3.55l1.15 1.18v2.36l-1.15 1.18-1.15-1.18v-2.36zm-15.05 3.55l1.15 1.18v2.36l-1.15 1.18-1.15-1.18v-2.36zm13.9 0l1.15 1.18v2.36l-1.15 1.18-1.15-1.18v-2.36zm13.8 0l1.15 1.18v2.36l-1.15 1.18-1.15-1.18v-2.36zm13.9 0l1.15 1.18v2.36l-1.15 1.18-1.15-1.18v-2.36zm13.8 0l1.15 1.18v2.36l-1.15 1.18-1.15-1.18v-2.36zm-40.35 3.55l1.15 1.18v2.36l-1.15 1.18-1.15-1.18v-2.36zm27.7 0l1.15 1.18v2.36l-1.15 1.18-1.15-1.18v-2.36zm13.8 0l1.15 1.18v2.36l-1.15 1.18-1.15-1.18v-2.36zm-56.55 3.55l1.15 1.18v2.36l-1.15 1.18-1.15-1.18v-2.36zm13.9 0l1.15 1.18v2.36l-1.15 1.18-1.15-1.18v-2.36zm13.8 0l1.15 1.18v2.36l-1.15 1.18-1.15-1.18v-2.36zm13.9 0l1.15 1.18v2.36l-1.15 1.18-1.15-1.18v-2.36zm13.8 0l1.15 1.18v2.36l-1.15 1.18-1.15-1.18v-2.36zm-54.25 3.55l1.15 1.18v2.36l-1.15 1.18-1.15-1.18v-2.36zm13.9 0l1.15 1.18v2.36l-1.15 1.18-1.15-1.18v-2.36zm13.8 0l1.15 1.18v2.36l-1.15 1.18-1.15-1.18v-2.36zm13.9 0l1.15 1.18v2.36l-1.15 1.18-1.15-1.18v-2.36zm13.8 0l1.15 1.18v2.36l-1.15 1.18-1.15-1.18v-2.36zm-56.55 3.55l1.15 1.18v2.36l-1.15 1.18-1.15-1.18v-2.36zm13.9 0l1.15 1.18v2.36l-1.15 1.18-1.15-1.18v-2.36zm13.8 0l1.15 1.18v2.36l-1.15 1.18-1.15-1.18v-2.36zm13.9 0l1.15 1.18v2.36l-1.15 1.18-1.15-1.18v-2.36zm13.8 0l1.15 1.18v2.36l-1.15 1.18-1.15-1.18v-2.36zm-54.25 3.55l1.15 1.18v2.36l-1.15 1.18-1.15-1.18v-2.36zm13.9 0l1.15 1.18v2.36l-1.15 1.18-1.15-1.18v-2.36zm13.8 0l1.15 1.18v2.36l-1.15 1.18-1.15-1.18v-2.36zm13.9 0l1.15 1.18v2.36l-1.15 1.18-1.15-1.18v-2.36zm13.8 0l1.15 1.18v2.36l-1.15 1.18-1.15-1.18v-2.36zm12.75 10.65l1.15 1.18v2.36l-1.15 1.18-1.15-1.18v-2.36zm1.15 3.55l1.15 1.18v2.36l-1.15 1.18-1.15-1.18v-2.36zm-13.9 85.2l1.15 1.18v2.36l-1.15 1.18-1.15-1.18v-2.36z"/>
<path color="#246ab2" d="M606.3 241.84l1.15 1.18v2.36l-1.15 1.18-1.15-1.18v-2.36zm13.9 0l1.15 1.18v2.36l-1.15 1.18-1.15-1.18v-2.36zm13.8 0l1.15 1.18v2.36l-1.15 1.18-1.15-1.18v-2.36zm13.9 0l1.15 1.18v2.36l-1.15 1.18-1.15-1.18v-2.36zm13.8 0l1.15 1.18v2.36l-1.15 1.18-1.15-1.18v-2.36zm-54.25 3.55l1.15 1.18v2.36l-1.15 1.18-1.15-1.18v-2.36zm13.9 0l1.15 1.18v2.36l-1.15 1.18-1.15-1.18v-2.36zm13.8 0l1.15 1.18v2.36l-1.15 1.18-1.15-1.18v-2.36zm13.9 0l1.15 1.18v2.36l-1.15 1.18-1.15-1.18v-2.36zm13.8 0l1.15 1.18v2.36l-1.15 1.18-1.15-1.18v-2.36zm-55.4 7.1l1.15 1.18v2.36l-1.15 1.18-1.15-1.18v-2.36zm68.15 3.55l1.15 1.18v2.36l-1.15 1.18-1.15-1.18v-2.36zm0 7.1l1.15 1.18v2.36l-1.15 1.18-1.15-1.18v-2.36zm1.15 3.55l1.15 1.18v2.36l-1.15 1.18-1.15-1.18v-2.36zm0 49.7l1.15 1.18v2.36l-1.15 1.18-1.15-1.18v-2.36zm-1.15 3.55l1.15 1.18v2.36l-1.15 1.18-1.15-1.18v-2.36zm-40.45 10.65l1.15 1.18v2.36l-1.15 1.18-1.15-1.18v-2.36zm13.9 0l1.15 1.18v2.36l-1.15 1.18-1.15-1.18v-2.36zm13.8 0l1.15 1.18v2.36l-1.15 1.18-1.15-1.18v-2.36z"/>
<path color="#2d6fb5" d="M606.3 248.94l1.15 1.18v2.36l-1.15 1.18-1.15-1.18v-2.36zm13.9 0l1.15 1.18v2.36l-1.15 1.18-1.15-1.18v-2.36zm13.8 0l1.15 1.18v2.36l-1.15 1.18-1.15-1.18v-2.36zm13.9 0l1.15 1.18v2.36l-1.15 1.18-1.15-1.18v-2.36zm13.8 0l1.15 1.18v2.36l-1.15 1.18-1.15-1.18v-2.36zm-40.35 3.55l1.15 1.18v2.36l-1.15 1.18-1.15-1.18v-2.36zm13.8 0l1.15 1.18v2.36l-1.15 1.18-1.15-1.18v-2.36zm13.9 0l1.15 1.18v2.36l-1.15 1.18-1.15-1.18v-2.36zm13.8 0l1.15 1.18v2.36l-1.15 1.18-1.15-1.18v-2.36zm13.9 56.8l1.15 1.18v2.36l-1.15 1.18-1.15-1.18v-2.36zm-69.3 14.2l1.15 1.18v2.36l-1.15 1.18-1.15-1.18v-2.36zm-1.15 3.55l1.15 1.18v2.36l-1.15 1.18-1.15-1.18v-2.36z"/>
<path color="#3573b7" d="M607.45 259.59l1.15 1.18v2.36l-1.15 1.18-1.15-1.18v-2.36zm68.15 10.65l1.15 1.18v2.36l-1.15 1.18-1.15-1.18v-2.36zm1.15 10.65l1.15 1.18v2.36l-1.15 1.18-1.15-1.18v-2.36zm-1.15 31.95l1.15 1.18v2.36l-1.15 1.18-1.15-1.18v-2.36zm-54.25 10.65l1.15 1.18v2.36l-1.15 1.18-1.15-1.18v-2.36zm13.8 0l1.15 1.18v2.36l-1.15 1.18-1.15-1.18v-2.36zm13.9 0l1.15 1.18v2.36l-1.15 1.18-1.15-1.18v-2.36zm13.8 0l1.15 1.18v2.36l-1.15 1.18-1.15-1.18v-2.36zm-42.65 3.55l1.15 1.18v2.36l-1.15 1.18-1.15-1.18v-2.36zm13.8 0l1.15 1.18v2.36l-1.15 1.18-1.15-1.18v-2.36zm13.9 0l1.15 1.18v2.36l-1.15 1.18-1.15-1.18v-2.36zm13.8 0l1.15 1.18v2.36l-1.15 1.18-1.15-1.18v-2.36z"/>
<path color="#3d78b9" d="M606.3 256.04l1.15 1.18v2.36l-1.15 1.18-1.15-1.18v-2.36zm15.05 3.55l1.15 1.18v2.36l-1.15 1.18-1.15-1.18v-2.36zm13.8 0l1.15 1.18v2.36l-1.15 1.18-1.15-1.18v-2.36zm13.9 0l1.15 1.18v2.36l-1.15 1.18-1.15-1.18v-2.36zm13.8 0l1.15 1.18v2.36l-1.15 1.18-1.15-1.18v-2.36zm13.9 28.4l1.15 1.18v2.36l-1.15 1.18-1.15-1.18v-2.36zm0 7.1l1.15 1.18v2.36l-1.15 1.18-1.15-1.18v-2.36zm0 7.1l1.15 1.18v2.36l-1.15 1.18-1.15-1.18v-2.36z"/>
<path color="#437cbc" d="M620.2 256.04l1.15 1.18v2.36l-1.15 1.18-1.15-1.18v-2.36z"/>
<path color="#4a81be" d="M634 256.04l1.15 1.18v2.36l-1.15 1.18-1.15-1.18v-2.36zm13.9 0l1.15 1.18v2.36l-1.15 1.18-1.15-1.18v-2.36zm13.8 0l1.15 1.18v2.36l-1.15 1.18-1.15-1.18v-2.36zm13.9 49.7l1.15 1.18v2.36l-1.15 1.18-1.15-1.18v-2.36z"/>
<path color="#5086c0" d="M607.45 266.69l1.15 1.18v2.36l-1.15 1.18-1.15-1.18v-2.36zm68.15 17.75l1.15 1.18v2.36l-1.15 1.18-1.15-1.18v-2.36zm-68.15 31.95l1.15 1.18v2.36l-1.15 1.18-1.15-1.18v-2.36z"/>
<path color="#558ac3" d="M621.35 266.69l1.15 1.18v2.36l-1.15 1.18-1.15-1.18v-2.36zm54.25 24.85l1.15 1.18v2.36l-1.15 1.18-1.15-1.18v-2.36zm0 7.1l1.15 1.18v2.36l-1.15 1.18-1.15-1.18v-2.36zm-54.25 17.75l1.15 1.18v2.36l-1.15 1.18-1.15-1.18v-2.36zm-15.05 3.55l1.15 1.18v2.36l-1.15 1.18-1.15-1.18v-2.36z"/>
<path color="#5b8fc5" d="M635.15 266.69l1.15 1.18v2.36l-1.15 1.18-1.15-1.18v-2.36zm13.9 0l1.15 1.18v2.36l-1.15 1.18-1.15-1.18v-2.36zm13.8 0l1.15 1.18v2.36l-1.15 1.18-1.15-1.18v-2.36zm-27.7 49.7l1.15 1.18v2.36l-1.15 1.18-1.15-1.18v-2.36zm13.9 0l1.15 1.18v2.36l-1.15 1.18-1.15-1.18v-2.36zm13.8 0l1.15 1.18v2.36l-1.15 1.18-1.15-1.18v-2.36zm-42.65 3.55l1.15 1.18v2.36l-1.15 1.18-1.15-1.18v-2.36z"/>
<path color="#6094c7" d="M606.3 263.14l1.15 1.18v2.36l-1.15 1.18-1.15-1.18v-2.36zm27.7 56.8l1.15 1.18v2.36l-1.15 1.18-1.15-1.18v-2.36zm13.9 0l1.15 1.18v2.36l-1.15 1.18-1.15-1.18v-2.36zm13.8 0l1.15 1.18v2.36l-1.15 1.18-1.15-1.18v-2.36z"/>
<path color="#6b9dcc" d="M620.2 263.14l1.15 1.18v2.36l-1.15 1.18-1.15-1.18v-2.36z"/>
<path color="#70a2ce" d="M634 263.14l1.15 1.18v2.36l-1.15 1.18-1.15-1.18v-2.36zm13.9 0l1.15 1.18v2.36l-1.15 1.18-1.15-1.18v-2.36zm13.8 0l1.15 1.18v2.36l-1.15 1.18-1.15-1.18v-2.36zm-54.25 10.65l1.15 1.18v2.36l-1.15 1.18-1.15-1.18v-2.36z"/>
<path color="#7aacd3" d="M607.45 309.29l1.15 1.18v2.36l-1.15 1.18-1.15-1.18v-2.36z"/>
<path color="#7fb1d5" d="M621.35 273.79l1.15 1.18v2.36l-1.15 1.18-1.15-1.18v-2.36z"/>
<path color="#84b6d7" d="M635.15 273.79l1.15 1.18v2.36l-1.15 1.18-1.15-1.18v-2.36zm13.9 0l1.15 1.18v2.36l-1.15 1.18-1.15-1.18v-2.36zm13.8 0l1.15 1.18v2.36l-1.15 1.18-1.15-1.18v-2.36z"/>
<path color="#88bbd9" d="M621.35 309.29l1.15 1.18v2.36l-1.15 1.18-1.15-1.18v-2.36z"/>
<path color="#8dc0dc" d="M606.3 270.24l1.15 1.18v2.36l-1.15 1.18-1.15-1.18v-2.36z"/>
<path color="#92c5de" d="M607.45 280.89l1.15 1.18v2.36l-1.15 1.18-1.15-1.18v-2.36zm27.7 28.4l1.15 1.18v2.36l-1.15 1.18-1.15-1.18v-2.36zm13.9 0l1.15 1.18v2.36l-1.15 1.18-1.15-1.18v-2.36zm13.8 0l1.15 1.18v2.36l-1.15 1.18-1.15-1.18v-2.36zm-56.55 3.55l1.15 1.18v2.36l-1.15 1.18-1.15-1.18v-2.36z"/>
<path color="#a2cce2" d="M620.2 270.24l1.15 1.18v2.36l-1.15 1.18-1.15-1.18v-2.36z"/>
<path color="#add1e4" d="M634 270.24l1.15 1.18v2.36l-1.15 1.18-1.15-1.18v-2.36zm13.9 0l1.15 1.18v2.36l-1.15 1.18-1.15-1.18v-2.36zm13.8 0l1.15 1.18v2.36l-1.15 1.18-1.15-1.18v-2.36zm-40.35 10.65l1.15 1.18v2.36l-1.15 1.18-1.15-1.18v-2.36zm-1.15 31.95l1.15 1.18v2.36l-1.15 1.18-1.15-1.18v-2.36z"/>
<path color="#b2d4e6" d="M607.45 302.19l1.15 1.18v2.36l-1.15 1.18-1.15-1.18v-2.36z"/>
<path color="#b7d6e7" d="M635.15 280.89l1.15 1.18v2.36l-1.15 1.18-1.15-1.18v-2.36zm13.9 0l1.15 1.18v2.36l-1.15 1.18-1.15-1.18v-2.36zm13.8 0l1.15 1.18v2.36l-1.15 1.18-1.15-1.18v-2.36zm-28.85 31.95l1.15 1.18v2.36l-1.15 1.18-1.15-1.18v-2.36zm13.9 0l1.15 1.18v2.36l-1.15 1.18-1.15-1.18v-2.36zm13.8 0l1.15 1.18v2.36l-1.15 1.18-1.15-1.18v-2.36z"/>
<path color="#bcd9e8" d="M607.45 287.99l1.15 1.18v2.36l-1.15 1.18-1.15-1.18v-2.36z"/>
<path color="#bd0022" d="M634 291.54l1.15 1.18v2.36l-1.15 1.18-1.15-1.18v-2.36zm13.9 0l1.15 1.18v2.36l-1.15 1.18-1.15-1.18v-2.36zm13.8 0l1.15 1.18v2.36l-1.15 1.18-1.15-1.18v-2.36zm-27.7 7.1l1.15 1.18v2.36l-1.15 1.18-1.15-1.18v-2.36zm13.9 0l1.15 1.18v2.36l-1.15 1.18-1.15-1.18v-2.36zm13.8 0l1.15 1.18v2.36l-1.15 1.18-1.15-1.18v-2.36z"/>
<path color="#d0493d" d="M620.2 291.54l1.15 1.18v2.36l-1.15 1.18-1.15-1.18v-2.36zm0 7.1l1.15 1.18v2.36l-1.15 1.18-1.15-1.18v-2.36z"/>
<path color="#d0e3ed" d="M607.45 295.09l1.15 1.18v2.36l-1.15 1.18-1.15-1.18v-2.36zm13.9 7.1l1.15 1.18v2.36l-1.15 1.18-1.15-1.18v-2.36z"/>
<path color="#d5e5ee" d="M606.3 277.34l1.15 1.18v2.36l-1.15 1.18-1.15-1.18v-2.36z"/>
<path color="#dae8f0" d="M621.35 287.99l1.15 1.18v2.36l-1.15 1.18-1.15-1.18v-2.36zm13.8 14.2l1.15 1.18v2.36l-1.15 1.18-1.15-1.18v-2.36zm13.9 0l1.15 1.18v2.36l-1.15 1.18-1.15-1.18v-2.36zm13.8 0l1.15 1.18v2.36l-1.15 1.18-1.15-1.18v-2.36z"/>
<path color="#e4edf2" d="M635.15 287.99l1.15 1.18v2.36l-1.15 1.18-1.15-1.18v-2.36zm13.9 0l1.15 1.18v2.36l-1.15 1.18-1.15-1.18v-2.36zm13.8 0l1.15 1.18v2.36l-1.15 1.18-1.15-1.18v-2.36z"/>
<path color="#eb8c6d" d="M634 284.44l1.15 1.18v2.36l-1.15 1.18-1.15-1.18v-2.36zm13.9 0l1.15 1.18v2.36l-1.15 1.18-1.15-1.18v-2.36zm13.8 0l1.15 1.18v2.36l-1.15 1.18-1.15-1.18v-2.36z"/>
<path color="#f29f7d" d="M606.3 291.54l1.15 1.18v2.36l-1.15 1.18-1.15-1.18v-2.36z"/>
<path color="#f2f4f6" d="M621.35 295.09l1.15 1.18v2.36l-1.15 1.18-1.15-1.18v-2.36z"/>
<path color="#f4a582" d="M606.3 298.64l1.15 1.18v2.36l-1.15 1.18-1.15-1.18v-2.36z"/>
<path color="#f5a988" d="M620.2 284.44l1.15 1.18v2.36l-1.15 1.18-1.15-1.18v-2.36z"/>
<path color="#f7f7f7" d="M620.2 277.34l1.15 1.18v2.36l-1.15 1.18-1.15-1.18v-2.36z"/>
<path color="#f8bda4" d="M634 305.74l1.15 1.18v2.36l-1.15 1.18-1.15-1.18v-2.36zm13.9 0l1.15 1.18v2.36l-1.15 1.18-1.15-1.18v-2.36zm13.8 0l1.15 1.18v2.36l-1.15 1.18-1.15-1.18v-2.36z"/>
<path color="#f8efeb" d="M635.15 295.09l1.15 1.18v2.36l-1.15 1.18-1.15-1.18v-2.36zm13.9 0l1.15 1.18v2.36l-1.15 1.18-1.15-1.18v-2.36zm13.8 0l1.15 1.18v2.36l-1.15 1.18-1.15-1.18v-2.36z"/>
<path color="#f8f3f1" d="M606.3 305.74l1.15 1.18v2.36l-1.15 1.18-1.15-1.18v-2.36z"/>
<path color="#f9cebb" d="M620.2 305.74l1.15 1.18v2.36l-1.15 1.18-1.15-1.18v-2.36z"/>
<path color="#f9ebe5" d="M634 277.34l1.15 1.18v2.36l-1.15 1.18-1.15-1.18v-2.36zm13.9 0l1.15 1.18v2.36l-1.15 1.18-1.15-1.18v-2.36zm13.8 0l1.15 1.18v2.36l-1.15 1.18-1.15-1.18v-2.36z"/>
<path color="#fad6c7" d="M606.3 284.44l1.15 1.18v2.36l-1.15 1.18-1.15-1.18v-2.36z"/>
<rect x="37.1" y="210.4" width="77.6" height="134.3" fill="none" stroke="#8c8c8c" stroke-width="0.9"/>
<text class="S" x="75.9" y="193.8" font-size="9.2" text-anchor="middle" fill="#000" stroke="#000" stroke-width="0.22">BMI</text>
<g class="R" fill="#3d3d3d"><text x="33.76" y="206.3" font-size="10.06" font-style="italic">&#961;</text><text x="60.75" y="206.3" font-size="10.06" text-anchor="middle">0</text><text x="64.41" y="206.3" font-size="10.06" text-anchor="middle">.</text><text x="68.07" y="206.3" font-size="10.06" text-anchor="middle">0</text><text x="72.77" y="206.3" font-size="10.06" text-anchor="middle">7</text><text x="76.42" y="206.3" font-size="10.06" text-anchor="middle">,</text><text x="79.3" y="206.3" font-size="10.06" font-style="italic">p</text><text x="98.98" y="206.3" font-size="10.06" text-anchor="middle">0</text><text x="102.63" y="206.3" font-size="10.06" text-anchor="middle">.</text><text x="106.29" y="206.3" font-size="10.06" text-anchor="middle">0</text><text x="110.99" y="206.3" font-size="10.06" text-anchor="middle">0</text><text x="115.69" y="206.3" font-size="10.06" text-anchor="middle">1</text><path d="M41.53 202.96h6.58M41.53 204.94h6.58" stroke="#3d3d3d" stroke-width="0.58" fill="none"/><path d="M51.46 203.95h6.58" stroke="#3d3d3d" stroke-width="0.58" fill="none"/><path d="M93.27 201.6L87.44 203.95L93.27 206.3" stroke="#3d3d3d" stroke-width="0.58" fill="none"/></g>
<line x1="40.8" y1="344.7" x2="40.8" y2="347.9" stroke="#8c8c8c" stroke-width="0.9"/>
<text class="S" x="42.4" y="355.9" font-size="9.7" text-anchor="end" stroke="#1a1a1a" stroke-width="0.22" transform="rotate(-45 42.4 355.9)">&lt;22</text>
<line x1="63.9" y1="344.7" x2="63.9" y2="347.9" stroke="#8c8c8c" stroke-width="0.9"/>
<text class="S" x="65.5" y="355.9" font-size="9.7" text-anchor="end" stroke="#1a1a1a" stroke-width="0.22" transform="rotate(-45 65.5 355.9)">22&#8211;24.9</text>
<line x1="86.7" y1="344.7" x2="86.7" y2="347.9" stroke="#8c8c8c" stroke-width="0.9"/>
<text class="S" x="88.3" y="355.9" font-size="9.7" text-anchor="end" stroke="#1a1a1a" stroke-width="0.22" transform="rotate(-45 88.3 355.9)">25&#8211;29.9</text>
<line x1="110" y1="344.7" x2="110" y2="347.9" stroke="#8c8c8c" stroke-width="0.9"/>
<text class="S" x="111.6" y="355.9" font-size="9.7" text-anchor="end" stroke="#1a1a1a" stroke-width="0.22" transform="rotate(-45 111.6 355.9)">&gt;=30</text>
<line x1="41.2" y1="290" x2="110" y2="292.6" stroke="#b4b6b6" stroke-width="3"/>
<rect x="131.3" y="210.4" width="77.6" height="134.3" fill="none" stroke="#8c8c8c" stroke-width="0.9"/>
<text class="S" x="170.1" y="193.8" font-size="9.2" text-anchor="middle" fill="#000" stroke="#000" stroke-width="0.22">Education</text>
<g class="R" fill="#3d3d3d"><text x="131.62" y="206.3" font-size="10.06" font-style="italic">&#961;</text><text x="151.3" y="206.3" font-size="10.06" text-anchor="middle">0</text><text x="154.95" y="206.3" font-size="10.06" text-anchor="middle">.</text><text x="158.61" y="206.3" font-size="10.06" text-anchor="middle">0</text><text x="163.31" y="206.3" font-size="10.06" text-anchor="middle">5</text><text x="166.97" y="206.3" font-size="10.06" text-anchor="middle">,</text><text x="169.84" y="206.3" font-size="10.06" font-style="italic">p</text><text x="189.52" y="206.3" font-size="10.06" text-anchor="middle">0</text><text x="193.18" y="206.3" font-size="10.06" text-anchor="middle">.</text><text x="196.83" y="206.3" font-size="10.06" text-anchor="middle">0</text><text x="201.53" y="206.3" font-size="10.06" text-anchor="middle">0</text><text x="206.23" y="206.3" font-size="10.06" text-anchor="middle">1</text><path d="M139.39 202.96h6.58M139.39 204.94h6.58" stroke="#3d3d3d" stroke-width="0.58" fill="none"/><path d="M183.82 201.6L177.99 203.95L183.82 206.3" stroke="#3d3d3d" stroke-width="0.58" fill="none"/></g>
<line x1="136" y1="344.7" x2="136" y2="347.9" stroke="#8c8c8c" stroke-width="0.9"/>
<text class="S" x="137.6" y="355.9" font-size="9.7" text-anchor="end" stroke="#1a1a1a" stroke-width="0.22" transform="rotate(-45 137.6 355.9)">Nurse</text>
<line x1="153" y1="344.7" x2="153" y2="347.9" stroke="#8c8c8c" stroke-width="0.9"/>
<line x1="170" y1="344.7" x2="170" y2="347.9" stroke="#8c8c8c" stroke-width="0.9"/>
<text class="S" x="171.6" y="355.9" font-size="9.7" text-anchor="end" stroke="#1a1a1a" stroke-width="0.22" transform="rotate(-45 171.6 355.9)">Bachelor&#8217;s</text>
<line x1="187" y1="344.7" x2="187" y2="347.9" stroke="#8c8c8c" stroke-width="0.9"/>
<line x1="204" y1="344.7" x2="204" y2="347.9" stroke="#8c8c8c" stroke-width="0.9"/>
<text class="S" x="205.6" y="355.9" font-size="9.7" text-anchor="end" stroke="#1a1a1a" stroke-width="0.22" transform="rotate(-45 205.6 355.9)">&gt;Graduate</text>
<line x1="136" y1="292.1" x2="204" y2="289.7" stroke="#b4b6b6" stroke-width="3"/>
<rect x="225.5" y="210.4" width="77.6" height="134.3" fill="none" stroke="#8c8c8c" stroke-width="0.9"/>
<text class="S" x="264.3" y="193.8" font-size="9.2" text-anchor="middle" fill="#000" stroke="#000" stroke-width="0.22">Median income</text>
<g class="R" fill="#3d3d3d"><text x="225.82" y="206.3" font-size="10.06" font-style="italic">&#961;</text><text x="245.5" y="206.3" font-size="10.06" text-anchor="middle">0</text><text x="249.15" y="206.3" font-size="10.06" text-anchor="middle">.</text><text x="252.81" y="206.3" font-size="10.06" text-anchor="middle">0</text><text x="257.51" y="206.3" font-size="10.06" text-anchor="middle">5</text><text x="261.17" y="206.3" font-size="10.06" text-anchor="middle">,</text><text x="264.04" y="206.3" font-size="10.06" font-style="italic">p</text><text x="283.72" y="206.3" font-size="10.06" text-anchor="middle">0</text><text x="287.38" y="206.3" font-size="10.06" text-anchor="middle">.</text><text x="291.03" y="206.3" font-size="10.06" text-anchor="middle">0</text><text x="295.73" y="206.3" font-size="10.06" text-anchor="middle">0</text><text x="300.43" y="206.3" font-size="10.06" text-anchor="middle">1</text><path d="M233.59 202.96h6.58M233.59 204.94h6.58" stroke="#3d3d3d" stroke-width="0.58" fill="none"/><path d="M278.02 201.6L272.19 203.95L278.02 206.3" stroke="#3d3d3d" stroke-width="0.58" fill="none"/></g>
<line x1="229.2" y1="344.7" x2="229.2" y2="347.9" stroke="#8c8c8c" stroke-width="0.9"/>
<text class="S" x="230.8" y="355.9" font-size="9.7" text-anchor="end" stroke="#1a1a1a" stroke-width="0.22" transform="rotate(-45 230.8 355.9)">Quintiles 1</text>
<line x1="246.5" y1="344.7" x2="246.5" y2="347.9" stroke="#8c8c8c" stroke-width="0.9"/>
<text class="S" x="248.1" y="355.9" font-size="9.7" text-anchor="end" stroke="#1a1a1a" stroke-width="0.22" transform="rotate(-45 248.1 355.9)">Quintiles 2</text>
<line x1="263.8" y1="344.7" x2="263.8" y2="347.9" stroke="#8c8c8c" stroke-width="0.9"/>
<text class="S" x="265.4" y="355.9" font-size="9.7" text-anchor="end" stroke="#1a1a1a" stroke-width="0.22" transform="rotate(-45 265.4 355.9)">Quintiles 3</text>
<line x1="281" y1="344.7" x2="281" y2="347.9" stroke="#8c8c8c" stroke-width="0.9"/>
<text class="S" x="282.6" y="355.9" font-size="9.7" text-anchor="end" stroke="#1a1a1a" stroke-width="0.22" transform="rotate(-45 282.6 355.9)">Quintiles 4</text>
<line x1="298.4" y1="344.7" x2="298.4" y2="347.9" stroke="#8c8c8c" stroke-width="0.9"/>
<text class="S" x="300" y="355.9" font-size="9.7" text-anchor="end" stroke="#1a1a1a" stroke-width="0.22" transform="rotate(-45 300 355.9)">Quintiles 5</text>
<line x1="229.2" y1="292.5" x2="298.5" y2="290.4" stroke="#b4b6b6" stroke-width="3"/>
<rect x="319.7" y="210.4" width="77.6" height="134.3" fill="none" stroke="#8c8c8c" stroke-width="0.9"/>
<text class="S" x="358.5" y="193.8" font-size="9.2" text-anchor="middle" fill="#000" stroke="#000" stroke-width="0.22">Energy intake</text>
<g class="R" fill="#3d3d3d"><text x="320.02" y="206.3" font-size="10.06" font-style="italic">&#961;</text><text x="339.7" y="206.3" font-size="10.06" text-anchor="middle">0</text><text x="343.35" y="206.3" font-size="10.06" text-anchor="middle">.</text><text x="347.01" y="206.3" font-size="10.06" text-anchor="middle">2</text><text x="351.71" y="206.3" font-size="10.06" text-anchor="middle">6</text><text x="355.37" y="206.3" font-size="10.06" text-anchor="middle">,</text><text x="358.24" y="206.3" font-size="10.06" font-style="italic">p</text><text x="377.92" y="206.3" font-size="10.06" text-anchor="middle">0</text><text x="381.58" y="206.3" font-size="10.06" text-anchor="middle">.</text><text x="385.23" y="206.3" font-size="10.06" text-anchor="middle">0</text><text x="389.93" y="206.3" font-size="10.06" text-anchor="middle">0</text><text x="394.63" y="206.3" font-size="10.06" text-anchor="middle">1</text><path d="M327.79 202.96h6.58M327.79 204.94h6.58" stroke="#3d3d3d" stroke-width="0.58" fill="none"/><path d="M372.22 201.6L366.39 203.95L372.22 206.3" stroke="#3d3d3d" stroke-width="0.58" fill="none"/></g>
<line x1="323.2" y1="344.7" x2="323.2" y2="347.9" stroke="#8c8c8c" stroke-width="0.9"/>
<text class="S" x="324.8" y="355.9" font-size="9.7" text-anchor="end" stroke="#1a1a1a" stroke-width="0.22" transform="rotate(-45 324.8 355.9)">Quintiles 1</text>
<line x1="340.5" y1="344.7" x2="340.5" y2="347.9" stroke="#8c8c8c" stroke-width="0.9"/>
<text class="S" x="342.1" y="355.9" font-size="9.7" text-anchor="end" stroke="#1a1a1a" stroke-width="0.22" transform="rotate(-45 342.1 355.9)">Quintiles 2</text>
<line x1="357.8" y1="344.7" x2="357.8" y2="347.9" stroke="#8c8c8c" stroke-width="0.9"/>
<text class="S" x="359.4" y="355.9" font-size="9.7" text-anchor="end" stroke="#1a1a1a" stroke-width="0.22" transform="rotate(-45 359.4 355.9)">Quintiles 3</text>
<line x1="375.1" y1="344.7" x2="375.1" y2="347.9" stroke="#8c8c8c" stroke-width="0.9"/>
<text class="S" x="376.7" y="355.9" font-size="9.7" text-anchor="end" stroke="#1a1a1a" stroke-width="0.22" transform="rotate(-45 376.7 355.9)">Quintiles 4</text>
<line x1="392.4" y1="344.7" x2="392.4" y2="347.9" stroke="#8c8c8c" stroke-width="0.9"/>
<text class="S" x="394" y="355.9" font-size="9.7" text-anchor="end" stroke="#1a1a1a" stroke-width="0.22" transform="rotate(-45 394 355.9)">Quintiles 5</text>
<line x1="323.2" y1="296" x2="392.5" y2="286.2" stroke="#b4b6b6" stroke-width="3"/>
<rect x="413.9" y="210.4" width="77.6" height="134.3" fill="none" stroke="#8c8c8c" stroke-width="0.9"/>
<text class="S" x="452.7" y="193.8" font-size="9.2" text-anchor="middle" fill="#000" stroke="#000" stroke-width="0.22">Aspirin use</text>
<g class="R" fill="#3d3d3d"><text x="422.57" y="206.3" font-size="10.06" font-style="italic">&#961;</text><text x="442.25" y="206.3" font-size="10.06" text-anchor="middle">0</text><text x="445.91" y="206.3" font-size="10.06" text-anchor="middle">,</text><text x="448.78" y="206.3" font-size="10.06" font-style="italic">p</text><text x="468.46" y="206.3" font-size="10.06" text-anchor="middle">0</text><text x="472.12" y="206.3" font-size="10.06" text-anchor="middle">.</text><text x="475.78" y="206.3" font-size="10.06" text-anchor="middle">9</text><text x="480.48" y="206.3" font-size="10.06" text-anchor="middle">9</text><path d="M430.35 202.96h6.58M430.35 204.94h6.58" stroke="#3d3d3d" stroke-width="0.58" fill="none"/><path d="M456.56 202.96h6.58M456.56 204.94h6.58" stroke="#3d3d3d" stroke-width="0.58" fill="none"/></g>
<line x1="417.5" y1="344.7" x2="417.5" y2="347.9" stroke="#8c8c8c" stroke-width="0.9"/>
<text class="S" x="421.7" y="355.9" font-size="9.7" text-anchor="end" stroke="#1a1a1a" stroke-width="0.22" transform="rotate(-45 421.7 355.9)">1</text>
<line x1="434.9" y1="344.7" x2="434.9" y2="347.9" stroke="#8c8c8c" stroke-width="0.9"/>
<line x1="452.3" y1="344.7" x2="452.3" y2="347.9" stroke="#8c8c8c" stroke-width="0.9"/>
<text class="S" x="458.9" y="355.9" font-size="9.7" text-anchor="end" stroke="#1a1a1a" stroke-width="0.22" transform="rotate(-45 458.9 355.9)">1-2</text>
<line x1="469.7" y1="344.7" x2="469.7" y2="347.9" stroke="#8c8c8c" stroke-width="0.9"/>
<line x1="487.1" y1="344.7" x2="487.1" y2="347.9" stroke="#8c8c8c" stroke-width="0.9"/>
<text class="S" x="492.7" y="355.9" font-size="9.7" text-anchor="end" stroke="#1a1a1a" stroke-width="0.22" transform="rotate(-45 492.7 355.9)">&gt;2</text>
<line x1="417.6" y1="291" x2="487.6" y2="291" stroke="#b4b6b6" stroke-width="3"/>
<rect x="508.1" y="210.4" width="77.6" height="134.3" fill="none" stroke="#8c8c8c" stroke-width="0.9"/>
<text class="S" x="546.9" y="193.8" font-size="9.2" text-anchor="middle" fill="#000" stroke="#000" stroke-width="0.22">Years of smoking</text>
<g class="R" fill="#3d3d3d"><text x="507.11" y="206.3" font-size="10.06" font-style="italic">&#961;</text><text x="534.1" y="206.3" font-size="10.06" text-anchor="middle">0</text><text x="537.76" y="206.3" font-size="10.06" text-anchor="middle">.</text><text x="541.42" y="206.3" font-size="10.06" text-anchor="middle">0</text><text x="546.12" y="206.3" font-size="10.06" text-anchor="middle">1</text><text x="549.77" y="206.3" font-size="10.06" text-anchor="middle">,</text><text x="552.65" y="206.3" font-size="10.06" font-style="italic">p</text><text x="572.33" y="206.3" font-size="10.06" text-anchor="middle">0</text><text x="575.98" y="206.3" font-size="10.06" text-anchor="middle">.</text><text x="579.64" y="206.3" font-size="10.06" text-anchor="middle">3</text><text x="584.34" y="206.3" font-size="10.06" text-anchor="middle">7</text><path d="M514.88 202.96h6.58M514.88 204.94h6.58" stroke="#3d3d3d" stroke-width="0.58" fill="none"/><path d="M524.81 203.95h6.58" stroke="#3d3d3d" stroke-width="0.58" fill="none"/><path d="M560.42 202.96h6.58M560.42 204.94h6.58" stroke="#3d3d3d" stroke-width="0.58" fill="none"/></g>
<line x1="511.6" y1="344.7" x2="511.6" y2="347.9" stroke="#8c8c8c" stroke-width="0.9"/>
<text class="S" x="513.2" y="355.9" font-size="9.7" text-anchor="end" stroke="#1a1a1a" stroke-width="0.22" transform="rotate(-45 513.2 355.9)">Quintiles 1</text>
<line x1="535" y1="344.7" x2="535" y2="347.9" stroke="#8c8c8c" stroke-width="0.9"/>
<text class="S" x="536.6" y="355.9" font-size="9.7" text-anchor="end" stroke="#1a1a1a" stroke-width="0.22" transform="rotate(-45 536.6 355.9)">Quintiles 2</text>
<line x1="558.3" y1="344.7" x2="558.3" y2="347.9" stroke="#8c8c8c" stroke-width="0.9"/>
<text class="S" x="559.9" y="355.9" font-size="9.7" text-anchor="end" stroke="#1a1a1a" stroke-width="0.22" transform="rotate(-45 559.9 355.9)">Quintiles 3</text>
<line x1="581.6" y1="344.7" x2="581.6" y2="347.9" stroke="#8c8c8c" stroke-width="0.9"/>
<text class="S" x="583.2" y="355.9" font-size="9.7" text-anchor="end" stroke="#1a1a1a" stroke-width="0.22" transform="rotate(-45 583.2 355.9)">Quintiles 4</text>
<line x1="511.8" y1="291" x2="581.6" y2="291.8" stroke="#b4b6b6" stroke-width="3"/>
<rect x="602.3" y="210.4" width="77.6" height="134.3" fill="none" stroke="#8c8c8c" stroke-width="0.9"/>
<text class="S" x="641.1" y="193.8" font-size="9.2" text-anchor="middle" fill="#000" stroke="#000" stroke-width="0.22">Physical activity</text>
<g class="R" fill="#3d3d3d"><text x="604.97" y="206.3" font-size="10.06" font-style="italic">&#961;</text><text x="624.65" y="206.3" font-size="10.06" text-anchor="middle">0</text><text x="628.3" y="206.3" font-size="10.06" text-anchor="middle">.</text><text x="631.96" y="206.3" font-size="10.06" text-anchor="middle">0</text><text x="636.66" y="206.3" font-size="10.06" text-anchor="middle">1</text><text x="640.32" y="206.3" font-size="10.06" text-anchor="middle">,</text><text x="643.19" y="206.3" font-size="10.06" font-style="italic">p</text><text x="662.87" y="206.3" font-size="10.06" text-anchor="middle">0</text><text x="666.53" y="206.3" font-size="10.06" text-anchor="middle">.</text><text x="670.18" y="206.3" font-size="10.06" text-anchor="middle">3</text><text x="674.88" y="206.3" font-size="10.06" text-anchor="middle">9</text><path d="M612.74 202.96h6.58M612.74 204.94h6.58" stroke="#3d3d3d" stroke-width="0.58" fill="none"/><path d="M650.96 202.96h6.58M650.96 204.94h6.58" stroke="#3d3d3d" stroke-width="0.58" fill="none"/></g>
<line x1="606.3" y1="344.7" x2="606.3" y2="347.9" stroke="#8c8c8c" stroke-width="0.9"/>
<text class="S" x="607.9" y="355.9" font-size="9.7" text-anchor="end" stroke="#1a1a1a" stroke-width="0.22" transform="rotate(-45 607.9 355.9)">Quintiles 1</text>
<line x1="620.2" y1="344.7" x2="620.2" y2="347.9" stroke="#8c8c8c" stroke-width="0.9"/>
<text class="S" x="621.8" y="355.9" font-size="9.7" text-anchor="end" stroke="#1a1a1a" stroke-width="0.22" transform="rotate(-45 621.8 355.9)">Quintiles 2</text>
<line x1="634" y1="344.7" x2="634" y2="347.9" stroke="#8c8c8c" stroke-width="0.9"/>
<text class="S" x="635.6" y="355.9" font-size="9.7" text-anchor="end" stroke="#1a1a1a" stroke-width="0.22" transform="rotate(-45 635.6 355.9)">Quintiles 3</text>
<line x1="647.9" y1="344.7" x2="647.9" y2="347.9" stroke="#8c8c8c" stroke-width="0.9"/>
<text class="S" x="649.5" y="355.9" font-size="9.7" text-anchor="end" stroke="#1a1a1a" stroke-width="0.22" transform="rotate(-45 649.5 355.9)">Quintiles 4</text>
<line x1="661.7" y1="344.7" x2="661.7" y2="347.9" stroke="#8c8c8c" stroke-width="0.9"/>
<text class="S" x="663.3" y="355.9" font-size="9.7" text-anchor="end" stroke="#1a1a1a" stroke-width="0.22" transform="rotate(-45 663.3 355.9)">Quintiles 5</text>
<line x1="675.6" y1="344.7" x2="675.6" y2="347.9" stroke="#8c8c8c" stroke-width="0.9"/>
<text class="S" x="677.2" y="355.9" font-size="9.7" text-anchor="end" stroke="#1a1a1a" stroke-width="0.22" transform="rotate(-45 677.2 355.9)">Quintiles 6</text>
<line x1="606.3" y1="291" x2="675.6" y2="291" stroke="#b4b6b6" stroke-width="3"/>
<line x1="33.9" y1="307.5" x2="37.1" y2="307.5" stroke="#8c8c8c" stroke-width="0.9"/>
<text class="S" x="32.5" y="310.8" font-size="9.2" text-anchor="end" stroke="#1a1a1a" stroke-width="0.22">0.2</text>
<line x1="33.9" y1="268.45" x2="37.1" y2="268.45" stroke="#8c8c8c" stroke-width="0.9"/>
<text class="S" x="32.5" y="271.75" font-size="9.2" text-anchor="end" stroke="#1a1a1a" stroke-width="0.22">0.4</text>
<line x1="33.9" y1="229.4" x2="37.1" y2="229.4" stroke="#8c8c8c" stroke-width="0.9"/>
<text class="S" x="32.5" y="232.7" font-size="9.2" text-anchor="end" stroke="#1a1a1a" stroke-width="0.22">0.6</text>
<text class="S" x="14.8" y="277.55" font-size="9.2" text-anchor="middle" stroke="#1a1a1a" stroke-width="0.22" transform="rotate(-90 14.8 277.55)">NR</text>
<text class="S" x="5" y="204.5" font-size="12.5" font-weight="bold" fill="#000" stroke="#000" stroke-width="0.22">b</text>
<line x1="37.7" y1="421.2" x2="37.7" y2="638.95" stroke="#333333" stroke-width="1.1"/>
<line x1="37.15" y1="638.4" x2="332.3" y2="638.4" stroke="#333333" stroke-width="1.1"/>
<line x1="34.5" y1="625.28" x2="37.7" y2="625.28" stroke="#333333" stroke-width="1"/>
<text class="S" x="32.9" y="628.58" font-size="9.2" text-anchor="end" stroke="#1a1a1a" stroke-width="0.22">0.26</text>
<line x1="34.5" y1="575.56" x2="37.7" y2="575.56" stroke="#333333" stroke-width="1"/>
<text class="S" x="32.9" y="578.86" font-size="9.2" text-anchor="end" stroke="#1a1a1a" stroke-width="0.22">0.28</text>
<line x1="34.5" y1="525.84" x2="37.7" y2="525.84" stroke="#333333" stroke-width="1"/>
<text class="S" x="32.9" y="529.14" font-size="9.2" text-anchor="end" stroke="#1a1a1a" stroke-width="0.22">0.30</text>
<line x1="34.5" y1="476.12" x2="37.7" y2="476.12" stroke="#333333" stroke-width="1"/>
<text class="S" x="32.9" y="479.42" font-size="9.2" text-anchor="end" stroke="#1a1a1a" stroke-width="0.22">0.32</text>
<line x1="34.5" y1="426.4" x2="37.7" y2="426.4" stroke="#333333" stroke-width="1"/>
<text class="S" x="32.9" y="429.7" font-size="9.2" text-anchor="end" stroke="#1a1a1a" stroke-width="0.22">0.34</text>
<line x1="71.8" y1="638.4" x2="71.8" y2="641.4" stroke="#333333" stroke-width="1"/>
<text class="S" x="71.8" y="650.3" font-size="9.2" text-anchor="middle" stroke="#1a1a1a" stroke-width="0.22">NR</text>
<line x1="128.4" y1="638.4" x2="128.4" y2="641.4" stroke="#333333" stroke-width="1"/>
<text class="S" x="128.4" y="650.3" font-size="9.2" text-anchor="middle" stroke="#1a1a1a" stroke-width="0.22">AMED</text>
<line x1="185" y1="638.4" x2="185" y2="641.4" stroke="#333333" stroke-width="1"/>
<text class="S" x="185" y="650.3" font-size="9.2" text-anchor="middle" stroke="#1a1a1a" stroke-width="0.22">AHEI</text>
<line x1="241.6" y1="638.4" x2="241.6" y2="641.4" stroke="#333333" stroke-width="1"/>
<text class="S" x="241.6" y="650.3" font-size="9.2" text-anchor="middle" stroke="#1a1a1a" stroke-width="0.22">DASH</text>
<line x1="298.2" y1="638.4" x2="298.2" y2="641.4" stroke="#333333" stroke-width="1"/>
<text class="S" x="298.2" y="650.3" font-size="9.2" text-anchor="middle" stroke="#1a1a1a" stroke-width="0.22">HEI</text>
<text class="S" x="5.3" y="413.8" font-size="12.5" font-weight="bold" fill="#000" stroke="#000" stroke-width="0.22">c</text>
<text class="S" x="6.6" y="530.5" font-size="9.2" text-anchor="middle" stroke="#1a1a1a" stroke-width="0.22" transform="rotate(-90 6.6 530.5)">Error rate</text>
<g stroke="#E8746A" stroke-width="0.9" stroke-opacity="0.8"><line x1="71.8" y1="491.3" x2="71.8" y2="449"/><line x1="71.8" y1="529.1" x2="71.8" y2="581.9"/><rect x="52" y="491.3" width="39.6" height="37.8" fill="none"/><line x1="52" y1="510.9" x2="91.6" y2="510.9" stroke-width="1.6"/></g>
<path d="M73.83 526.11h0M69.09 511.03h0M60.12 503.52h0M59.09 530.88h0M74.3 506.75h0M80.19 484.73h0M68.46 474.39h0M81.8 523.08h0M58.36 499.93h0M60.63 525.81h0M78.76 468.69h0M76.02 495.78h0M59.52 530.61h0M70.24 495.59h0M74.34 522.19h0M62.78 518.37h0M80.48 493.17h0M77.58 540.85h0M82.31 494.79h0M62.02 559.66h0M84.61 545.43h0M66.87 499.26h0M77.08 449h0M74.34 515.9h0M64.11 495.03h0M71.2 511.99h0M64.41 503.82h0M59.42 510.85h0M76.21 525.38h0M70.08 537.63h0M68.72 532.32h0M63.66 491.63h0M74.96 557.83h0M62.6 534.91h0M77.38 466.98h0M62.92 549.36h0M67.07 520.21h0M83.39 528.25h0M83.61 517.05h0M68.13 508.29h0M69.43 491.25h0M68.8 480.17h0M58.61 507.16h0M65.88 477.87h0M69.53 505.54h0M83.02 524.35h0M69.07 515.41h0M63.27 500.81h0M77.8 487.98h0M58.61 547.88h0M74.87 472.05h0M67.26 516.58h0M68.87 514.5h0M59.74 533.35h0M69.25 537.21h0M68.54 481.28h0M74.46 504.05h0M72.12 550.81h0M63.9 541.62h0M77.6 473.72h0M61.11 480.63h0M68.08 534.66h0M66.56 482.95h0M76.08 507.61h0M78.44 494.04h0M68.76 498.87h0M65.01 488.48h0M69.47 555.15h0M69.6 542.17h0M61.73 515.31h0M78.85 489.77h0M83.07 492.74h0M76.87 490.84h0M80.66 486.55h0M68.16 528.92h0M70.5 530.33h0M82.5 465.6h0M61.47 523.86h0M67.4 502.16h0M66.29 475.2h0M68.42 502.57h0M77.76 520.55h0M62.7 507.56h0M84.43 522.76h0M70.89 509.16h0M81.92 529.86h0M79.35 463.59h0M58.87 484.78h0M66.18 520.87h0M84.43 518.49h0M68.69 499.34h0M68.17 501.11h0M63.24 521.01h0M71.86 519.25h0M72.31 513.66h0M58.72 491.84h0M69.03 511.53h0M64.94 509.88h0M72.62 506.49h0M58.78 504.84h0M60.76 573.83h0M70.07 508.58h0M77.68 509.06h0M65.72 486.12h0M69.67 462.08h0M71.49 516.72h0M84.6 483.67h0M59.62 488.73h0M70.42 518.97h0M59.14 485.78h0M72.16 490.22h0M64.23 532.82h0M74.1 482.18h0M62.61 517.65h0M66.62 481.7h0M69.87 563.81h0M71.78 553.34h0M68.38 521.66h0M82.14 475.79h0M70.71 546.44h0M61.75 503.11h0M62.45 526.51h0M66.07 539.55h0M61.76 492.52h0M84.51 536.01h0M82.27 501.39h0M64.6 606.5h0M58.98 479.88h0M70.58 567.05h0M82.34 457.21h0M73.91 500.35h0M83.76 493.64h0M78.21 536.28h0M76.74 487.78h0M74.05 514.21h0M79.69 472.67h0M82.91 513.09h0M59.09 509.48h0M82.26 528.4h0M69.24 487.22h0M82.86 478.72h0M75.15 497.34h0M83 529.11h0M59.17 514.95h0M59.04 504.63h0M65.61 477.47h0M72.77 543.7h0M79.87 510.37h0M85.06 543.85h0M73.26 497.72h0M81.71 538.8h0M79.89 512.36h0M64.98 485.49h0M79.53 505.34h0M66.25 486.99h0M65.2 538.94h0M76.48 521.71h0M78.54 497.01h0M82.67 523.25h0M59.67 498.28h0M61.54 542.78h0M61.92 552.03h0M62.84 516.2h0M81.3 559.93h0M72.92 540.46h0M70.14 490.48h0M82.6 513.36h0M73.52 501.89h0M63.13 470.95h0M68.16 526.8h0M59.49 544.88h0M64.05 483.46h0M76.64 476.97h0M60.21 489.44h0M63.18 470.42h0M67.88 496.15h0M60.23 533.72h0M81.58 550.19h0M69.28 527.84h0M71.45 517.98h0M78.26 531.83h0M75.02 568.57h0M74.77 531.21h0M60.45 535.65h0M80.15 525.05h0M84.15 496.86h0M78.44 527.1h0M81.68 505.82h0M60.12 547.13h0M72.01 533.87h0M78.99 538.06h0M61.6 484.21h0M72.56 554.27h0M76.61 489.22h0M68.32 581.9h0M64.35 479.13h0M76.97 519.76h0M70.4 524.11h0M83.58 512.71h0M72.44 511.6h0M61.9 458.07h0" stroke="#E8746A" stroke-width="4.3" stroke-linecap="round" fill="none"/>
<g stroke="#377EB8" stroke-width="0.9" stroke-opacity="0.8"><line x1="128.4" y1="488.2" x2="128.4" y2="430.4"/><line x1="128.4" y1="527.5" x2="128.4" y2="579.7"/><rect x="108.6" y="488.2" width="39.6" height="39.3" fill="none"/><line x1="108.6" y1="505.4" x2="148.2" y2="505.4" stroke-width="1.6"/></g>
<path d="M136.2 433.2h0M117.69 485.4h0M139.28 549.53h0M132.89 503.14h0M120.04 455.31h0M116.45 493.44h0M138.05 555.93h0M134.04 514.05h0M141.63 515.46h0M138.84 499.2h0M121.96 483.41h0M138.29 533.68h0M123.07 512.99h0M129.45 512.73h0M123.86 579.7h0M121.31 459.1h0M134.37 520.08h0M117.62 498.92h0M140.41 483.01h0M131.73 511.24h0M138.18 494h0M122.68 458.8h0M123.77 464h0M125.44 486.51h0M118.3 537.49h0M141.78 551.91h0M132.17 467.71h0M129.98 527.05h0M138 480.53h0M139.94 484.96h0M122.2 531.53h0M118.61 486.68h0M118.34 496.89h0M129.01 448.28h0M139.15 547.27h0M121.92 491.55h0M140.93 486.01h0M135.06 519.69h0M138.01 479.07h0M115.91 469.7h0M135.67 475.29h0M127.83 561.32h0M135.93 489.76h0M137.24 516.77h0M128.25 535.16h0M122.87 540.79h0M117.78 489.72h0M125.53 511.99h0M132.4 490.6h0M133.43 550.14h0M126.04 520.88h0M131.2 501h0M141.04 528.1h0M139.14 499.84h0M124.35 542.3h0M135.75 537.79h0M126.36 532.56h0M131.8 487.26h0M139.47 509.44h0M125.36 490.35h0M127.99 521.45h0M135.09 525.03h0M127.99 492.33h0M125.76 504.07h0M114.95 506.76h0M124.26 537.04h0M120.94 534.48h0M136.37 463.17h0M141.02 506.03h0M118.75 506.27h0M119.51 530.76h0M139.23 538.91h0M121.91 568.19h0M138.82 546.35h0M118.8 468.76h0M140.23 564.54h0M122.55 541.43h0M139.64 531.89h0M118.04 438h0M140.95 488.41h0M126.56 504.51h0M116.15 516.18h0M132.16 476.01h0M136.62 518.96h0M137.17 528.43h0M124.48 493.79h0M123.22 489.26h0M126.13 501.3h0M139.33 505.13h0M127.2 465.63h0M135.49 487.89h0M137.89 498.29h0M121.62 508.63h0M118.17 476.93h0M120.05 477.72h0M136.25 517.26h0M120.67 494.71h0M116.14 508.07h0M124.56 502.6h0M130.12 497.87h0M135.19 505.48h0M127.58 503.48h0M128.83 496.01h0M116.42 487.64h0M136.23 523.67h0M139.01 509.75h0M136.58 548.37h0M136.15 536.19h0M135.2 482.66h0M129.56 530.06h0M140.06 474.68h0M134.89 533.56h0M133.45 473.08h0M139.91 491.87h0M121.3 522.17h0M131.63 538.49h0M117.81 479.62h0M122.18 478.79h0M136.05 494.23h0M116.8 526.38h0M123.12 497.59h0M138.9 510.1h0M130.67 504.35h0M128.2 476.46h0M120.66 484.47h0M138.72 540.06h0M122.44 496.28h0M115.87 543.37h0M115.51 552.09h0M139.85 502.22h0M130.87 478.21h0M122.9 601.9h0M125.91 500.74h0M133.33 518.43h0M138.46 494.93h0M117.65 481.88h0M141.31 500.42h0M130.9 508.72h0M117.19 514.96h0M139.11 553.32h0M136.49 482.17h0M133.28 526.86h0M138.44 556.66h0M137.63 498.24h0M123.65 504.91h0M129.57 510.44h0M120.58 469.36h0M138.99 471.71h0M128.99 495.77h0M118.55 527.69h0M133.67 447.35h0M128.93 473.52h0M116.36 529.24h0M134.21 510.89h0M141.77 517.86h0M115.24 531.13h0M127.87 524.12h0M133.26 544.07h0M138.66 525.52h0M127.6 495.56h0M130.56 507.82h0M128.36 513.67h0M116.97 532.65h0M118.6 528.88h0M127.18 535.73h0M122.3 485.59h0M122.74 460.94h0M140.14 520.45h0M125.44 497.27h0M118.34 544.32h0M122.84 480.43h0M119.3 512.15h0M133.29 524.77h0M124.2 499.35h0M135.54 515.12h0M123.33 472.46h0M128.85 507.41h0M134.6 492.67h0M119.19 466.89h0M137.34 516.3h0M115.75 503.74h0M117.65 529.58h0M134 430.4h0M137.17 523.09h0M136.66 540.17h0M124.2 470.86h0M124.67 481.23h0M126.65 559.35h0M120.27 569.3h0M123.04 500.02h0M137.04 492.82h0M141.45 521.89h0M132.37 545.49h0M115.68 501.64h0M130.79 484.15h0M132.61 453.05h0M134.52 491.17h0M128.24 488.63h0M134.37 514.47h0M140.08 502.17h0M137.44 518.56h0M122.61 523.03h0M136.09 534.94h0" stroke="#377EB8" stroke-width="4.3" stroke-linecap="round" fill="none"/>
<g stroke="#F0992C" stroke-width="0.9" stroke-opacity="0.8"><line x1="185" y1="495.2" x2="185" y2="445.4"/><line x1="185" y1="532.2" x2="185" y2="576.48"/><rect x="165.2" y="495.2" width="39.6" height="37" fill="none"/><line x1="165.2" y1="511.8" x2="204.8" y2="511.8" stroke-width="1.6"/></g>
<path d="M175.23 517.33h0M172.4 497.66h0M192.43 512h0M180.74 501.63h0M194.73 533.82h0M173.04 498.35h0M185.58 542.47h0M182.85 509.13h0M179.02 505.18h0M190.6 539.68h0M192.23 531.1h0M197.33 501.05h0M182.13 489.67h0M183.71 531.33h0M192.88 470.93h0M177.35 479.34h0M185.55 538.76h0M192.31 479.97h0M195.69 491.76h0M181.95 549.24h0M180.04 474.72h0M190.15 510.13h0M177.44 541.62h0M172.24 510.32h0M176.37 494.02h0M183.26 522.06h0M173.97 519.93h0M192.37 496.6h0M198.31 558.01h0M184.67 497.07h0M189.07 483.66h0M179.6 485.26h0M179.73 525.15h0M193.59 522.48h0M191.28 499.67h0M186.07 544.87h0M176.69 479.09h0M184.63 529.37h0M178.67 540.93h0M195.23 507.04h0M193.13 565.39h0M185.43 532.24h0M176.97 538.09h0M178.07 488.98h0M174.73 520.9h0M176.98 539.14h0M176.66 478.45h0M194.84 502.17h0M196.9 484.57h0M172.09 533.39h0M188.84 481.64h0M195.65 527.07h0M186.02 552.1h0M184.42 508.85h0M184.07 512.36h0M184.57 548.4h0M178.11 463.03h0M191.94 525.56h0M173.62 486.05h0M188.65 494.39h0M183.31 538.31h0M172.75 553.92h0M197.51 523.96h0M191.57 559.67h0M190.27 510.82h0M184.81 543.83h0M175.04 532.73h0M186.42 513.03h0M178.97 490.75h0M186.86 543.15h0M185.27 519.83h0M173.95 530.68h0M175 511.26h0M187.49 558.6h0M198.48 515.32h0M177.43 537.36h0M188.64 492.94h0M183.23 521.72h0M192.67 500.88h0M179.6 494.46h0M173.93 469.63h0M178.36 506.4h0M177.51 477.45h0M188.44 514.2h0M174.74 570.32h0M174.44 520.32h0M193.44 502.45h0M178.8 576.48h0M178.13 482.19h0M174.99 526.36h0M175.59 485.76h0M191.94 481.06h0M172.82 530.11h0M182.08 517.6h0M179.16 502.78h0M189.49 527.49h0M174.19 508.62h0M178 537.11h0M191.59 536.02h0M179.13 456.37h0M188.66 511.68h0M184.59 490h0M184.98 545.82h0M172.19 492.46h0M182.05 526.4h0M178.59 549.72h0M181.96 467.05h0M172.56 499.27h0M182.87 507.78h0M184.16 498.13h0M184.17 450.02h0M197.19 504.07h0M174.71 555.48h0M193.58 516.94h0M185.79 517.92h0M188.77 552.36h0M187.46 513.59h0M185.51 534.92h0M197.01 468.92h0M186.65 534.38h0M190.79 524.86h0M181.2 518.94h0M171.62 504.52h0M197.5 503.84h0M194.92 535.74h0M180.59 535.42h0M175.76 547.96h0M198.49 540.86h0M177.19 519.25h0M186.75 516.23h0M173.7 503.32h0M183.69 495.47h0M183.09 492.4h0M178.11 550.87h0M175.61 528.36h0M190.46 500.6h0M193.13 524.62h0M176.28 464.88h0M190.3 533.03h0M195.21 505.59h0M181.88 509.33h0M178.42 491.33h0M174.73 490.95h0M173 460.57h0M176.37 542.45h0M197.73 472.21h0M178.59 523.33h0M196.96 503.16h0M198.44 487.36h0M176.31 501.65h0M198.08 497.35h0M181.96 544.15h0M174.72 514.94h0M196.26 493.6h0M191.44 536.8h0M191.12 534.63h0M193.87 554.24h0M173.89 546.31h0M182.6 528.74h0M185.04 540.31h0M185.61 475.82h0M177.21 511.06h0M180.04 563.32h0M174.35 445.4h0M185.92 509.77h0M194.88 516.4h0M179.29 566.73h0M184.06 488.48h0M193.79 504.75h0M183.98 505.41h0M185.08 528.11h0M171.77 512.76h0M182.44 482.82h0M178.49 513.76h0M195.89 506.04h0M174.83 495.75h0M181.97 522.78h0M173.23 483.86h0M178.23 498.78h0M182.1 531.77h0M195.3 514.67h0M190.31 506.73h0M185.8 495.98h0M189.4 507.55h0M196.82 529.6h0M178.63 498.96h0M188.22 473.37h0M179.29 515.69h0M171.7 495.15h0M174.31 507.21h0M194.15 521.43h0M177.83 500.22h0M190.36 487.94h0M177.32 476.47h0M188.62 486.7h0M184.82 518.53h0M196.54 508.17h0M176.11 523.81h0M183.4 546.77h0M184.58 488.18h0M192.8 628.5h0" stroke="#F0992C" stroke-width="4.3" stroke-linecap="round" fill="none"/>
<g stroke="#AEAED2" stroke-width="0.9" stroke-opacity="0.8"><line x1="241.6" y1="497.1" x2="241.6" y2="448.8"/><line x1="241.6" y1="529.6" x2="241.6" y2="564.06"/><rect x="221.8" y="497.1" width="39.6" height="32.5" fill="none"/><line x1="221.8" y1="510.7" x2="261.4" y2="510.7" stroke-width="1.6"/></g>
<path d="M234.71 517.36h0M244.68 462.8h0M254.47 516.54h0M243.13 523.86h0M249.32 518.73h0M234.97 533.58h0M249.34 505.37h0M242.41 452.97h0M232.61 506.45h0M251.89 503.73h0M253.64 515.02h0M248.37 531.38h0M228.77 501.72h0M245.26 478.91h0M242.26 490.74h0M246.23 537.94h0M237.82 509.92h0M233.03 519.38h0M228.17 543.83h0M251.57 528.72h0M246.48 556.55h0M245.69 512.4h0M236.77 472.95h0M242.28 506.1h0M240.69 537.47h0M240.58 522.01h0M243.17 523.76h0M230.21 515.75h0M235 520.75h0M245.05 527.13h0M246.93 519.64h0M249.37 541.48h0M250.98 510.68h0M238.2 529.61h0M248 616.6h0M244.64 498.24h0M239.04 498.81h0M241.31 535.61h0M249.3 554.05h0M234.71 492.01h0M247.82 508.37h0M230.9 581.7h0M229.44 499.82h0M244.24 510.13h0M250.62 496.87h0M240.24 522.96h0M234.89 534.87h0M243.17 534.05h0M234.81 522.34h0M239.34 520.78h0M250.18 546.01h0M243.47 489.93h0M233.3 500.24h0M245.78 511.88h0M229.73 514.22h0M245.27 520.32h0M233.08 499.94h0M235.18 497.3h0M234.41 492.63h0M243.44 540.78h0M230.46 501.96h0M239.68 468.73h0M248.62 483.7h0M241.94 483.12h0M253.1 543.4h0M228.54 524.77h0M240.24 530.55h0M248.69 466.64h0M246.49 513.04h0M249.01 448.8h0M236.35 478.38h0M247.24 521.48h0M249.21 493.19h0M242.86 491.34h0M236 583.5h0M255.03 504.45h0M252.89 502.63h0M254.37 508.06h0M235.03 500.91h0M246.35 505.21h0M250.39 475.45h0M244.95 561.05h0M247.78 533.45h0M252.44 530.95h0M246.66 503.4h0M244.71 514.44h0M242.33 538.09h0M251.65 461.95h0M250.44 486.45h0M240.71 501.4h0M245.51 508.79h0M233.69 516.97h0M237.69 470.6h0M232.92 507.76h0M233.81 487.23h0M253.39 502.95h0M242.47 485.08h0M252.64 479.88h0M240.44 496.28h0M250.53 474.24h0M234.37 507.01h0M248.05 480.9h0M247.59 513.74h0M228.19 487.87h0M230.04 532.48h0M248.56 532.17h0M243.9 539.03h0M255.06 536.32h0M242.29 507.63h0M237.66 497.76h0M228.73 538.64h0M248.96 526.71h0M228.48 548.01h0M243.44 523.08h0M239.23 528.99h0M245.01 504.19h0M254.23 488.3h0M241.15 508.57h0M251.92 488.77h0M231.14 506.12h0M245.83 507.15h0M228.87 525.83h0M251 534.6h0M244.32 493.61h0M232.24 515.36h0M240.31 510.97h0M236.72 470.91h0M249.65 527.85h0M253.46 509.27h0M239.22 542.28h0M246.16 545.75h0M251.4 518h0M230.56 540.02h0M229.42 535.31h0M252.33 494.76h0M238.84 505.67h0M252.8 519.06h0M237.58 482.65h0M231.16 532.62h0M239.33 564.06h0M236.94 503.8h0M245.37 531.87h0M243.73 498.53h0M228.5 489.59h0M233.08 536.66h0M242.01 490.23h0M231.38 525.22h0M248.94 530.26h0M236.09 493.23h0M237.91 509.44h0M249.91 544.58h0M247.83 511.39h0M240.51 486.58h0M247.4 517.78h0M245.98 509.15h0M242.61 513.24h0M241.39 476.97h0M230.31 476.28h0M253.14 511.58h0M231.7 500.47h0M250.37 496.4h0M238.04 491.56h0M245.44 546.99h0M248.02 534.2h0M251.83 551.36h0M247.46 549.83h0M238.44 481.74h0M238.69 502.35h0M232.1 499.52h0M237.12 497.54h0M241.24 526.54h0M252.72 539.34h0M238.04 542.71h0M244.55 501h0M238.83 504.6h0M236.33 495.51h0M243.21 528.21h0M250.23 532.91h0M236.28 502.88h0M233.11 531.13h0M237.96 529.24h0M230.77 548.77h0M251.44 516.22h0M234.69 552.7h0M239.98 540.61h0M250.97 524.21h0M239.25 480.31h0M253.19 494.28h0M242.02 525.68h0M231.67 499.19h0M248.6 512.71h0M234.08 529.97h0M235.82 518.32h0M243.5 495.82h0M232.19 486.01h0M246.15 514.77h0M249.52 505.04h0M241.14 484.74h0M241.94 521.83h0M244.46 536.78h0M247.75 510.41h0M244.43 495.01h0M237.56 506.86h0" stroke="#AEAED2" stroke-width="4.3" stroke-linecap="round" fill="none"/>
<g stroke="#45A85C" stroke-width="0.9" stroke-opacity="0.8"><line x1="298.2" y1="496.8" x2="298.2" y2="451.1"/><line x1="298.2" y1="530" x2="298.2" y2="569.53"/><rect x="278.4" y="496.8" width="39.6" height="33.2" fill="none"/><line x1="278.4" y1="514.7" x2="318" y2="514.7" stroke-width="1.6"/></g>
<path d="M299.56 498.65h0M304.07 518.36h0M301.27 503.54h0M291.54 515.39h0M307.01 493.68h0M288.83 511.07h0M293.54 467.14h0M303.14 531.26h0M297.11 527.29h0M310.37 542.69h0M306.92 527.14h0M289.2 497.96h0M295.24 477.83h0M307.98 532.22h0M306.21 528.13h0M296.99 514.48h0M298 580.7h0M300.12 487.58h0M290.78 492.01h0M285.39 521.56h0M294.09 539.41h0M310.12 515.76h0M310.06 520.66h0M298.66 538.66h0M307.29 555.83h0M286.12 496.15h0M288.31 533.5h0M303.99 492.78h0M296.44 527.64h0M306.68 561.06h0M306.08 512.88h0M285.06 525.81h0M310.27 540.83h0M311.42 529.74h0M285.6 496.7h0M301.32 512.46h0M297.09 559.07h0M304.01 530.5h0M286.37 536.96h0M301.94 485.47h0M291.1 524.88h0M297.42 475.97h0M306.21 510.8h0M288.06 507.43h0M296.22 463.21h0M308.91 482.66h0M286.13 491.75h0M289.15 502.72h0M305.77 476.91h0M294.3 543.48h0M297.89 537.82h0M300 432.5h0M287.45 493.39h0M291.86 501.93h0M301.63 521.25h0M301.47 524.66h0M289.44 515.98h0M299.94 497.16h0M305.25 506.28h0M295.06 529.11h0M301.52 536.22h0M294.11 513.65h0M284.93 541.67h0M308.16 546.74h0M300.64 562.94h0M300.54 512.03h0M299.16 537.15h0M295.19 520.26h0M290.31 503.93h0M285.12 510.1h0M301.5 517.32h0M292.93 526.69h0M284.97 516.74h0M292.91 533.96h0M301.57 540.54h0M295.31 506.01h0M308.18 497.38h0M292.2 494.47h0M301.05 551.77h0M297.29 499.55h0M299.64 511.63h0M289.95 538.93h0M310.44 521.87h0M289.97 505.7h0M291.95 458.08h0M288.76 501.55h0M299.77 535.33h0M299.07 548.96h0M296.15 547.31h0M300.38 489.31h0M297.5 606h0M304.1 484.31h0M301.57 488.67h0M309.41 517.86h0M291.6 491.26h0M285.07 500.71h0M309.87 515.13h0M293.43 530.02h0M297.24 535.76h0M300 486.08h0M296.28 532.28h0M301.9 501.19h0M289.98 508.45h0M291.71 472.05h0M304.58 524.05h0M307.21 499.86h0M291.46 523.02h0M310.99 569.53h0M306.23 535.02h0M294.84 519.86h0M287.67 517.1h0M301.65 524.16h0M301.31 523.14h0M288.4 434.6h0M304.87 525.96h0M311.66 504.72h0M296.26 502.48h0M309.8 539.79h0M304.98 530.7h0M306.89 534.61h0M292.68 519.91h0M309.84 513.95h0M300.84 498.85h0M290.05 544.34h0M295.87 526.34h0M295.57 522.77h0M287.59 508h0M296.55 498.14h0M292.58 518.51h0M293.31 507.28h0M310.13 528.84h0M287.93 492.62h0M311.61 470.43h0M292.31 522.15h0M300.67 514.12h0M305.04 483.8h0M289.73 529.35h0M303.71 533.11h0M304.85 517.55h0M293.84 525.57h0M294.55 536.38h0M301.4 495.18h0M308.25 488.04h0M310.03 508.79h0M301.21 486.92h0M295.32 495.44h0M291.76 494.82h0M308.4 541.88h0M287.99 534.27h0M300.19 504.19h0M296.18 520.91h0M290.51 489.21h0M297.97 516.16h0M300.75 451.1h0M300.69 532.78h0M303.55 504.83h0M298.03 510.42h0M287.27 505.41h0M308.94 500.31h0M287.52 473.37h0M305.87 484.91h0M300.05 478.96h0M301.76 495.94h0M302.86 490.05h0M288.95 522.41h0M301.77 550.5h0M291.46 469.62h0M309.93 479.98h0M298.56 479.75h0M284.84 491h0M294.7 528.32h0M286.15 474.86h0M297.31 481.91h0M300.73 525.24h0M310.69 503.37h0M299.18 509.81h0M309.14 464.92h0M293.62 544.01h0M289.06 509.24h0M307.74 548.22h0M306.47 545.68h0M288.63 518.86h0M295.62 481.11h0M288.86 552.56h0M305.29 516.5h0M301.28 486.81h0M311.27 519.1h0M311.03 531.71h0M303.44 523.61h0M297.77 531.48h0M302.1 519.44h0M309.23 554.85h0M290.38 509.57h0M301.89 500.89h0M300.82 514.92h0M291.95 512.12h0M295.67 507.76h0M310.46 482.8h0M302.91 545.63h0M307.39 513.17h0M285.74 490.23h0M287.05 494.12h0M308.67 538.11h0M289.56 506.71h0" stroke="#45A85C" stroke-width="4.3" stroke-linecap="round" fill="none"/>
<path d="M71.8 432.6V427.6H128.4V432.6" fill="none" stroke="#333" stroke-width="0.8"/>
<g class="R" fill="#333"><text x="84.85" y="425.4" font-size="7.92" font-style="italic">p</text><text x="100.34" y="425.4" font-size="7.92" text-anchor="middle">0</text><text x="103.22" y="425.4" font-size="7.92" text-anchor="middle">.</text><text x="106.1" y="425.4" font-size="7.92" text-anchor="middle">0</text><text x="109.8" y="425.4" font-size="7.92" text-anchor="middle">3</text><text x="113.5" y="425.4" font-size="7.92" text-anchor="middle">9</text><path d="M90.97 422.77h5.18M90.97 424.33h5.18" stroke="#333" stroke-width="0.46" fill="none"/></g>
<path d="M71.8 423.8V418.8H185V423.8" fill="none" stroke="#333" stroke-width="0.8"/>
<g class="R" fill="#333"><text x="113.15" y="416.6" font-size="7.92" font-style="italic">p</text><text x="128.64" y="416.6" font-size="7.92" text-anchor="middle">0</text><text x="131.52" y="416.6" font-size="7.92" text-anchor="middle">.</text><text x="134.4" y="416.6" font-size="7.92" text-anchor="middle">0</text><text x="138.1" y="416.6" font-size="7.92" text-anchor="middle">3</text><text x="141.8" y="416.6" font-size="7.92" text-anchor="middle">9</text><path d="M119.27 413.97h5.18M119.27 415.53h5.18" stroke="#333" stroke-width="0.46" fill="none"/></g>
<path d="M71.8 415.4V410.4H241.6V415.4" fill="none" stroke="#333" stroke-width="0.8"/>
<g class="R" fill="#333"><text x="143.3" y="408.2" font-size="7.92" font-style="italic">p</text><text x="158.79" y="408.2" font-size="7.92" text-anchor="middle">0</text><text x="161.67" y="408.2" font-size="7.92" text-anchor="middle">.</text><text x="164.55" y="408.2" font-size="7.92" text-anchor="middle">6</text><text x="168.25" y="408.2" font-size="7.92" text-anchor="middle">4</text><path d="M149.42 405.57h5.18M149.42 407.13h5.18" stroke="#333" stroke-width="0.46" fill="none"/></g>
<path d="M71.8 407V402H298.2V407" fill="none" stroke="#333" stroke-width="0.8"/>
<g class="R" fill="#333"><text x="171.6" y="399.8" font-size="7.92" font-style="italic">p</text><text x="187.09" y="399.8" font-size="7.92" text-anchor="middle">0</text><text x="189.97" y="399.8" font-size="7.92" text-anchor="middle">.</text><text x="192.85" y="399.8" font-size="7.92" text-anchor="middle">1</text><text x="196.55" y="399.8" font-size="7.92" text-anchor="middle">4</text><path d="M177.72 397.17h5.18M177.72 398.73h5.18" stroke="#333" stroke-width="0.46" fill="none"/></g>
<line x1="385.5" y1="421.2" x2="385.5" y2="639.15" stroke="#333333" stroke-width="1.1"/>
<line x1="384.95" y1="638.6" x2="679.1" y2="638.6" stroke="#333333" stroke-width="1.1"/>
<line x1="382.3" y1="595.7" x2="385.5" y2="595.7" stroke="#333333" stroke-width="1"/>
<text class="S" x="380.7" y="599" font-size="9.2" text-anchor="end" stroke="#1a1a1a" stroke-width="0.22">0.74</text>
<line x1="382.3" y1="535.4" x2="385.5" y2="535.4" stroke="#333333" stroke-width="1"/>
<text class="S" x="380.7" y="538.7" font-size="9.2" text-anchor="end" stroke="#1a1a1a" stroke-width="0.22">0.76</text>
<line x1="382.3" y1="475.1" x2="385.5" y2="475.1" stroke="#333333" stroke-width="1"/>
<text class="S" x="380.7" y="478.4" font-size="9.2" text-anchor="end" stroke="#1a1a1a" stroke-width="0.22">0.78</text>
<line x1="419.4" y1="638.6" x2="419.4" y2="641.6" stroke="#333333" stroke-width="1"/>
<text class="S" x="419.4" y="650.3" font-size="9.2" text-anchor="middle" stroke="#1a1a1a" stroke-width="0.22">NR</text>
<line x1="475.9" y1="638.6" x2="475.9" y2="641.6" stroke="#333333" stroke-width="1"/>
<text class="S" x="475.9" y="650.3" font-size="9.2" text-anchor="middle" stroke="#1a1a1a" stroke-width="0.22">AMED</text>
<line x1="532.4" y1="638.6" x2="532.4" y2="641.6" stroke="#333333" stroke-width="1"/>
<text class="S" x="532.4" y="650.3" font-size="9.2" text-anchor="middle" stroke="#1a1a1a" stroke-width="0.22">AHEI</text>
<line x1="588.9" y1="638.6" x2="588.9" y2="641.6" stroke="#333333" stroke-width="1"/>
<text class="S" x="588.9" y="650.3" font-size="9.2" text-anchor="middle" stroke="#1a1a1a" stroke-width="0.22">DASH</text>
<line x1="645.4" y1="638.6" x2="645.4" y2="641.6" stroke="#333333" stroke-width="1"/>
<text class="S" x="645.4" y="650.3" font-size="9.2" text-anchor="middle" stroke="#1a1a1a" stroke-width="0.22">HEI</text>
<text class="S" x="367.7" y="414.2" font-size="12.5" font-weight="bold" fill="#000" stroke="#000" stroke-width="0.22">d</text>
<text class="S" x="347.9" y="529" font-size="9.2" text-anchor="middle" stroke="#1a1a1a" stroke-width="0.22" transform="rotate(-90 347.9 529)">AUROC</text>
<g stroke="#E8746A" stroke-width="0.9" stroke-opacity="0.8"><line x1="419.4" y1="524.5" x2="419.4" y2="465.5"/><line x1="419.4" y1="569.7" x2="419.4" y2="624.33"/><rect x="399.6" y="524.5" width="39.6" height="45.2" fill="none"/><line x1="399.6" y1="548.4" x2="439.2" y2="548.4" stroke-width="1.6"/></g>
<path d="M406.98 579.21h0M418.49 572.91h0M420.53 568.21h0M408.61 574.98h0M410.22 531.86h0M430.9 517.61h0M407.3 531.2h0M429.24 554.12h0M420.46 513.66h0M420.22 495.94h0M423.98 540.3h0M418.47 556.35h0M413.4 600.8h0M413.02 592.81h0M418.52 569.4h0M428.55 588.74h0M414.9 514.8h0M425.64 493.19h0M407.63 574.67h0M409.91 474.09h0M426.87 534.48h0M426.32 594.31h0M420.86 507.13h0M415.72 542.43h0M420.67 564.82h0M408.54 520.63h0M427.7 523.84h0M429.56 556.9h0M416.64 568.74h0M427.19 552.84h0M421.15 563.82h0M412.64 533.93h0M430.82 584.18h0M415.7 563.16h0M412.03 465.5h0M428.57 580.61h0M419.43 590.09h0M429.27 540.52h0M427.32 532.46h0M431.01 547.83h0M406.08 546.02h0M432.64 590.9h0M414.27 554.5h0M425.45 574.3h0M420.02 527.85h0M430.31 577.11h0M419.93 572.13h0M425.6 562.66h0M420.23 536h0M411.94 524.88h0M413.03 518.02h0M410.33 553.73h0M428.11 515.39h0M414.07 559.2h0M432.37 552.76h0M429.5 582.49h0M431.78 498.73h0M421.97 610.53h0M431.37 504.3h0M407.01 553.21h0M414.6 535h0M413.18 589.6h0M420 556.81h0M412.96 581.65h0M406.19 583.3h0M426.79 522.09h0M429.58 544.58h0M430.27 523.15h0M409.91 523.11h0M422.9 549.7h0M414.57 561.11h0M424.93 508.18h0M408.03 605.97h0M429.76 531.63h0M408.44 578.11h0M423.64 530.3h0M414.57 541.69h0M408.32 512.36h0M429.93 548.47h0M406.63 547.17h0M425.7 547.96h0M415.26 571.11h0M407.53 543.34h0M416.76 560.08h0M406.33 561.6h0M407.56 560.46h0M430.34 587.25h0M427.41 549.58h0M424.94 540.97h0M413.86 578.98h0M412.77 546.29h0M424.12 518.87h0M412.91 597.85h0M408.39 518.57h0M417.25 503.35h0M431.56 549.08h0M420.27 592.58h0M415.23 602.93h0M411.66 530.53h0M421.82 550.41h0M429.41 551.8h0M415.04 520.83h0M417.56 551.98h0M423.84 602.06h0M414.58 584.58h0M415.6 529.39h0M420.97 559.55h0M411.5 573.73h0M430.28 527.1h0M412.22 596.84h0M409.95 528.43h0M428 564.12h0M424.33 533.32h0M407.66 558.1h0M420.87 571.76h0M415.51 576.23h0M424.01 506.05h0M431.14 557.72h0M431.55 566.34h0M407.64 505.53h0M414.21 527.72h0M416.14 511.99h0M420.34 502.02h0M408.88 519.58h0M419.58 550.08h0M417.54 524.47h0M413.77 576.66h0M410.78 611.95h0M425.3 551.46h0M424.84 536.66h0M413.04 510.7h0M417.6 567.14h0M414.79 484.35h0M427.28 580.15h0M413.01 570.92h0M427.13 550.83h0M414.24 555.71h0M412.42 533.28h0M412.17 617.38h0M420.27 500.63h0M425.89 560.76h0M406.19 547.02h0M413.46 624.33h0M423.41 565.88h0M419.13 525.8h0M424.42 558.57h0M410.3 529.04h0M409.14 516.93h0M426.32 557.59h0M411.24 545.21h0M416 539.12h0M419.86 554.85h0M413.21 572.53h0M419.41 585.15h0M426.05 586.93h0M419.89 568.39h0M414.38 500.45h0M418.68 596.14h0M431.13 537.84h0M414.55 522.38h0M409.86 581.12h0M431.24 542.78h0M421.29 486.21h0M431.15 570.14h0M413.42 541.8h0M424.99 537.16h0M413.27 538.41h0M413.5 447.7h0M427.08 516.31h0M431.5 489.07h0M423.5 525.39h0M426.07 577.68h0M422.8 478.6h0M421.23 509.7h0M426.07 526.45h0M428.48 519.75h0M420.93 562.14h0M409.52 565.38h0M430.66 507.72h0M409.7 539.52h0M415.17 566.39h0M419.05 538.52h0M412.18 535.34h0M421.02 545.7h0M430.5 509.29h0M427.87 513.32h0M426.77 543.64h0M412.6 536.31h0M410.02 495.12h0M431.75 567.48h0M408.61 555.46h0M411.76 515.96h0M408.49 544.18h0M413.64 521.24h0M414.69 586.07h0M430.3 511.26h0M406.79 575.73h0M423.21 490.34h0M413.02 563.33h0M430.42 570.31h0M423.65 497.13h0" stroke="#E8746A" stroke-width="4.3" stroke-linecap="round" fill="none"/>
<g stroke="#377EB8" stroke-width="0.9" stroke-opacity="0.8"><line x1="475.9" y1="518" x2="475.9" y2="461.6"/><line x1="475.9" y1="566.1" x2="475.9" y2="615.5"/><rect x="456.1" y="518" width="39.6" height="48.1" fill="none"/><line x1="456.1" y1="545.2" x2="495.7" y2="545.2" stroke-width="1.6"/></g>
<path d="M472.15 548.26h0M470.51 576.39h0M476.49 591.95h0M472.08 509.2h0M466.49 588.52h0M479.63 533.22h0M466.6 492.23h0M483.7 522.14h0M480.07 556.32h0M482.64 516.41h0M464.47 605.03h0M477.47 547.09h0M463.49 523.26h0M463.37 511.46h0M483.21 560h0M479.28 529.25h0M485.64 504.33h0M477.8 571.97h0M483.33 555.21h0M481.14 562.54h0M478.86 512.89h0M482.47 555.62h0M465.62 563.29h0M482.64 508.12h0M464.17 586.59h0M466.82 534.4h0M475.95 594.84h0M478.43 570.28h0M482.41 520.35h0M475.12 568.86h0M464.7 544.57h0M476.7 570.87h0M482.76 538.74h0M463.64 569.66h0M479.29 547.23h0M478.03 543.94h0M463.12 571.36h0M475.53 581.7h0M471.83 530.11h0M471.93 573.67h0M480.22 578.31h0M467.9 524.57h0M469.77 567.06h0M479.75 585.78h0M481.4 552.54h0M477.47 583.66h0M483.55 542.16h0M463.81 490.55h0M467.52 520.47h0M479.78 529.03h0M466.42 535.08h0M467.59 500.66h0M474.88 560.92h0M467.94 497.47h0M475.31 517.89h0M476.93 537.95h0M482.02 513.57h0M488.87 493.07h0M473.54 557.77h0M471.96 593.41h0M465.38 514.38h0M463.26 568.15h0M462.98 564.71h0M471.34 567.4h0M468.18 505.57h0M471.55 551.17h0M485.27 541.88h0M489.36 485.97h0M464.75 566.23h0M463.71 582.64h0M475.83 557.38h0M485.25 498.73h0M489.27 525.68h0M472.16 510.03h0M485.52 550.29h0M473.31 502.11h0M476.46 496.39h0M466.43 569.81h0M486.83 565.17h0M483.69 577.2h0M467.28 550.03h0M481.97 560.49h0M468.58 583.16h0M462.63 528.3h0M484.76 510.48h0M462.49 561.69h0M470.25 522.66h0M467.99 532.64h0M478.14 571.65h0M474.09 473.74h0M468.11 532.23h0M487.55 536.86h0M477.94 572.37h0M481.73 549.7h0M470.7 549.13h0M469.88 515.81h0M484.46 537.37h0M473.56 551.56h0M463.29 484.1h0M484.64 574.01h0M479.52 568.55h0M475.51 551.02h0M482.73 553.88h0M473.63 507.35h0M471.57 482.58h0M478.56 558.49h0M476.15 526.61h0M487.48 543.48h0M470.9 574.42h0M468.48 562.09h0M467.4 545.85h0M481.05 549.05h0M465.69 554.77h0M484.76 559.45h0M465.76 502.59h0M463.98 515.67h0M482.33 508.2h0M479.1 546.46h0M487.24 488.98h0M471.46 564.44h0M465.02 461.6h0M480.88 531.44h0M473.01 518.36h0M465.31 553.73h0M481.22 530.72h0M487.94 523.56h0M485.9 547.8h0M473.3 609.84h0M468.67 579.21h0M481.16 539.23h0M485.18 538.09h0M463.69 536.24h0M481.15 534.59h0M480.53 521.16h0M489.36 551.94h0M464.22 540.08h0M481.03 478.31h0M485.36 512.2h0M474.46 558.99h0M480.63 574.95h0M475.87 509.81h0M478.44 527.63h0M485.85 554.33h0M473.12 553.19h0M478.33 488.22h0M465.65 513.01h0M483.53 579.77h0M473.66 577.63h0M485.78 548.59h0M466.5 444.8h0M467.55 572.91h0M477.2 540.92h0M477.76 597.85h0M472.36 511.36h0M477.53 524.74h0M475.3 527.35h0M479.33 545.26h0M483.71 563.08h0M481.24 591.65h0M463.16 533.55h0M475.89 541.32h0M477.18 530.96h0M487.48 499.73h0M478.57 519.21h0M479.36 561.25h0M472.49 503.62h0M470.21 552.93h0M487.4 558.29h0M463.96 580.29h0M465.87 576.02h0M485.85 506.18h0M478 566.78h0M479.23 517.28h0M483.72 567.65h0M477.39 588.04h0M465.43 514.47h0M471.61 557.08h0M486.53 540.54h0M488.53 472.92h0M462.51 506.94h0M466.99 501.09h0M475.51 496.02h0M463.85 615.5h0M464.45 563.8h0M464.48 517.03h0M470.67 580.61h0M480.08 589.72h0M486.81 545.18h0M474.15 526.09h0M478.01 556.18h0M484.3 565.78h0M480.8 542.98h0M472.68 599.82h0M465.79 546.13h0M462.71 535.99h0M481.47 504.53h0M470.58 519.47h0M463.61 494.63h0M468.12 515.27h0M471.69 575.35h0M463.56 584.99h0" stroke="#377EB8" stroke-width="4.3" stroke-linecap="round" fill="none"/>
<g stroke="#F0992C" stroke-width="0.9" stroke-opacity="0.8"><line x1="532.4" y1="515.5" x2="532.4" y2="456.15"/><line x1="532.4" y1="563.9" x2="532.4" y2="623.72"/><rect x="512.6" y="515.5" width="39.6" height="48.4" fill="none"/><line x1="512.6" y1="540.6" x2="552.2" y2="540.6" stroke-width="1.6"/></g>
<path d="M526.29 499.98h0M520.5 588.18h0M536 506.87h0M542.8 509.44h0M519.93 512.92h0M540.23 505.93h0M520.46 541.49h0M545.02 567.32h0M530.27 578.01h0M525.7 557.95h0M532.62 575.49h0M539.06 589.83h0M519.1 513.54h0M522.25 514.25h0M545.01 519.03h0M541.31 535.47h0M528.03 607.64h0M540.79 565.15h0M528.49 582.06h0M539.27 539.82h0M536.96 545.09h0M542.02 590.73h0M543.74 599.1h0M523.69 522.05h0M533.78 581.82h0M520.88 559.03h0M535.35 534.37h0M525.43 496.19h0M539.25 531.41h0M531.38 557.49h0M537.18 486.86h0M539.98 563.74h0M543.26 563.16h0M537.86 511.92h0M541.34 574.07h0M539.04 556.53h0M544.57 565.44h0M526.68 568.49h0M530.7 562.15h0M530.35 511.44h0M545.08 551.38h0M537.96 546.63h0M535.76 475.7h0M527.14 540.27h0M528.81 529.76h0M522.6 523.07h0M543.05 554.99h0M537.08 537.41h0M525.28 526.84h0M525.71 569.14h0M529.2 490.93h0M521.55 597.09h0M529.41 612h0M521.24 566.39h0M534.26 536.74h0M541.8 503.83h0M531.74 533.67h0M543.76 536.09h0M529.34 542.65h0M538.88 564.17h0M545.74 577.96h0M544.95 602.77h0M534.48 565.95h0M525.18 544.47h0M535.77 473.26h0M545.84 614.85h0M545.3 542.3h0M537.94 548.47h0M544.61 547.72h0M531.74 508.67h0M534.04 529.22h0M542.96 534.71h0M536.8 514.72h0M533.34 513.62h0M541.96 567.06h0M539.19 553.47h0M531.8 493.93h0M533.57 520.7h0M544.83 531.8h0M523.55 548.27h0M539.74 519.51h0M533.88 543.31h0M535.48 480.63h0M538.78 572.25h0M541.03 507.96h0M541.26 584.96h0M526.48 547.36h0M527.35 551.14h0M538.22 540.7h0M544.2 599.86h0M541.4 510.54h0M533.22 559.61h0M544.42 501.88h0M537.64 537.99h0M526.68 560.06h0M532.87 518.48h0M537.59 555.75h0M525.28 546.84h0M537.06 517.13h0M521.26 569.52h0M524.58 593.34h0M536.01 505.02h0M520.61 550.12h0M526.46 560.44h0M523.52 586.1h0M526.01 515.63h0M531.96 532.5h0M525.07 498.5h0M535.29 484.46h0M519.99 489.65h0M532.15 506.07h0M544.32 523.97h0M523.97 556.86h0M534.95 587.25h0M538.93 574.75h0M523.86 561.38h0M522.76 553.33h0M529.49 479.25h0M540.7 456.15h0M533.91 552.63h0M525.02 583.88h0M522.89 550.39h0M541.19 527.34h0M540.7 543.69h0M537.66 570.19h0M528.67 502.72h0M521.81 530.77h0M544.68 527.86h0M525.83 526.69h0M536.07 576.69h0M525.41 516.59h0M535.67 501.03h0M533.49 524.65h0M521.76 493.42h0M542.78 554.64h0M519.45 549.61h0M534.81 554.29h0M520.55 517.23h0M542.21 504.37h0M533.61 532.76h0M542.99 520.53h0M544.85 482.94h0M533.61 537.12h0M534.95 561.18h0M530.06 539.17h0M525.74 541.1h0M541.22 499.75h0M526.51 530.41h0M536.42 591.98h0M533.41 533.49h0M525.54 535.22h0M529.59 570.94h0M531.46 545.76h0M529.1 572.98h0M532.46 492.73h0M537.88 522.36h0M532.27 517.93h0M534.6 562.31h0M528.58 495.79h0M535.89 528.25h0M534.28 512.22h0M534.37 543.16h0M539.07 539.65h0M543.28 580.49h0M537.96 571.46h0M519.61 545.82h0M540.88 469.74h0M543.92 486.43h0M527.12 568.26h0M545.38 529.49h0M523.72 579.79h0M532.05 558.27h0M541.59 578.8h0M535.81 510.98h0M537 434.5h0M528.61 488.56h0M539.01 551.73h0M534.89 549.04h0M531.85 462.07h0M532.53 525.7h0M536.42 507.56h0M521.64 571.88h0M536.92 503.27h0M531.51 573.4h0M524.46 583.03h0M535.11 525.81h0M533.47 509.73h0M541.63 538.59h0M534.03 544.92h0M545 552.39h0M519.28 525.08h0M542.93 497.25h0M519.17 497.74h0M534.8 515.48h0M540.62 594.51h0M524.87 576.4h0M527.83 623.72h0M542.22 556.23h0M537.33 523.6h0M520.24 564.8h0M545.2 521.35h0" stroke="#F0992C" stroke-width="4.3" stroke-linecap="round" fill="none"/>
<g stroke="#AEAED2" stroke-width="0.9" stroke-opacity="0.8"><line x1="588.9" y1="518.1" x2="588.9" y2="459.7"/><line x1="588.9" y1="564.8" x2="588.9" y2="618.7"/><rect x="569.1" y="518.1" width="39.6" height="46.7" fill="none"/><line x1="569.1" y1="543.5" x2="608.7" y2="543.5" stroke-width="1.6"/></g>
<path d="M598.54 569.24h0M578.63 543.25h0M592.37 562.95h0M583.76 560.87h0M601.1 581.81h0M597.27 528.7h0M592.22 514.12h0M577.78 508.14h0M594.52 552.95h0M596.41 517.77h0M598.46 535.23h0M601.24 557.58h0M577.61 512.94h0M593.36 534.01h0M586.65 481.88h0M600.55 518.57h0M580.34 558.35h0M587.23 538.6h0M591.94 560.23h0M595.53 519.24h0M592.67 521.76h0M587.01 517.57h0M600.11 515.16h0M589.35 539.9h0M580.84 567.13h0M593.79 541.7h0M586.7 497.22h0M586.71 487.78h0M577.27 575.08h0M584.89 495.38h0M597.52 542.96h0M576.17 545.32h0M581.2 571.2h0M584.31 472.53h0M601.09 566.1h0M577.6 532.42h0M589.16 576.1h0M598.53 553.97h0M587.92 552.64h0M585.77 538.11h0M578.14 586.67h0M589 441h0M580.61 515.84h0M598.37 525.36h0M583.09 532.86h0M592.76 570.47h0M579.29 618.7h0M596.05 527.32h0M593.59 574.52h0M592.01 505.76h0M584.21 512.8h0M602.17 490.43h0M602.3 584.13h0M580.91 544.52h0M593.9 524.26h0M576.69 572.96h0M591.91 509.27h0M600.45 520.22h0M580.95 572.14h0M596.96 502.51h0M599.95 568.57h0M582.61 543.65h0M587.14 530.6h0M577.01 511.93h0M585.16 528.46h0M578.08 563.48h0M598.59 569.06h0M578.85 556.69h0M594.48 508.74h0M592.97 561.34h0M581.48 542.2h0M577.76 533.77h0M600.06 552.05h0M595.22 526.36h0M579.55 506.54h0M599.06 581.19h0M596.68 496.46h0M579.99 546.15h0M577.1 544.18h0M591.94 567.44h0M576.63 549.43h0M580.88 537.17h0M600.02 561.52h0M593.62 492.89h0M598.21 551.11h0M586.2 509.94h0M601.18 579.54h0M595.67 511.43h0M594.18 550.02h0M595.71 494.31h0M577.53 551.61h0M593.34 548.32h0M585.14 545.64h0M593.06 539.58h0M576.62 547.69h0M582.46 522.84h0M581.86 573.34h0M587.1 522.58h0M583.66 553.48h0M579.18 547.94h0M578.89 540.8h0M597.78 566.82h0M584.99 519.76h0M598.79 611.07h0M587.46 547.38h0M578.66 570.02h0M592.98 544.91h0M579.83 498.52h0M600.62 590.23h0M585.68 540.34h0M593.43 554.52h0M580.89 550.44h0M589.52 557.9h0M593.64 534.56h0M578.85 559.96h0M588.02 529.26h0M595.48 564.27h0M594.65 602.02h0M582.67 559.02h0M598.58 562.54h0M576.03 531.72h0M590.71 557.02h0M599.04 530.28h0M595.02 517h0M594.01 524.48h0M593.93 588.32h0M580.33 469.91h0M581.85 503.01h0M581.96 541.36h0M600.23 485.25h0M583.14 510.38h0M581.04 514.69h0M581.82 582.65h0M602.35 550.73h0M576.61 583.75h0M596.06 565.51h0M591.97 529.75h0M595.91 537.6h0M579.54 580.1h0M578.61 554.18h0M598.26 605.2h0M583.41 504.85h0M586.88 520.44h0M587.84 501.43h0M589.45 506.89h0M600.88 500.31h0M598.01 576.72h0M595.93 516.58h0M576.57 526.84h0M591.87 476.86h0M592.72 507.45h0M595.16 499.96h0M589.15 573.71h0M600 577.77h0M594.83 515.39h0M585.53 584.86h0M588.78 549.04h0M589.76 555.19h0M601.23 564.76h0M590.97 556.39h0M588.56 503.74h0M583.52 535.57h0M590.51 504.48h0M575.42 459.7h0M591.08 578.66h0M588.99 571.91h0M578.36 536.82h0M578.01 523.53h0M592.78 594.56h0M591.01 596.98h0M576.44 491.19h0M595.36 513.42h0M580.4 510.97h0M582.27 565.09h0M590.75 555.98h0M575.72 549.59h0M600.4 562.27h0M577.49 521.41h0M601.22 568.15h0M598.71 484.12h0M589.22 555.34h0M577.96 575.89h0M600.11 488.93h0M589.2 527.66h0M600.62 547.04h0M601.34 531.06h0M598.89 578.22h0M584.41 498.13h0M583.01 565.72h0M586.3 586.58h0M582.75 536.24h0M588.21 559.26h0M600.39 539.05h0M591.4 524.89h0M583.69 599.19h0M585.74 589.13h0M591.46 570.97h0M578.44 591.68h0M581.98 533.27h0M593.54 546.37h0M601.27 594.2h0" stroke="#AEAED2" stroke-width="4.3" stroke-linecap="round" fill="none"/>
<g stroke="#45A85C" stroke-width="0.9" stroke-opacity="0.8"><line x1="645.4" y1="511.3" x2="645.4" y2="464.8"/><line x1="645.4" y1="559" x2="645.4" y2="610.6"/><rect x="625.6" y="511.3" width="39.6" height="47.7" fill="none"/><line x1="625.6" y1="540.6" x2="665.2" y2="540.6" stroke-width="1.6"/></g>
<path d="M640.94 505.6h0M642.01 527.74h0M651.72 550.04h0M651.83 482.63h0M637.91 514.29h0M639.33 497.07h0M633.04 563.15h0M644.03 521.69h0M635.01 560.67h0M648.86 513.56h0M639.82 538.74h0M653.33 534.1h0M639.96 564.88h0M656.66 560.49h0M658.28 551.6h0M641.95 515.3h0M634.22 595.04h0M647.55 508.22h0M646.8 541.13h0M635.22 585.59h0M651.87 520.73h0M657.91 506.23h0M635.9 529.8h0M648.08 574.52h0M637.98 511.64h0M641.84 579.13h0M655.71 571.73h0M658.56 538.13h0M651.57 501.1h0M636.15 525.63h0M641.39 502.72h0M658.7 502.39h0M636.48 523.28h0M650.86 535.81h0M645.67 488.78h0M647.03 558.19h0M648.53 561.96h0M648.22 561.28h0M647.49 545.02h0M649.67 532.41h0M632.67 559.58h0M656.82 565.96h0M647.52 580.53h0M651.37 599.1h0M653.86 575.73h0M657.46 564.03h0M638.6 578.79h0M651.13 558.98h0M656.96 551.15h0M637.42 518.38h0M647.18 510.89h0M643 565.43h0M644.25 546.46h0M634.23 491.07h0M654.41 499.29h0M648.2 566.62h0M637.34 551.92h0M648.7 431h0M637.36 531.93h0M645.88 564.28h0M655.71 508.85h0M642.89 547.61h0M633.36 496.05h0M655.62 573.31h0M637.59 484.65h0M646.49 480.44h0M647.68 533.96h0M634.78 571.14h0M643.14 590.56h0M632.2 548.66h0M650.4 547.13h0M656.98 490.18h0M633.11 552.73h0M643.63 539.23h0M655.07 507.19h0M640.01 548.1h0M632.97 537.39h0M652.5 543.94h0M650.32 567.91h0M634.24 464.8h0M649 566.08h0M654.83 547.43h0M658.58 552.52h0M647.2 478.42h0M654.46 515.06h0M654.9 576.68h0M638.11 561.62h0M637.17 494.18h0M657.92 524.37h0M650.4 529.52h0M639.89 536.96h0M640.67 516.69h0M635.25 554.85h0M633.51 510.01h0M639.45 606.27h0M654.13 503.37h0M658.2 541.99h0M639.36 528.3h0M643.31 557.96h0M652.11 560.13h0M658.06 580.98h0M639.83 493.84h0M638.76 543.58h0M647.5 503.82h0M657.83 530.75h0M652.12 573.84h0M658.74 545.51h0M652.43 541.44h0M651.76 517.65h0M632.57 510.31h0M649.12 518.58h0M637.58 554.1h0M645.69 507.12h0M639.31 523.12h0M633.87 521.42h0M653.15 572.29h0M658.46 543.07h0M639.06 496.75h0M644.08 513.11h0M633.19 530.19h0M652.92 499.82h0M656.44 534.88h0M653.2 525.15h0M633.27 544.22h0M635.78 542.9h0M656.19 562.45h0M647.83 505.25h0M638.97 531.54h0M632.86 519.38h0M647.85 557.65h0M657.11 527.19h0M636.15 549.79h0M637.19 507.7h0M644.31 568.93h0M652.08 546.1h0M649.41 567.11h0M658.06 516.49h0M650.3 471.86h0M643.44 549.33h0M647.05 575.36h0M644.98 541.87h0M638.63 475.72h0M655.19 568.33h0M651.52 539.94h0M639.83 570.46h0M658.89 610.6h0M658.51 522.11h0M641.26 500.42h0M656.15 584.09h0M652.57 528.71h0M643.48 554.42h0M648.95 512.3h0M646.43 492.76h0M658.74 504.44h0M654.79 540.63h0M653.77 502.05h0M647.02 577.56h0M636.43 486.47h0M648.47 542.63h0M642.53 540.53h0M654.02 555.94h0M656.47 586.07h0M655.97 497.8h0M649.21 509.81h0M644.43 546.65h0M644.76 505.02h0M657.8 492.12h0M642.89 501.69h0M654.99 536.54h0M650.78 556.55h0M651.73 487.44h0M647.26 553.52h0M645.48 569.89h0M658.59 520.01h0M642.3 526.66h0M632.51 563.2h0M636.98 498.7h0M646.56 549.12h0M643.77 550.69h0M643.99 587.3h0M656.54 511h0M657.99 548.41h0M639.79 508.52h0M643.75 582.23h0M645.85 544.51h0M636.72 554.96h0M651.99 555.58h0M632.09 509.38h0M647.01 535.49h0M652.55 569.62h0M647.24 593.29h0M657.43 557.04h0M651.04 533.18h0M650.47 556.48h0M637.53 559.36h0M634.38 506.43h0M651.23 550.96h0M639.88 524.77h0M638.88 545.24h0M656.24 553.29h0M652.69 495.17h0" stroke="#45A85C" stroke-width="4.3" stroke-linecap="round" fill="none"/>
<path d="M419.4 431.5V426.5H475.9V431.5" fill="none" stroke="#333" stroke-width="0.8"/>
<g class="R" fill="#333"><text x="424.57" y="424.3" font-size="7.92" font-style="italic">p</text><text x="440.06" y="424.3" font-size="7.92" text-anchor="middle">6</text><text x="442.94" y="424.3" font-size="7.92" text-anchor="middle">.</text><text x="445.82" y="424.3" font-size="7.92" text-anchor="middle">4</text><text x="458.56" y="424.3" font-size="7.92" text-anchor="middle">1</text><text x="462.26" y="424.3" font-size="7.92" text-anchor="middle">0</text><text x="469.44" y="421.64" font-size="5.54" text-anchor="middle">5</text><path d="M430.69 421.67h5.18M430.69 423.23h5.18" stroke="#333" stroke-width="0.46" fill="none"/><path d="M450.71 420.97l2.96 2.96M450.71 423.93l2.96 -2.96" stroke="#333" stroke-width="0.41" fill="none"/><path d="M464.31 420.34h3.63" stroke="#333" stroke-width="0.32" fill="none"/></g>
<path d="M419.4 423.1V418.1H532.4V423.1" fill="none" stroke="#333" stroke-width="0.8"/>
<g class="R" fill="#333"><text x="451.52" y="415.9" font-size="7.92" font-style="italic">p</text><text x="467.01" y="415.9" font-size="7.92" text-anchor="middle">1</text><text x="469.89" y="415.9" font-size="7.92" text-anchor="middle">.</text><text x="472.77" y="415.9" font-size="7.92" text-anchor="middle">3</text><text x="485.52" y="415.9" font-size="7.92" text-anchor="middle">1</text><text x="489.22" y="415.9" font-size="7.92" text-anchor="middle">0</text><text x="496.39" y="413.24" font-size="5.54" text-anchor="middle">1</text><text x="498.98" y="413.24" font-size="5.54" text-anchor="middle">2</text><path d="M457.64 413.27h5.18M457.64 414.83h5.18" stroke="#333" stroke-width="0.46" fill="none"/><path d="M477.66 412.57l2.96 2.96M477.66 415.53l2.96 -2.96" stroke="#333" stroke-width="0.41" fill="none"/><path d="M491.27 411.94h3.63" stroke="#333" stroke-width="0.32" fill="none"/></g>
<path d="M419.4 414.3V409.3H588.9V414.3" fill="none" stroke="#333" stroke-width="0.8"/>
<g class="R" fill="#333"><text x="481.07" y="407.1" font-size="7.92" font-style="italic">p</text><text x="496.56" y="407.1" font-size="7.92" text-anchor="middle">2</text><text x="499.44" y="407.1" font-size="7.92" text-anchor="middle">.</text><text x="502.32" y="407.1" font-size="7.92" text-anchor="middle">4</text><text x="515.06" y="407.1" font-size="7.92" text-anchor="middle">1</text><text x="518.76" y="407.1" font-size="7.92" text-anchor="middle">0</text><text x="525.94" y="404.44" font-size="5.54" text-anchor="middle">4</text><path d="M487.19 404.47h5.18M487.19 406.03h5.18" stroke="#333" stroke-width="0.46" fill="none"/><path d="M507.21 403.77l2.96 2.96M507.21 406.73l2.96 -2.96" stroke="#333" stroke-width="0.41" fill="none"/><path d="M520.81 403.14h3.63" stroke="#333" stroke-width="0.32" fill="none"/></g>
<path d="M419.4 406V401H645.4V406" fill="none" stroke="#333" stroke-width="0.8"/>
<g class="R" fill="#333"><text x="508.02" y="398.8" font-size="7.92" font-style="italic">p</text><text x="523.51" y="398.8" font-size="7.92" text-anchor="middle">6</text><text x="526.39" y="398.8" font-size="7.92" text-anchor="middle">.</text><text x="529.27" y="398.8" font-size="7.92" text-anchor="middle">1</text><text x="542.02" y="398.8" font-size="7.92" text-anchor="middle">1</text><text x="545.72" y="398.8" font-size="7.92" text-anchor="middle">0</text><text x="552.89" y="396.14" font-size="5.54" text-anchor="middle">1</text><text x="555.48" y="396.14" font-size="5.54" text-anchor="middle">7</text><path d="M514.14 396.17h5.18M514.14 397.73h5.18" stroke="#333" stroke-width="0.46" fill="none"/><path d="M534.16 395.47l2.96 2.96M534.16 398.43l2.96 -2.96" stroke="#333" stroke-width="0.41" fill="none"/><path d="M547.77 394.84h3.63" stroke="#333" stroke-width="0.32" fill="none"/></g>
</svg></body></html>
